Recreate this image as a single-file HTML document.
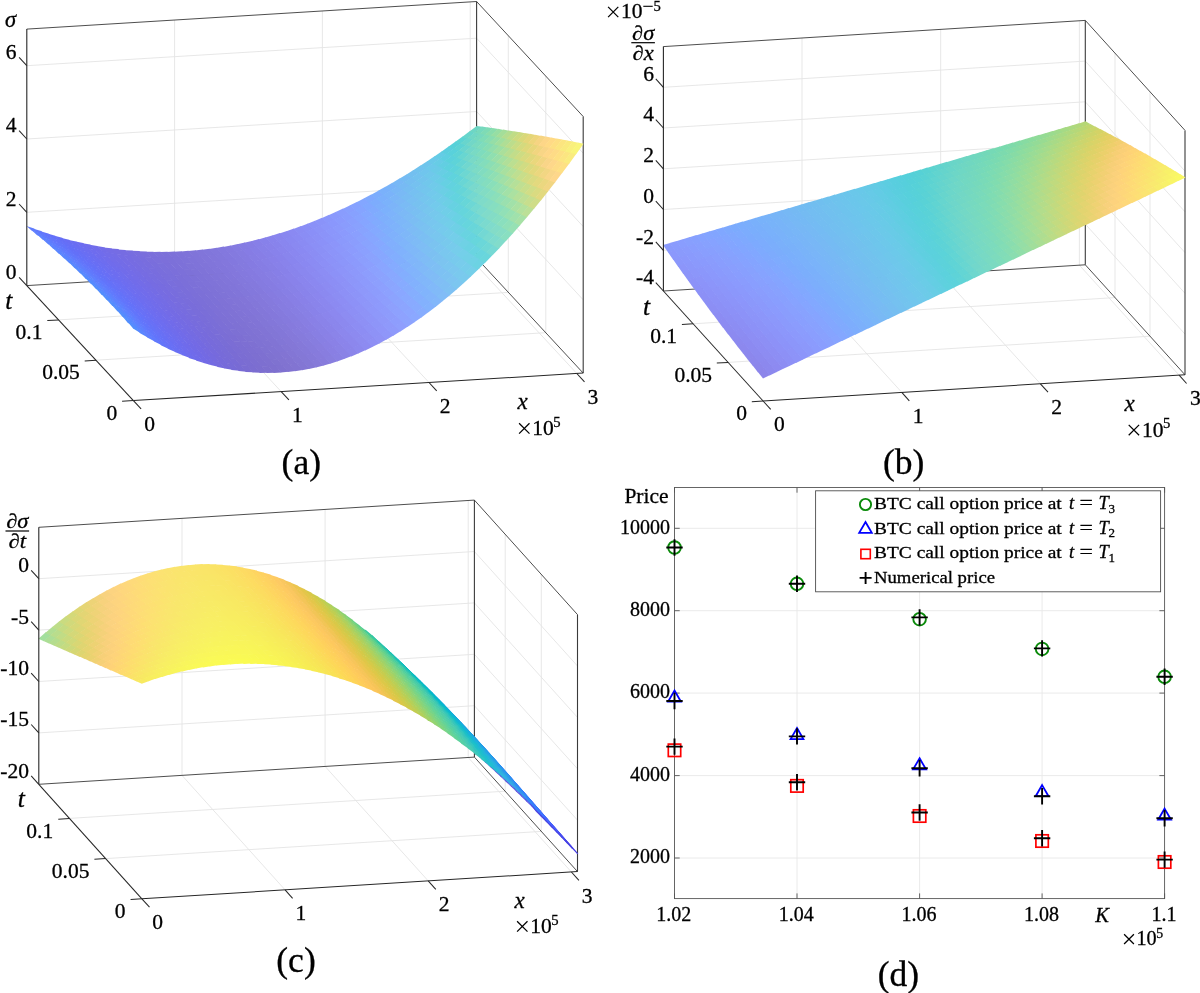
<!DOCTYPE html>
<html lang="en"><head><meta charset="utf-8"><title>Figure</title>
<style>html,body{margin:0;padding:0;background:#fff}svg{display:block;will-change:transform}text{font-family:"Liberation Serif",serif;fill:#000}</style></head><body>
<svg width="1200" height="993" viewBox="0 0 1200 993">
<rect width="1200" height="993" fill="#fff"/>
<g fill="none">
<path d="M281.2 391.6L174.6 276.6" stroke="#e4e4e4" stroke-width="0.9"/>
<path d="M174.6 276.6L174.6 20" stroke="#e4e4e4" stroke-width="0.9"/>
<path d="M429 382.5L322.4 267.5" stroke="#e4e4e4" stroke-width="0.9"/>
<path d="M322.4 267.5L322.4 11" stroke="#e4e4e4" stroke-width="0.9"/>
<path d="M576.8 373.5L470.2 258.5" stroke="#e4e4e4" stroke-width="0.9"/>
<path d="M470.2 258.5L470.2 1.9" stroke="#e4e4e4" stroke-width="0.9"/>
<path d="M96 360.2L545.8 332.7" stroke="#e4e4e4" stroke-width="0.9"/>
<path d="M545.8 332.7L545.8 76.2" stroke="#e4e4e4" stroke-width="0.9"/>
<path d="M58.6 319.9L508.3 292.4" stroke="#e4e4e4" stroke-width="0.9"/>
<path d="M508.3 292.4L508.3 35.8" stroke="#e4e4e4" stroke-width="0.9"/>
<path d="M26.8 212.3L476.6 184.8" stroke="#e4e4e4" stroke-width="0.9"/>
<path d="M476.6 184.8L583.2 299.8" stroke="#e4e4e4" stroke-width="0.9"/>
<path d="M26.8 139L476.6 111.5" stroke="#e4e4e4" stroke-width="0.9"/>
<path d="M476.6 111.5L583.2 226.5" stroke="#e4e4e4" stroke-width="0.9"/>
<path d="M26.8 65.7L476.6 38.2" stroke="#e4e4e4" stroke-width="0.9"/>
<path d="M476.6 38.2L583.2 153.2" stroke="#e4e4e4" stroke-width="0.9"/>
<path d="M26.8 285.6L476.6 258.1" stroke="#3a3a3a" stroke-width="0.9"/>
<path d="M476.6 258.1L583.2 373.1" stroke="#3a3a3a" stroke-width="0.9"/>
<path d="M26.8 29.1L476.6 1.5" stroke="#3a3a3a" stroke-width="0.9"/>
<path d="M476.6 1.5L583.2 116.5" stroke="#3a3a3a" stroke-width="0.9"/>
<path d="M476.6 258.1L476.6 1.5" stroke="#3a3a3a" stroke-width="1.1"/>
<path d="M583.2 373.1L583.2 116.5" stroke="#3a3a3a" stroke-width="1.1"/>
</g>
<g stroke="none">
<path d="M31.8 230.8L39.5 233.6L34.1 228.6L26.4 226z" fill="#607dfd"/>
<path d="M38.8 233.7L46.6 236.2L41.2 231.1L33.4 228.7z" fill="#6178fc"/>
<path d="M45.9 236.3L53.6 238.7L48.2 233.5L40.5 231.2z" fill="#6274fb"/>
<path d="M52.9 238.8L60.6 241L55.2 235.7L47.5 233.6z" fill="#6370f9"/>
<path d="M60 241.2L67.7 243.2L62.2 237.8L54.5 235.8z" fill="#646ef6"/>
<path d="M67 243.4L74.7 245.3L69.2 239.7L61.5 237.9z" fill="#676df4"/>
<path d="M74.1 245.4L81.7 247.2L76.2 241.5L68.6 239.9z" fill="#6a6df2"/>
<path d="M81.1 247.3L88.7 248.9L83.2 243.1L75.6 241.6z" fill="#6c6cf0"/>
<path d="M88.2 249.1L95.8 250.5L90.2 244.6L82.6 243.3z" fill="#6e6ced"/>
<path d="M95.2 250.7L102.8 251.9L97.3 245.9L89.7 244.8z" fill="#706ceb"/>
<path d="M102.2 252.1L109.8 253.2L104.3 247.2L96.7 246.1z" fill="#726ce9"/>
<path d="M109.3 253.4L116.9 254.3L111.3 248.2L103.7 247.4z" fill="#746ce6"/>
<path d="M116.3 254.5L123.9 255.3L118.3 249.1L110.7 248.4z" fill="#756ce4"/>
<path d="M123.3 255.5L130.9 256.2L125.3 249.9L117.8 249.4z" fill="#766ce2"/>
<path d="M130.4 256.4L137.9 256.9L132.4 250.6L124.8 250.2z" fill="#776de0"/>
<path d="M137.4 257.1L145 257.4L139.4 251.1L131.8 250.8z" fill="#796ede"/>
<path d="M144.4 257.6L152 257.8L146.4 251.5L138.8 251.3z" fill="#7a6edc"/>
<path d="M151.5 258.1L159 258.1L153.4 251.7L145.9 251.7z" fill="#7b6fdb"/>
<path d="M158.5 258.3L166.1 258.2L160.4 251.8L152.9 251.9z" fill="#7c70da"/>
<path d="M165.5 258.4L173.1 258.2L167.5 251.7L159.9 252z" fill="#7c70d9"/>
<path d="M172.6 258.4L180.1 258L174.5 251.6L166.9 252z" fill="#7d71d9"/>
<path d="M179.6 258.3L187.1 257.7L181.5 251.3L174 251.8z" fill="#7e72d9"/>
<path d="M186.6 258L194.2 257.3L188.5 250.8L181 251.5z" fill="#7f73d9"/>
<path d="M193.6 257.5L201.2 256.7L195.6 250.2L188 251.1z" fill="#8074d9"/>
<path d="M200.7 256.9L208.2 256L202.6 249.5L195 250.5z" fill="#8175da"/>
<path d="M207.7 256.2L215.3 255.1L209.6 248.7L202.1 249.8z" fill="#8176db"/>
<path d="M214.7 255.4L222.3 254.1L216.6 247.7L209.1 249z" fill="#8277dc"/>
<path d="M221.8 254.4L229.3 253L223.7 246.6L216.1 248z" fill="#8378de"/>
<path d="M228.8 253.2L236.3 251.7L230.7 245.4L223.1 246.9z" fill="#8479df"/>
<path d="M235.8 252L243.4 250.3L237.7 244L230.2 245.7z" fill="#857be1"/>
<path d="M242.8 250.6L250.4 248.7L244.8 242.5L237.2 244.3z" fill="#857ce3"/>
<path d="M249.9 249L257.4 247.1L251.8 240.9L244.2 242.8z" fill="#867de5"/>
<path d="M256.9 247.4L264.5 245.2L258.8 239.1L251.2 241.2z" fill="#877fe8"/>
<path d="M263.9 245.5L271.5 243.3L265.8 237.3L258.3 239.5z" fill="#8781ea"/>
<path d="M271 243.6L278.5 241.2L272.9 235.3L265.3 237.6z" fill="#8883ec"/>
<path d="M278 241.5L285.6 239L279.9 233.1L272.3 235.6z" fill="#8985ee"/>
<path d="M285 239.3L292.6 236.7L286.9 230.9L279.4 233.5z" fill="#8987f0"/>
<path d="M292 237L299.6 234.2L293.9 228.5L286.4 231.2z" fill="#8a89f2"/>
<path d="M299.1 234.5L306.6 231.6L301 226L293.4 228.9z" fill="#8a8cf4"/>
<path d="M306.1 232L313.7 228.9L308 223.4L300.4 226.4z" fill="#8a8ef6"/>
<path d="M313.1 229.2L320.7 226L315 220.7L307.5 223.8z" fill="#8a91f8"/>
<path d="M320.2 226.4L327.7 223.1L322 217.8L314.5 221z" fill="#8a93f9"/>
<path d="M327.2 223.4L334.8 219.9L329.1 214.8L321.5 218.2z" fill="#8a96fb"/>
<path d="M334.2 220.3L341.8 216.7L336.1 211.7L328.5 215.2z" fill="#8a99fc"/>
<path d="M341.2 217.1L348.8 213.4L343.1 208.5L335.6 212.1z" fill="#899cfd"/>
<path d="M348.3 213.8L355.8 209.9L350.2 205.2L342.6 208.9z" fill="#889ffe"/>
<path d="M355.3 210.3L362.9 206.3L357.2 201.7L349.6 205.6z" fill="#86a2ff"/>
<path d="M362.3 206.7L369.9 202.5L364.2 198.2L356.6 202.2z" fill="#83a6ff"/>
<path d="M369.3 203L376.9 198.7L371.2 194.5L363.7 198.6z" fill="#7fa9fe"/>
<path d="M376.4 199.1L384 194.7L378.3 190.7L370.7 194.9z" fill="#7cadfd"/>
<path d="M383.4 195.2L391 190.6L385.3 186.8L377.7 191.1z" fill="#7ab1fb"/>
<path d="M390.4 191.1L398 186.4L392.3 182.8L384.7 187.2z" fill="#79b4f9"/>
<path d="M397.5 186.9L405 182.1L399.4 178.6L391.8 183.2z" fill="#78b8f6"/>
<path d="M404.5 182.6L412.1 177.7L406.4 174.4L398.8 179.1z" fill="#75bbf3"/>
<path d="M411.5 178.1L419.1 173.1L413.4 170L405.8 174.9z" fill="#73bff0"/>
<path d="M418.5 173.6L426.1 168.4L420.4 165.5L412.9 170.5z" fill="#71c2ee"/>
<path d="M425.6 168.9L433.1 163.6L427.5 160.9L419.9 166z" fill="#6ec5ec"/>
<path d="M432.6 164.1L440.2 158.7L434.5 156.3L426.9 161.5z" fill="#6ac9e9"/>
<path d="M439.6 159.2L447.2 153.7L441.5 151.5L434 156.8z" fill="#64cce5"/>
<path d="M446.6 154.2L454.2 148.5L448.6 146.5L441 152z" fill="#5bcedf"/>
<path d="M453.7 149.1L461.2 143.3L455.6 141.5L448 147.1z" fill="#57d1d9"/>
<path d="M460.7 143.8L468.3 137.9L462.6 136.4L455 142.1z" fill="#5cd3d3"/>
<path d="M467.7 138.5L475.3 132.4L469.6 131.2L462.1 137z" fill="#67d5cb"/>
<path d="M474.7 133L482.3 126.8L476.7 125.9L469.1 131.8z" fill="#6ed6c4"/>
<path d="M37.1 235.2L44.9 238L39.5 233L31.7 230.3z" fill="#5f7ffe"/>
<path d="M44.2 238.1L51.9 240.8L46.5 235.6L38.8 233.1z" fill="#617afd"/>
<path d="M51.2 240.9L58.9 243.4L53.5 238.1L45.8 235.8z" fill="#6276fb"/>
<path d="M58.3 243.6L66 245.9L60.5 240.5L52.8 238.3z" fill="#6372f9"/>
<path d="M65.3 246L73 248.2L67.5 242.6L59.8 240.6z" fill="#646ff7"/>
<path d="M72.4 248.3L80 250.3L74.5 244.7L66.9 242.8z" fill="#676ef5"/>
<path d="M79.4 250.5L87 252.3L81.5 246.5L73.9 244.8z" fill="#696df3"/>
<path d="M86.4 252.5L94.1 254.1L88.5 248.3L80.9 246.7z" fill="#6c6df0"/>
<path d="M93.5 254.3L101.1 255.8L95.6 249.9L88 248.5z" fill="#6e6cee"/>
<path d="M100.5 256L108.1 257.3L102.6 251.3L95 250z" fill="#706cec"/>
<path d="M107.6 257.5L115.2 258.7L109.6 252.6L102 251.5z" fill="#726ce9"/>
<path d="M114.6 258.9L122.2 259.9L116.6 253.7L109 252.8z" fill="#736ce7"/>
<path d="M121.6 260.1L129.2 260.9L123.6 254.7L116.1 253.9z" fill="#756ce4"/>
<path d="M128.7 261.1L136.2 261.8L130.7 255.5L123.1 254.9z" fill="#766ce2"/>
<path d="M135.7 262L143.3 262.6L137.7 256.2L130.1 255.8z" fill="#776de0"/>
<path d="M142.7 262.8L150.3 263.2L144.7 256.8L137.1 256.5z" fill="#786dde"/>
<path d="M149.8 263.4L157.3 263.6L151.7 257.2L144.2 257z" fill="#7a6edc"/>
<path d="M156.8 263.8L164.4 263.9L158.8 257.5L151.2 257.4z" fill="#7b6fdb"/>
<path d="M163.8 264.1L171.4 264L165.8 257.6L158.2 257.7z" fill="#7c6fda"/>
<path d="M170.9 264.3L178.4 264L172.8 257.6L165.2 257.8z" fill="#7c70d9"/>
<path d="M177.9 264.3L185.4 263.9L179.8 257.4L172.3 257.8z" fill="#7d71d9"/>
<path d="M184.9 264.1L192.5 263.6L186.9 257.1L179.3 257.7z" fill="#7e72d9"/>
<path d="M191.9 263.8L199.5 263.1L193.9 256.7L186.3 257.4z" fill="#7f73d9"/>
<path d="M199 263.4L206.5 262.5L200.9 256.1L193.3 256.9z" fill="#8074d9"/>
<path d="M206 262.8L213.6 261.8L207.9 255.4L200.4 256.3z" fill="#8175da"/>
<path d="M213 262.1L220.6 260.9L215 254.5L207.4 255.6z" fill="#8276db"/>
<path d="M220.1 261.2L227.6 259.9L222 253.5L214.4 254.8z" fill="#8277dc"/>
<path d="M227.1 260.2L234.6 258.7L229 252.4L221.4 253.8z" fill="#8378de"/>
<path d="M234.1 259L241.7 257.4L236 251.1L228.5 252.6z" fill="#847adf"/>
<path d="M241.2 257.7L248.7 256L243.1 249.7L235.5 251.4z" fill="#857be1"/>
<path d="M248.2 256.3L255.7 254.4L250.1 248.1L242.5 250z" fill="#867ce4"/>
<path d="M255.2 254.7L262.8 252.6L257.1 246.5L249.6 248.5z" fill="#867ee6"/>
<path d="M262.2 252.9L269.8 250.8L264.1 244.7L256.6 246.8z" fill="#8780e8"/>
<path d="M269.3 251.1L276.8 248.8L271.2 242.7L263.6 245z" fill="#8881ea"/>
<path d="M276.3 249.1L283.9 246.6L278.2 240.7L270.6 243.1z" fill="#8883ec"/>
<path d="M283.3 246.9L290.9 244.3L285.2 238.5L277.7 241z" fill="#8986ef"/>
<path d="M290.4 244.7L297.9 241.9L292.2 236.1L284.7 238.8z" fill="#8988f1"/>
<path d="M297.4 242.2L304.9 239.3L299.3 233.7L291.7 236.5z" fill="#8a8af3"/>
<path d="M304.4 239.7L312 236.7L306.3 231.1L298.7 234z" fill="#8a8df5"/>
<path d="M311.4 237L319 233.8L313.3 228.4L305.8 231.4z" fill="#8a8ff7"/>
<path d="M318.5 234.2L326 230.9L320.4 225.5L312.8 228.7z" fill="#8b92f8"/>
<path d="M325.5 231.2L333.1 227.8L327.4 222.5L319.8 225.9z" fill="#8b95fa"/>
<path d="M332.5 228.2L340.1 224.5L334.4 219.4L326.8 222.9z" fill="#8a97fc"/>
<path d="M339.5 224.9L347.1 221.2L341.4 216.2L333.9 219.8z" fill="#8a9afd"/>
<path d="M346.6 221.6L354.1 217.7L348.5 212.9L340.9 216.6z" fill="#899dfe"/>
<path d="M353.6 218.1L361.2 214.1L355.5 209.4L347.9 213.3z" fill="#87a1fe"/>
<path d="M360.6 214.5L368.2 210.3L362.5 205.8L354.9 209.8z" fill="#85a4ff"/>
<path d="M367.7 210.8L375.2 206.5L369.5 202.1L362 206.2z" fill="#81a8ff"/>
<path d="M374.7 206.9L382.3 202.5L376.6 198.3L369 202.5z" fill="#7dacfd"/>
<path d="M381.7 202.9L389.3 198.3L383.6 194.3L376 198.7z" fill="#7bb0fc"/>
<path d="M388.7 198.8L396.3 194.1L390.6 190.2L383.1 194.8z" fill="#7ab3fa"/>
<path d="M395.8 194.5L403.3 189.7L397.7 186L390.1 190.7z" fill="#79b7f7"/>
<path d="M402.8 190.2L410.4 185.2L404.7 181.7L397.1 186.5z" fill="#77baf4"/>
<path d="M409.8 185.7L417.4 180.6L411.7 177.3L404.1 182.2z" fill="#75bef1"/>
<path d="M416.8 181.1L424.4 175.8L418.7 172.7L411.2 177.8z" fill="#73c2ef"/>
<path d="M423.9 176.3L431.4 170.9L425.8 168L418.2 173.2z" fill="#70c5ed"/>
<path d="M430.9 171.4L438.5 165.9L432.8 163.3L425.2 168.6z" fill="#6cc9ea"/>
<path d="M437.9 166.5L445.5 160.8L439.8 158.4L432.3 163.8z" fill="#67cce6"/>
<path d="M444.9 161.3L452.5 155.6L446.9 153.3L439.3 158.9z" fill="#5ecfe1"/>
<path d="M452 156.1L459.5 150.2L453.9 148.2L446.3 153.9z" fill="#59d1db"/>
<path d="M459 150.8L466.6 144.7L460.9 143L453.3 148.8z" fill="#5dd3d4"/>
<path d="M466 145.3L473.6 139.1L467.9 137.6L460.4 143.5z" fill="#68d5cd"/>
<path d="M473.1 139.7L480.6 133.4L475 132.2L467.4 138.2z" fill="#71d7c5"/>
<path d="M480.1 134L487.6 127.6L482 126.6L474.4 132.7z" fill="#76d9bd"/>
<path d="M42.4 239.6L50.2 242.6L44.8 237.5L37.1 234.6z" fill="#5e81fe"/>
<path d="M49.5 242.7L57.2 245.5L51.8 240.3L44.1 237.6z" fill="#607cfd"/>
<path d="M56.6 245.6L64.3 248.2L58.8 242.9L51.1 240.4z" fill="#6277fc"/>
<path d="M63.6 248.4L71.3 250.8L65.8 245.3L58.2 243z" fill="#6273fa"/>
<path d="M70.7 250.9L78.3 253.2L72.8 247.6L65.2 245.4z" fill="#636ff8"/>
<path d="M77.7 253.4L85.3 255.4L79.9 249.7L72.2 247.7z" fill="#666ef6"/>
<path d="M84.7 255.6L92.4 257.5L86.9 251.7L79.2 249.9z" fill="#696ef3"/>
<path d="M91.8 257.7L99.4 259.4L93.9 253.5L86.3 251.9z" fill="#6b6df1"/>
<path d="M98.8 259.6L106.4 261.2L100.9 255.2L93.3 253.7z" fill="#6e6cee"/>
<path d="M105.9 261.4L113.5 262.8L107.9 256.7L100.3 255.4z" fill="#706cec"/>
<path d="M112.9 262.9L120.5 264.2L114.9 258L107.3 256.9z" fill="#726ce9"/>
<path d="M119.9 264.4L127.5 265.4L122 259.2L114.4 258.2z" fill="#736ce7"/>
<path d="M127 265.6L134.5 266.5L129 260.3L121.4 259.4z" fill="#756ce5"/>
<path d="M134 266.8L141.6 267.5L136 261.2L128.4 260.5z" fill="#766ce2"/>
<path d="M141 267.7L148.6 268.3L143 261.9L135.4 261.4z" fill="#776de0"/>
<path d="M148.1 268.5L155.6 268.9L150 262.5L142.5 262.1z" fill="#786dde"/>
<path d="M155.1 269.1L162.7 269.4L157.1 263L149.5 262.7z" fill="#796edc"/>
<path d="M162.1 269.6L169.7 269.7L164.1 263.3L156.5 263.2z" fill="#7a6fdb"/>
<path d="M169.2 269.9L176.7 269.9L171.1 263.4L163.5 263.5z" fill="#7b6fda"/>
<path d="M176.2 270.1L183.7 269.9L178.1 263.4L170.6 263.6z" fill="#7c70d9"/>
<path d="M183.2 270.1L190.8 269.7L185.2 263.3L177.6 263.6z" fill="#7d71d9"/>
<path d="M190.2 270L197.8 269.4L192.2 263L184.6 263.5z" fill="#7e72d8"/>
<path d="M197.3 269.7L204.8 269L199.2 262.5L191.7 263.2z" fill="#7f73d9"/>
<path d="M204.3 269.2L211.9 268.4L206.2 261.9L198.7 262.8z" fill="#8074d9"/>
<path d="M211.3 268.7L218.9 267.6L213.3 261.2L205.7 262.2z" fill="#8175da"/>
<path d="M218.4 267.9L225.9 266.7L220.3 260.3L212.7 261.5z" fill="#8276db"/>
<path d="M225.4 267L233 265.7L227.3 259.3L219.8 260.6z" fill="#8377dc"/>
<path d="M232.4 266L240 264.5L234.3 258.1L226.8 259.6z" fill="#8378de"/>
<path d="M239.5 264.8L247 263.1L241.4 256.8L233.8 258.4z" fill="#847adf"/>
<path d="M246.5 263.4L254 261.7L248.4 255.4L240.8 257.1z" fill="#857be1"/>
<path d="M253.5 261.9L261.1 260L255.4 253.8L247.9 255.7z" fill="#867de4"/>
<path d="M260.5 260.3L268.1 258.2L262.4 252.1L254.9 254.1z" fill="#877ee6"/>
<path d="M267.6 258.5L275.1 256.3L269.5 250.2L261.9 252.4z" fill="#8780e8"/>
<path d="M274.6 256.6L282.2 254.2L276.5 248.2L268.9 250.5z" fill="#8882eb"/>
<path d="M281.6 254.5L289.2 252L283.5 246.1L276 248.5z" fill="#8984ed"/>
<path d="M288.7 252.3L296.2 249.6L290.5 243.8L283 246.4z" fill="#8986ef"/>
<path d="M295.7 250L303.2 247.1L297.6 241.4L290 244.1z" fill="#8a89f1"/>
<path d="M302.7 247.5L310.3 244.5L304.6 238.8L297 241.7z" fill="#8a8bf3"/>
<path d="M309.7 244.8L317.3 241.7L311.6 236.1L304.1 239.2z" fill="#8b8ef5"/>
<path d="M316.8 242L324.3 238.8L318.7 233.3L311.1 236.5z" fill="#8b90f7"/>
<path d="M323.8 239.1L331.4 235.7L325.7 230.4L318.1 233.7z" fill="#8b93f9"/>
<path d="M330.8 236.1L338.4 232.5L332.7 227.3L325.1 230.7z" fill="#8b96fb"/>
<path d="M337.8 232.9L345.4 229.1L339.7 224.1L332.2 227.7z" fill="#8b99fc"/>
<path d="M344.9 229.5L352.4 225.7L346.8 220.7L339.2 224.5z" fill="#8a9cfd"/>
<path d="M351.9 226.1L359.5 222L353.8 217.2L346.2 221.1z" fill="#899ffe"/>
<path d="M358.9 222.5L366.5 218.3L360.8 213.6L353.2 217.6z" fill="#87a3ff"/>
<path d="M366 218.7L373.5 214.4L367.8 209.9L360.3 214z" fill="#84a7ff"/>
<path d="M373 214.8L380.6 210.4L374.9 206L367.3 210.3z" fill="#80aafe"/>
<path d="M380 210.8L387.6 206.2L381.9 202L374.3 206.5z" fill="#7daefc"/>
<path d="M387 206.7L394.6 201.9L388.9 197.9L381.4 202.5z" fill="#7bb2fb"/>
<path d="M394.1 202.4L401.6 197.5L396 193.7L388.4 198.4z" fill="#7bb6f8"/>
<path d="M401.1 198L408.7 193L403 189.3L395.4 194.1z" fill="#79b9f5"/>
<path d="M408.1 193.4L415.7 188.3L410 184.8L402.4 189.8z" fill="#76bdf2"/>
<path d="M415.1 188.8L422.7 183.5L417 180.2L409.5 185.3z" fill="#75c1f0"/>
<path d="M422.2 184L429.7 178.5L424.1 175.4L416.5 180.7z" fill="#72c4ed"/>
<path d="M429.2 179L436.8 173.4L431.1 170.6L423.5 176z" fill="#6fc8eb"/>
<path d="M436.2 174L443.8 168.2L438.1 165.6L430.6 171.1z" fill="#6acbe7"/>
<path d="M443.3 168.8L450.8 162.9L445.2 160.5L437.6 166.1z" fill="#62cee2"/>
<path d="M450.3 163.5L457.8 157.5L452.2 155.2L444.6 161z" fill="#5bd1dc"/>
<path d="M457.3 158L464.9 151.9L459.2 149.9L451.6 155.8z" fill="#5ed3d6"/>
<path d="M464.3 152.5L471.9 146.2L466.2 144.4L458.7 150.5z" fill="#69d5cf"/>
<path d="M471.4 146.8L478.9 140.4L473.3 138.8L465.7 145z" fill="#72d7c7"/>
<path d="M478.4 140.9L485.9 134.4L480.3 133.1L472.7 139.4z" fill="#77d9bf"/>
<path d="M485.4 135L493 128.3L487.3 127.3L479.8 133.7z" fill="#7edbb5"/>
<path d="M47.8 244.1L55.5 247.3L50.2 242.1L42.4 239.1z" fill="#5c82fe"/>
<path d="M54.8 247.3L62.6 250.3L57.2 244.9L49.4 242.1z" fill="#607dfe"/>
<path d="M61.9 250.4L69.6 253.1L64.2 247.7L56.5 245z" fill="#6179fc"/>
<path d="M68.9 253.2L76.6 255.8L71.2 250.2L63.5 247.8z" fill="#6274fb"/>
<path d="M76 255.9L83.6 258.3L78.2 252.6L70.5 250.3z" fill="#6370f8"/>
<path d="M83 258.4L90.7 260.6L85.2 254.8L77.5 252.7z" fill="#666ff6"/>
<path d="M90.1 260.8L97.7 262.8L92.2 256.9L84.6 255z" fill="#696ef4"/>
<path d="M97.1 262.9L104.7 264.8L99.2 258.8L91.6 257.1z" fill="#6b6df1"/>
<path d="M104.1 264.9L111.8 266.6L106.2 260.5L98.6 259z" fill="#6d6def"/>
<path d="M111.2 266.8L118.8 268.2L113.2 262.1L105.6 260.7z" fill="#706cec"/>
<path d="M118.2 268.4L125.8 269.7L120.3 263.5L112.7 262.3z" fill="#716cea"/>
<path d="M125.3 269.9L132.8 271.1L127.3 264.8L119.7 263.7z" fill="#736ce7"/>
<path d="M132.3 271.3L139.9 272.2L134.3 265.9L126.7 265z" fill="#756ce5"/>
<path d="M139.3 272.4L146.9 273.2L141.3 266.9L133.8 266.1z" fill="#766ce2"/>
<path d="M146.4 273.4L153.9 274L148.3 267.6L140.8 267.1z" fill="#776de0"/>
<path d="M153.4 274.3L161 274.7L155.4 268.3L147.8 267.9z" fill="#786dde"/>
<path d="M160.4 274.9L168 275.2L162.4 268.8L154.8 268.5z" fill="#796edc"/>
<path d="M167.5 275.4L175 275.6L169.4 269.1L161.9 269z" fill="#7a6fdb"/>
<path d="M174.5 275.8L182 275.7L176.4 269.2L168.9 269.3z" fill="#7b6fda"/>
<path d="M181.5 276L189.1 275.8L183.5 269.3L175.9 269.5z" fill="#7c70d9"/>
<path d="M188.5 276L196.1 275.6L190.5 269.1L182.9 269.5z" fill="#7d71d8"/>
<path d="M195.6 275.9L203.1 275.3L197.5 268.8L190 269.4z" fill="#7e72d8"/>
<path d="M202.6 275.6L210.2 274.9L204.5 268.4L197 269.1z" fill="#7f73d8"/>
<path d="M209.6 275.1L217.2 274.3L211.6 267.8L204 268.6z" fill="#8074d9"/>
<path d="M216.7 274.5L224.2 273.5L218.6 267L211 268z" fill="#8175da"/>
<path d="M223.7 273.8L231.3 272.6L225.6 266.1L218.1 267.3z" fill="#8276db"/>
<path d="M230.7 272.8L238.3 271.5L232.6 265.1L225.1 266.4z" fill="#8377dc"/>
<path d="M237.8 271.8L245.3 270.3L239.7 263.9L232.1 265.4z" fill="#8479de"/>
<path d="M244.8 270.6L252.3 268.9L246.7 262.6L239.1 264.2z" fill="#847adf"/>
<path d="M251.8 269.2L259.4 267.3L253.7 261.1L246.2 262.8z" fill="#857be2"/>
<path d="M258.8 267.6L266.4 265.7L260.7 259.4L253.2 261.4z" fill="#867de4"/>
<path d="M265.9 266L273.4 263.8L267.8 257.7L260.2 259.7z" fill="#877fe6"/>
<path d="M272.9 264.1L280.5 261.8L274.8 255.7L267.2 258z" fill="#8880e9"/>
<path d="M279.9 262.1L287.5 259.7L281.8 253.7L274.3 256z" fill="#8882eb"/>
<path d="M287 260L294.5 257.4L288.8 251.4L281.3 254z" fill="#8985ed"/>
<path d="M294 257.7L301.5 254.9L295.9 249.1L288.3 251.8z" fill="#8a87f0"/>
<path d="M301 255.3L308.6 252.3L302.9 246.6L295.3 249.4z" fill="#8a89f2"/>
<path d="M308 252.7L315.6 249.6L309.9 243.9L302.4 246.9z" fill="#8b8cf4"/>
<path d="M315.1 250L322.6 246.7L317 241.2L309.4 244.3z" fill="#8b8ff6"/>
<path d="M322.1 247.1L329.7 243.7L324 238.2L316.4 241.5z" fill="#8b91f8"/>
<path d="M329.1 244.1L336.7 240.5L331 235.2L323.4 238.6z" fill="#8b94fa"/>
<path d="M336.2 240.9L343.7 237.2L338 232L330.5 235.6z" fill="#8b97fb"/>
<path d="M343.2 237.6L350.7 233.7L345.1 228.7L337.5 232.4z" fill="#8b9afd"/>
<path d="M350.2 234.1L357.8 230.1L352.1 225.2L344.5 229.1z" fill="#8a9efe"/>
<path d="M357.2 230.5L364.8 226.4L359.1 221.6L351.5 225.6z" fill="#89a1fe"/>
<path d="M364.3 226.8L371.8 222.5L366.1 217.8L358.6 222z" fill="#86a5ff"/>
<path d="M371.3 222.9L378.9 218.5L373.2 214L365.6 218.3z" fill="#83a9ff"/>
<path d="M378.3 218.9L385.9 214.3L380.2 209.9L372.6 214.4z" fill="#7fadfd"/>
<path d="M385.3 214.7L392.9 210L387.2 205.8L379.7 210.4z" fill="#7cb1fc"/>
<path d="M392.4 210.4L399.9 205.5L394.3 201.5L386.7 206.3z" fill="#7cb4f9"/>
<path d="M399.4 206L407 200.9L401.3 197.1L393.7 202z" fill="#7bb8f6"/>
<path d="M406.4 201.4L414 196.2L408.3 192.6L400.7 197.6z" fill="#78bcf3"/>
<path d="M413.5 196.7L421 191.4L415.3 187.9L407.8 193.1z" fill="#76c0f1"/>
<path d="M420.5 191.9L428 186.4L422.4 183.1L414.8 188.4z" fill="#74c4ee"/>
<path d="M427.5 186.9L435.1 181.2L429.4 178.2L421.8 183.6z" fill="#71c7ec"/>
<path d="M434.5 181.8L442.1 176L436.4 173.1L428.9 178.7z" fill="#6dcbe9"/>
<path d="M441.6 176.5L449.1 170.6L443.5 167.9L435.9 173.6z" fill="#67cee4"/>
<path d="M448.6 171.1L456.1 165L450.5 162.6L442.9 168.5z" fill="#5ed1de"/>
<path d="M455.6 165.6L463.2 159.4L457.5 157.1L449.9 163.1z" fill="#5ed3d8"/>
<path d="M462.6 159.9L470.2 153.6L464.5 151.6L457 157.7z" fill="#68d6d1"/>
<path d="M469.7 154.2L477.2 147.7L471.6 145.9L464 152.2z" fill="#73d7c9"/>
<path d="M476.7 148.2L484.2 141.6L478.6 140.1L471 146.5z" fill="#79dac1"/>
<path d="M483.7 142.2L491.3 135.4L485.6 134.1L478.1 140.7z" fill="#7fdcb7"/>
<path d="M490.7 136L498.3 129.1L492.7 128.1L485.1 134.7z" fill="#89ddac"/>
<path d="M53.1 248.7L60.9 252L55.5 246.7L47.7 243.6z" fill="#5b83ff"/>
<path d="M60.2 252.1L67.9 255.1L62.5 249.7L54.8 246.8z" fill="#5f7ffe"/>
<path d="M67.2 255.2L74.9 258.1L69.5 252.5L61.8 249.8z" fill="#617afd"/>
<path d="M74.3 258.2L81.9 260.8L76.5 255.2L68.8 252.6z" fill="#6275fb"/>
<path d="M81.3 261L89 263.4L83.5 257.7L75.8 255.3z" fill="#6371f9"/>
<path d="M88.4 263.6L96 265.9L90.5 260L82.9 257.8z" fill="#666ff7"/>
<path d="M95.4 266L103 268.1L97.5 262.2L89.9 260.2z" fill="#686ef4"/>
<path d="M102.4 268.3L110.1 270.2L104.5 264.1L96.9 262.3z" fill="#6b6ef2"/>
<path d="M109.5 270.3L117.1 272.1L111.6 266L104 264.3z" fill="#6d6def"/>
<path d="M116.5 272.2L124.1 273.8L118.6 267.6L111 266.1z" fill="#6f6ced"/>
<path d="M123.5 274L131.1 275.3L125.6 269.1L118 267.8z" fill="#716cea"/>
<path d="M130.6 275.5L138.2 276.7L132.6 270.4L125 269.3z" fill="#736ce8"/>
<path d="M137.6 276.9L145.2 277.9L139.6 271.6L132.1 270.6z" fill="#746ce5"/>
<path d="M144.7 278.1L152.2 279L146.7 272.6L139.1 271.8z" fill="#766ce2"/>
<path d="M151.7 279.2L159.3 279.8L153.7 273.4L146.1 272.8z" fill="#776de0"/>
<path d="M158.7 280L166.3 280.5L160.7 274.1L153.1 273.6z" fill="#786dde"/>
<path d="M165.8 280.8L173.3 281.1L167.7 274.6L160.2 274.3z" fill="#796edc"/>
<path d="M172.8 281.3L180.3 281.4L174.7 274.9L167.2 274.8z" fill="#7a6fdb"/>
<path d="M179.8 281.7L187.4 281.6L181.8 275.1L174.2 275.2z" fill="#7b6fd9"/>
<path d="M186.8 281.9L194.4 281.7L188.8 275.1L181.2 275.3z" fill="#7c70d9"/>
<path d="M193.9 281.9L201.4 281.5L195.8 275L188.3 275.4z" fill="#7d71d8"/>
<path d="M200.9 281.8L208.5 281.2L202.8 274.7L195.3 275.3z" fill="#7e72d8"/>
<path d="M207.9 281.5L215.5 280.8L209.9 274.3L202.3 275z" fill="#7f73d8"/>
<path d="M215 281L222.5 280.2L216.9 273.7L209.3 274.5z" fill="#8074d9"/>
<path d="M222 280.4L229.6 279.4L223.9 272.9L216.4 273.9z" fill="#8175d9"/>
<path d="M229 279.6L236.6 278.4L230.9 272L223.4 273.2z" fill="#8276db"/>
<path d="M236.1 278.7L243.6 277.3L238 270.9L230.4 272.3z" fill="#8377dc"/>
<path d="M243.1 277.6L250.6 276.1L245 269.7L237.4 271.2z" fill="#8479de"/>
<path d="M250.1 276.3L257.7 274.6L252 268.3L244.5 270z" fill="#857ae0"/>
<path d="M257.1 274.9L264.7 273L259 266.8L251.5 268.6z" fill="#867ce2"/>
<path d="M264.2 273.3L271.7 271.3L266.1 265.1L258.5 267.1z" fill="#867de4"/>
<path d="M271.2 271.6L278.8 269.4L273.1 263.2L265.5 265.4z" fill="#877fe6"/>
<path d="M278.2 269.7L285.8 267.3L280.1 261.3L272.6 263.6z" fill="#8881e9"/>
<path d="M285.3 267.7L292.8 265.1L287.2 259.1L279.6 261.6z" fill="#8983eb"/>
<path d="M292.3 265.4L299.8 262.8L294.2 256.8L286.6 259.4z" fill="#8985ee"/>
<path d="M299.3 263.1L306.9 260.2L301.2 254.4L293.6 257.2z" fill="#8a88f0"/>
<path d="M306.3 260.6L313.9 257.6L308.2 251.8L300.7 254.7z" fill="#8b8af2"/>
<path d="M313.4 257.9L320.9 254.7L315.3 249.1L307.7 252.2z" fill="#8b8df4"/>
<path d="M320.4 255.1L328 251.7L322.3 246.2L314.7 249.4z" fill="#8b90f6"/>
<path d="M327.4 252.1L335 248.6L329.3 243.2L321.7 246.6z" fill="#8c93f8"/>
<path d="M334.5 249L342 245.3L336.3 240L328.8 243.6z" fill="#8c95fa"/>
<path d="M341.5 245.7L349 241.9L343.4 236.7L335.8 240.4z" fill="#8b99fc"/>
<path d="M348.5 242.3L356.1 238.3L350.4 233.2L342.8 237.1z" fill="#8b9cfd"/>
<path d="M355.5 238.7L363.1 234.6L357.4 229.7L349.9 233.7z" fill="#8a9ffe"/>
<path d="M362.6 235L370.1 230.7L364.4 225.9L356.9 230.1z" fill="#88a3fe"/>
<path d="M369.6 231.1L377.2 226.7L371.5 222L363.9 226.3z" fill="#85a7ff"/>
<path d="M376.6 227.1L384.2 222.5L378.5 218L370.9 222.5z" fill="#81abfe"/>
<path d="M383.6 223L391.2 218.2L385.5 213.9L378 218.5z" fill="#7eaffc"/>
<path d="M390.7 218.6L398.2 213.7L392.6 209.6L385 214.3z" fill="#7db3fb"/>
<path d="M397.7 214.2L405.3 209.1L399.6 205.1L392 210z" fill="#7cb7f8"/>
<path d="M404.7 209.6L412.3 204.4L406.6 200.5L399 205.6z" fill="#7abbf5"/>
<path d="M411.8 204.9L419.3 199.5L413.6 195.8L406.1 201z" fill="#78bff2"/>
<path d="M418.8 200L426.3 194.4L420.7 191L413.1 196.3z" fill="#76c2ef"/>
<path d="M425.8 194.9L433.4 189.3L427.7 186L420.1 191.5z" fill="#73c6ed"/>
<path d="M432.8 189.8L440.4 183.9L434.7 180.9L427.2 186.5z" fill="#70caea"/>
<path d="M439.9 184.5L447.4 178.5L441.8 175.6L434.2 181.4z" fill="#6acde6"/>
<path d="M446.9 179L454.4 172.9L448.8 170.2L441.2 176.2z" fill="#62d0e1"/>
<path d="M453.9 173.4L461.5 167.2L455.8 164.7L448.2 170.8z" fill="#5ed3da"/>
<path d="M460.9 167.7L468.5 161.3L462.8 159.1L455.3 165.3z" fill="#66d5d3"/>
<path d="M468 161.9L475.5 155.3L469.9 153.3L462.3 159.6z" fill="#72d7cc"/>
<path d="M475 155.9L482.5 149.1L476.9 147.4L469.3 153.9z" fill="#79dac4"/>
<path d="M482 149.7L489.6 142.8L483.9 141.3L476.4 148z" fill="#7fdcbb"/>
<path d="M489.1 143.5L496.6 136.4L490.9 135.1L483.4 141.9z" fill="#89ddb0"/>
<path d="M496.1 137L503.6 129.9L498 128.8L490.4 135.8z" fill="#96dea3"/>
<path d="M58.4 253.4L66.2 256.8L60.8 251.5L53.1 248.2z" fill="#5985ff"/>
<path d="M65.5 256.9L73.2 260.1L67.8 254.6L60.1 251.5z" fill="#5e80fe"/>
<path d="M72.5 260.1L80.2 263.1L74.8 257.5L67.1 254.6z" fill="#617bfd"/>
<path d="M79.6 263.2L87.3 266L81.8 260.2L74.2 257.6z" fill="#6276fb"/>
<path d="M86.6 266.1L94.3 268.7L88.8 262.8L81.2 260.4z" fill="#6372f9"/>
<path d="M93.7 268.8L101.3 271.2L95.8 265.2L88.2 263z" fill="#6570f7"/>
<path d="M100.7 271.3L108.4 273.5L102.9 267.5L95.2 265.4z" fill="#686ff5"/>
<path d="M107.8 273.6L115.4 275.6L109.9 269.5L102.3 267.6z" fill="#6b6ef2"/>
<path d="M114.8 275.8L122.4 277.6L116.9 271.4L109.3 269.7z" fill="#6d6df0"/>
<path d="M121.8 277.8L129.4 279.4L123.9 273.2L116.3 271.6z" fill="#6f6ded"/>
<path d="M128.9 279.6L136.5 281L130.9 274.7L123.3 273.3z" fill="#716cea"/>
<path d="M135.9 281.2L143.5 282.4L137.9 276.1L130.4 274.9z" fill="#736ce8"/>
<path d="M142.9 282.6L150.5 283.7L145 277.3L137.4 276.3z" fill="#746ce5"/>
<path d="M150 283.9L157.6 284.8L152 278.3L144.4 277.5z" fill="#766ce2"/>
<path d="M157 285L164.6 285.7L159 279.2L151.4 278.5z" fill="#776de0"/>
<path d="M164 285.9L171.6 286.4L166 279.9L158.5 279.4z" fill="#786dde"/>
<path d="M171.1 286.6L178.6 286.9L173.1 280.4L165.5 280.1z" fill="#796edc"/>
<path d="M178.1 287.2L185.7 287.3L180.1 280.8L172.5 280.7z" fill="#7a6eda"/>
<path d="M185.1 287.6L192.7 287.5L187.1 281L179.5 281z" fill="#7b6fd9"/>
<path d="M192.2 287.8L199.7 287.6L194.1 281L186.6 281.2z" fill="#7c70d8"/>
<path d="M199.2 287.8L206.8 287.5L201.1 280.9L193.6 281.3z" fill="#7d71d8"/>
<path d="M206.2 287.7L213.8 287.2L208.2 280.6L200.6 281.2z" fill="#7e72d8"/>
<path d="M213.3 287.4L220.8 286.7L215.2 280.2L207.6 280.9z" fill="#7f73d8"/>
<path d="M220.3 286.9L227.9 286.1L222.2 279.5L214.7 280.4z" fill="#8074d8"/>
<path d="M227.3 286.3L234.9 285.3L229.2 278.8L221.7 279.8z" fill="#8175d9"/>
<path d="M234.4 285.5L241.9 284.3L236.3 277.8L228.7 279z" fill="#8276da"/>
<path d="M241.4 284.6L248.9 283.1L243.3 276.7L235.7 278.1z" fill="#8378dc"/>
<path d="M248.4 283.4L256 281.8L250.3 275.5L242.8 277z" fill="#8479de"/>
<path d="M255.4 282.1L263 280.4L257.3 274L249.8 275.7z" fill="#857ae0"/>
<path d="M262.5 280.7L270 278.7L264.4 272.5L256.8 274.3z" fill="#867ce2"/>
<path d="M269.5 279L277.1 276.9L271.4 270.7L263.8 272.8z" fill="#877ee4"/>
<path d="M276.5 277.2L284.1 275L278.4 268.8L270.9 271z" fill="#877fe7"/>
<path d="M283.6 275.3L291.1 272.9L285.5 266.8L277.9 269.1z" fill="#8881e9"/>
<path d="M290.6 273.2L298.1 270.6L292.5 264.6L284.9 267.1z" fill="#8984ec"/>
<path d="M297.6 270.9L305.2 268.1L299.5 262.2L291.9 264.9z" fill="#8a86ee"/>
<path d="M304.6 268.5L312.2 265.5L306.5 259.7L299 262.5z" fill="#8a88f1"/>
<path d="M311.7 265.9L319.2 262.8L313.6 257L306 260z" fill="#8b8bf3"/>
<path d="M318.7 263.1L326.3 259.9L320.6 254.2L313 257.4z" fill="#8b8ef5"/>
<path d="M325.7 260.2L333.3 256.8L327.6 251.2L320 254.6z" fill="#8c91f7"/>
<path d="M332.8 257.1L340.3 253.5L334.6 248.1L327.1 251.6z" fill="#8c94f9"/>
<path d="M339.8 253.9L347.4 250.1L341.7 244.8L334.1 248.5z" fill="#8c97fb"/>
<path d="M346.8 250.5L354.4 246.6L348.7 241.4L341.1 245.2z" fill="#8c9afc"/>
<path d="M353.8 247L361.4 242.9L355.7 237.8L348.2 241.8z" fill="#8b9dfd"/>
<path d="M360.9 243.3L368.4 239L362.7 234.1L355.2 238.3z" fill="#8aa1fe"/>
<path d="M367.9 239.5L375.5 235L369.8 230.2L362.2 234.5z" fill="#87a5ff"/>
<path d="M374.9 235.5L382.5 230.9L376.8 226.2L369.2 230.7z" fill="#84a9ff"/>
<path d="M382 231.3L389.5 226.6L383.8 222.1L376.3 226.7z" fill="#80adfd"/>
<path d="M389 227L396.5 222.1L390.9 217.8L383.3 222.5z" fill="#7eb1fc"/>
<path d="M396 222.5L403.6 217.5L397.9 213.3L390.3 218.2z" fill="#7db5f9"/>
<path d="M403 217.9L410.6 212.7L404.9 208.7L397.3 213.8z" fill="#7cb9f6"/>
<path d="M410.1 213.2L417.6 207.8L411.9 204L404.4 209.2z" fill="#7abdf3"/>
<path d="M417.1 208.3L424.7 202.7L419 199.1L411.4 204.5z" fill="#77c1f0"/>
<path d="M424.1 203.2L431.7 197.5L426 194.1L418.4 199.6z" fill="#75c5ee"/>
<path d="M431.1 198L438.7 192.2L433 188.9L425.5 194.6z" fill="#72c9ec"/>
<path d="M438.2 192.7L445.7 186.7L440.1 183.6L432.5 189.4z" fill="#6ecce8"/>
<path d="M445.2 187.2L452.8 181L447.1 178.1L439.5 184.1z" fill="#66d0e3"/>
<path d="M452.2 181.6L459.8 175.2L454.1 172.6L446.5 178.7z" fill="#5fd3dd"/>
<path d="M459.3 175.8L466.8 169.3L461.1 166.8L453.6 173.1z" fill="#64d5d6"/>
<path d="M466.3 169.9L473.8 163.2L468.2 161L460.6 167.4z" fill="#70d7cf"/>
<path d="M473.3 163.8L480.8 157L475.2 155L467.6 161.6z" fill="#79d9c7"/>
<path d="M480.3 157.6L487.9 150.6L482.2 148.8L474.7 155.6z" fill="#7edcbe"/>
<path d="M487.4 151.2L494.9 144.1L489.2 142.6L481.7 149.4z" fill="#87ddb3"/>
<path d="M494.4 144.7L501.9 137.5L496.3 136.2L488.7 143.2z" fill="#95dea7"/>
<path d="M501.4 138.1L508.9 130.7L503.3 129.6L495.8 136.8z" fill="#a4de99"/>
<path d="M63.8 258.2L71.5 261.7L66.2 256.3L58.4 252.9z" fill="#5886ff"/>
<path d="M70.8 261.8L78.5 265.1L73.2 259.5L65.4 256.3z" fill="#5d81fe"/>
<path d="M77.9 265.2L85.6 268.2L80.2 262.5L72.5 259.6z" fill="#607cfd"/>
<path d="M84.9 268.3L92.6 271.2L87.2 265.4L79.5 262.6z" fill="#6277fc"/>
<path d="M92 271.3L99.6 273.9L94.2 268L86.5 265.5z" fill="#6373fa"/>
<path d="M99 274.1L106.7 276.5L101.2 270.5L93.5 268.2z" fill="#6570f7"/>
<path d="M106.1 276.7L113.7 278.9L108.2 272.9L100.6 270.7z" fill="#686ff5"/>
<path d="M113.1 279.1L120.7 281.1L115.2 275L107.6 273z" fill="#6b6ef2"/>
<path d="M120.1 281.3L127.7 283.2L122.2 277L114.6 275.2z" fill="#6d6df0"/>
<path d="M127.2 283.4L134.8 285L129.2 278.7L121.6 277.1z" fill="#6f6ded"/>
<path d="M134.2 285.2L141.8 286.7L136.3 280.3L128.7 278.9z" fill="#716cea"/>
<path d="M141.2 286.9L148.8 288.2L143.3 281.8L135.7 280.5z" fill="#736ce8"/>
<path d="M148.3 288.4L155.9 289.5L150.3 283L142.7 282z" fill="#746ce5"/>
<path d="M155.3 289.7L162.9 290.6L157.3 284.1L149.7 283.2z" fill="#766ce2"/>
<path d="M162.3 290.8L169.9 291.5L164.3 285L156.8 284.3z" fill="#776ce0"/>
<path d="M169.4 291.7L176.9 292.3L171.4 285.8L163.8 285.2z" fill="#786dde"/>
<path d="M176.4 292.5L184 292.9L178.4 286.3L170.8 286z" fill="#796edc"/>
<path d="M183.4 293.1L191 293.3L185.4 286.7L177.8 286.5z" fill="#7a6eda"/>
<path d="M190.5 293.5L198 293.5L192.4 286.9L184.9 286.9z" fill="#7b6fd9"/>
<path d="M197.5 293.7L205.1 293.5L199.5 287L191.9 287.2z" fill="#7c70d8"/>
<path d="M204.5 293.8L212.1 293.4L206.5 286.8L198.9 287.2z" fill="#7d71d7"/>
<path d="M211.6 293.6L219.1 293.1L213.5 286.5L205.9 287.1z" fill="#7e72d7"/>
<path d="M218.6 293.3L226.2 292.6L220.5 286.1L213 286.8z" fill="#7f73d7"/>
<path d="M225.6 292.9L233.2 292L227.6 285.4L220 286.3z" fill="#8074d8"/>
<path d="M232.7 292.2L240.2 291.1L234.6 284.6L227 285.7z" fill="#8175d9"/>
<path d="M239.7 291.4L247.2 290.1L241.6 283.7L234 284.9z" fill="#8276da"/>
<path d="M246.7 290.4L254.3 289L248.6 282.5L241.1 284z" fill="#8378dc"/>
<path d="M253.7 289.2L261.3 287.6L255.7 281.2L248.1 282.8z" fill="#8479dd"/>
<path d="M260.8 287.9L268.3 286.1L262.7 279.8L255.1 281.5z" fill="#857be0"/>
<path d="M267.8 286.4L275.4 284.4L269.7 278.2L262.1 280.1z" fill="#867ce2"/>
<path d="M274.8 284.7L282.4 282.6L276.7 276.4L269.2 278.5z" fill="#877ee4"/>
<path d="M281.9 282.9L289.4 280.6L283.8 274.4L276.2 276.7z" fill="#8880e7"/>
<path d="M288.9 280.9L296.4 278.4L290.8 272.3L283.2 274.7z" fill="#8982ea"/>
<path d="M295.9 278.7L303.5 276L297.8 270L290.2 272.6z" fill="#8984ec"/>
<path d="M302.9 276.4L310.5 273.5L304.8 267.6L297.3 270.4z" fill="#8a87ef"/>
<path d="M310 273.8L317.5 270.8L311.9 265L304.3 267.9z" fill="#8b89f1"/>
<path d="M317 271.2L324.6 268L318.9 262.2L311.3 265.3z" fill="#8b8cf3"/>
<path d="M324 268.3L331.6 265L325.9 259.3L318.4 262.6z" fill="#8c8ff6"/>
<path d="M331.1 265.3L338.6 261.8L332.9 256.3L325.4 259.7z" fill="#8c92f8"/>
<path d="M338.1 262.2L345.7 258.5L340 253L332.4 256.6z" fill="#8c95f9"/>
<path d="M345.1 258.8L352.7 255L347 249.7L339.4 253.4z" fill="#8c98fb"/>
<path d="M352.1 255.3L359.7 251.3L354 246.1L346.5 250z" fill="#8c9bfd"/>
<path d="M359.2 251.7L366.7 247.5L361 242.4L353.5 246.5z" fill="#8b9ffe"/>
<path d="M366.2 247.9L373.8 243.5L368.1 238.6L360.5 242.8z" fill="#89a3fe"/>
<path d="M373.2 243.9L380.8 239.3L375.1 234.6L367.5 239z" fill="#87a6ff"/>
<path d="M380.3 239.8L387.8 235.1L382.1 230.4L374.6 235z" fill="#83abfe"/>
<path d="M387.3 235.5L394.8 230.6L389.2 226.1L381.6 230.9z" fill="#7faffd"/>
<path d="M394.3 231.1L401.9 226L396.2 221.7L388.6 226.6z" fill="#7eb3fb"/>
<path d="M401.3 226.4L408.9 221.2L403.2 217.1L395.6 222.1z" fill="#7db7f8"/>
<path d="M408.4 221.7L415.9 216.3L410.2 212.3L402.7 217.5z" fill="#7cbbf5"/>
<path d="M415.4 216.8L423 211.2L417.3 207.4L409.7 212.8z" fill="#79bff2"/>
<path d="M422.4 211.7L430 206L424.3 202.4L416.7 207.9z" fill="#77c3ef"/>
<path d="M429.4 206.5L437 200.6L431.3 197.2L423.8 202.9z" fill="#74c7ed"/>
<path d="M436.5 201.1L444 195.1L438.4 191.8L430.8 197.7z" fill="#71cbea"/>
<path d="M443.5 195.6L451.1 189.4L445.4 186.3L437.8 192.3z" fill="#6bcfe5"/>
<path d="M450.5 189.9L458.1 183.5L452.4 180.7L444.9 186.9z" fill="#62d2df"/>
<path d="M457.6 184.1L465.1 177.6L459.4 174.9L451.9 181.2z" fill="#62d4d9"/>
<path d="M464.6 178.1L472.1 171.4L466.5 169L458.9 175.5z" fill="#6dd7d2"/>
<path d="M471.6 172L479.2 165.1L473.5 162.9L465.9 169.6z" fill="#78d9ca"/>
<path d="M478.6 165.7L486.2 158.7L480.5 156.7L473 163.5z" fill="#7edbc1"/>
<path d="M485.7 159.3L493.2 152.1L487.5 150.3L480 157.3z" fill="#85ddb7"/>
<path d="M492.7 152.7L500.2 145.4L494.6 143.8L487 151z" fill="#92deac"/>
<path d="M499.7 146L507.2 138.5L501.6 137.2L494.1 144.5z" fill="#a1df9e"/>
<path d="M506.7 139.1L514.3 131.5L508.6 130.4L501.1 137.8z" fill="#b3dd90"/>
<path d="M69.1 263.1L76.8 266.7L71.5 261.2L63.7 257.7z" fill="#5687ff"/>
<path d="M76.1 266.8L83.9 270.2L78.5 264.5L70.8 261.2z" fill="#5d82fe"/>
<path d="M83.2 270.2L90.9 273.4L85.5 267.6L77.8 264.6z" fill="#607dfd"/>
<path d="M90.2 273.5L97.9 276.4L92.5 270.6L84.8 267.7z" fill="#6178fc"/>
<path d="M97.3 276.6L105 279.3L99.5 273.3L91.8 270.7z" fill="#6273fa"/>
<path d="M104.3 279.4L112 282L106.5 275.9L98.9 273.5z" fill="#6571f8"/>
<path d="M111.4 282.1L119 284.4L113.5 278.3L105.9 276z" fill="#686ff5"/>
<path d="M118.4 284.6L126 286.7L120.5 280.5L112.9 278.5z" fill="#6a6ef3"/>
<path d="M125.5 286.9L133.1 288.8L127.6 282.5L119.9 280.7z" fill="#6d6df0"/>
<path d="M132.5 289L140.1 290.7L134.6 284.4L127 282.7z" fill="#6f6ded"/>
<path d="M139.5 290.9L147.1 292.4L141.6 286L134 284.6z" fill="#716ceb"/>
<path d="M146.6 292.6L154.2 294L148.6 287.5L141 286.2z" fill="#736ce8"/>
<path d="M153.6 294.1L161.2 295.3L155.6 288.8L148 287.7z" fill="#746ce5"/>
<path d="M160.6 295.5L168.2 296.4L162.6 289.9L155.1 289z" fill="#766ce2"/>
<path d="M167.7 296.7L175.2 297.4L169.7 290.9L162.1 290.1z" fill="#776ce0"/>
<path d="M174.7 297.6L182.3 298.2L176.7 291.6L169.1 291.1z" fill="#786ddd"/>
<path d="M181.7 298.4L189.3 298.8L183.7 292.2L176.2 291.9z" fill="#796edb"/>
<path d="M188.8 299L196.3 299.2L190.7 292.6L183.2 292.4z" fill="#7a6eda"/>
<path d="M195.8 299.4L203.4 299.4L197.8 292.9L190.2 292.9z" fill="#7b6fd8"/>
<path d="M202.8 299.7L210.4 299.5L204.8 292.9L197.2 293.1z" fill="#7c70d7"/>
<path d="M209.9 299.7L217.4 299.4L211.8 292.8L204.3 293.1z" fill="#7d71d7"/>
<path d="M216.9 299.6L224.5 299.1L218.8 292.5L211.3 293z" fill="#7e72d7"/>
<path d="M223.9 299.3L231.5 298.6L225.9 292L218.3 292.7z" fill="#7f73d7"/>
<path d="M231 298.8L238.5 297.9L232.9 291.4L225.3 292.3z" fill="#8074d8"/>
<path d="M238 298.2L245.5 297L239.9 290.5L232.4 291.6z" fill="#8175d9"/>
<path d="M245 297.3L252.6 296L246.9 289.5L239.4 290.8z" fill="#8277da"/>
<path d="M252 296.3L259.6 294.8L254 288.4L246.4 289.8z" fill="#8378dc"/>
<path d="M259.1 295.1L266.6 293.4L261 287L253.4 288.7z" fill="#8479dd"/>
<path d="M266.1 293.7L273.7 291.9L268 285.5L260.5 287.3z" fill="#857be0"/>
<path d="M273.1 292.2L280.7 290.1L275 283.9L267.5 285.8z" fill="#867ce2"/>
<path d="M280.2 290.4L287.7 288.2L282.1 282L274.5 284.2z" fill="#877ee5"/>
<path d="M287.2 288.5L294.8 286.2L289.1 280L281.5 282.3z" fill="#8880e7"/>
<path d="M294.2 286.5L301.8 283.9L296.1 277.8L288.6 280.3z" fill="#8982ea"/>
<path d="M301.3 284.2L308.8 281.5L303.1 275.5L295.6 278.2z" fill="#8a85ed"/>
<path d="M308.3 281.8L315.8 278.9L310.2 273L302.6 275.8z" fill="#8a87ef"/>
<path d="M315.3 279.2L322.9 276.1L317.2 270.3L309.6 273.3z" fill="#8b8af2"/>
<path d="M322.3 276.5L329.9 273.2L324.2 267.5L316.7 270.6z" fill="#8c8df4"/>
<path d="M329.4 273.5L336.9 270.1L331.2 264.4L323.7 267.8z" fill="#8c90f6"/>
<path d="M336.4 270.4L344 266.8L338.3 261.3L330.7 264.8z" fill="#8c93f8"/>
<path d="M343.4 267.2L351 263.4L345.3 258L337.7 261.7z" fill="#8c96fa"/>
<path d="M350.4 263.7L358 259.8L352.3 254.5L344.8 258.3z" fill="#8c99fc"/>
<path d="M357.5 260.1L365 256L359.4 250.8L351.8 254.9z" fill="#8c9dfd"/>
<path d="M364.5 256.4L372.1 252L366.4 247L358.8 251.2z" fill="#8ba0fe"/>
<path d="M371.5 252.5L379.1 247.9L373.4 243L365.8 247.4z" fill="#89a4ff"/>
<path d="M378.6 248.4L386.1 243.7L380.4 238.9L372.9 243.5z" fill="#86a8ff"/>
<path d="M385.6 244.1L393.2 239.2L387.5 234.6L379.9 239.3z" fill="#81adfe"/>
<path d="M392.6 239.7L400.2 234.6L394.5 230.2L386.9 235.1z" fill="#7fb1fc"/>
<path d="M399.6 235.1L407.2 229.9L401.5 225.6L393.9 230.6z" fill="#7eb5fa"/>
<path d="M406.7 230.3L414.2 225L408.5 220.8L401 226z" fill="#7db9f7"/>
<path d="M413.7 225.4L421.3 219.9L415.6 215.9L408 221.3z" fill="#7bbdf3"/>
<path d="M420.7 220.4L428.3 214.6L422.6 210.8L415 216.4z" fill="#79c2f1"/>
<path d="M427.8 215.1L435.3 209.2L429.6 205.6L422.1 211.3z" fill="#77c6ee"/>
<path d="M434.8 209.8L442.3 203.7L436.7 200.2L429.1 206.1z" fill="#73caec"/>
<path d="M441.8 204.2L449.4 198L443.7 194.7L436.1 200.8z" fill="#6fcde8"/>
<path d="M448.8 198.5L456.4 192.1L450.7 189L443.2 195.3z" fill="#66d1e2"/>
<path d="M455.9 192.7L463.4 186.1L457.7 183.2L450.2 189.6z" fill="#62d4dc"/>
<path d="M462.9 186.6L470.4 179.9L464.8 177.2L457.2 183.8z" fill="#69d6d5"/>
<path d="M469.9 180.5L477.5 173.6L471.8 171.1L464.2 177.8z" fill="#75d8cd"/>
<path d="M476.9 174.1L484.5 167.1L478.8 164.8L471.3 171.7z" fill="#7ddbc5"/>
<path d="M484 167.7L491.5 160.4L485.8 158.4L478.3 165.4z" fill="#83ddbc"/>
<path d="M491 161L498.5 153.6L492.9 151.8L485.3 159z" fill="#8fdfb0"/>
<path d="M498 154.2L505.6 146.7L499.9 145.1L492.4 152.5z" fill="#9ddfa3"/>
<path d="M505.1 147.3L512.6 139.6L506.9 138.3L499.4 145.8z" fill="#afde95"/>
<path d="M512.1 140.2L519.6 132.3L514 131.3L506.4 138.9z" fill="#c0dc86"/>
<path d="M74.4 268.1L82.2 271.8L76.8 266.2L69.1 262.6z" fill="#5588fe"/>
<path d="M81.5 271.8L89.2 275.3L83.8 269.6L76.1 266.2z" fill="#5c83ff"/>
<path d="M88.5 275.4L96.2 278.7L90.8 272.8L83.1 269.6z" fill="#5f7efe"/>
<path d="M95.6 278.8L103.3 281.8L97.8 275.8L90.1 272.9z" fill="#6179fc"/>
<path d="M102.6 281.9L110.3 284.7L104.8 278.7L97.2 275.9z" fill="#6274fa"/>
<path d="M109.7 284.9L117.3 287.5L111.8 281.3L104.2 278.8z" fill="#6571f8"/>
<path d="M116.7 287.6L124.3 290L118.9 283.8L111.2 281.5z" fill="#6870f6"/>
<path d="M123.8 290.2L131.4 292.4L125.9 286.1L118.3 284z" fill="#6a6ef3"/>
<path d="M130.8 292.5L138.4 294.5L132.9 288.2L125.3 286.2z" fill="#6d6df0"/>
<path d="M137.8 294.7L145.4 296.5L139.9 290.1L132.3 288.3z" fill="#6f6ded"/>
<path d="M144.9 296.6L152.5 298.2L146.9 291.8L139.3 290.2z" fill="#716ceb"/>
<path d="M151.9 298.4L159.5 299.8L153.9 293.3L146.4 292z" fill="#736ce8"/>
<path d="M158.9 300L166.5 301.2L161 294.7L153.4 293.5z" fill="#746ce5"/>
<path d="M166 301.4L173.5 302.4L168 295.8L160.4 294.8z" fill="#766ce2"/>
<path d="M173 302.6L180.6 303.3L175 296.8L167.4 296z" fill="#776cdf"/>
<path d="M180 303.6L187.6 304.2L182 297.6L174.5 297z" fill="#786ddd"/>
<path d="M187.1 304.4L194.6 304.8L189 298.2L181.5 297.8z" fill="#796ddb"/>
<path d="M194.1 305L201.7 305.2L196.1 298.6L188.5 298.4z" fill="#7a6ed9"/>
<path d="M201.1 305.4L208.7 305.4L203.1 298.8L195.5 298.8z" fill="#7b6fd8"/>
<path d="M208.2 305.7L215.7 305.5L210.1 298.9L202.6 299z" fill="#7c70d7"/>
<path d="M215.2 305.7L222.8 305.3L217.1 298.7L209.6 299.1z" fill="#7d71d7"/>
<path d="M222.2 305.6L229.8 305L224.2 298.4L216.6 299z" fill="#7f72d6"/>
<path d="M229.3 305.3L236.8 304.5L231.2 297.9L223.6 298.7z" fill="#8073d7"/>
<path d="M236.3 304.8L243.8 303.8L238.2 297.3L230.7 298.2z" fill="#8174d7"/>
<path d="M243.3 304.1L250.9 303L245.2 296.4L237.7 297.5z" fill="#8275d8"/>
<path d="M250.3 303.2L257.9 301.9L252.3 295.4L244.7 296.7z" fill="#8377da"/>
<path d="M257.4 302.2L264.9 300.7L259.3 294.2L251.7 295.7z" fill="#8478db"/>
<path d="M264.4 300.9L272 299.2L266.3 292.8L258.8 294.5z" fill="#857add"/>
<path d="M271.4 299.5L279 297.6L273.3 291.3L265.8 293.1z" fill="#867be0"/>
<path d="M278.5 297.9L286 295.8L280.4 289.6L272.8 291.6z" fill="#867de2"/>
<path d="M285.5 296.1L293.1 293.9L287.4 287.7L279.8 289.9z" fill="#877fe5"/>
<path d="M292.5 294.2L300.1 291.7L294.4 285.6L286.9 288z" fill="#8881e7"/>
<path d="M299.6 292.1L307.1 289.4L301.4 283.3L293.9 285.9z" fill="#8983ea"/>
<path d="M306.6 289.7L314.1 286.9L308.5 280.9L300.9 283.7z" fill="#8a85ed"/>
<path d="M313.6 287.3L321.2 284.3L315.5 278.3L307.9 281.3z" fill="#8b88f0"/>
<path d="M320.6 284.6L328.2 281.4L322.5 275.6L315 278.7z" fill="#8b8bf2"/>
<path d="M327.7 281.8L335.2 278.4L329.5 272.7L322 275.9z" fill="#8c8df4"/>
<path d="M334.7 278.7L342.3 275.2L336.6 269.6L329 273z" fill="#8c91f7"/>
<path d="M341.7 275.6L349.3 271.8L343.6 266.3L336 269.9z" fill="#8d94f9"/>
<path d="M348.8 272.2L356.3 268.3L350.6 262.9L343.1 266.7z" fill="#8d97fa"/>
<path d="M355.8 268.7L363.3 264.5L357.7 259.3L350.1 263.3z" fill="#8c9afc"/>
<path d="M362.8 264.9L370.4 260.7L364.7 255.5L357.1 259.7z" fill="#8c9efd"/>
<path d="M369.8 261.1L377.4 256.6L371.7 251.6L364.1 255.9z" fill="#8ba2fe"/>
<path d="M376.9 257L384.4 252.4L378.7 247.5L371.2 252z" fill="#88a6ff"/>
<path d="M383.9 252.8L391.5 248L385.8 243.2L378.2 247.9z" fill="#84aaff"/>
<path d="M390.9 248.4L398.5 243.4L392.8 238.8L385.2 243.7z" fill="#81affd"/>
<path d="M397.9 243.9L405.5 238.7L399.8 234.2L392.3 239.3z" fill="#7fb3fb"/>
<path d="M405 239.1L412.5 233.8L406.8 229.5L399.3 234.7z" fill="#7eb7f8"/>
<path d="M412 234.2L419.6 228.7L413.9 224.6L406.3 229.9z" fill="#7dbbf5"/>
<path d="M419 229.2L426.6 223.5L420.9 219.5L413.3 225z" fill="#7ac0f2"/>
<path d="M426.1 224L433.6 218.1L427.9 214.3L420.4 220z" fill="#78c4ef"/>
<path d="M433.1 218.6L440.6 212.5L435 208.9L427.4 214.8z" fill="#76c8ed"/>
<path d="M440.1 213L447.7 206.8L442 203.3L434.4 209.4z" fill="#72ccea"/>
<path d="M447.1 207.3L454.7 200.9L449 197.6L441.5 203.9z" fill="#6ccfe5"/>
<path d="M454.2 201.4L461.7 194.8L456 191.8L448.5 198.2z" fill="#63d3df"/>
<path d="M461.2 195.4L468.7 188.6L463.1 185.8L455.5 192.3z" fill="#65d5d8"/>
<path d="M468.2 189.2L475.8 182.2L470.1 179.6L462.5 186.3z" fill="#71d8d1"/>
<path d="M475.2 182.8L482.8 175.7L477.1 173.3L469.6 180.2z" fill="#7bdac9"/>
<path d="M482.3 176.3L489.8 169L484.1 166.8L476.6 173.9z" fill="#81dcc0"/>
<path d="M489.3 169.6L496.8 162.2L491.2 160.1L483.6 167.4z" fill="#8bdeb5"/>
<path d="M496.3 162.8L503.9 155.2L498.2 153.4L490.7 160.8z" fill="#99dfa9"/>
<path d="M503.4 155.8L510.9 148L505.2 146.4L497.7 154z" fill="#aadf9b"/>
<path d="M510.4 148.6L517.9 140.7L512.3 139.3L504.7 147.1z" fill="#bcdd8c"/>
<path d="M517.4 141.3L524.9 133.2L519.3 132.1L511.8 140z" fill="#cdda7f"/>
<path d="M79.7 273.1L87.5 277L82.1 271.2L74.4 267.5z" fill="#5489fe"/>
<path d="M86.8 277L94.5 280.6L89.1 274.8L81.4 271.3z" fill="#5b84ff"/>
<path d="M93.9 280.6L101.6 284L96.1 278.1L88.5 274.8z" fill="#5f7ffe"/>
<path d="M100.9 284.1L108.6 287.2L103.2 281.2L95.5 278.1z" fill="#6179fd"/>
<path d="M108 287.3L115.6 290.2L110.2 284.1L102.5 281.3z" fill="#6274fb"/>
<path d="M115 290.3L122.6 293L117.2 286.8L109.5 284.2z" fill="#6571f8"/>
<path d="M122 293.2L129.7 295.6L124.2 289.4L116.6 287z" fill="#6870f6"/>
<path d="M129.1 295.8L136.7 298L131.2 291.7L123.6 289.5z" fill="#6a6ff3"/>
<path d="M136.1 298.2L143.7 300.2L138.2 293.9L130.6 291.9z" fill="#6d6df0"/>
<path d="M143.2 300.4L150.8 302.2L145.2 295.8L137.6 294z" fill="#6f6ded"/>
<path d="M150.2 302.4L157.8 304.1L152.2 297.6L144.7 296z" fill="#716ceb"/>
<path d="M157.2 304.2L164.8 305.7L159.3 299.1L151.7 297.8z" fill="#736ce8"/>
<path d="M164.3 305.9L171.8 307.1L166.3 300.5L158.7 299.3z" fill="#746ce5"/>
<path d="M171.3 307.3L178.9 308.3L173.3 301.7L165.7 300.7z" fill="#766ce2"/>
<path d="M178.3 308.5L185.9 309.3L180.3 302.7L172.8 301.9z" fill="#776cdf"/>
<path d="M185.4 309.5L192.9 310.1L187.3 303.5L179.8 302.9z" fill="#786ddd"/>
<path d="M192.4 310.3L200 310.8L194.4 304.1L186.8 303.7z" fill="#796dda"/>
<path d="M199.4 311L207 311.2L201.4 304.6L193.8 304.3z" fill="#7a6ed9"/>
<path d="M206.5 311.4L214 311.4L208.4 304.8L200.9 304.8z" fill="#7b6fd7"/>
<path d="M213.5 311.7L221.1 311.5L215.4 304.9L207.9 305z" fill="#7d70d7"/>
<path d="M220.5 311.7L228.1 311.3L222.5 304.7L214.9 305.1z" fill="#7e71d6"/>
<path d="M227.6 311.6L235.1 311L229.5 304.4L221.9 305z" fill="#7f72d6"/>
<path d="M234.6 311.3L242.1 310.5L236.5 303.9L229 304.7z" fill="#8073d6"/>
<path d="M241.6 310.7L249.2 309.8L243.5 303.2L236 304.2z" fill="#8174d7"/>
<path d="M248.6 310L256.2 308.9L250.6 302.3L243 303.5z" fill="#8275d8"/>
<path d="M255.7 309.1L263.2 307.8L257.6 301.3L250 302.6z" fill="#8377d9"/>
<path d="M262.7 308.1L270.3 306.5L264.6 300.1L257.1 301.6z" fill="#8478db"/>
<path d="M269.7 306.8L277.3 305L271.6 298.6L264.1 300.3z" fill="#857add"/>
<path d="M276.8 305.3L284.3 303.4L278.7 297L271.1 298.9z" fill="#867be0"/>
<path d="M283.8 303.7L291.4 301.6L285.7 295.3L278.1 297.3z" fill="#877de2"/>
<path d="M290.8 301.9L298.4 299.5L292.7 293.3L285.2 295.6z" fill="#887fe5"/>
<path d="M297.9 299.8L305.4 297.3L299.7 291.2L292.2 293.6z" fill="#8981e8"/>
<path d="M304.9 297.7L312.4 294.9L306.8 288.9L299.2 291.5z" fill="#8983eb"/>
<path d="M311.9 295.3L319.5 292.4L313.8 286.4L306.2 289.2z" fill="#8a86ed"/>
<path d="M318.9 292.7L326.5 289.6L320.8 283.7L313.3 286.7z" fill="#8b88f0"/>
<path d="M326 290L333.5 286.7L327.8 280.9L320.3 284.1z" fill="#8c8bf2"/>
<path d="M333 287L340.6 283.6L334.9 277.9L327.3 281.2z" fill="#8c8ef5"/>
<path d="M340 283.9L347.6 280.3L341.9 274.7L334.3 278.2z" fill="#8d91f7"/>
<path d="M347.1 280.7L354.6 276.8L348.9 271.3L341.4 275.1z" fill="#8d95f9"/>
<path d="M354.1 277.2L361.6 273.2L356 267.8L348.4 271.7z" fill="#8d98fb"/>
<path d="M361.1 273.6L368.7 269.3L363 264.1L355.4 268.2z" fill="#8d9bfc"/>
<path d="M368.1 269.7L375.7 265.3L370 260.2L362.4 264.5z" fill="#8c9ffe"/>
<path d="M375.2 265.7L382.7 261.2L377 256.1L369.5 260.6z" fill="#8aa3fe"/>
<path d="M382.2 261.6L389.8 256.8L384.1 251.9L376.5 256.6z" fill="#87a7ff"/>
<path d="M389.2 257.2L396.8 252.3L391.1 247.5L383.5 252.4z" fill="#83acfe"/>
<path d="M396.3 252.7L403.8 247.6L398.1 243L390.6 248z" fill="#80b0fc"/>
<path d="M403.3 248L410.8 242.7L405.1 238.2L397.6 243.4z" fill="#7fb5fa"/>
<path d="M410.3 243.2L417.9 237.6L412.2 233.4L404.6 238.7z" fill="#7eb9f7"/>
<path d="M417.3 238.1L424.9 232.4L419.2 228.3L411.6 233.8z" fill="#7cbdf4"/>
<path d="M424.4 232.9L431.9 227L426.2 223.1L418.7 228.8z" fill="#7ac2f1"/>
<path d="M431.4 227.5L438.9 221.5L433.3 217.7L425.7 223.6z" fill="#78c6ef"/>
<path d="M438.4 222L446 215.7L440.3 212.1L432.7 218.2z" fill="#75caec"/>
<path d="M445.4 216.3L453 209.8L447.3 206.4L439.8 212.7z" fill="#70cee8"/>
<path d="M452.5 210.4L460 203.8L454.3 200.5L446.8 207z" fill="#67d1e2"/>
<path d="M459.5 204.3L467 197.5L461.4 194.5L453.8 201.1z" fill="#63d4dc"/>
<path d="M466.5 198.1L474.1 191.2L468.4 188.3L460.8 195.1z" fill="#6cd7d5"/>
<path d="M473.6 191.7L481.1 184.6L475.4 181.9L467.9 188.9z" fill="#79d9cd"/>
<path d="M480.6 185.2L488.1 177.9L482.4 175.4L474.9 182.5z" fill="#80dcc4"/>
<path d="M487.6 178.5L495.1 171L489.5 168.7L481.9 176z" fill="#87deba"/>
<path d="M494.6 171.6L502.2 163.9L496.5 161.9L489 169.3z" fill="#94dfae"/>
<path d="M501.7 164.5L509.2 156.7L503.5 154.9L496 162.5z" fill="#a4e0a1"/>
<path d="M508.7 157.3L516.2 149.3L510.6 147.7L503 155.5z" fill="#b6de92"/>
<path d="M515.7 149.9L523.2 141.8L517.6 140.4L510.1 148.4z" fill="#c8dc84"/>
<path d="M522.7 142.4L530.3 134.1L524.6 133L517.1 141.1z" fill="#d9d879"/>
<path d="M85.1 278.3L92.8 282.2L87.5 276.4L79.7 272.6z" fill="#538afe"/>
<path d="M92.1 282.2L99.8 285.9L94.5 280L86.8 276.4z" fill="#5b85ff"/>
<path d="M99.2 286L106.9 289.4L101.5 283.4L93.8 280.1z" fill="#5f7ffe"/>
<path d="M106.2 289.5L113.9 292.7L108.5 286.6L100.8 283.5z" fill="#617afd"/>
<path d="M113.3 292.8L120.9 295.8L115.5 289.6L107.8 286.7z" fill="#6275fb"/>
<path d="M120.3 295.9L128 298.6L122.5 292.4L114.9 289.7z" fill="#6472f8"/>
<path d="M127.4 298.8L135 301.3L129.5 295L121.9 292.5z" fill="#6870f6"/>
<path d="M134.4 301.5L142 303.8L136.5 297.4L128.9 295.1z" fill="#6a6ff3"/>
<path d="M141.5 303.9L149.1 306L143.5 299.6L135.9 297.5z" fill="#6d6df0"/>
<path d="M148.5 306.2L156.1 308.1L150.6 301.6L143 299.8z" fill="#6f6ded"/>
<path d="M155.5 308.3L163.1 309.9L157.6 303.4L150 301.8z" fill="#716cea"/>
<path d="M162.6 310.1L170.1 311.6L164.6 305L157 303.6z" fill="#736ce7"/>
<path d="M169.6 311.8L177.2 313L171.6 306.4L164 305.2z" fill="#746be4"/>
<path d="M176.6 313.2L184.2 314.3L178.6 307.6L171.1 306.6z" fill="#766ce1"/>
<path d="M183.7 314.5L191.2 315.3L185.7 308.7L178.1 307.8z" fill="#776cdf"/>
<path d="M190.7 315.5L198.3 316.1L192.7 309.5L185.1 308.9z" fill="#786ddc"/>
<path d="M197.7 316.4L205.3 316.8L199.7 310.1L192.1 309.7z" fill="#796dda"/>
<path d="M204.8 317L212.3 317.2L206.7 310.6L199.2 310.3z" fill="#7a6ed8"/>
<path d="M211.8 317.5L219.4 317.5L213.7 310.8L206.2 310.8z" fill="#7b6fd7"/>
<path d="M218.8 317.7L226.4 317.5L220.8 310.9L213.2 311z" fill="#7d70d6"/>
<path d="M225.9 317.8L233.4 317.4L227.8 310.7L220.2 311.1z" fill="#7e71d6"/>
<path d="M232.9 317.6L240.4 317L234.8 310.4L227.3 311z" fill="#7f72d5"/>
<path d="M239.9 317.3L247.5 316.5L241.8 309.9L234.3 310.6z" fill="#8073d6"/>
<path d="M247 316.7L254.5 315.7L248.9 309.2L241.3 310.1z" fill="#8174d7"/>
<path d="M254 316L261.5 314.8L255.9 308.3L248.3 309.4z" fill="#8275d8"/>
<path d="M261 315.1L268.6 313.7L262.9 307.2L255.4 308.5z" fill="#8377d9"/>
<path d="M268 314L275.6 312.4L269.9 305.9L262.4 307.5z" fill="#8478db"/>
<path d="M275.1 312.6L282.6 310.9L277 304.5L269.4 306.2z" fill="#857add"/>
<path d="M282.1 311.1L289.7 309.2L284 302.8L276.4 304.7z" fill="#867ce0"/>
<path d="M289.1 309.5L296.7 307.3L291 301L283.5 303.1z" fill="#877de2"/>
<path d="M296.2 307.6L303.7 305.2L298 299L290.5 301.3z" fill="#887fe5"/>
<path d="M303.2 305.5L310.7 302.9L305.1 296.8L297.5 299.3z" fill="#8981e8"/>
<path d="M310.2 303.2L317.8 300.5L312.1 294.4L304.5 297.1z" fill="#8a84eb"/>
<path d="M317.2 300.8L324.8 297.8L319.1 291.8L311.6 294.7z" fill="#8b86ee"/>
<path d="M324.3 298.2L331.8 295L326.2 289.1L318.6 292.2z" fill="#8b89f0"/>
<path d="M331.3 295.3L338.9 292L333.2 286.2L325.6 289.4z" fill="#8c8cf3"/>
<path d="M338.3 292.3L345.9 288.8L340.2 283.1L332.6 286.5z" fill="#8c8ff5"/>
<path d="M345.4 289.1L352.9 285.4L347.2 279.8L339.7 283.4z" fill="#8d92f7"/>
<path d="M352.4 285.8L359.9 281.8L354.3 276.3L346.7 280.2z" fill="#8d96f9"/>
<path d="M359.4 282.2L367 278.1L361.3 272.7L353.7 276.7z" fill="#8d99fb"/>
<path d="M366.4 278.5L374 274.1L368.3 268.9L360.7 273.1z" fill="#8d9dfd"/>
<path d="M373.5 274.5L381 270L375.3 264.9L367.8 269.3z" fill="#8ca1fe"/>
<path d="M380.5 270.4L388.1 265.7L382.4 260.7L374.8 265.3z" fill="#8aa5ff"/>
<path d="M387.5 266.1L395.1 261.2L389.4 256.4L381.8 261.1z" fill="#86a9ff"/>
<path d="M394.6 261.7L402.1 256.6L396.4 251.8L388.9 256.8z" fill="#82aefe"/>
<path d="M401.6 257L409.1 251.7L403.4 247.1L395.9 252.3z" fill="#80b2fc"/>
<path d="M408.6 252.2L416.2 246.7L410.5 242.3L402.9 247.6z" fill="#7fb7f9"/>
<path d="M415.6 247.2L423.2 241.5L417.5 237.2L409.9 242.8z" fill="#7ebbf6"/>
<path d="M422.7 242L430.2 236.2L424.5 232L417 237.7z" fill="#7bbff3"/>
<path d="M429.7 236.7L437.2 230.6L431.6 226.7L424 232.5z" fill="#7ac4f0"/>
<path d="M436.7 231.1L444.3 224.9L438.6 221.1L431 227.2z" fill="#77c8ee"/>
<path d="M443.7 225.4L451.3 219L445.6 215.4L438.1 221.6z" fill="#73ccea"/>
<path d="M450.8 219.5L458.3 212.9L452.6 209.5L445.1 215.9z" fill="#6dd0e6"/>
<path d="M457.8 213.5L465.3 206.7L459.7 203.4L452.1 210.1z" fill="#65d3df"/>
<path d="M464.8 207.2L472.4 200.3L466.7 197.2L459.1 204z" fill="#67d6d8"/>
<path d="M471.9 200.8L479.4 193.7L473.7 190.8L466.2 197.8z" fill="#74d8d1"/>
<path d="M478.9 194.3L486.4 186.9L480.7 184.3L473.2 191.4z" fill="#7edbc9"/>
<path d="M485.9 187.5L493.4 180L487.8 177.6L480.2 184.9z" fill="#84ddbf"/>
<path d="M492.9 180.6L500.5 172.9L494.8 170.7L487.3 178.2z" fill="#8fdfb4"/>
<path d="M500 173.5L507.5 165.7L501.8 163.6L494.3 171.3z" fill="#9ee0a7"/>
<path d="M507 166.3L514.5 158.2L508.9 156.4L501.3 164.3z" fill="#b0df99"/>
<path d="M514 158.9L521.5 150.6L515.9 149.1L508.4 157.1z" fill="#c2dd8a"/>
<path d="M521 151.3L528.6 142.9L522.9 141.5L515.4 149.7z" fill="#d4da7e"/>
<path d="M528.1 143.5L535.6 134.9L529.9 133.8L522.4 142.2z" fill="#e4d678"/>
<path d="M90.4 283.5L98.1 287.5L92.8 281.6L85.1 277.7z" fill="#528bfe"/>
<path d="M97.5 287.6L105.2 291.3L99.8 285.3L92.1 281.7z" fill="#5a86ff"/>
<path d="M104.5 291.4L112.2 294.9L106.8 288.8L99.1 285.4z" fill="#5f80fe"/>
<path d="M111.6 295L119.2 298.3L113.8 292.1L106.1 288.9z" fill="#617afd"/>
<path d="M118.6 298.4L126.3 301.4L120.8 295.1L113.2 292.2z" fill="#6275fb"/>
<path d="M125.7 301.5L133.3 304.3L127.8 298L120.2 295.3z" fill="#6472f9"/>
<path d="M132.7 304.5L140.3 307.1L134.8 300.7L127.2 298.1z" fill="#6870f6"/>
<path d="M139.7 307.2L147.4 309.6L141.9 303.1L134.2 300.8z" fill="#6a6ff3"/>
<path d="M146.8 309.7L154.4 311.9L148.9 305.4L141.3 303.3z" fill="#6d6df0"/>
<path d="M153.8 312L161.4 314L155.9 307.4L148.3 305.5z" fill="#6f6ced"/>
<path d="M160.9 314.2L168.4 315.9L162.9 309.3L155.3 307.6z" fill="#716cea"/>
<path d="M167.9 316L175.5 317.5L169.9 310.9L162.3 309.5z" fill="#736be7"/>
<path d="M174.9 317.7L182.5 319L176.9 312.4L169.4 311.1z" fill="#746be4"/>
<path d="M182 319.2L189.5 320.3L184 313.6L176.4 312.6z" fill="#766be1"/>
<path d="M189 320.5L196.6 321.3L191 314.7L183.4 313.8z" fill="#776cde"/>
<path d="M196 321.5L203.6 322.2L198 315.5L190.4 314.9z" fill="#786cdc"/>
<path d="M203.1 322.4L210.6 322.8L205 316.1L197.5 315.7z" fill="#796dd9"/>
<path d="M210.1 323.1L217.7 323.3L212.1 316.6L204.5 316.4z" fill="#7a6ed8"/>
<path d="M217.1 323.5L224.7 323.5L219.1 316.8L211.5 316.8z" fill="#7c6fd6"/>
<path d="M224.2 323.8L231.7 323.6L226.1 316.9L218.5 317.1z" fill="#7d70d5"/>
<path d="M231.2 323.8L238.7 323.4L233.1 316.7L225.6 317.1z" fill="#7e71d5"/>
<path d="M238.2 323.6L245.8 323L240.1 316.4L232.6 317z" fill="#7f72d5"/>
<path d="M245.3 323.3L252.8 322.5L247.2 315.9L239.6 316.6z" fill="#8073d5"/>
<path d="M252.3 322.7L259.8 321.7L254.2 315.1L246.6 316.1z" fill="#8174d6"/>
<path d="M259.3 322L266.9 320.8L261.2 314.2L253.7 315.4z" fill="#8276d7"/>
<path d="M266.3 321L273.9 319.6L268.2 313.1L260.7 314.5z" fill="#8377d9"/>
<path d="M273.4 319.9L280.9 318.2L275.3 311.8L267.7 313.4z" fill="#8478db"/>
<path d="M280.4 318.5L288 316.7L282.3 310.3L274.7 312.1z" fill="#857add"/>
<path d="M287.4 317L295 314.9L289.3 308.6L281.8 310.6z" fill="#867ce0"/>
<path d="M294.5 315.2L302 313L296.4 306.7L288.8 308.9z" fill="#877ee2"/>
<path d="M301.5 313.3L309 310.8L303.4 304.6L295.8 307z" fill="#8880e5"/>
<path d="M308.5 311.2L316.1 308.5L310.4 302.4L302.8 304.9z" fill="#8982e8"/>
<path d="M315.5 308.8L323.1 306L317.4 299.9L309.9 302.7z" fill="#8a84eb"/>
<path d="M322.6 306.3L330.1 303.3L324.5 297.3L316.9 300.3z" fill="#8b87ee"/>
<path d="M329.6 303.6L337.2 300.3L331.5 294.5L323.9 297.6z" fill="#8c8af1"/>
<path d="M336.6 300.7L344.2 297.2L338.5 291.4L330.9 294.8z" fill="#8c8df3"/>
<path d="M343.7 297.6L351.2 294L345.5 288.3L338 291.8z" fill="#8d90f6"/>
<path d="M350.7 294.3L358.2 290.5L352.6 284.9L345 288.6z" fill="#8d93f8"/>
<path d="M357.7 290.9L365.3 286.8L359.6 281.3L352 285.3z" fill="#8d97fa"/>
<path d="M364.7 287.2L372.3 282.9L366.6 277.6L359.1 281.7z" fill="#8d9afc"/>
<path d="M371.8 283.3L379.3 278.9L373.6 273.6L366.1 278z" fill="#8d9efd"/>
<path d="M378.8 279.3L386.4 274.7L380.7 269.5L373.1 274.1z" fill="#8ca2fe"/>
<path d="M385.8 275.1L393.4 270.2L387.7 265.3L380.1 270z" fill="#89a6ff"/>
<path d="M392.9 270.7L400.4 265.6L394.7 260.8L387.2 265.7z" fill="#85abff"/>
<path d="M399.9 266.1L407.4 260.9L401.7 256.1L394.2 261.2z" fill="#81affd"/>
<path d="M406.9 261.3L414.5 255.9L408.8 251.3L401.2 256.6z" fill="#80b4fb"/>
<path d="M413.9 256.4L421.5 250.7L415.8 246.3L408.2 251.8z" fill="#7fb8f8"/>
<path d="M421 251.2L428.5 245.4L422.8 241.1L415.3 246.8z" fill="#7ebdf5"/>
<path d="M428 245.9L435.5 239.9L429.9 235.8L422.3 241.6z" fill="#7bc1f2"/>
<path d="M435 240.4L442.6 234.2L436.9 230.2L429.3 236.3z" fill="#79c6ef"/>
<path d="M442.1 234.7L449.6 228.3L443.9 224.5L436.4 230.8z" fill="#76caed"/>
<path d="M449.1 228.8L456.6 222.2L450.9 218.6L443.4 225.1z" fill="#72cee9"/>
<path d="M456.1 222.8L463.7 216L458 212.6L450.4 219.2z" fill="#69d2e3"/>
<path d="M463.1 216.6L470.7 209.6L465 206.4L457.4 213.1z" fill="#65d5dc"/>
<path d="M470.2 210.2L477.7 203L472 200L464.5 206.9z" fill="#6dd7d5"/>
<path d="M477.2 203.6L484.7 196.2L479 193.4L471.5 200.5z" fill="#7adacd"/>
<path d="M484.2 196.8L491.7 189.3L486.1 186.6L478.5 194z" fill="#82dcc4"/>
<path d="M491.2 189.9L498.8 182.2L493.1 179.7L485.6 187.2z" fill="#89dfba"/>
<path d="M498.3 182.8L505.8 174.9L500.1 172.6L492.6 180.3z" fill="#98e0ae"/>
<path d="M505.3 175.5L512.8 167.4L507.2 165.4L499.6 173.3z" fill="#a8e09f"/>
<path d="M512.3 168.1L519.8 159.8L514.2 158L506.7 166z" fill="#bbdf91"/>
<path d="M519.4 160.4L526.9 152L521.2 150.4L513.7 158.6z" fill="#cddc83"/>
<path d="M526.4 152.6L533.9 144L528.2 142.6L520.7 151z" fill="#ded87a"/>
<path d="M533.4 144.7L540.9 135.9L535.3 134.7L527.8 143.3z" fill="#eed57b"/>
<path d="M95.7 288.8L103.5 292.9L98.1 287L90.4 283z" fill="#528cfd"/>
<path d="M102.8 293L110.5 296.8L105.1 290.7L97.4 287z" fill="#5a86ff"/>
<path d="M109.8 296.9L117.5 300.4L112.1 294.3L104.5 290.8z" fill="#5e80fe"/>
<path d="M116.9 300.5L124.6 303.9L119.1 297.6L111.5 294.4z" fill="#617afd"/>
<path d="M123.9 304L131.6 307.1L126.1 300.8L118.5 297.7z" fill="#6275fb"/>
<path d="M131 307.2L138.6 310.1L133.2 303.7L125.5 300.9z" fill="#6472f9"/>
<path d="M138 310.2L145.7 312.9L140.2 306.4L132.6 303.8z" fill="#6870f6"/>
<path d="M145.1 313L152.7 315.4L147.2 308.9L139.6 306.6z" fill="#6a6ff3"/>
<path d="M152.1 315.6L159.7 317.8L154.2 311.2L146.6 309.1z" fill="#6d6df0"/>
<path d="M159.2 317.9L166.7 319.9L161.2 313.3L153.6 311.4z" fill="#6f6ced"/>
<path d="M166.2 320.1L173.8 321.8L168.2 315.2L160.7 313.5z" fill="#716cea"/>
<path d="M173.2 322L180.8 323.5L175.3 316.9L167.7 315.4z" fill="#736be7"/>
<path d="M180.3 323.7L187.8 325L182.3 318.4L174.7 317.1z" fill="#746be3"/>
<path d="M187.3 325.2L194.9 326.3L189.3 319.6L181.7 318.6z" fill="#766be1"/>
<path d="M194.3 326.5L201.9 327.4L196.3 320.7L188.8 319.8z" fill="#776cdd"/>
<path d="M201.4 327.6L208.9 328.3L203.3 321.5L195.8 320.9z" fill="#786cdb"/>
<path d="M208.4 328.5L216 328.9L210.4 322.2L202.8 321.8z" fill="#796dd9"/>
<path d="M215.4 329.1L223 329.4L217.4 322.6L209.8 322.4z" fill="#7a6ed7"/>
<path d="M222.5 329.6L230 329.6L224.4 322.9L216.9 322.9z" fill="#7c6fd6"/>
<path d="M229.5 329.8L237 329.6L231.4 322.9L223.9 323.1z" fill="#7d70d5"/>
<path d="M236.5 329.9L244.1 329.5L238.5 322.8L230.9 323.2z" fill="#7e71d4"/>
<path d="M243.6 329.7L251.1 329.1L245.5 322.4L237.9 323z" fill="#7f72d4"/>
<path d="M250.6 329.3L258.1 328.5L252.5 321.9L245 322.7z" fill="#8073d5"/>
<path d="M257.6 328.7L265.2 327.7L259.5 321.1L252 322.1z" fill="#8174d6"/>
<path d="M264.6 328L272.2 326.7L266.6 320.1L259 321.4z" fill="#8276d7"/>
<path d="M271.7 327L279.2 325.5L273.6 319L266 320.4z" fill="#8377d9"/>
<path d="M278.7 325.8L286.3 324.1L280.6 317.6L273.1 319.3z" fill="#8479db"/>
<path d="M285.7 324.4L293.3 322.5L287.6 316.1L280.1 317.9z" fill="#857add"/>
<path d="M292.8 322.8L300.3 320.7L294.7 314.3L287.1 316.4z" fill="#867cdf"/>
<path d="M299.8 321L307.3 318.7L301.7 312.4L294.1 314.7z" fill="#877ee2"/>
<path d="M306.8 319L314.4 316.5L308.7 310.3L301.2 312.7z" fill="#8880e5"/>
<path d="M313.8 316.8L321.4 314.1L315.7 308L308.2 310.6z" fill="#8982e9"/>
<path d="M320.9 314.4L328.4 311.5L322.8 305.4L315.2 308.3z" fill="#8a85ec"/>
<path d="M327.9 311.8L335.5 308.7L329.8 302.7L322.2 305.8z" fill="#8b87ee"/>
<path d="M334.9 309L342.5 305.7L336.8 299.8L329.3 303.1z" fill="#8c8af1"/>
<path d="M342 306.1L349.5 302.5L343.8 296.7L336.3 300.2z" fill="#8d8df4"/>
<path d="M349 302.9L356.5 299.1L350.9 293.4L343.3 297.1z" fill="#8d91f6"/>
<path d="M356 299.5L363.6 295.6L357.9 290L350.3 293.8z" fill="#8d94f8"/>
<path d="M363 295.9L370.6 291.8L364.9 286.3L357.4 290.4z" fill="#8e98fa"/>
<path d="M370.1 292.2L377.6 287.8L371.9 282.5L364.4 286.7z" fill="#8d9bfc"/>
<path d="M377.1 288.2L384.7 283.7L379 278.4L371.4 282.9z" fill="#8d9ffd"/>
<path d="M384.1 284.1L391.7 279.3L386 274.2L378.4 278.9z" fill="#8ba3fe"/>
<path d="M391.2 279.8L398.7 274.8L393 269.8L385.5 274.6z" fill="#89a8ff"/>
<path d="M398.2 275.2L405.7 270.1L400 265.2L392.5 270.2z" fill="#84acfe"/>
<path d="M405.2 270.5L412.8 265.1L407.1 260.4L399.5 265.7z" fill="#81b1fc"/>
<path d="M412.2 265.6L419.8 260L414.1 255.5L406.5 260.9z" fill="#80b6fa"/>
<path d="M419.3 260.5L426.8 254.7L421.1 250.3L413.6 256z" fill="#7fbaf7"/>
<path d="M426.3 255.2L433.9 249.3L428.2 245L420.6 250.8z" fill="#7dbff4"/>
<path d="M433.3 249.8L440.9 243.6L435.2 239.5L427.6 245.5z" fill="#7bc3f0"/>
<path d="M440.4 244.1L447.9 237.7L442.2 233.8L434.7 240z" fill="#78c7ee"/>
<path d="M447.4 238.3L454.9 231.7L449.2 227.9L441.7 234.3z" fill="#75cceb"/>
<path d="M454.4 232.2L462 225.5L456.3 221.9L448.7 228.5z" fill="#6fd0e6"/>
<path d="M461.4 226L469 219.1L463.3 215.7L455.7 222.4z" fill="#66d3e0"/>
<path d="M468.5 219.6L476 212.5L470.3 209.3L462.8 216.2z" fill="#68d6d9"/>
<path d="M475.5 213.1L483 205.7L477.3 202.7L469.8 209.8z" fill="#75d9d1"/>
<path d="M482.5 206.3L490.1 198.8L484.4 195.9L476.8 203.3z" fill="#7fdbc9"/>
<path d="M489.5 199.4L497.1 191.7L491.4 189L483.9 196.5z" fill="#86dec0"/>
<path d="M496.6 192.3L504.1 184.3L498.4 181.9L490.9 189.6z" fill="#91e0b4"/>
<path d="M503.6 185L511.1 176.9L505.5 174.6L497.9 182.5z" fill="#a1e0a7"/>
<path d="M510.6 177.5L518.1 169.2L512.5 167.2L505 175.2z" fill="#b3e098"/>
<path d="M517.7 169.8L525.2 161.4L519.5 159.5L512 167.8z" fill="#c6dd89"/>
<path d="M524.7 162L532.2 153.3L526.5 151.7L519 160.2z" fill="#d8da7e"/>
<path d="M531.7 154L539.2 145.1L533.6 143.8L526.1 152.4z" fill="#e8d67a"/>
<path d="M538.7 145.8L546.2 136.8L540.6 135.6L533.1 144.4z" fill="#f6d482"/>
<path d="M101.1 294.2L108.8 298.4L103.5 292.4L95.7 288.3z" fill="#518dfd"/>
<path d="M108.1 298.5L115.8 302.4L110.5 296.2L102.8 292.4z" fill="#5987ff"/>
<path d="M115.2 302.4L122.9 306.1L117.5 299.8L109.8 296.3z" fill="#5e80fe"/>
<path d="M122.2 306.2L129.9 309.6L124.5 303.3L116.8 299.9z" fill="#617bfd"/>
<path d="M129.3 309.7L136.9 312.9L131.5 306.5L123.8 303.4z" fill="#6275fb"/>
<path d="M136.3 313L144 315.9L138.5 309.4L130.9 306.6z" fill="#6572f9"/>
<path d="M143.4 316L151 318.7L145.5 312.2L137.9 309.6z" fill="#6870f6"/>
<path d="M150.4 318.9L158 321.3L152.5 314.8L144.9 312.4z" fill="#6a6ef3"/>
<path d="M157.4 321.5L165 323.7L159.5 317.1L151.9 314.9z" fill="#6d6df0"/>
<path d="M164.5 323.9L172.1 325.9L166.5 319.3L159 317.3z" fill="#6f6ced"/>
<path d="M171.5 326.1L179.1 327.9L173.6 321.2L166 319.4z" fill="#716bea"/>
<path d="M178.6 328L186.1 329.6L180.6 322.9L173 321.4z" fill="#736be6"/>
<path d="M185.6 329.8L193.2 331.1L187.6 324.4L180 323.1z" fill="#746be3"/>
<path d="M192.6 331.3L200.2 332.4L194.6 325.7L187.1 324.6z" fill="#766be0"/>
<path d="M199.7 332.6L207.2 333.5L201.6 326.8L194.1 325.9z" fill="#776cdd"/>
<path d="M206.7 333.7L214.3 334.4L208.7 327.6L201.1 327z" fill="#786cda"/>
<path d="M213.7 334.6L221.3 335L215.7 328.3L208.1 327.8z" fill="#796dd8"/>
<path d="M220.8 335.2L228.3 335.5L222.7 328.7L215.2 328.5z" fill="#7b6ed6"/>
<path d="M227.8 335.7L235.3 335.7L229.7 329L222.2 329z" fill="#7c6fd5"/>
<path d="M234.8 335.9L242.4 335.7L236.8 329L229.2 329.2z" fill="#7d70d4"/>
<path d="M241.9 336L249.4 335.5L243.8 328.8L236.2 329.2z" fill="#7e71d4"/>
<path d="M248.9 335.8L256.4 335.1L250.8 328.5L243.3 329.1z" fill="#7f72d4"/>
<path d="M255.9 335.4L263.5 334.5L257.8 327.9L250.3 328.7z" fill="#8073d4"/>
<path d="M262.9 334.8L270.5 333.7L264.9 327.1L257.3 328.1z" fill="#8174d5"/>
<path d="M270 334L277.5 332.7L271.9 326.1L264.3 327.4z" fill="#8276d6"/>
<path d="M277 332.9L284.6 331.4L278.9 324.9L271.4 326.4z" fill="#8377d8"/>
<path d="M284 331.7L291.6 330L285.9 323.5L278.4 325.2z" fill="#8479da"/>
<path d="M291.1 330.3L298.6 328.3L293 321.9L285.4 323.8z" fill="#867add"/>
<path d="M298.1 328.6L305.6 326.5L300 320.1L292.4 322.2z" fill="#877cdf"/>
<path d="M305.1 326.8L312.7 324.4L307 318.1L299.5 320.4z" fill="#887ee2"/>
<path d="M312.1 324.7L319.7 322.2L314 315.9L306.5 318.4z" fill="#8980e6"/>
<path d="M319.2 322.5L326.7 319.7L321.1 313.5L313.5 316.3z" fill="#8a83e9"/>
<path d="M326.2 320L333.8 317L328.1 311L320.5 313.9z" fill="#8b85ec"/>
<path d="M333.2 317.4L340.8 314.1L335.1 308.2L327.6 311.3z" fill="#8c88ef"/>
<path d="M340.3 314.5L347.8 311.1L342.1 305.2L334.6 308.5z" fill="#8c8bf2"/>
<path d="M347.3 311.4L354.9 307.8L349.2 302L341.6 305.5z" fill="#8d8ef4"/>
<path d="M354.3 308.2L361.9 304.3L356.2 298.6L348.6 302.4z" fill="#8d91f7"/>
<path d="M361.3 304.7L368.9 300.6L363.2 295.1L355.7 299z" fill="#8e95f9"/>
<path d="M368.4 301L375.9 296.8L370.2 291.3L362.7 295.5z" fill="#8e99fb"/>
<path d="M375.4 297.2L383 292.7L377.3 287.3L369.7 291.7z" fill="#8d9cfc"/>
<path d="M382.4 293.1L390 288.4L384.3 283.2L376.7 287.8z" fill="#8da0fe"/>
<path d="M389.5 288.9L397 284L391.3 278.9L383.8 283.6z" fill="#8ba5fe"/>
<path d="M396.5 284.4L404 279.3L398.4 274.3L390.8 279.3z" fill="#88a9ff"/>
<path d="M403.5 279.8L411.1 274.5L405.4 269.6L397.8 274.8z" fill="#83aefe"/>
<path d="M410.5 274.9L418.1 269.4L412.4 264.7L404.8 270.1z" fill="#81b3fc"/>
<path d="M417.6 269.9L425.1 264.2L419.4 259.6L411.9 265.2z" fill="#80b7f9"/>
<path d="M424.6 264.7L432.2 258.8L426.5 254.3L418.9 260.1z" fill="#7fbcf6"/>
<path d="M431.6 259.2L439.2 253.1L433.5 248.9L425.9 254.8z" fill="#7cc0f2"/>
<path d="M438.7 253.6L446.2 247.3L440.5 243.2L433 249.4z" fill="#7ac5f0"/>
<path d="M445.7 247.8L453.2 241.3L447.5 237.4L440 243.7z" fill="#78c9ed"/>
<path d="M452.7 241.8L460.3 235.1L454.6 231.4L447 237.9z" fill="#74ceea"/>
<path d="M459.7 235.7L467.3 228.7L461.6 225.1L454.1 231.9z" fill="#6cd1e4"/>
<path d="M466.8 229.3L474.3 222.2L468.6 218.8L461.1 225.7z" fill="#66d5dd"/>
<path d="M473.8 222.7L481.3 215.4L475.6 212.2L468.1 219.3z" fill="#6ed7d6"/>
<path d="M480.8 216L488.4 208.5L482.7 205.4L475.1 212.8z" fill="#7bdace"/>
<path d="M487.9 209.1L495.4 201.3L489.7 198.5L482.2 206z" fill="#83dcc5"/>
<path d="M494.9 201.9L502.4 194L496.7 191.4L489.2 199.1z" fill="#8bdfba"/>
<path d="M501.9 194.6L509.4 186.5L503.8 184.1L496.2 192z" fill="#99e0ae"/>
<path d="M508.9 187.1L516.4 178.8L510.8 176.6L503.3 184.7z" fill="#abe09f"/>
<path d="M516 179.5L523.5 171L517.8 168.9L510.3 177.2z" fill="#bedf91"/>
<path d="M523 171.6L530.5 162.9L524.8 161.1L517.3 169.6z" fill="#d0dc83"/>
<path d="M530 163.6L537.5 154.7L531.9 153.1L524.4 161.8z" fill="#e1d87b"/>
<path d="M537 155.4L544.5 146.3L538.9 144.9L531.4 153.8z" fill="#f1d57f"/>
<path d="M544.1 147L551.6 137.7L545.9 136.6L538.4 145.6z" fill="#fdd687"/>
<path d="M106.4 299.7L114.1 304L108.8 297.9L101.1 293.7z" fill="#518dfd"/>
<path d="M113.4 304L121.2 308L115.8 301.8L108.1 297.9z" fill="#5987ff"/>
<path d="M120.5 308.1L128.2 311.8L122.8 305.5L115.1 301.8z" fill="#5e81fe"/>
<path d="M127.6 311.9L135.2 315.4L129.8 309L122.1 305.5z" fill="#617bfd"/>
<path d="M134.6 315.5L142.2 318.7L136.8 312.2L129.2 309z" fill="#6275fb"/>
<path d="M141.7 318.8L149.3 321.8L143.8 315.3L136.2 312.3z" fill="#6572f9"/>
<path d="M148.7 321.9L156.3 324.7L150.8 318.1L143.2 315.4z" fill="#6870f6"/>
<path d="M155.7 324.8L163.3 327.3L157.8 320.7L150.2 318.2z" fill="#6b6ef3"/>
<path d="M162.8 327.5L170.4 329.7L164.9 323.1L157.3 320.8z" fill="#6d6df0"/>
<path d="M169.8 329.9L177.4 331.9L171.9 325.3L164.3 323.2z" fill="#6f6cec"/>
<path d="M176.9 332.1L184.4 333.9L178.9 327.2L171.3 325.4z" fill="#716be9"/>
<path d="M183.9 334.1L191.5 335.7L185.9 328.9L178.3 327.4z" fill="#736be6"/>
<path d="M190.9 335.9L198.5 337.2L192.9 330.5L185.4 329.1z" fill="#746be2"/>
<path d="M198 337.4L205.5 338.5L200 331.8L192.4 330.6z" fill="#766bdf"/>
<path d="M205 338.7L212.5 339.6L207 332.9L199.4 332z" fill="#776bdc"/>
<path d="M212 339.8L219.6 340.5L214 333.7L206.4 333.1z" fill="#786cd9"/>
<path d="M219.1 340.7L226.6 341.2L221 334.4L213.5 333.9z" fill="#796dd7"/>
<path d="M226.1 341.4L233.6 341.6L228 334.8L220.5 334.6z" fill="#7b6ed5"/>
<path d="M233.1 341.8L240.7 341.8L235.1 335.1L227.5 335.1z" fill="#7c6ed4"/>
<path d="M240.2 342.1L247.7 341.8L242.1 335.1L234.5 335.3z" fill="#7d6fd3"/>
<path d="M247.2 342.1L254.7 341.6L249.1 334.9L241.6 335.3z" fill="#7e71d3"/>
<path d="M254.2 341.9L261.8 341.2L256.1 334.5L248.6 335.2z" fill="#7f72d3"/>
<path d="M261.2 341.5L268.8 340.6L263.2 333.9L255.6 334.8z" fill="#8073d4"/>
<path d="M268.3 340.8L275.8 339.7L270.2 333.1L262.6 334.2z" fill="#8174d5"/>
<path d="M275.3 340L282.9 338.6L277.2 332.1L269.7 333.4z" fill="#8276d6"/>
<path d="M282.3 338.9L289.9 337.4L284.2 330.8L276.7 332.3z" fill="#8377d8"/>
<path d="M289.4 337.6L296.9 335.9L291.3 329.4L283.7 331.1z" fill="#8579da"/>
<path d="M296.4 336.2L303.9 334.2L298.3 327.8L290.7 329.7z" fill="#867bdd"/>
<path d="M303.4 334.5L311 332.3L305.3 325.9L297.8 328.1z" fill="#877cdf"/>
<path d="M310.5 332.6L318 330.1L312.3 323.9L304.8 326.2z" fill="#887ee3"/>
<path d="M317.5 330.5L325 327.8L319.4 321.6L311.8 324.2z" fill="#8981e6"/>
<path d="M324.5 328.1L332.1 325.3L326.4 319.1L318.8 321.9z" fill="#8a83e9"/>
<path d="M331.5 325.6L339.1 322.5L333.4 316.5L325.9 319.5z" fill="#8b86ec"/>
<path d="M338.6 322.9L346.1 319.6L340.4 313.6L332.9 316.8z" fill="#8c88ef"/>
<path d="M345.6 319.9L353.2 316.4L347.5 310.5L339.9 314z" fill="#8d8cf2"/>
<path d="M352.6 316.8L360.2 313.1L354.5 307.3L346.9 310.9z" fill="#8d8ff5"/>
<path d="M359.7 313.4L367.2 309.5L361.5 303.8L354 307.7z" fill="#8e92f7"/>
<path d="M366.7 309.9L374.2 305.7L368.5 300.1L361 304.2z" fill="#8e96f9"/>
<path d="M373.7 306.1L381.3 301.8L375.6 296.3L368 300.5z" fill="#8e99fb"/>
<path d="M380.7 302.2L388.3 297.6L382.6 292.2L375 296.7z" fill="#8e9dfd"/>
<path d="M387.8 298L395.3 293.2L389.6 288L382.1 292.7z" fill="#8da1fe"/>
<path d="M394.8 293.6L402.4 288.6L396.7 283.5L389.1 288.4z" fill="#8ba6ff"/>
<path d="M401.8 289.1L409.4 283.8L403.7 278.9L396.1 284z" fill="#87abff"/>
<path d="M408.8 284.3L416.4 278.9L410.7 274L403.1 279.3z" fill="#82b0fd"/>
<path d="M415.9 279.3L423.4 273.7L417.7 269L410.2 274.5z" fill="#81b4fb"/>
<path d="M422.9 274.2L430.5 268.3L424.8 263.8L417.2 269.5z" fill="#80b9f8"/>
<path d="M429.9 268.8L437.5 262.8L431.8 258.4L424.2 264.3z" fill="#7ebef5"/>
<path d="M437 263.2L444.5 257L438.8 252.7L431.3 258.9z" fill="#7cc2f1"/>
<path d="M444 257.5L451.5 251L445.8 246.9L438.3 253.3z" fill="#7ac7ef"/>
<path d="M451 251.5L458.6 244.9L452.9 241L445.3 247.5z" fill="#77cbec"/>
<path d="M458 245.4L465.6 238.5L459.9 234.8L452.4 241.5z" fill="#72cfe8"/>
<path d="M465.1 239.1L472.6 232L466.9 228.4L459.4 235.3z" fill="#69d3e1"/>
<path d="M472.1 232.5L479.6 225.2L474 221.8L466.4 229z" fill="#68d6da"/>
<path d="M479.1 225.8L486.7 218.3L481 215.1L473.4 222.4z" fill="#75d9d3"/>
<path d="M486.2 218.9L493.7 211.2L488 208.2L480.5 215.7z" fill="#80dbca"/>
<path d="M493.2 211.8L500.7 203.9L495 201L487.5 208.8z" fill="#86dec1"/>
<path d="M500.2 204.5L507.7 196.4L502.1 193.7L494.5 201.7z" fill="#92e0b5"/>
<path d="M507.2 197L514.8 188.7L509.1 186.3L501.6 194.4z" fill="#a2e1a7"/>
<path d="M514.3 189.3L521.8 180.8L516.1 178.6L508.6 186.9z" fill="#b5e099"/>
<path d="M521.3 181.5L528.8 172.8L523.1 170.7L515.6 179.2z" fill="#c8de8a"/>
<path d="M528.3 173.4L535.8 164.5L530.2 162.7L522.7 171.4z" fill="#dada7e"/>
<path d="M535.3 165.2L542.8 156.1L537.2 154.5L529.7 163.4z" fill="#ead77c"/>
<path d="M542.4 156.8L549.9 147.5L544.2 146.1L536.7 155.1z" fill="#f8d586"/>
<path d="M549.4 148.1L556.9 138.7L551.3 137.5L543.8 146.8z" fill="#ffda85"/>
<path d="M111.7 305.3L119.5 309.7L114.1 303.4L106.4 299.2z" fill="#518efd"/>
<path d="M118.8 309.7L126.5 313.7L121.1 307.4L113.4 303.4z" fill="#5987ff"/>
<path d="M125.8 313.8L133.5 317.6L128.1 311.2L120.4 307.5z" fill="#5e81fe"/>
<path d="M132.9 317.7L140.5 321.2L135.1 314.7L127.5 311.3z" fill="#617bfd"/>
<path d="M139.9 321.3L147.6 324.6L142.1 318L134.5 314.8z" fill="#6275fb"/>
<path d="M147 324.7L154.6 327.7L149.1 321.1L141.5 318.2z" fill="#6572f8"/>
<path d="M154 327.9L161.6 330.7L156.2 324L148.5 321.3z" fill="#6870f6"/>
<path d="M161.1 330.8L168.7 333.3L163.2 326.7L155.6 324.1z" fill="#6b6ef3"/>
<path d="M168.1 333.5L175.7 335.8L170.2 329.1L162.6 326.8z" fill="#6d6def"/>
<path d="M175.1 336L182.7 338L177.2 331.3L169.6 329.2z" fill="#6f6cec"/>
<path d="M182.2 338.2L189.8 340L184.2 333.3L176.6 331.5z" fill="#716be9"/>
<path d="M189.2 340.2L196.8 341.8L191.2 335L183.7 333.4z" fill="#736be5"/>
<path d="M196.3 342L203.8 343.4L198.3 336.6L190.7 335.2z" fill="#746be2"/>
<path d="M203.3 343.6L210.8 344.7L205.3 337.9L197.7 336.8z" fill="#766bde"/>
<path d="M210.3 344.9L217.9 345.8L212.3 339L204.7 338.1z" fill="#776bdb"/>
<path d="M217.4 346L224.9 346.7L219.3 339.9L211.8 339.2z" fill="#786cd9"/>
<path d="M224.4 346.9L231.9 347.3L226.3 340.5L218.8 340.1z" fill="#796dd6"/>
<path d="M231.4 347.6L239 347.8L233.4 341L225.8 340.7z" fill="#7b6dd5"/>
<path d="M238.5 348L246 348L240.4 341.2L232.8 341.2z" fill="#7c6ed3"/>
<path d="M245.5 348.2L253 348L247.4 341.2L239.9 341.4z" fill="#7d6fd3"/>
<path d="M252.5 348.2L260.1 347.7L254.4 341L246.9 341.4z" fill="#7e70d2"/>
<path d="M259.5 348L267.1 347.3L261.5 340.6L253.9 341.2z" fill="#7f72d3"/>
<path d="M266.6 347.5L274.1 346.6L268.5 339.9L260.9 340.8z" fill="#8073d3"/>
<path d="M273.6 346.9L281.2 345.7L275.5 339.1L268 340.2z" fill="#8174d4"/>
<path d="M280.6 346L288.2 344.6L282.5 338L275 339.4z" fill="#8276d6"/>
<path d="M287.7 344.9L295.2 343.3L289.6 336.8L282 338.3z" fill="#8477d7"/>
<path d="M294.7 343.6L302.2 341.8L296.6 335.3L289 337.1z" fill="#8579da"/>
<path d="M301.7 342.1L309.3 340L303.6 333.6L296.1 335.6z" fill="#867bdc"/>
<path d="M308.8 340.3L316.3 338L310.6 331.7L303.1 333.9z" fill="#877ddf"/>
<path d="M315.8 338.4L323.3 335.9L317.7 329.6L310.1 332z" fill="#887fe3"/>
<path d="M322.8 336.2L330.4 333.5L324.7 327.3L317.1 329.9z" fill="#8981e6"/>
<path d="M329.8 333.8L337.4 330.9L331.7 324.7L324.2 327.6z" fill="#8a83e9"/>
<path d="M336.9 331.2L344.4 328L338.7 322L331.2 325.1z" fill="#8b86ec"/>
<path d="M343.9 328.4L351.5 325L345.8 319L338.2 322.3z" fill="#8c89ef"/>
<path d="M350.9 325.4L358.5 321.8L352.8 315.9L345.2 319.4z" fill="#8d8cf2"/>
<path d="M358 322.1L365.5 318.3L359.8 312.5L352.3 316.3z" fill="#8d90f5"/>
<path d="M365 318.7L372.5 314.7L366.9 309L359.3 312.9z" fill="#8e93f7"/>
<path d="M372 315.1L379.6 310.8L373.9 305.2L366.3 309.4z" fill="#8e97fa"/>
<path d="M379 311.2L386.6 306.7L380.9 301.3L373.3 305.6z" fill="#8e9afc"/>
<path d="M386.1 307.1L393.6 302.4L387.9 297.1L380.4 301.7z" fill="#8e9efd"/>
<path d="M393.1 302.9L400.7 298L395 292.7L387.4 297.5z" fill="#8ca3fe"/>
<path d="M400.1 298.4L407.7 293.3L402 288.2L394.4 293.2z" fill="#8aa7ff"/>
<path d="M407.2 293.7L414.7 288.4L409 283.4L401.5 288.6z" fill="#86acfe"/>
<path d="M414.2 288.8L421.7 283.3L416 278.4L408.5 283.9z" fill="#82b1fd"/>
<path d="M421.2 283.7L428.8 278L423.1 273.3L415.5 278.9z" fill="#81b6fa"/>
<path d="M428.2 278.4L435.8 272.5L430.1 267.9L422.5 273.8z" fill="#80bbf7"/>
<path d="M435.3 272.9L442.8 266.8L437.1 262.4L429.6 268.4z" fill="#7ebff4"/>
<path d="M442.3 267.3L449.8 260.8L444.1 256.6L436.6 262.9z" fill="#7cc4f0"/>
<path d="M449.3 261.4L456.9 254.7L451.2 250.7L443.6 257.1z" fill="#79c8ee"/>
<path d="M456.3 255.3L463.9 248.4L458.2 244.5L450.7 251.2z" fill="#76cdeb"/>
<path d="M463.4 249L470.9 241.9L465.2 238.2L457.7 245.1z" fill="#6fd1e5"/>
<path d="M470.4 242.5L477.9 235.2L472.3 231.6L464.7 238.7z" fill="#67d4df"/>
<path d="M477.4 235.8L485 228.3L479.3 224.9L471.7 232.2z" fill="#6cd7d7"/>
<path d="M484.5 228.9L492 221.2L486.3 218L478.8 225.5z" fill="#7bdacf"/>
<path d="M491.5 221.8L499 213.9L493.3 210.9L485.8 218.6z" fill="#83dcc6"/>
<path d="M498.5 214.5L506 206.4L500.4 203.6L492.8 211.5z" fill="#8bdfbc"/>
<path d="M505.5 207.1L513.1 198.8L507.4 196.1L499.9 204.2z" fill="#9ae0af"/>
<path d="M512.6 199.4L520.1 190.9L514.4 188.4L506.9 196.7z" fill="#abe1a1"/>
<path d="M519.6 191.5L527.1 182.8L521.4 180.6L513.9 189.1z" fill="#bfdf92"/>
<path d="M526.6 183.5L534.1 174.6L528.5 172.5L521 181.2z" fill="#d1dc84"/>
<path d="M533.7 175.2L541.1 166.1L535.5 164.3L528 173.2z" fill="#e3d87c"/>
<path d="M540.7 166.8L548.2 157.5L542.5 155.9L535 165z" fill="#f2d581"/>
<path d="M547.7 158.2L555.2 148.7L549.6 147.3L542.1 156.5z" fill="#fed788"/>
<path d="M554.7 149.3L562.2 139.6L556.6 138.5L549.1 147.9z" fill="#fedf82"/>
<path d="M117.1 311L124.8 315.4L119.5 309.1L111.7 304.8z" fill="#528efd"/>
<path d="M124.1 315.4L131.8 319.6L126.5 313.1L118.8 309.1z" fill="#5987ff"/>
<path d="M131.2 319.6L138.8 323.5L133.5 317L125.8 313.2z" fill="#5e81fe"/>
<path d="M138.2 323.5L145.9 327.1L140.5 320.6L132.8 317z" fill="#617afd"/>
<path d="M145.3 327.2L152.9 330.5L147.5 323.9L139.8 320.7z" fill="#6275fb"/>
<path d="M152.3 330.7L159.9 333.7L154.5 327.1L146.9 324z" fill="#6572f8"/>
<path d="M159.4 333.9L167 336.7L161.5 330L153.9 327.2z" fill="#6870f5"/>
<path d="M166.4 336.8L174 339.4L168.5 332.7L160.9 330.1z" fill="#6b6ef2"/>
<path d="M173.4 339.6L181 341.9L175.5 335.1L167.9 332.8z" fill="#6d6def"/>
<path d="M180.5 342.1L188.1 344.2L182.5 337.4L175 335.3z" fill="#6f6cec"/>
<path d="M187.5 344.3L195.1 346.2L189.6 339.4L182 337.5z" fill="#716be8"/>
<path d="M194.5 346.4L202.1 348L196.6 341.2L189 339.6z" fill="#736ae5"/>
<path d="M201.6 348.2L209.1 349.6L203.6 342.7L196 341.3z" fill="#746ae1"/>
<path d="M208.6 349.8L216.2 350.9L210.6 344L203.1 342.9z" fill="#766bdd"/>
<path d="M215.7 351.1L223.2 352L217.6 345.1L210.1 344.2z" fill="#776bda"/>
<path d="M222.7 352.2L230.2 352.9L224.7 346L217.1 345.4z" fill="#786cd8"/>
<path d="M229.7 353.1L237.3 353.5L231.7 346.7L224.1 346.2z" fill="#796cd5"/>
<path d="M236.7 353.7L244.3 354L238.7 347.1L231.1 346.9z" fill="#7b6dd4"/>
<path d="M243.8 354.2L251.3 354.2L245.7 347.3L238.2 347.4z" fill="#7c6ed3"/>
<path d="M250.8 354.4L258.4 354.1L252.7 347.3L245.2 347.6z" fill="#7d6fd2"/>
<path d="M257.8 354.4L265.4 353.9L259.8 347.1L252.2 347.6z" fill="#7e70d2"/>
<path d="M264.9 354.1L272.4 353.4L266.8 346.7L259.2 347.4z" fill="#7f72d2"/>
<path d="M271.9 353.6L279.5 352.7L273.8 346L266.3 346.9z" fill="#8073d3"/>
<path d="M278.9 353L286.5 351.8L280.8 345.1L273.3 346.3z" fill="#8174d4"/>
<path d="M286 352L293.5 350.6L287.9 344L280.3 345.4z" fill="#8376d5"/>
<path d="M293 350.9L300.5 349.3L294.9 342.7L287.3 344.3z" fill="#8477d7"/>
<path d="M300 349.5L307.6 347.7L301.9 341.2L294.4 343z" fill="#8579d9"/>
<path d="M307.1 348L314.6 345.9L308.9 339.4L301.4 341.5z" fill="#867bdc"/>
<path d="M314.1 346.2L321.6 343.8L316 337.5L308.4 339.7z" fill="#877ddf"/>
<path d="M321.1 344.1L328.7 341.6L323 335.3L315.4 337.8z" fill="#887fe3"/>
<path d="M328.1 341.9L335.7 339.1L330 332.9L322.5 335.6z" fill="#8a81e6"/>
<path d="M335.2 339.5L342.7 336.5L337 330.3L329.5 333.2z" fill="#8b84e9"/>
<path d="M342.2 336.8L349.8 333.6L344.1 327.5L336.5 330.7z" fill="#8c87ed"/>
<path d="M349.2 333.9L356.8 330.4L351.1 324.5L343.5 327.9z" fill="#8c8af0"/>
<path d="M356.3 330.8L363.8 327.1L358.1 321.3L350.6 324.8z" fill="#8d8df3"/>
<path d="M363.3 327.5L370.8 323.6L365.2 317.8L357.6 321.6z" fill="#8e90f5"/>
<path d="M370.3 324L377.9 319.8L372.2 314.2L364.6 318.2z" fill="#8e94f8"/>
<path d="M377.3 320.2L384.9 315.9L379.2 310.3L371.6 314.6z" fill="#8e98fa"/>
<path d="M384.4 316.3L391.9 311.7L386.2 306.2L378.7 310.7z" fill="#8e9bfc"/>
<path d="M391.4 312.1L399 307.3L393.3 302L385.7 306.7z" fill="#8ea0fd"/>
<path d="M398.4 307.7L406 302.7L400.3 297.5L392.7 302.4z" fill="#8ca4fe"/>
<path d="M405.5 303.1L413 297.9L407.3 292.8L399.8 297.9z" fill="#89a9ff"/>
<path d="M412.5 298.3L420 292.9L414.3 287.9L406.8 293.3z" fill="#85aefe"/>
<path d="M419.5 293.3L427.1 287.7L421.4 282.8L413.8 288.4z" fill="#82b3fc"/>
<path d="M426.5 288.1L434.1 282.2L428.4 277.6L420.8 283.3z" fill="#81b7fa"/>
<path d="M433.6 282.7L441.1 276.6L435.4 272.1L427.9 278z" fill="#80bcf6"/>
<path d="M440.6 277.1L448.1 270.7L442.4 266.4L434.9 272.6z" fill="#7dc1f3"/>
<path d="M447.6 271.2L455.2 264.7L449.5 260.5L441.9 266.9z" fill="#7bc6f0"/>
<path d="M454.7 265.2L462.2 258.4L456.5 254.4L449 261z" fill="#78caed"/>
<path d="M461.7 259L469.2 252L463.5 248.1L456 254.9z" fill="#74cfe9"/>
<path d="M468.7 252.5L476.2 245.3L470.6 241.6L463 248.6z" fill="#6bd2e3"/>
<path d="M475.7 245.9L483.3 238.5L477.6 234.9L470 242.1z" fill="#67d6dc"/>
<path d="M482.8 239L490.3 231.4L484.6 228L477.1 235.5z" fill="#73d8d4"/>
<path d="M489.8 232L497.3 224.1L491.6 220.9L484.1 228.6z" fill="#7fdbcc"/>
<path d="M496.8 224.7L504.3 216.7L498.7 213.6L491.1 221.5z" fill="#86dec2"/>
<path d="M503.8 217.3L511.4 209L505.7 206.2L498.2 214.3z" fill="#91e0b7"/>
<path d="M510.9 209.6L518.4 201.1L512.7 198.5L505.2 206.8z" fill="#a1e1a9"/>
<path d="M517.9 201.8L525.4 193.1L519.7 190.6L512.2 199.1z" fill="#b5e09a"/>
<path d="M524.9 193.7L532.4 184.8L526.8 182.6L519.3 191.3z" fill="#c8de8b"/>
<path d="M532 185.5L539.5 176.4L533.8 174.3L526.3 183.2z" fill="#dbda80"/>
<path d="M539 177L546.5 167.7L540.8 165.9L533.3 175z" fill="#ebd77e"/>
<path d="M546 168.4L553.5 158.9L547.9 157.3L540.4 166.6z" fill="#f9d588"/>
<path d="M553 159.6L560.5 149.9L554.9 148.4L547.4 157.9z" fill="#fedb86"/>
<path d="M560.1 150.5L567.5 140.6L561.9 139.4L554.4 149.1z" fill="#fce57f"/>
<path d="M122.4 316.8L130.1 321.2L124.8 314.8L117.1 310.5z" fill="#528efd"/>
<path d="M129.4 321.3L137.1 325.4L131.8 318.9L124.1 314.8z" fill="#5987ff"/>
<path d="M136.5 325.5L144.2 329.4L138.8 322.8L131.1 319z" fill="#5e80fe"/>
<path d="M143.6 329.5L151.2 333.1L145.8 326.5L138.1 322.9z" fill="#617afd"/>
<path d="M150.6 333.2L158.2 336.6L152.8 329.9L145.2 326.6z" fill="#6275fb"/>
<path d="M157.6 336.7L165.3 339.8L159.8 333.1L152.2 330z" fill="#6572f8"/>
<path d="M164.7 339.9L172.3 342.8L166.8 336L159.2 333.2z" fill="#686ff5"/>
<path d="M171.7 342.9L179.3 345.6L173.8 338.8L166.2 336.2z" fill="#6b6ef2"/>
<path d="M178.8 345.7L186.4 348.1L180.8 341.3L173.3 338.9z" fill="#6d6cef"/>
<path d="M185.8 348.2L193.4 350.4L187.9 343.5L180.3 341.4z" fill="#6f6beb"/>
<path d="M192.8 350.5L200.4 352.4L194.9 345.5L187.3 343.7z" fill="#716ae7"/>
<path d="M199.9 352.6L207.4 354.2L201.9 347.3L194.3 345.7z" fill="#736ae4"/>
<path d="M206.9 354.4L214.5 355.8L208.9 348.9L201.4 347.5z" fill="#756ae0"/>
<path d="M213.9 356L221.5 357.1L215.9 350.2L208.4 349.1z" fill="#766add"/>
<path d="M221 357.3L228.5 358.2L223 351.3L215.4 350.4z" fill="#776bd9"/>
<path d="M228 358.4L235.6 359.1L230 352.2L222.4 351.6z" fill="#786cd7"/>
<path d="M235 359.3L242.6 359.8L237 352.9L229.5 352.4z" fill="#7a6cd4"/>
<path d="M242.1 360L249.6 360.2L244 353.3L236.5 353.1z" fill="#7b6dd3"/>
<path d="M249.1 360.4L256.7 360.4L251.1 353.5L243.5 353.5z" fill="#7c6ed2"/>
<path d="M256.1 360.6L263.7 360.3L258.1 353.5L250.5 353.7z" fill="#7d6fd1"/>
<path d="M263.2 360.5L270.7 360L265.1 353.2L257.6 353.7z" fill="#7e70d1"/>
<path d="M270.2 360.3L277.8 359.5L272.1 352.8L264.6 353.5z" fill="#7f72d1"/>
<path d="M277.2 359.8L284.8 358.8L279.1 352.1L271.6 353z" fill="#8073d2"/>
<path d="M284.3 359L291.8 357.8L286.2 351.2L278.6 352.3z" fill="#8274d3"/>
<path d="M291.3 358.1L298.8 356.6L293.2 350L285.6 351.4z" fill="#8376d5"/>
<path d="M298.3 356.9L305.9 355.2L300.2 348.7L292.7 350.3z" fill="#8478d7"/>
<path d="M305.4 355.5L312.9 353.6L307.2 347.1L299.7 349z" fill="#8579d9"/>
<path d="M312.4 353.9L319.9 351.7L314.3 345.3L306.7 347.4z" fill="#867bdc"/>
<path d="M319.4 352L327 349.6L321.3 343.3L313.7 345.6z" fill="#887ddf"/>
<path d="M326.4 349.9L334 347.3L328.3 341L320.8 343.6z" fill="#897fe3"/>
<path d="M333.5 347.6L341 344.8L335.4 338.6L327.8 341.4z" fill="#8a81e6"/>
<path d="M340.5 345.1L348.1 342L342.4 335.9L334.8 338.9z" fill="#8b84ea"/>
<path d="M347.5 342.4L355.1 339.1L349.4 333L341.8 336.3z" fill="#8c87ed"/>
<path d="M354.6 339.4L362.1 335.9L356.4 329.9L348.9 333.4z" fill="#8d8af0"/>
<path d="M361.6 336.2L369.1 332.5L363.5 326.6L355.9 330.3z" fill="#8d8df3"/>
<path d="M368.6 332.8L376.2 328.8L370.5 323.1L362.9 327z" fill="#8e91f6"/>
<path d="M375.6 329.2L383.2 325L377.5 319.3L370 323.5z" fill="#8e95f8"/>
<path d="M382.7 325.4L390.2 320.9L384.5 315.4L377 319.7z" fill="#8f98fa"/>
<path d="M389.7 321.3L397.3 316.7L391.6 311.2L384 315.8z" fill="#8e9cfc"/>
<path d="M396.7 317.1L404.3 312.2L398.6 306.8L391 311.6z" fill="#8ea1fe"/>
<path d="M403.8 312.6L411.3 307.4L405.6 302.3L398.1 307.3z" fill="#8ca5fe"/>
<path d="M410.8 307.9L418.3 302.5L412.6 297.5L405.1 302.7z" fill="#89aaff"/>
<path d="M417.8 303L425.4 297.4L419.7 292.5L412.1 297.9z" fill="#84affe"/>
<path d="M424.8 297.9L432.4 292L426.7 287.2L419.1 292.9z" fill="#81b4fc"/>
<path d="M431.9 292.5L439.4 286.5L433.7 281.8L426.2 287.7z" fill="#81b9f9"/>
<path d="M438.9 287L446.4 280.7L440.7 276.2L433.2 282.3z" fill="#80bef5"/>
<path d="M445.9 281.2L453.5 274.7L447.8 270.4L440.2 276.7z" fill="#7dc2f2"/>
<path d="M453 275.2L460.5 268.5L454.8 264.3L447.3 270.9z" fill="#7bc7ef"/>
<path d="M460 269.1L467.5 262.1L461.8 258.1L454.3 264.9z" fill="#78ccec"/>
<path d="M467 262.7L474.5 255.5L468.9 251.6L461.3 258.6z" fill="#72d0e7"/>
<path d="M474 256.1L481.6 248.7L475.9 245L468.3 252.2z" fill="#69d4e1"/>
<path d="M481.1 249.3L488.6 241.7L482.9 238.1L475.4 245.6z" fill="#6bd7d9"/>
<path d="M488.1 242.3L495.6 234.5L489.9 231.1L482.4 238.7z" fill="#79dad1"/>
<path d="M495.1 235.1L502.6 227L497 223.8L489.4 231.7z" fill="#83dcc8"/>
<path d="M502.1 227.6L509.7 219.4L504 216.4L496.5 224.4z" fill="#8adfbe"/>
<path d="M509.2 220L516.7 211.6L511 208.7L503.5 217z" fill="#98e1b1"/>
<path d="M516.2 212.2L523.7 203.5L518 200.9L510.5 209.4z" fill="#aae1a3"/>
<path d="M523.2 204.2L530.7 195.3L525.1 192.8L517.6 201.5z" fill="#bedf94"/>
<path d="M530.3 195.9L537.8 186.8L532.1 184.6L524.6 193.5z" fill="#d1dd86"/>
<path d="M537.3 187.5L544.8 178.2L539.1 176.1L531.6 185.2z" fill="#e3d97e"/>
<path d="M544.3 178.9L551.8 169.4L546.2 167.5L538.7 176.8z" fill="#f2d683"/>
<path d="M551.3 170L558.8 160.3L553.2 158.7L545.7 168.2z" fill="#fed78a"/>
<path d="M558.4 161L565.8 151.1L560.2 149.7L552.7 159.4z" fill="#fee083"/>
<path d="M565.4 151.8L572.9 141.6L567.2 140.4L559.8 150.3z" fill="#faea7d"/>
<path d="M127.7 322.7L135.4 327.2L130.1 320.7L122.4 316.2z" fill="#528efd"/>
<path d="M134.8 327.2L142.5 331.4L137.1 324.8L129.4 320.7z" fill="#5987ff"/>
<path d="M141.8 331.5L149.5 335.4L144.1 328.8L136.4 324.9z" fill="#5e80fe"/>
<path d="M148.9 335.5L156.5 339.2L151.1 332.5L143.5 328.8z" fill="#617afd"/>
<path d="M155.9 339.3L163.6 342.7L158.1 335.9L150.5 332.6z" fill="#6274fb"/>
<path d="M163 342.8L170.6 346L165.1 339.2L157.5 336z" fill="#6671f8"/>
<path d="M170 346.1L177.6 349L172.1 342.1L164.5 339.3z" fill="#696ff5"/>
<path d="M177.1 349.1L184.7 351.8L179.2 344.9L171.6 342.3z" fill="#6b6df1"/>
<path d="M184.1 351.9L191.7 354.3L186.2 347.4L178.6 345z" fill="#6e6cee"/>
<path d="M191.1 354.5L198.7 356.6L193.2 349.7L185.6 347.6z" fill="#706beb"/>
<path d="M198.2 356.8L205.7 358.7L200.2 351.7L192.6 349.9z" fill="#716ae7"/>
<path d="M205.2 358.8L212.8 360.5L207.2 353.6L199.7 351.9z" fill="#736ae3"/>
<path d="M212.2 360.7L219.8 362.1L214.2 355.1L206.7 353.7z" fill="#756adf"/>
<path d="M219.3 362.2L226.8 363.4L221.3 356.5L213.7 355.3z" fill="#766adb"/>
<path d="M226.3 363.6L233.9 364.5L228.3 357.6L220.7 356.7z" fill="#776bd8"/>
<path d="M233.3 364.7L240.9 365.4L235.3 358.5L227.8 357.8z" fill="#786bd6"/>
<path d="M240.4 365.6L247.9 366L242.3 359.1L234.8 358.7z" fill="#7a6cd3"/>
<path d="M247.4 366.2L255 366.4L249.4 359.5L241.8 359.3z" fill="#7b6dd2"/>
<path d="M254.4 366.6L262 366.6L256.4 359.7L248.8 359.7z" fill="#7c6ed1"/>
<path d="M261.5 366.8L269 366.5L263.4 359.7L255.9 359.9z" fill="#7d6fd0"/>
<path d="M268.5 366.7L276.1 366.2L270.4 359.4L262.9 359.9z" fill="#7e70d0"/>
<path d="M275.5 366.4L283.1 365.7L277.5 358.9L269.9 359.6z" fill="#7f72d0"/>
<path d="M282.6 365.9L290.1 364.9L284.5 358.2L276.9 359.1z" fill="#8173d1"/>
<path d="M289.6 365.1L297.1 363.9L291.5 357.2L284 358.4z" fill="#8274d2"/>
<path d="M296.6 364.1L304.2 362.7L298.5 356L291 357.5z" fill="#8376d4"/>
<path d="M303.7 362.9L311.2 361.2L305.6 354.6L298 356.3z" fill="#8478d6"/>
<path d="M310.7 361.5L318.2 359.5L312.6 353L305 354.9z" fill="#8579d9"/>
<path d="M317.7 359.8L325.3 357.6L319.6 351.1L312.1 353.3z" fill="#877bdc"/>
<path d="M324.7 357.9L332.3 355.4L326.6 349.1L319.1 351.4z" fill="#887ddf"/>
<path d="M331.8 355.7L339.3 353.1L333.7 346.8L326.1 349.4z" fill="#897fe3"/>
<path d="M338.8 353.4L346.4 350.5L340.7 344.2L333.1 347.1z" fill="#8a82e6"/>
<path d="M345.8 350.8L353.4 347.6L347.7 341.5L340.2 344.6z" fill="#8b84ea"/>
<path d="M352.9 348L360.4 344.6L354.7 338.5L347.2 341.8z" fill="#8c87ed"/>
<path d="M359.9 344.9L367.4 341.3L361.8 335.4L354.2 338.9z" fill="#8d8bf0"/>
<path d="M366.9 341.7L374.5 337.8L368.8 332L361.2 335.7z" fill="#8e8ef3"/>
<path d="M373.9 338.2L381.5 334.1L375.8 328.3L368.3 332.3z" fill="#8e92f6"/>
<path d="M381 334.5L388.5 330.2L382.8 324.5L375.3 328.7z" fill="#8f95f9"/>
<path d="M388 330.6L395.6 326L389.9 320.5L382.3 324.9z" fill="#8f99fb"/>
<path d="M395 326.4L402.6 321.6L396.9 316.2L389.3 320.9z" fill="#8e9dfd"/>
<path d="M402.1 322L409.6 317L403.9 311.7L396.4 316.6z" fill="#8ea2fe"/>
<path d="M409.1 317.4L416.6 312.2L410.9 307L403.4 312.1z" fill="#8ca6ff"/>
<path d="M416.1 312.6L423.7 307.1L418 302.1L410.4 307.5z" fill="#88abff"/>
<path d="M423.1 307.6L430.7 301.9L425 297L417.4 302.6z" fill="#83b1fd"/>
<path d="M430.2 302.4L437.7 296.4L432 291.6L424.5 297.4z" fill="#82b5fb"/>
<path d="M437.2 296.9L444.8 290.7L439.1 286.1L431.5 292.1z" fill="#81baf8"/>
<path d="M444.2 291.2L451.8 284.8L446.1 280.3L438.5 286.6z" fill="#7fbff4"/>
<path d="M451.3 285.3L458.8 278.7L453.1 274.4L445.6 280.8z" fill="#7dc4f1"/>
<path d="M458.3 279.2L465.8 272.4L460.1 268.2L452.6 274.9z" fill="#7ac9ee"/>
<path d="M465.3 272.9L472.9 265.8L467.2 261.8L459.6 268.7z" fill="#76cdeb"/>
<path d="M472.3 266.4L479.9 259.1L474.2 255.2L466.6 262.3z" fill="#6fd2e5"/>
<path d="M479.4 259.6L486.9 252.1L481.2 248.4L473.7 255.8z" fill="#68d5de"/>
<path d="M486.4 252.7L493.9 244.9L488.2 241.4L480.7 249z" fill="#70d8d6"/>
<path d="M493.4 245.5L500.9 237.6L495.3 234.2L487.7 242z" fill="#7edbce"/>
<path d="M500.5 238.1L508 230L502.3 226.8L494.8 234.8z" fill="#86ddc5"/>
<path d="M507.5 230.6L515 222.2L509.3 219.1L501.8 227.4z" fill="#90e0b9"/>
<path d="M514.5 222.8L522 214.1L516.3 211.3L508.8 219.7z" fill="#a0e1ac"/>
<path d="M521.5 214.8L529 205.9L523.4 203.3L515.9 211.9z" fill="#b3e19d"/>
<path d="M528.6 206.6L536.1 197.5L530.4 195L522.9 203.9z" fill="#c7de8d"/>
<path d="M535.6 198.1L543.1 188.9L537.4 186.6L529.9 195.7z" fill="#dadb81"/>
<path d="M542.6 189.5L550.1 180L544.5 178L537 187.3z" fill="#ebd77f"/>
<path d="M549.6 180.7L557.1 171L551.5 169.1L544 178.6z" fill="#f9d689"/>
<path d="M556.7 171.7L564.2 161.7L558.5 160.1L551 169.8z" fill="#fedc87"/>
<path d="M563.7 162.4L571.2 152.3L565.5 150.9L558.1 160.8z" fill="#fce581"/>
<path d="M570.7 153L578.2 142.7L572.6 141.4L565.1 151.6z" fill="#f9f07c"/>
<path d="M133.1 328.6L140.8 333.2L135.4 326.6L127.7 322.1z" fill="#528efd"/>
<path d="M140.1 333.2L147.8 337.5L142.4 330.8L134.8 326.6z" fill="#5986ff"/>
<path d="M147.2 337.5L154.8 341.5L149.4 334.8L141.8 330.8z" fill="#5f80fe"/>
<path d="M154.2 341.6L161.9 345.3L156.4 338.5L148.8 334.8z" fill="#6179fd"/>
<path d="M161.3 345.4L168.9 348.9L163.5 342L155.8 338.6z" fill="#6274fa"/>
<path d="M168.3 349L175.9 352.2L170.5 345.3L162.8 342.1z" fill="#6671f7"/>
<path d="M175.4 352.3L183 355.2L177.5 348.3L169.9 345.4z" fill="#696ff4"/>
<path d="M182.4 355.3L190 358L184.5 351.1L176.9 348.4z" fill="#6b6df1"/>
<path d="M189.4 358.2L197 360.6L191.5 353.6L183.9 351.2z" fill="#6e6ced"/>
<path d="M196.5 360.7L204 362.9L198.5 355.9L190.9 353.8z" fill="#706bea"/>
<path d="M203.5 363.1L211.1 365L205.5 358L198 356.1z" fill="#726ae6"/>
<path d="M210.5 365.1L218.1 366.8L212.6 359.8L205 358.2z" fill="#736ae2"/>
<path d="M217.6 367L225.1 368.4L219.6 361.4L212 360z" fill="#756ade"/>
<path d="M224.6 368.6L232.2 369.7L226.6 362.7L219 361.6z" fill="#766ada"/>
<path d="M231.6 369.9L239.2 370.8L233.6 363.9L226.1 362.9z" fill="#776bd7"/>
<path d="M238.7 371L246.2 371.7L240.6 364.7L233.1 364.1z" fill="#786bd4"/>
<path d="M245.7 371.9L253.3 372.3L247.7 365.4L240.1 364.9z" fill="#7a6cd2"/>
<path d="M252.7 372.5L260.3 372.7L254.7 365.8L247.1 365.6z" fill="#7b6dd1"/>
<path d="M259.8 372.9L267.3 372.8L261.7 365.9L254.2 366z" fill="#7c6ed0"/>
<path d="M266.8 373L274.4 372.7L268.7 365.9L261.2 366.2z" fill="#7d6fcf"/>
<path d="M273.8 373L281.4 372.4L275.8 365.6L268.2 366.1z" fill="#7e70cf"/>
<path d="M280.9 372.6L288.4 371.8L282.8 365L275.2 365.8z" fill="#7f71d0"/>
<path d="M287.9 372.1L295.4 371L289.8 364.3L282.3 365.3z" fill="#8173d1"/>
<path d="M294.9 371.3L302.5 370L296.8 363.3L289.3 364.5z" fill="#8274d2"/>
<path d="M302 370.2L309.5 368.7L303.9 362L296.3 363.5z" fill="#8376d4"/>
<path d="M309 369L316.5 367.2L310.9 360.6L303.3 362.3z" fill="#8478d6"/>
<path d="M316 367.5L323.6 365.4L317.9 358.9L310.4 360.9z" fill="#867ad9"/>
<path d="M323 365.7L330.6 363.4L324.9 357L317.4 359.2z" fill="#877bdc"/>
<path d="M330.1 363.7L337.6 361.2L332 354.9L324.4 357.3z" fill="#887edf"/>
<path d="M337.1 361.5L344.7 358.8L339 352.5L331.4 355.2z" fill="#8980e3"/>
<path d="M344.1 359.1L351.7 356.1L346 349.9L338.5 352.8z" fill="#8a82e6"/>
<path d="M351.2 356.5L358.7 353.2L353 347.1L345.5 350.2z" fill="#8b85ea"/>
<path d="M358.2 353.6L365.7 350.1L360.1 344.1L352.5 347.4z" fill="#8c88ee"/>
<path d="M365.2 350.5L372.8 346.7L367.1 340.8L359.5 344.4z" fill="#8d8bf1"/>
<path d="M372.2 347.1L379.8 343.2L374.1 337.3L366.6 341.2z" fill="#8e8ff4"/>
<path d="M379.3 343.5L386.8 339.3L381.1 333.6L373.6 337.7z" fill="#8f92f6"/>
<path d="M386.3 339.7L393.9 335.3L388.2 329.7L380.6 334z" fill="#8f96f9"/>
<path d="M393.3 335.7L400.9 331L395.2 325.5L387.6 330.1z" fill="#8f9afb"/>
<path d="M400.4 331.5L407.9 326.6L402.2 321.1L394.7 325.9z" fill="#8f9efd"/>
<path d="M407.4 327L414.9 321.9L409.2 316.6L401.7 321.6z" fill="#8da3fe"/>
<path d="M414.4 322.3L422 316.9L416.3 311.7L408.7 317z" fill="#8ba8ff"/>
<path d="M421.4 317.4L429 311.8L423.3 306.7L415.7 312.2z" fill="#87adfe"/>
<path d="M428.5 312.2L436 306.4L430.3 301.5L422.8 307.2z" fill="#83b2fd"/>
<path d="M435.5 306.9L443.1 300.8L437.4 296L429.8 302z" fill="#82b7fa"/>
<path d="M442.5 301.3L450.1 295L444.4 290.3L436.8 296.5z" fill="#81bcf7"/>
<path d="M449.6 295.5L457.1 288.9L451.4 284.4L443.9 290.8z" fill="#7ec1f3"/>
<path d="M456.6 289.5L464.1 282.7L458.4 278.3L450.9 285z" fill="#7cc6f0"/>
<path d="M463.6 283.2L471.2 276.2L465.5 272L457.9 278.9z" fill="#79caed"/>
<path d="M470.6 276.8L478.2 269.5L472.5 265.5L464.9 272.6z" fill="#75cfe9"/>
<path d="M477.7 270.1L485.2 262.6L479.5 258.7L472 266z" fill="#6cd3e3"/>
<path d="M484.7 263.2L492.2 255.5L486.5 251.8L479 259.3z" fill="#69d6dc"/>
<path d="M491.7 256.1L499.3 248.2L493.6 244.6L486 252.4z" fill="#76d9d4"/>
<path d="M498.8 248.8L506.3 240.6L500.6 237.3L493.1 245.2z" fill="#82dccb"/>
<path d="M505.8 241.2L513.3 232.9L507.6 229.7L500.1 237.9z" fill="#89dfc1"/>
<path d="M512.8 233.5L520.3 224.9L514.6 221.9L507.1 230.3z" fill="#96e1b4"/>
<path d="M519.8 225.5L527.3 216.7L521.7 213.9L514.2 222.5z" fill="#a7e1a6"/>
<path d="M526.9 217.3L534.4 208.3L528.7 205.7L521.2 214.5z" fill="#bce097"/>
<path d="M533.9 209L541.4 199.7L535.7 197.2L528.2 206.3z" fill="#cfdd88"/>
<path d="M540.9 200.4L548.4 190.9L542.8 188.6L535.3 197.9z" fill="#e2d97f"/>
<path d="M547.9 191.5L555.4 181.9L549.8 179.8L542.3 189.3z" fill="#f1d683"/>
<path d="M555 182.5L562.5 172.6L556.8 170.8L549.3 180.5z" fill="#fed78b"/>
<path d="M562 173.3L569.5 163.2L563.8 161.5L556.4 171.5z" fill="#fee084"/>
<path d="M569 163.9L576.5 153.6L570.9 152.1L563.4 162.2z" fill="#faeb7f"/>
<path d="M576.1 154.2L583.5 143.7L577.9 142.5L570.4 152.8z" fill="#f9f579"/>
</g>
<g fill="none">
<path d="M133.4 400.6L583.2 373.1" stroke="#262626" stroke-width="1.05"/>
<path d="M133.4 400.6L26.8 285.6" stroke="#262626" stroke-width="1.05"/>
<path d="M26.8 285.6L26.8 29.1" stroke="#262626" stroke-width="1.1"/>
<path d="M133.4 400.6L141.1 408.9" stroke="#262626" stroke-width="1.05"/>
<path d="M281.2 391.6L288.9 399.8" stroke="#262626" stroke-width="1.05"/>
<path d="M429 382.5L436.7 390.8" stroke="#262626" stroke-width="1.05"/>
<path d="M576.8 373.5L584.5 381.8" stroke="#262626" stroke-width="1.05"/>
<path d="M133.4 400.6L122.1 401.3" stroke="#262626" stroke-width="1.05"/>
<path d="M96 360.2L84.7 360.9" stroke="#262626" stroke-width="1.05"/>
<path d="M58.6 319.9L47.3 320.6" stroke="#262626" stroke-width="1.05"/>
<path d="M26.8 285.6L19.1 277.3" stroke="#262626" stroke-width="1.05"/>
<path d="M26.8 212.3L19.1 204" stroke="#262626" stroke-width="1.05"/>
<path d="M26.8 139L19.1 130.7" stroke="#262626" stroke-width="1.05"/>
<path d="M26.8 65.7L19.1 57.4" stroke="#262626" stroke-width="1.05"/>
</g>
<g fill="none">
<path d="M901.8 392.4L802 282.4" stroke="#e4e4e4" stroke-width="0.9"/>
<path d="M802 282.4L802 37.9" stroke="#e4e4e4" stroke-width="0.9"/>
<path d="M1040.4 383.8L940.7 273.8" stroke="#e4e4e4" stroke-width="0.9"/>
<path d="M940.7 273.8L940.7 29.3" stroke="#e4e4e4" stroke-width="0.9"/>
<path d="M1179.1 375.2L1079.4 265.2" stroke="#e4e4e4" stroke-width="0.9"/>
<path d="M1079.4 265.2L1079.4 20.7" stroke="#e4e4e4" stroke-width="0.9"/>
<path d="M728.1 362.4L1150 336.2" stroke="#e4e4e4" stroke-width="0.9"/>
<path d="M1150 336.2L1150 91.8" stroke="#e4e4e4" stroke-width="0.9"/>
<path d="M693.1 323.8L1115 297.6" stroke="#e4e4e4" stroke-width="0.9"/>
<path d="M1115 297.6L1115 53.2" stroke="#e4e4e4" stroke-width="0.9"/>
<path d="M663.4 250.3L1085.3 224.1" stroke="#e4e4e4" stroke-width="0.9"/>
<path d="M1085.3 224.1L1185 334.1" stroke="#e4e4e4" stroke-width="0.9"/>
<path d="M663.4 209.5L1085.3 183.3" stroke="#e4e4e4" stroke-width="0.9"/>
<path d="M1085.3 183.3L1185 293.3" stroke="#e4e4e4" stroke-width="0.9"/>
<path d="M663.4 168.8L1085.3 142.6" stroke="#e4e4e4" stroke-width="0.9"/>
<path d="M1085.3 142.6L1185 252.6" stroke="#e4e4e4" stroke-width="0.9"/>
<path d="M663.4 128L1085.3 101.8" stroke="#e4e4e4" stroke-width="0.9"/>
<path d="M1085.3 101.8L1185 211.8" stroke="#e4e4e4" stroke-width="0.9"/>
<path d="M663.4 87.3L1085.3 61.1" stroke="#e4e4e4" stroke-width="0.9"/>
<path d="M1085.3 61.1L1185 171.1" stroke="#e4e4e4" stroke-width="0.9"/>
<path d="M663.4 291L1085.3 264.8" stroke="#3a3a3a" stroke-width="0.9"/>
<path d="M1085.3 264.8L1185 374.8" stroke="#3a3a3a" stroke-width="0.9"/>
<path d="M663.4 46.6L1085.3 20.4" stroke="#3a3a3a" stroke-width="0.9"/>
<path d="M1085.3 20.4L1185 130.4" stroke="#3a3a3a" stroke-width="0.9"/>
<path d="M1085.3 264.8L1085.3 20.4" stroke="#3a3a3a" stroke-width="1.1"/>
<path d="M1185 374.8L1185 130.4" stroke="#3a3a3a" stroke-width="1.1"/>
</g>
<g stroke="none">
<path d="M668.3 252.8L675.4 250.5L670.1 242.9L663 245z" fill="#8a9afc"/>
<path d="M674.9 250.8L682 248.5L676.7 240.9L669.6 243.1z" fill="#8a9bfd"/>
<path d="M681.5 248.8L688.6 246.5L683.3 239L676.2 241.2z" fill="#899dfe"/>
<path d="M688.1 246.8L695.2 244.5L689.9 237.1L682.8 239.3z" fill="#889ffe"/>
<path d="M694.7 244.8L701.8 242.5L696.4 235.1L689.4 237.3z" fill="#87a0fe"/>
<path d="M701.3 242.8L708.4 240.5L703 233.2L695.9 235.4z" fill="#86a2ff"/>
<path d="M707.9 240.8L714.9 238.5L709.6 231.3L702.5 233.5z" fill="#84a4ff"/>
<path d="M714.4 238.8L721.5 236.5L716.2 229.4L709.1 231.6z" fill="#82a5ff"/>
<path d="M721 236.8L728.1 234.5L722.8 227.4L715.7 229.6z" fill="#80a7ff"/>
<path d="M727.6 234.8L734.7 232.5L729.4 225.5L722.3 227.7z" fill="#7ea9fe"/>
<path d="M734.2 232.8L741.3 230.5L736 223.6L728.9 225.8z" fill="#7cabfd"/>
<path d="M740.8 230.8L747.9 228.5L742.6 221.6L735.5 223.8z" fill="#7badfd"/>
<path d="M747.4 228.8L754.5 226.5L749.2 219.7L742.1 221.9z" fill="#7aaefc"/>
<path d="M754 226.8L761.1 224.5L755.8 217.8L748.7 220z" fill="#79b0fb"/>
<path d="M760.6 224.8L767.7 222.5L762.4 215.8L755.3 218.1z" fill="#78b2fa"/>
<path d="M767.2 222.8L774.3 220.5L769 213.9L761.9 216.1z" fill="#78b3f9"/>
<path d="M773.8 220.8L780.9 218.5L775.6 212L768.5 214.2z" fill="#78b5f7"/>
<path d="M780.4 218.8L787.5 216.5L782.2 210.1L775 212.3z" fill="#77b6f6"/>
<path d="M787 216.8L794.1 214.5L788.7 208.1L781.6 210.4z" fill="#76b8f5"/>
<path d="M793.5 214.8L800.7 212.5L795.3 206.2L788.2 208.4z" fill="#75b9f3"/>
<path d="M800.1 212.8L807.3 210.5L801.9 204.3L794.8 206.5z" fill="#73bbf2"/>
<path d="M806.7 210.8L813.8 208.5L808.5 202.3L801.4 204.6z" fill="#72bcf1"/>
<path d="M813.3 208.8L820.4 206.5L815.1 200.4L808 202.6z" fill="#71bef0"/>
<path d="M819.9 206.8L827 204.5L821.7 198.5L814.6 200.7z" fill="#70bfef"/>
<path d="M826.5 204.8L833.6 202.5L828.3 196.6L821.2 198.8z" fill="#6fc1ee"/>
<path d="M833.1 202.8L840.2 200.5L834.9 194.6L827.8 196.9z" fill="#6ec2ed"/>
<path d="M839.7 200.8L846.8 198.5L841.5 192.7L834.4 194.9z" fill="#6dc4ec"/>
<path d="M846.3 198.8L853.4 196.4L848.1 190.8L841 193z" fill="#6bc5eb"/>
<path d="M852.9 196.8L860 194.4L854.7 188.8L847.6 191.1z" fill="#6ac7ea"/>
<path d="M859.5 194.8L866.6 192.4L861.3 186.9L854.1 189.2z" fill="#68c8e9"/>
<path d="M866.1 192.8L873.2 190.4L867.9 185L860.7 187.2z" fill="#66c9e7"/>
<path d="M872.6 190.8L879.8 188.4L874.5 183L867.3 185.3z" fill="#64cae5"/>
<path d="M879.2 188.8L886.4 186.4L881.1 181.1L873.9 183.4z" fill="#61cce3"/>
<path d="M885.8 186.8L893 184.4L887.6 179.2L880.5 181.5z" fill="#5dcde1"/>
<path d="M892.4 184.8L899.6 182.4L894.2 177.3L887.1 179.5z" fill="#59cedf"/>
<path d="M899 182.8L906.1 180.4L900.8 175.3L893.7 177.6z" fill="#57cfdd"/>
<path d="M905.6 180.8L912.7 178.4L907.4 173.4L900.3 175.7z" fill="#55d0db"/>
<path d="M912.2 178.8L919.3 176.4L914 171.5L906.9 173.7z" fill="#55d0d8"/>
<path d="M918.8 176.8L925.9 174.4L920.6 169.5L913.5 171.8z" fill="#56d1d6"/>
<path d="M925.4 174.8L932.5 172.4L927.2 167.6L920.1 169.9z" fill="#59d2d3"/>
<path d="M932 172.8L939.1 170.4L933.8 165.7L926.7 168z" fill="#5dd3d0"/>
<path d="M938.6 170.8L945.7 168.4L940.4 163.8L933.2 166z" fill="#61d3ce"/>
<path d="M945.1 168.8L952.3 166.4L947 161.8L939.8 164.1z" fill="#65d4cb"/>
<path d="M951.7 166.8L958.9 164.4L953.6 159.9L946.4 162.2z" fill="#69d5c8"/>
<path d="M958.3 164.7L965.5 162.4L960.2 158L953 160.3z" fill="#6bd5c6"/>
<path d="M964.9 162.7L972.1 160.4L966.8 156L959.6 158.3z" fill="#6ed6c3"/>
<path d="M971.5 160.7L978.7 158.4L973.4 154.1L966.2 156.4z" fill="#6fd7c0"/>
<path d="M978.1 158.7L985.3 156.4L980 152.2L972.8 154.5z" fill="#71d8bd"/>
<path d="M984.7 156.7L991.9 154.4L986.6 150.3L979.4 152.6z" fill="#73d8b9"/>
<path d="M991.3 154.7L998.4 152.4L993.1 148.3L986 150.6z" fill="#75d9b6"/>
<path d="M997.9 152.7L1005 150.4L999.7 146.4L992.6 148.7z" fill="#77dab2"/>
<path d="M1004.5 150.7L1011.6 148.4L1006.3 144.5L999.2 146.8z" fill="#7adaae"/>
<path d="M1011.1 148.7L1018.2 146.4L1012.9 142.5L1005.8 144.8z" fill="#7edaaa"/>
<path d="M1017.7 146.7L1024.8 144.4L1019.5 140.6L1012.3 142.9z" fill="#82dba6"/>
<path d="M1024.2 144.7L1031.4 142.4L1026.1 138.7L1018.9 141z" fill="#87dba2"/>
<path d="M1030.8 142.7L1038 140.3L1032.7 136.8L1025.5 139.1z" fill="#8bdb9d"/>
<path d="M1037.4 140.7L1044.6 138.3L1039.3 134.8L1032.1 137.1z" fill="#90db99"/>
<path d="M1044 138.7L1051.2 136.3L1045.9 132.9L1038.7 135.2z" fill="#95db94"/>
<path d="M1050.6 136.7L1057.8 134.3L1052.5 131L1045.3 133.3z" fill="#9adb8f"/>
<path d="M1057.2 134.7L1064.4 132.3L1059.1 129L1051.9 131.4z" fill="#9fda8a"/>
<path d="M1063.8 132.7L1071 130.3L1065.7 127.1L1058.5 129.4z" fill="#a5da85"/>
<path d="M1070.4 130.7L1077.6 128.3L1072.3 125.2L1065.1 127.5z" fill="#aad980"/>
<path d="M1077 128.7L1084.2 126.3L1078.9 123.3L1071.7 125.6z" fill="#b0d87b"/>
<path d="M1083.6 126.7L1090.7 124.3L1085.5 121.3L1078.3 123.7z" fill="#b5d776"/>
<path d="M673.3 259.9L680.4 257.5L675.1 249.9L668 252.2z" fill="#8b98fc"/>
<path d="M679.9 257.8L687 255.5L681.6 247.9L674.6 250.2z" fill="#8a9afc"/>
<path d="M686.5 255.7L693.6 253.4L688.2 245.9L681.2 248.2z" fill="#8a9bfd"/>
<path d="M693.1 253.7L700.2 251.3L694.8 243.9L687.7 246.2z" fill="#899dfe"/>
<path d="M699.7 251.6L706.7 249.3L701.4 241.9L694.3 244.2z" fill="#889ffe"/>
<path d="M706.3 249.5L713.3 247.2L708 239.9L700.9 242.2z" fill="#87a1fe"/>
<path d="M712.8 247.5L719.9 245.1L714.6 237.9L707.5 240.2z" fill="#86a2ff"/>
<path d="M719.4 245.4L726.5 243L721.2 235.9L714.1 238.2z" fill="#84a4ff"/>
<path d="M726 243.3L733.1 241L727.8 233.9L720.7 236.2z" fill="#82a6ff"/>
<path d="M732.6 241.2L739.7 238.9L734.4 231.9L727.3 234.2z" fill="#80a8fe"/>
<path d="M739.2 239.2L746.3 236.8L741 229.9L733.9 232.2z" fill="#7eaafe"/>
<path d="M745.8 237.1L752.9 234.7L747.6 227.9L740.5 230.2z" fill="#7cacfd"/>
<path d="M752.4 235L759.5 232.7L754.2 225.9L747.1 228.2z" fill="#7aaefc"/>
<path d="M759 233L766.1 230.6L760.8 223.9L753.7 226.2z" fill="#79affb"/>
<path d="M765.6 230.9L772.7 228.5L767.4 221.9L760.3 224.2z" fill="#79b1fa"/>
<path d="M772.2 228.8L779.3 226.4L774 219.9L766.8 222.2z" fill="#78b3f9"/>
<path d="M778.8 226.7L785.9 224.4L780.5 217.9L773.4 220.2z" fill="#78b4f8"/>
<path d="M785.4 224.7L792.5 222.3L787.1 215.9L780 218.2z" fill="#77b6f6"/>
<path d="M791.9 222.6L799.1 220.2L793.7 213.9L786.6 216.2z" fill="#76b8f5"/>
<path d="M798.5 220.5L805.6 218.1L800.3 211.9L793.2 214.2z" fill="#75b9f4"/>
<path d="M805.1 218.5L812.2 216.1L806.9 209.9L799.8 212.2z" fill="#74bbf2"/>
<path d="M811.7 216.4L818.8 214L813.5 207.9L806.4 210.2z" fill="#73bdf1"/>
<path d="M818.3 214.3L825.4 211.9L820.1 205.9L813 208.2z" fill="#72bef0"/>
<path d="M824.9 212.2L832 209.9L826.7 203.9L819.6 206.2z" fill="#71c0ef"/>
<path d="M831.5 210.2L838.6 207.8L833.3 201.9L826.2 204.2z" fill="#70c1ee"/>
<path d="M838.1 208.1L845.2 205.7L839.9 199.9L832.8 202.2z" fill="#6ec3ed"/>
<path d="M844.7 206L851.8 203.6L846.5 197.9L839.4 200.2z" fill="#6dc4ec"/>
<path d="M851.3 203.9L858.4 201.6L853.1 195.9L845.9 198.2z" fill="#6bc6eb"/>
<path d="M857.9 201.9L865 199.5L859.7 193.9L852.5 196.2z" fill="#6ac7ea"/>
<path d="M864.4 199.8L871.6 197.4L866.3 191.9L859.1 194.2z" fill="#68c8e8"/>
<path d="M871 197.7L878.2 195.3L872.9 189.9L865.7 192.2z" fill="#66cae7"/>
<path d="M877.6 195.7L884.8 193.3L879.4 187.9L872.3 190.2z" fill="#63cbe5"/>
<path d="M884.2 193.6L891.4 191.2L886 185.9L878.9 188.2z" fill="#5fcce3"/>
<path d="M890.8 191.5L897.9 189.1L892.6 183.9L885.5 186.2z" fill="#5bcde0"/>
<path d="M897.4 189.4L904.5 187L899.2 181.9L892.1 184.2z" fill="#58cede"/>
<path d="M904 187.4L911.1 185L905.8 179.9L898.7 182.2z" fill="#56cfdc"/>
<path d="M910.6 185.3L917.7 182.9L912.4 177.9L905.3 180.2z" fill="#55d0d9"/>
<path d="M917.2 183.2L924.3 180.8L919 175.9L911.9 178.2z" fill="#56d1d7"/>
<path d="M923.8 181.2L930.9 178.7L925.6 173.9L918.5 176.2z" fill="#59d2d4"/>
<path d="M930.4 179.1L937.5 176.7L932.2 171.9L925 174.2z" fill="#5cd3d1"/>
<path d="M937 177L944.1 174.6L938.8 169.9L931.6 172.2z" fill="#61d4cf"/>
<path d="M943.5 174.9L950.7 172.5L945.4 167.9L938.2 170.2z" fill="#65d4cc"/>
<path d="M950.1 172.9L957.3 170.4L952 165.9L944.8 168.2z" fill="#69d5c9"/>
<path d="M956.7 170.8L963.9 168.4L958.6 163.9L951.4 166.2z" fill="#6cd6c6"/>
<path d="M963.3 168.7L970.5 166.3L965.2 161.9L958 164.2z" fill="#6fd6c3"/>
<path d="M969.9 166.7L977.1 164.2L971.8 159.9L964.6 162.2z" fill="#70d7c0"/>
<path d="M976.5 164.6L983.7 162.1L978.3 157.9L971.2 160.2z" fill="#72d8bd"/>
<path d="M983.1 162.5L990.2 160.1L984.9 155.9L977.8 158.2z" fill="#74d9b9"/>
<path d="M989.7 160.4L996.8 158L991.5 153.9L984.4 156.2z" fill="#76d9b6"/>
<path d="M996.3 158.4L1003.4 155.9L998.1 151.9L991 154.2z" fill="#79dab2"/>
<path d="M1002.9 156.3L1010 153.9L1004.7 149.9L997.6 152.2z" fill="#7cdaae"/>
<path d="M1009.5 154.2L1016.6 151.8L1011.3 147.9L1004.1 150.3z" fill="#80dbaa"/>
<path d="M1016 152.2L1023.2 149.7L1017.9 145.9L1010.7 148.3z" fill="#85dba5"/>
<path d="M1022.6 150.1L1029.8 147.6L1024.5 143.9L1017.3 146.3z" fill="#8adba1"/>
<path d="M1029.2 148L1036.4 145.6L1031.1 141.9L1023.9 144.3z" fill="#8edb9c"/>
<path d="M1035.8 145.9L1043 143.5L1037.7 139.9L1030.5 142.3z" fill="#93db97"/>
<path d="M1042.4 143.9L1049.6 141.4L1044.3 137.9L1037.1 140.3z" fill="#98db92"/>
<path d="M1049 141.8L1056.2 139.3L1050.9 135.9L1043.7 138.3z" fill="#9edb8d"/>
<path d="M1055.6 139.7L1062.8 137.3L1057.5 133.9L1050.3 136.3z" fill="#a4da88"/>
<path d="M1062.2 137.7L1069.4 135.2L1064.1 131.9L1056.9 134.3z" fill="#a9da83"/>
<path d="M1068.8 135.6L1076 133.1L1070.7 129.9L1063.5 132.3z" fill="#afd97e"/>
<path d="M1075.4 133.5L1082.5 131L1077.3 127.9L1070.1 130.3z" fill="#b5d879"/>
<path d="M1082 131.4L1089.1 129L1083.9 125.9L1076.7 128.3z" fill="#bad774"/>
<path d="M1088.5 129.4L1095.7 126.9L1090.4 123.9L1083.3 126.3z" fill="#c0d66f"/>
<path d="M678.3 266.9L685.4 264.5L680 256.9L673 259.3z" fill="#8b97fb"/>
<path d="M684.9 264.8L692 262.4L686.6 254.9L679.5 257.2z" fill="#8b98fc"/>
<path d="M691.5 262.6L698.5 260.2L693.2 252.8L686.1 255.1z" fill="#8a9afd"/>
<path d="M698.1 260.5L705.1 258.1L699.8 250.7L692.7 253.1z" fill="#8a9cfd"/>
<path d="M704.6 258.3L711.7 255.9L706.4 248.6L699.3 251z" fill="#899efe"/>
<path d="M711.2 256.2L718.3 253.8L713 246.6L705.9 248.9z" fill="#889ffe"/>
<path d="M717.8 254.1L724.9 251.6L719.6 244.5L712.5 246.8z" fill="#87a1fe"/>
<path d="M724.4 251.9L731.5 249.5L726.2 242.4L719.1 244.8z" fill="#85a3ff"/>
<path d="M731 249.8L738.1 247.4L732.8 240.4L725.7 242.7z" fill="#83a5ff"/>
<path d="M737.6 247.6L744.7 245.2L739.4 238.3L732.3 240.6z" fill="#81a7ff"/>
<path d="M744.2 245.5L751.3 243.1L746 236.2L738.9 238.6z" fill="#7fa9fe"/>
<path d="M750.8 243.4L757.9 240.9L752.6 234.1L745.5 236.5z" fill="#7cabfd"/>
<path d="M757.4 241.2L764.5 238.8L759.2 232.1L752.1 234.4z" fill="#7badfc"/>
<path d="M764 239.1L771.1 236.6L765.8 230L758.6 232.4z" fill="#7aaffc"/>
<path d="M770.6 236.9L777.7 234.5L772.3 227.9L765.2 230.3z" fill="#79b1fb"/>
<path d="M777.2 234.8L784.3 232.4L778.9 225.9L771.8 228.2z" fill="#79b2f9"/>
<path d="M783.7 232.7L790.9 230.2L785.5 223.8L778.4 226.2z" fill="#78b4f8"/>
<path d="M790.3 230.5L797.4 228.1L792.1 221.7L785 224.1z" fill="#78b6f7"/>
<path d="M796.9 228.4L804 225.9L798.7 219.6L791.6 222z" fill="#77b8f5"/>
<path d="M803.5 226.2L810.6 223.8L805.3 217.6L798.2 219.9z" fill="#75b9f4"/>
<path d="M810.1 224.1L817.2 221.6L811.9 215.5L804.8 217.9z" fill="#74bbf2"/>
<path d="M816.7 222L823.8 219.5L818.5 213.4L811.4 215.8z" fill="#73bdf1"/>
<path d="M823.3 219.8L830.4 217.4L825.1 211.4L818 213.7z" fill="#72bef0"/>
<path d="M829.9 217.7L837 215.2L831.7 209.3L824.6 211.7z" fill="#71c0ef"/>
<path d="M836.5 215.5L843.6 213.1L838.3 207.2L831.2 209.6z" fill="#70c1ee"/>
<path d="M843.1 213.4L850.2 210.9L844.9 205.1L837.7 207.5z" fill="#6ec3ed"/>
<path d="M849.7 211.3L856.8 208.8L851.5 203.1L844.3 205.5z" fill="#6dc5ec"/>
<path d="M856.3 209.1L863.4 206.6L858.1 201L850.9 203.4z" fill="#6bc6eb"/>
<path d="M862.8 207L870 204.5L864.6 198.9L857.5 201.3z" fill="#6ac8e9"/>
<path d="M869.4 204.8L876.6 202.4L871.2 196.9L864.1 199.3z" fill="#68c9e8"/>
<path d="M876 202.7L883.2 200.2L877.8 194.8L870.7 197.2z" fill="#65cae6"/>
<path d="M882.6 200.5L889.7 198.1L884.4 192.7L877.3 195.1z" fill="#62cce4"/>
<path d="M889.2 198.4L896.3 195.9L891 190.6L883.9 193.1z" fill="#5ecde2"/>
<path d="M895.8 196.3L902.9 193.8L897.6 188.6L890.5 191z" fill="#5acedf"/>
<path d="M902.4 194.1L909.5 191.6L904.2 186.5L897.1 188.9z" fill="#58cfdd"/>
<path d="M909 192L916.1 189.5L910.8 184.4L903.7 186.8z" fill="#56d0da"/>
<path d="M915.6 189.8L922.7 187.4L917.4 182.4L910.3 184.8z" fill="#56d1d8"/>
<path d="M922.2 187.7L929.3 185.2L924 180.3L916.8 182.7z" fill="#59d2d5"/>
<path d="M928.8 185.6L935.9 183.1L930.6 178.2L923.4 180.6z" fill="#5cd3d2"/>
<path d="M935.3 183.4L942.5 180.9L937.2 176.1L930 178.6z" fill="#61d4d0"/>
<path d="M941.9 181.3L949.1 178.8L943.8 174.1L936.6 176.5z" fill="#65d4cd"/>
<path d="M948.5 179.1L955.7 176.6L950.4 172L943.2 174.4z" fill="#69d5ca"/>
<path d="M955.1 177L962.3 174.5L957 169.9L949.8 172.4z" fill="#6dd6c7"/>
<path d="M961.7 174.9L968.9 172.3L963.5 167.9L956.4 170.3z" fill="#6fd7c4"/>
<path d="M968.3 172.7L975.5 170.2L970.1 165.8L963 168.2z" fill="#71d7c0"/>
<path d="M974.9 170.6L982 168.1L976.7 163.7L969.6 166.2z" fill="#73d8bd"/>
<path d="M981.5 168.4L988.6 165.9L983.3 161.6L976.2 164.1z" fill="#75d9ba"/>
<path d="M988.1 166.3L995.2 163.8L989.9 159.6L982.8 162z" fill="#77dab6"/>
<path d="M994.7 164.1L1001.8 161.6L996.5 157.5L989.4 159.9z" fill="#7adab2"/>
<path d="M1001.3 162L1008.4 159.5L1003.1 155.4L996 157.9z" fill="#7edbae"/>
<path d="M1007.9 159.9L1015 157.3L1009.7 153.4L1002.5 155.8z" fill="#82dbaa"/>
<path d="M1014.4 157.7L1021.6 155.2L1016.3 151.3L1009.1 153.7z" fill="#87dba5"/>
<path d="M1021 155.6L1028.2 153.1L1022.9 149.2L1015.7 151.7z" fill="#8cdca0"/>
<path d="M1027.6 153.4L1034.8 150.9L1029.5 147.1L1022.3 149.6z" fill="#91dc9c"/>
<path d="M1034.2 151.3L1041.4 148.8L1036.1 145.1L1028.9 147.5z" fill="#96dc96"/>
<path d="M1040.8 149.2L1048 146.6L1042.7 143L1035.5 145.5z" fill="#9cdb91"/>
<path d="M1047.4 147L1054.6 144.5L1049.3 140.9L1042.1 143.4z" fill="#a2db8c"/>
<path d="M1054 144.9L1061.2 142.3L1055.9 138.9L1048.7 141.3z" fill="#a8da87"/>
<path d="M1060.6 142.7L1067.8 140.2L1062.5 136.8L1055.3 139.3z" fill="#adda82"/>
<path d="M1067.2 140.6L1074.3 138.1L1069.1 134.7L1061.9 137.2z" fill="#b3d97d"/>
<path d="M1073.8 138.5L1080.9 135.9L1075.6 132.7L1068.5 135.1z" fill="#b9d878"/>
<path d="M1080.3 136.3L1087.5 133.8L1082.2 130.6L1075.1 133.1z" fill="#bfd773"/>
<path d="M1086.9 134.2L1094.1 131.6L1088.8 128.5L1081.6 131z" fill="#c5d66e"/>
<path d="M1093.5 132L1100.7 129.5L1095.4 126.4L1088.2 128.9z" fill="#cad56a"/>
<path d="M683.3 273.9L690.3 271.4L685 263.9L677.9 266.3z" fill="#8c95fa"/>
<path d="M689.9 271.7L696.9 269.2L691.6 261.7L684.5 264.2z" fill="#8b97fb"/>
<path d="M696.4 269.5L703.5 267L698.2 259.6L691.1 262z" fill="#8b99fc"/>
<path d="M703 267.3L710.1 264.8L704.8 257.5L697.7 259.9z" fill="#8a9afd"/>
<path d="M709.6 265.1L716.7 262.6L711.4 255.3L704.3 257.7z" fill="#8a9cfd"/>
<path d="M716.2 262.8L723.3 260.4L718 253.2L710.9 255.6z" fill="#899efe"/>
<path d="M722.8 260.6L729.9 258.1L724.6 251L717.5 253.5z" fill="#88a0fe"/>
<path d="M729.4 258.4L736.5 255.9L731.2 248.9L724.1 251.3z" fill="#86a2ff"/>
<path d="M736 256.2L743.1 253.7L737.8 246.8L730.7 249.2z" fill="#84a4ff"/>
<path d="M742.6 254L749.7 251.5L744.4 244.6L737.3 247z" fill="#82a6ff"/>
<path d="M749.2 251.8L756.3 249.3L751 242.5L743.9 244.9z" fill="#80a8fe"/>
<path d="M755.8 249.6L762.9 247.1L757.5 240.3L750.4 242.8z" fill="#7daafe"/>
<path d="M762.4 247.4L769.5 244.9L764.1 238.2L757 240.6z" fill="#7cacfd"/>
<path d="M769 245.2L776.1 242.7L770.7 236.1L763.6 238.5z" fill="#7aaefc"/>
<path d="M775.5 243L782.7 240.5L777.3 233.9L770.2 236.4z" fill="#79b0fb"/>
<path d="M782.1 240.8L789.2 238.2L783.9 231.8L776.8 234.2z" fill="#79b2fa"/>
<path d="M788.7 238.5L795.8 236L790.5 229.6L783.4 232.1z" fill="#78b4f8"/>
<path d="M795.3 236.3L802.4 233.8L797.1 227.5L790 229.9z" fill="#78b6f7"/>
<path d="M801.9 234.1L809 231.6L803.7 225.4L796.6 227.8z" fill="#77b7f5"/>
<path d="M808.5 231.9L815.6 229.4L810.3 223.2L803.2 225.7z" fill="#76b9f4"/>
<path d="M815.1 229.7L822.2 227.2L816.9 221.1L809.8 223.5z" fill="#74bbf3"/>
<path d="M821.7 227.5L828.8 225L823.5 218.9L816.4 221.4z" fill="#73bdf1"/>
<path d="M828.3 225.3L835.4 222.8L830.1 216.8L823 219.2z" fill="#72bef0"/>
<path d="M834.9 223.1L842 220.6L836.7 214.7L829.5 217.1z" fill="#71c0ef"/>
<path d="M841.5 220.9L848.6 218.3L843.3 212.5L836.1 215z" fill="#70c2ee"/>
<path d="M848.1 218.7L855.2 216.1L849.9 210.4L842.7 212.8z" fill="#6ec3ed"/>
<path d="M854.6 216.5L861.8 213.9L856.4 208.2L849.3 210.7z" fill="#6dc5ec"/>
<path d="M861.2 214.2L868.4 211.7L863 206.1L855.9 208.6z" fill="#6bc7eb"/>
<path d="M867.8 212L875 209.5L869.6 203.9L862.5 206.4z" fill="#69c8e9"/>
<path d="M874.4 209.8L881.5 207.3L876.2 201.8L869.1 204.3z" fill="#68cae7"/>
<path d="M881 207.6L888.1 205.1L882.8 199.7L875.7 202.1z" fill="#65cbe5"/>
<path d="M887.6 205.4L894.7 202.9L889.4 197.5L882.3 200z" fill="#61cce3"/>
<path d="M894.2 203.2L901.3 200.7L896 195.4L888.9 197.9z" fill="#5dcee1"/>
<path d="M900.8 201L907.9 198.4L902.6 193.2L895.5 195.7z" fill="#5acfde"/>
<path d="M907.4 198.8L914.5 196.2L909.2 191.1L902.1 193.6z" fill="#57d0dc"/>
<path d="M914 196.6L921.1 194L915.8 189L908.6 191.5z" fill="#57d1d9"/>
<path d="M920.6 194.4L927.7 191.8L922.4 186.8L915.2 189.3z" fill="#58d2d6"/>
<path d="M927.2 192.2L934.3 189.6L929 184.7L921.8 187.2z" fill="#5bd3d4"/>
<path d="M933.7 190L940.9 187.4L935.6 182.5L928.4 185z" fill="#60d4d1"/>
<path d="M940.3 187.7L947.5 185.2L942.2 180.4L935 182.9z" fill="#65d4ce"/>
<path d="M946.9 185.5L954.1 183L948.8 178.3L941.6 180.8z" fill="#69d5cb"/>
<path d="M953.5 183.3L960.7 180.8L955.3 176.1L948.2 178.6z" fill="#6dd6c8"/>
<path d="M960.1 181.1L967.3 178.5L961.9 174L954.8 176.5z" fill="#70d7c4"/>
<path d="M966.7 178.9L973.8 176.3L968.5 171.8L961.4 174.3z" fill="#72d7c1"/>
<path d="M973.3 176.7L980.4 174.1L975.1 169.7L968 172.2z" fill="#74d8be"/>
<path d="M979.9 174.5L987 171.9L981.7 167.6L974.6 170.1z" fill="#76d9ba"/>
<path d="M986.5 172.3L993.6 169.7L988.3 165.4L981.2 167.9z" fill="#78dab6"/>
<path d="M993.1 170.1L1000.2 167.5L994.9 163.3L987.8 165.8z" fill="#7bdbb2"/>
<path d="M999.7 167.9L1006.8 165.3L1001.5 161.1L994.3 163.7z" fill="#7fdbae"/>
<path d="M1006.2 165.7L1013.4 163.1L1008.1 159L1000.9 161.5z" fill="#84dcaa"/>
<path d="M1012.8 163.4L1020 160.9L1014.7 156.9L1007.5 159.4z" fill="#89dca5"/>
<path d="M1019.4 161.2L1026.6 158.6L1021.3 154.7L1014.1 157.2z" fill="#8edca0"/>
<path d="M1026 159L1033.2 156.4L1027.9 152.6L1020.7 155.1z" fill="#93dc9b"/>
<path d="M1032.6 156.8L1039.8 154.2L1034.5 150.4L1027.3 153z" fill="#99dc96"/>
<path d="M1039.2 154.6L1046.4 152L1041.1 148.3L1033.9 150.8z" fill="#9edc91"/>
<path d="M1045.8 152.4L1053 149.8L1047.7 146.2L1040.5 148.7z" fill="#a5db8c"/>
<path d="M1052.4 150.2L1059.6 147.6L1054.3 144L1047.1 146.6z" fill="#abdb86"/>
<path d="M1059 148L1066.1 145.4L1060.8 141.9L1053.7 144.4z" fill="#b1da81"/>
<path d="M1065.6 145.8L1072.7 143.2L1067.4 139.7L1060.3 142.3z" fill="#b7d97c"/>
<path d="M1072.2 143.6L1079.3 140.9L1074 137.6L1066.9 140.1z" fill="#bdd876"/>
<path d="M1078.7 141.3L1085.9 138.7L1080.6 135.5L1073.4 138z" fill="#c3d772"/>
<path d="M1085.3 139.1L1092.5 136.5L1087.2 133.3L1080 135.9z" fill="#c9d66d"/>
<path d="M1091.9 136.9L1099.1 134.3L1093.8 131.2L1086.6 133.7z" fill="#ced469"/>
<path d="M1098.5 134.7L1105.7 132.1L1100.4 129L1093.2 131.6z" fill="#d4d366"/>
<path d="M688.2 280.8L695.3 278.3L690 270.8L682.9 273.3z" fill="#8c94f9"/>
<path d="M694.8 278.5L701.9 276L696.6 268.6L689.5 271.1z" fill="#8c96fa"/>
<path d="M701.4 276.3L708.5 273.7L703.2 266.4L696.1 268.9z" fill="#8b97fb"/>
<path d="M708 274L715.1 271.4L709.8 264.2L702.7 266.7z" fill="#8b99fc"/>
<path d="M714.6 271.7L721.7 269.2L716.4 262L709.3 264.5z" fill="#8a9bfd"/>
<path d="M721.2 269.4L728.3 266.9L723 259.8L715.9 262.2z" fill="#899dfe"/>
<path d="M727.8 267.2L734.9 264.6L729.6 257.5L722.5 260z" fill="#889ffe"/>
<path d="M734.4 264.9L741.5 262.3L736.2 255.3L729.1 257.8z" fill="#87a1fe"/>
<path d="M741 262.6L748.1 260L742.8 253.1L735.7 255.6z" fill="#85a3ff"/>
<path d="M747.6 260.3L754.7 257.8L749.3 250.9L742.2 253.4z" fill="#83a5ff"/>
<path d="M754.2 258.1L761.3 255.5L755.9 248.7L748.8 251.2z" fill="#81a7ff"/>
<path d="M760.8 255.8L767.9 253.2L762.5 246.5L755.4 249z" fill="#7eaafe"/>
<path d="M767.3 253.5L774.5 250.9L769.1 244.3L762 246.8z" fill="#7cacfd"/>
<path d="M773.9 251.2L781 248.7L775.7 242.1L768.6 244.6z" fill="#7baefc"/>
<path d="M780.5 249L787.6 246.4L782.3 239.9L775.2 242.4z" fill="#7ab0fb"/>
<path d="M787.1 246.7L794.2 244.1L788.9 237.7L781.8 240.2z" fill="#79b2fa"/>
<path d="M793.7 244.4L800.8 241.8L795.5 235.5L788.4 238z" fill="#79b4f9"/>
<path d="M800.3 242.1L807.4 239.5L802.1 233.2L795 235.8z" fill="#78b5f7"/>
<path d="M806.9 239.9L814 237.3L808.7 231L801.6 233.6z" fill="#77b7f6"/>
<path d="M813.5 237.6L820.6 235L815.3 228.8L808.2 231.4z" fill="#76b9f4"/>
<path d="M820.1 235.3L827.2 232.7L821.9 226.6L814.8 229.1z" fill="#74bbf3"/>
<path d="M826.7 233L833.8 230.4L828.5 224.4L821.3 226.9z" fill="#73bdf1"/>
<path d="M833.3 230.8L840.4 228.2L835.1 222.2L827.9 224.7z" fill="#72bff0"/>
<path d="M839.9 228.5L847 225.9L841.7 220L834.5 222.5z" fill="#71c0ef"/>
<path d="M846.4 226.2L853.6 223.6L848.2 217.8L841.1 220.3z" fill="#70c2ee"/>
<path d="M853 223.9L860.2 221.3L854.8 215.6L847.7 218.1z" fill="#6ec4ed"/>
<path d="M859.6 221.6L866.8 219L861.4 213.4L854.3 215.9z" fill="#6dc5ec"/>
<path d="M866.2 219.4L873.3 216.8L868 211.2L860.9 213.7z" fill="#6bc7ea"/>
<path d="M872.8 217.1L879.9 214.5L874.6 209L867.5 211.5z" fill="#69c9e9"/>
<path d="M879.4 214.8L886.5 212.2L881.2 206.7L874.1 209.3z" fill="#67cae7"/>
<path d="M886 212.5L893.1 209.9L887.8 204.5L880.7 207.1z" fill="#64cce5"/>
<path d="M892.6 210.3L899.7 207.7L894.4 202.3L887.3 204.9z" fill="#60cde2"/>
<path d="M899.2 208L906.3 205.4L901 200.1L893.9 202.7z" fill="#5ccee0"/>
<path d="M905.8 205.7L912.9 203.1L907.6 197.9L900.4 200.5z" fill="#59cfdd"/>
<path d="M912.4 203.4L919.5 200.8L914.2 195.7L907 198.3z" fill="#57d0db"/>
<path d="M919 201.2L926.1 198.5L920.8 193.5L913.6 196.1z" fill="#57d1d8"/>
<path d="M925.5 198.9L932.7 196.3L927.4 191.3L920.2 193.8z" fill="#5ad2d5"/>
<path d="M932.1 196.6L939.3 194L934 189.1L926.8 191.6z" fill="#5ed3d2"/>
<path d="M938.7 194.3L945.9 191.7L940.5 186.9L933.4 189.4z" fill="#64d4cf"/>
<path d="M945.3 192.1L952.5 189.4L947.1 184.7L940 187.2z" fill="#68d5cc"/>
<path d="M951.9 189.8L959.1 187.1L953.7 182.5L946.6 185z" fill="#6dd6c9"/>
<path d="M958.5 187.5L965.6 184.9L960.3 180.2L953.2 182.8z" fill="#70d7c6"/>
<path d="M965.1 185.2L972.2 182.6L966.9 178L959.8 180.6z" fill="#72d8c2"/>
<path d="M971.7 183L978.8 180.3L973.5 175.8L966.4 178.4z" fill="#74d8bf"/>
<path d="M978.3 180.7L985.4 178L980.1 173.6L973 176.2z" fill="#76d9bb"/>
<path d="M984.9 178.4L992 175.8L986.7 171.4L979.6 174z" fill="#79dab7"/>
<path d="M991.5 176.1L998.6 173.5L993.3 169.2L986.1 171.8z" fill="#7cdbb3"/>
<path d="M998.1 173.9L1005.2 171.2L999.9 167L992.7 169.6z" fill="#80dbaf"/>
<path d="M1004.6 171.6L1011.8 168.9L1006.5 164.8L999.3 167.4z" fill="#85dcaa"/>
<path d="M1011.2 169.3L1018.4 166.6L1013.1 162.6L1005.9 165.2z" fill="#8adca5"/>
<path d="M1017.8 167L1025 164.4L1019.7 160.4L1012.5 163z" fill="#8fdca0"/>
<path d="M1024.4 164.7L1031.6 162.1L1026.3 158.2L1019.1 160.8z" fill="#94dc9b"/>
<path d="M1031 162.5L1038.2 159.8L1032.9 155.9L1025.7 158.5z" fill="#9adc96"/>
<path d="M1037.6 160.2L1044.8 157.5L1039.5 153.7L1032.3 156.3z" fill="#a1dc90"/>
<path d="M1044.2 157.9L1051.4 155.3L1046 151.5L1038.9 154.1z" fill="#a7db8b"/>
<path d="M1050.8 155.6L1057.9 153L1052.6 149.3L1045.5 151.9z" fill="#addb86"/>
<path d="M1057.4 153.4L1064.5 150.7L1059.2 147.1L1052.1 149.7z" fill="#b4da80"/>
<path d="M1064 151.1L1071.1 148.4L1065.8 144.9L1058.7 147.5z" fill="#bad97b"/>
<path d="M1070.6 148.8L1077.7 146.1L1072.4 142.7L1065.2 145.3z" fill="#c0d876"/>
<path d="M1077.1 146.5L1084.3 143.9L1079 140.5L1071.8 143.1z" fill="#c6d771"/>
<path d="M1083.7 144.3L1090.9 141.6L1085.6 138.3L1078.4 140.9z" fill="#ccd56d"/>
<path d="M1090.3 142L1097.5 139.3L1092.2 136.1L1085 138.7z" fill="#d2d469"/>
<path d="M1096.9 139.7L1104.1 137L1098.8 133.9L1091.6 136.5z" fill="#d7d366"/>
<path d="M1103.5 137.4L1110.7 134.7L1105.4 131.7L1098.2 134.3z" fill="#ddd164"/>
<path d="M693.2 287.7L700.3 285.1L695 277.7L687.9 280.2z" fill="#8c92f8"/>
<path d="M699.8 285.4L706.9 282.7L701.6 275.4L694.5 277.9z" fill="#8c94f9"/>
<path d="M706.4 283L713.5 280.4L708.2 273.1L701.1 275.7z" fill="#8b96fb"/>
<path d="M713 280.7L720.1 278L714.8 270.8L707.7 273.4z" fill="#8b98fc"/>
<path d="M719.6 278.3L726.7 275.7L721.4 268.6L714.3 271.1z" fill="#8a9afd"/>
<path d="M726.2 276L733.3 273.4L728 266.3L720.9 268.8z" fill="#8a9cfd"/>
<path d="M732.8 273.6L739.9 271L734.6 264L727.5 266.6z" fill="#899efe"/>
<path d="M739.4 271.3L746.5 268.7L741.1 261.7L734 264.3z" fill="#88a0fe"/>
<path d="M746 269L753.1 266.3L747.7 259.5L740.6 262z" fill="#86a2ff"/>
<path d="M752.6 266.6L759.7 264L754.3 257.2L747.2 259.7z" fill="#84a4ff"/>
<path d="M759.2 264.3L766.3 261.6L760.9 254.9L753.8 257.5z" fill="#82a7ff"/>
<path d="M765.7 261.9L772.8 259.3L767.5 252.6L760.4 255.2z" fill="#7fa9fe"/>
<path d="M772.3 259.6L779.4 256.9L774.1 250.3L767 252.9z" fill="#7dabfd"/>
<path d="M778.9 257.3L786 254.6L780.7 248.1L773.6 250.7z" fill="#7badfc"/>
<path d="M785.5 254.9L792.6 252.3L787.3 245.8L780.2 248.4z" fill="#7aaffb"/>
<path d="M792.1 252.6L799.2 249.9L793.9 243.5L786.8 246.1z" fill="#79b1fa"/>
<path d="M798.7 250.2L805.8 247.6L800.5 241.2L793.4 243.8z" fill="#79b3f9"/>
<path d="M805.3 247.9L812.4 245.2L807.1 239L800 241.6z" fill="#78b5f7"/>
<path d="M811.9 245.5L819 242.9L813.7 236.7L806.6 239.3z" fill="#78b7f6"/>
<path d="M818.5 243.2L825.6 240.5L820.3 234.4L813.1 237z" fill="#76b9f4"/>
<path d="M825.1 240.9L832.2 238.2L826.9 232.1L819.7 234.7z" fill="#75bbf3"/>
<path d="M831.7 238.5L838.8 235.9L833.4 229.9L826.3 232.5z" fill="#73bdf1"/>
<path d="M838.3 236.2L845.4 233.5L840 227.6L832.9 230.2z" fill="#72bff0"/>
<path d="M844.8 233.8L852 231.2L846.6 225.3L839.5 227.9z" fill="#71c1ef"/>
<path d="M851.4 231.5L858.6 228.8L853.2 223L846.1 225.6z" fill="#70c2ee"/>
<path d="M858 229.2L865.1 226.5L859.8 220.8L852.7 223.4z" fill="#6ec4ed"/>
<path d="M864.6 226.8L871.7 224.1L866.4 218.5L859.3 221.1z" fill="#6dc6eb"/>
<path d="M871.2 224.5L878.3 221.8L873 216.2L865.9 218.8z" fill="#6bc8ea"/>
<path d="M877.8 222.1L884.9 219.5L879.6 213.9L872.5 216.6z" fill="#69c9e8"/>
<path d="M884.4 219.8L891.5 217.1L886.2 211.7L879.1 214.3z" fill="#66cbe6"/>
<path d="M891 217.4L898.1 214.8L892.8 209.4L885.7 212z" fill="#63cce4"/>
<path d="M897.6 215.1L904.7 212.4L899.4 207.1L892.2 209.7z" fill="#5fcee1"/>
<path d="M904.2 212.8L911.3 210.1L906 204.8L898.8 207.5z" fill="#5bcfdf"/>
<path d="M910.8 210.4L917.9 207.7L912.6 202.6L905.4 205.2z" fill="#58d0dc"/>
<path d="M917.3 208.1L924.5 205.4L919.2 200.3L912 202.9z" fill="#58d1d9"/>
<path d="M923.9 205.7L931.1 203L925.8 198L918.6 200.6z" fill="#59d2d6"/>
<path d="M930.5 203.4L937.7 200.7L932.3 195.7L925.2 198.4z" fill="#5dd3d3"/>
<path d="M937.1 201.1L944.3 198.4L938.9 193.5L931.8 196.1z" fill="#62d4d0"/>
<path d="M943.7 198.7L950.9 196L945.5 191.2L938.4 193.8z" fill="#67d5cd"/>
<path d="M950.3 196.4L957.4 193.7L952.1 188.9L945 191.5z" fill="#6cd6ca"/>
<path d="M956.9 194L964 191.3L958.7 186.6L951.6 189.3z" fill="#6fd7c7"/>
<path d="M963.5 191.7L970.6 189L965.3 184.4L958.2 187z" fill="#72d7c3"/>
<path d="M970.1 189.4L977.2 186.6L971.9 182.1L964.8 184.7z" fill="#74d8c0"/>
<path d="M976.7 187L983.8 184.3L978.5 179.8L971.4 182.5z" fill="#76d9bc"/>
<path d="M983.3 184.7L990.4 182L985.1 177.5L977.9 180.2z" fill="#79dab8"/>
<path d="M989.9 182.3L997 179.6L991.7 175.3L984.5 177.9z" fill="#7cdbb4"/>
<path d="M996.4 180L1003.6 177.3L998.3 173L991.1 175.6z" fill="#80dbaf"/>
<path d="M1003 177.6L1010.2 174.9L1004.9 170.7L997.7 173.4z" fill="#85dcab"/>
<path d="M1009.6 175.3L1016.8 172.6L1011.5 168.4L1004.3 171.1z" fill="#8adca6"/>
<path d="M1016.2 173L1023.4 170.2L1018.1 166.2L1010.9 168.8z" fill="#90dca1"/>
<path d="M1022.8 170.6L1030 167.9L1024.7 163.9L1017.5 166.5z" fill="#96dd9b"/>
<path d="M1029.4 168.3L1036.6 165.5L1031.2 161.6L1024.1 164.3z" fill="#9cdc96"/>
<path d="M1036 165.9L1043.2 163.2L1037.8 159.3L1030.7 162z" fill="#a2dc91"/>
<path d="M1042.6 163.6L1049.7 160.9L1044.4 157.1L1037.3 159.7z" fill="#a9db8b"/>
<path d="M1049.2 161.3L1056.3 158.5L1051 154.8L1043.9 157.5z" fill="#afdb86"/>
<path d="M1055.8 158.9L1062.9 156.2L1057.6 152.5L1050.5 155.2z" fill="#b6da80"/>
<path d="M1062.4 156.6L1069.5 153.8L1064.2 150.2L1057 152.9z" fill="#bcd97b"/>
<path d="M1068.9 154.2L1076.1 151.5L1070.8 148L1063.6 150.6z" fill="#c2d875"/>
<path d="M1075.5 151.9L1082.7 149.1L1077.4 145.7L1070.2 148.4z" fill="#c9d771"/>
<path d="M1082.1 149.5L1089.3 146.8L1084 143.4L1076.8 146.1z" fill="#cfd56d"/>
<path d="M1088.7 147.2L1095.9 144.5L1090.6 141.1L1083.4 143.8z" fill="#d5d469"/>
<path d="M1095.3 144.9L1102.5 142.1L1097.2 138.9L1090 141.5z" fill="#dad367"/>
<path d="M1101.9 142.5L1109.1 139.8L1103.8 136.6L1096.6 139.3z" fill="#e0d165"/>
<path d="M1108.5 140.2L1115.7 137.4L1110.4 134.3L1103.2 137z" fill="#e5d065"/>
<path d="M698.2 294.5L705.3 291.8L700 284.5L692.9 287.1z" fill="#8c91f7"/>
<path d="M704.8 292.1L711.9 289.4L706.6 282.1L699.5 284.7z" fill="#8c93f9"/>
<path d="M711.4 289.7L718.5 287L713.2 279.8L706.1 282.4z" fill="#8c95fa"/>
<path d="M718 287.3L725.1 284.6L719.8 277.4L712.7 280.1z" fill="#8b97fb"/>
<path d="M724.6 284.9L731.7 282.2L726.4 275.1L719.3 277.7z" fill="#8b99fc"/>
<path d="M731.2 282.5L738.3 279.8L732.9 272.8L725.8 275.4z" fill="#8a9bfd"/>
<path d="M737.8 280.1L744.9 277.4L739.5 270.4L732.4 273.1z" fill="#899dfe"/>
<path d="M744.4 277.7L751.5 275L746.1 268.1L739 270.7z" fill="#889ffe"/>
<path d="M751 275.3L758.1 272.6L752.7 265.7L745.6 268.4z" fill="#87a1fe"/>
<path d="M757.5 272.9L764.6 270.2L759.3 263.4L752.2 266z" fill="#85a4ff"/>
<path d="M764.1 270.5L771.2 267.7L765.9 261.1L758.8 263.7z" fill="#83a6ff"/>
<path d="M770.7 268.1L777.8 265.3L772.5 258.7L765.4 261.4z" fill="#80a8fe"/>
<path d="M777.3 265.6L784.4 262.9L779.1 256.4L772 259z" fill="#7eabfe"/>
<path d="M783.9 263.2L791 260.5L785.7 254L778.6 256.7z" fill="#7cadfd"/>
<path d="M790.5 260.8L797.6 258.1L792.3 251.7L785.2 254.3z" fill="#7aaffc"/>
<path d="M797.1 258.4L804.2 255.7L798.9 249.3L791.8 252z" fill="#7ab1fb"/>
<path d="M803.7 256L810.8 253.3L805.5 247L798.4 249.7z" fill="#79b3f9"/>
<path d="M810.3 253.6L817.4 250.9L812.1 244.7L804.9 247.3z" fill="#79b5f7"/>
<path d="M816.9 251.2L824 248.5L818.7 242.3L811.5 245z" fill="#78b7f6"/>
<path d="M823.5 248.8L830.6 246.1L825.2 240L818.1 242.6z" fill="#77b9f4"/>
<path d="M830.1 246.4L837.2 243.7L831.8 237.6L824.7 240.3z" fill="#75bbf3"/>
<path d="M836.6 244L843.8 241.3L838.4 235.3L831.3 238z" fill="#74bdf1"/>
<path d="M843.2 241.6L850.4 238.9L845 233L837.9 235.6z" fill="#73bff0"/>
<path d="M849.8 239.2L856.9 236.4L851.6 230.6L844.5 233.3z" fill="#72c1ef"/>
<path d="M856.4 236.8L863.5 234L858.2 228.3L851.1 230.9z" fill="#70c3ee"/>
<path d="M863 234.4L870.1 231.6L864.8 225.9L857.7 228.6z" fill="#6fc5ed"/>
<path d="M869.6 232L876.7 229.2L871.4 223.6L864.3 226.3z" fill="#6dc6eb"/>
<path d="M876.2 229.6L883.3 226.8L878 221.3L870.9 223.9z" fill="#6bc8ea"/>
<path d="M882.8 227.2L889.9 224.4L884.6 218.9L877.5 221.6z" fill="#69cae8"/>
<path d="M889.4 224.7L896.5 222L891.2 216.6L884 219.3z" fill="#66cbe6"/>
<path d="M896 222.3L903.1 219.6L897.8 214.2L890.6 216.9z" fill="#62cde3"/>
<path d="M902.6 219.9L909.7 217.2L904.4 211.9L897.2 214.6z" fill="#5ecee1"/>
<path d="M909.2 217.5L916.3 214.8L911 209.5L903.8 212.2z" fill="#5acfde"/>
<path d="M915.7 215.1L922.9 212.4L917.6 207.2L910.4 209.9z" fill="#58d1db"/>
<path d="M922.3 212.7L929.5 210L924.1 204.9L917 207.6z" fill="#58d2d8"/>
<path d="M928.9 210.3L936.1 207.5L930.7 202.5L923.6 205.2z" fill="#5cd3d5"/>
<path d="M935.5 207.9L942.7 205.1L937.3 200.2L930.2 202.9z" fill="#60d4d2"/>
<path d="M942.1 205.5L949.2 202.7L943.9 197.8L936.8 200.5z" fill="#66d5cf"/>
<path d="M948.7 203.1L955.8 200.3L950.5 195.5L943.4 198.2z" fill="#6bd6cb"/>
<path d="M955.3 200.7L962.4 197.9L957.1 193.2L950 195.9z" fill="#6fd6c8"/>
<path d="M961.9 198.3L969 195.5L963.7 190.8L956.6 193.5z" fill="#72d7c5"/>
<path d="M968.5 195.9L975.6 193.1L970.3 188.5L963.2 191.2z" fill="#74d8c1"/>
<path d="M975.1 193.5L982.2 190.7L976.9 186.1L969.7 188.8z" fill="#77d9bd"/>
<path d="M981.7 191.1L988.8 188.3L983.5 183.8L976.3 186.5z" fill="#79dab9"/>
<path d="M988.2 188.7L995.4 185.9L990.1 181.5L982.9 184.2z" fill="#7cdbb5"/>
<path d="M994.8 186.2L1002 183.5L996.7 179.1L989.5 181.8z" fill="#80dcb0"/>
<path d="M1001.4 183.8L1008.6 181.1L1003.3 176.8L996.1 179.5z" fill="#85dcac"/>
<path d="M1008 181.4L1015.2 178.6L1009.9 174.4L1002.7 177.2z" fill="#8bdca7"/>
<path d="M1014.6 179L1021.8 176.2L1016.5 172.1L1009.3 174.8z" fill="#90dda2"/>
<path d="M1021.2 176.6L1028.4 173.8L1023 169.7L1015.9 172.5z" fill="#96dd9c"/>
<path d="M1027.8 174.2L1035 171.4L1029.6 167.4L1022.5 170.1z" fill="#9cdd97"/>
<path d="M1034.4 171.8L1041.5 169L1036.2 165.1L1029.1 167.8z" fill="#a3dc91"/>
<path d="M1041 169.4L1048.1 166.6L1042.8 162.7L1035.7 165.5z" fill="#aadc8b"/>
<path d="M1047.6 167L1054.7 164.2L1049.4 160.4L1042.3 163.1z" fill="#b1db86"/>
<path d="M1054.2 164.6L1061.3 161.8L1056 158L1048.8 160.8z" fill="#b7da80"/>
<path d="M1060.8 162.2L1067.9 159.4L1062.6 155.7L1055.4 158.4z" fill="#bed97b"/>
<path d="M1067.3 159.8L1074.5 157L1069.2 153.4L1062 156.1z" fill="#c4d875"/>
<path d="M1073.9 157.4L1081.1 154.6L1075.8 151L1068.6 153.8z" fill="#cbd771"/>
<path d="M1080.5 155L1087.7 152.2L1082.4 148.7L1075.2 151.4z" fill="#d1d56d"/>
<path d="M1087.1 152.6L1094.3 149.8L1089 146.3L1081.8 149.1z" fill="#d7d469"/>
<path d="M1093.7 150.2L1100.9 147.3L1095.6 144L1088.4 146.7z" fill="#ddd267"/>
<path d="M1100.3 147.8L1107.5 144.9L1102.2 141.7L1095 144.4z" fill="#e2d167"/>
<path d="M1106.9 145.3L1114.1 142.5L1108.8 139.3L1101.6 142.1z" fill="#e7d067"/>
<path d="M1113.5 142.9L1120.7 140.1L1115.4 137L1108.2 139.7z" fill="#eccf69"/>
<path d="M703.2 301.3L710.3 298.5L705 291.2L697.9 293.9z" fill="#8c90f6"/>
<path d="M709.8 298.8L716.9 296.1L711.6 288.8L704.5 291.5z" fill="#8c92f8"/>
<path d="M716.4 296.3L723.5 293.6L718.2 286.4L711.1 289.1z" fill="#8c94f9"/>
<path d="M723 293.9L730.1 291.1L724.7 284L717.6 286.7z" fill="#8c96fa"/>
<path d="M729.6 291.4L736.7 288.6L731.3 281.6L724.2 284.3z" fill="#8b98fc"/>
<path d="M736.2 288.9L743.3 286.2L737.9 279.2L730.8 281.9z" fill="#8b9afd"/>
<path d="M742.8 286.5L749.9 283.7L744.5 276.8L737.4 279.5z" fill="#8a9cfd"/>
<path d="M749.3 284L756.4 281.2L751.1 274.4L744 277.1z" fill="#899efe"/>
<path d="M755.9 281.5L763 278.8L757.7 272L750.6 274.7z" fill="#88a1fe"/>
<path d="M762.5 279.1L769.6 276.3L764.3 269.6L757.2 272.3z" fill="#86a3ff"/>
<path d="M769.1 276.6L776.2 273.8L770.9 267.2L763.8 269.9z" fill="#84a5ff"/>
<path d="M775.7 274.1L782.8 271.3L777.5 264.8L770.4 267.5z" fill="#81a8ff"/>
<path d="M782.3 271.7L789.4 268.9L784.1 262.4L777 265.1z" fill="#7faafe"/>
<path d="M788.9 269.2L796 266.4L790.7 259.9L783.6 262.7z" fill="#7cacfd"/>
<path d="M795.5 266.7L802.6 263.9L797.3 257.5L790.2 260.3z" fill="#7baffc"/>
<path d="M802.1 264.3L809.2 261.5L803.9 255.1L796.7 257.9z" fill="#7ab1fb"/>
<path d="M808.7 261.8L815.8 259L810.5 252.7L803.3 255.5z" fill="#79b3f9"/>
<path d="M815.3 259.3L822.4 256.5L817 250.3L809.9 253.1z" fill="#79b5f8"/>
<path d="M821.9 256.8L829 254.1L823.6 247.9L816.5 250.6z" fill="#78b7f6"/>
<path d="M828.4 254.4L835.6 251.6L830.2 245.5L823.1 248.2z" fill="#77b9f4"/>
<path d="M835 251.9L842.2 249.1L836.8 243.1L829.7 245.8z" fill="#75bbf3"/>
<path d="M841.6 249.4L848.7 246.6L843.4 240.7L836.3 243.4z" fill="#74bdf1"/>
<path d="M848.2 247L855.3 244.2L850 238.3L842.9 241z" fill="#73bff0"/>
<path d="M854.8 244.5L861.9 241.7L856.6 235.9L849.5 238.6z" fill="#72c1ef"/>
<path d="M861.4 242L868.5 239.2L863.2 233.5L856.1 236.2z" fill="#70c3ed"/>
<path d="M868 239.6L875.1 236.8L869.8 231.1L862.7 233.8z" fill="#6fc5ec"/>
<path d="M874.6 237.1L881.7 234.3L876.4 228.7L869.3 231.4z" fill="#6dc7eb"/>
<path d="M881.2 234.6L888.3 231.8L883 226.3L875.9 229z" fill="#6bc9e9"/>
<path d="M887.8 232.2L894.9 229.3L889.6 223.9L882.4 226.6z" fill="#69cae7"/>
<path d="M894.4 229.7L901.5 226.9L896.2 221.5L889 224.2z" fill="#65cce5"/>
<path d="M901 227.2L908.1 224.4L902.8 219.1L895.6 221.8z" fill="#61cde2"/>
<path d="M907.5 224.7L914.7 221.9L909.3 216.6L902.2 219.4z" fill="#5dcfe0"/>
<path d="M914.1 222.3L921.3 219.5L915.9 214.2L908.8 217z" fill="#59d0dd"/>
<path d="M920.7 219.8L927.9 217L922.5 211.8L915.4 214.6z" fill="#59d1da"/>
<path d="M927.3 217.3L934.5 214.5L929.1 209.4L922 212.2z" fill="#5ad2d7"/>
<path d="M933.9 214.9L941 212L935.7 207L928.6 209.8z" fill="#5ed3d4"/>
<path d="M940.5 212.4L947.6 209.6L942.3 204.6L935.2 207.4z" fill="#64d4d0"/>
<path d="M947.1 209.9L954.2 207.1L948.9 202.2L941.8 205z" fill="#69d5cd"/>
<path d="M953.7 207.5L960.8 204.6L955.5 199.8L948.4 202.6z" fill="#6ed6ca"/>
<path d="M960.3 205L967.4 202.2L962.1 197.4L955 200.2z" fill="#71d7c6"/>
<path d="M966.9 202.5L974 199.7L968.7 195L961.5 197.8z" fill="#74d8c3"/>
<path d="M973.5 200.1L980.6 197.2L975.3 192.6L968.1 195.4z" fill="#76d9bf"/>
<path d="M980.1 197.6L987.2 194.7L981.9 190.2L974.7 193z" fill="#79dabb"/>
<path d="M986.6 195.1L993.8 192.3L988.5 187.8L981.3 190.6z" fill="#7cdbb6"/>
<path d="M993.2 192.6L1000.4 189.8L995.1 185.4L987.9 188.2z" fill="#80dcb2"/>
<path d="M999.8 190.2L1007 187.3L1001.7 183L994.5 185.8z" fill="#85dcad"/>
<path d="M1006.4 187.7L1013.6 184.9L1008.2 180.6L1001.1 183.4z" fill="#8adda8"/>
<path d="M1013 185.2L1020.2 182.4L1014.8 178.2L1007.7 180.9z" fill="#90dda3"/>
<path d="M1019.6 182.8L1026.8 179.9L1021.4 175.8L1014.3 178.5z" fill="#96dd9d"/>
<path d="M1026.2 180.3L1033.3 177.4L1028 173.4L1020.9 176.1z" fill="#9ddd97"/>
<path d="M1032.8 177.8L1039.9 175L1034.6 170.9L1027.5 173.7z" fill="#a3dc92"/>
<path d="M1039.4 175.4L1046.5 172.5L1041.2 168.5L1034.1 171.3z" fill="#aadc8c"/>
<path d="M1046 172.9L1053.1 170L1047.8 166.1L1040.7 168.9z" fill="#b1db86"/>
<path d="M1052.6 170.4L1059.7 167.6L1054.4 163.7L1047.2 166.5z" fill="#b8da81"/>
<path d="M1059.1 168L1066.3 165.1L1061 161.3L1053.8 164.1z" fill="#bfd97b"/>
<path d="M1065.7 165.5L1072.9 162.6L1067.6 158.9L1060.4 161.7z" fill="#c6d876"/>
<path d="M1072.3 163L1079.5 160.1L1074.2 156.5L1067 159.3z" fill="#ccd771"/>
<path d="M1078.9 160.5L1086.1 157.7L1080.8 154.1L1073.6 156.9z" fill="#d2d56d"/>
<path d="M1085.5 158.1L1092.7 155.2L1087.4 151.7L1080.2 154.5z" fill="#d9d46a"/>
<path d="M1092.1 155.6L1099.3 152.7L1094 149.3L1086.8 152.1z" fill="#ded268"/>
<path d="M1098.7 153.1L1105.9 150.3L1100.6 146.9L1093.4 149.7z" fill="#e4d168"/>
<path d="M1105.3 150.7L1112.5 147.8L1107.2 144.5L1100 147.3z" fill="#e9d069"/>
<path d="M1111.9 148.2L1119 145.3L1113.7 142.1L1106.6 144.9z" fill="#eecf6b"/>
<path d="M1118.5 145.7L1125.6 142.8L1120.3 139.7L1113.2 142.5z" fill="#f3ce6f"/>
<path d="M708.2 308L715.3 305.2L710 297.9L702.9 300.7z" fill="#8c8ff5"/>
<path d="M714.8 305.5L721.9 302.7L716.5 295.5L709.4 298.2z" fill="#8c91f7"/>
<path d="M721.4 302.9L728.5 300.1L723.1 293L716 295.8z" fill="#8c93f8"/>
<path d="M728 300.4L735.1 297.6L729.7 290.5L722.6 293.3z" fill="#8c95fa"/>
<path d="M734.6 297.9L741.7 295.1L736.3 288.1L729.2 290.8z" fill="#8b97fb"/>
<path d="M741.1 295.4L748.2 292.5L742.9 285.6L735.8 288.4z" fill="#8b99fc"/>
<path d="M747.7 292.8L754.8 290L749.5 283.1L742.4 285.9z" fill="#8a9bfd"/>
<path d="M754.3 290.3L761.4 287.5L756.1 280.6L749 283.4z" fill="#899efe"/>
<path d="M760.9 287.8L768 284.9L762.7 278.2L755.6 281z" fill="#88a0fe"/>
<path d="M767.5 285.2L774.6 282.4L769.3 275.7L762.2 278.5z" fill="#87a2ff"/>
<path d="M774.1 282.7L781.2 279.9L775.9 273.2L768.8 276z" fill="#85a5ff"/>
<path d="M780.7 280.2L787.8 277.3L782.5 270.8L775.4 273.6z" fill="#82a7ff"/>
<path d="M787.3 277.6L794.4 274.8L789.1 268.3L782 271.1z" fill="#7faafe"/>
<path d="M793.9 275.1L801 272.3L795.7 265.8L788.5 268.6z" fill="#7dacfd"/>
<path d="M800.5 272.6L807.6 269.7L802.3 263.4L795.1 266.2z" fill="#7baefc"/>
<path d="M807.1 270L814.2 267.2L808.8 260.9L801.7 263.7z" fill="#7ab1fb"/>
<path d="M813.7 267.5L820.8 264.7L815.4 258.4L808.3 261.2z" fill="#7ab3fa"/>
<path d="M820.2 265L827.4 262.1L822 256L814.9 258.8z" fill="#79b5f8"/>
<path d="M826.8 262.4L834 259.6L828.6 253.5L821.5 256.3z" fill="#78b7f6"/>
<path d="M833.4 259.9L840.5 257.1L835.2 251L828.1 253.8z" fill="#77b9f4"/>
<path d="M840 257.4L847.1 254.5L841.8 248.6L834.7 251.4z" fill="#75bbf3"/>
<path d="M846.6 254.9L853.7 252L848.4 246.1L841.3 248.9z" fill="#74bdf1"/>
<path d="M853.2 252.3L860.3 249.5L855 243.6L847.9 246.4z" fill="#73bff0"/>
<path d="M859.8 249.8L866.9 246.9L861.6 241.1L854.5 244z" fill="#72c1ee"/>
<path d="M866.4 247.3L873.5 244.4L868.2 238.7L861.1 241.5z" fill="#70c3ed"/>
<path d="M873 244.7L880.1 241.9L874.8 236.2L867.7 239z" fill="#6ec5ec"/>
<path d="M879.6 242.2L886.7 239.3L881.4 233.7L874.2 236.6z" fill="#6dc7eb"/>
<path d="M886.2 239.7L893.3 236.8L888 231.3L880.8 234.1z" fill="#6bc9e9"/>
<path d="M892.8 237.1L899.9 234.3L894.6 228.8L887.4 231.6z" fill="#68cbe7"/>
<path d="M899.3 234.6L906.5 231.7L901.1 226.3L894 229.2z" fill="#65cce4"/>
<path d="M905.9 232.1L913.1 229.2L907.7 223.9L900.6 226.7z" fill="#60cee2"/>
<path d="M912.5 229.5L919.7 226.7L914.3 221.4L907.2 224.2z" fill="#5ccfdf"/>
<path d="M919.1 227L926.3 224.1L920.9 218.9L913.8 221.8z" fill="#59d1dc"/>
<path d="M925.7 224.5L932.8 221.6L927.5 216.5L920.4 219.3z" fill="#59d2d9"/>
<path d="M932.3 221.9L939.4 219.1L934.1 214L927 216.8z" fill="#5cd3d6"/>
<path d="M938.9 219.4L946 216.5L940.7 211.5L933.6 214.4z" fill="#61d4d2"/>
<path d="M945.5 216.9L952.6 214L947.3 209.1L940.2 211.9z" fill="#67d5cf"/>
<path d="M952.1 214.4L959.2 211.5L953.9 206.6L946.8 209.4z" fill="#6cd6cb"/>
<path d="M958.7 211.8L965.8 208.9L960.5 204.1L953.3 207z" fill="#70d7c8"/>
<path d="M965.3 209.3L972.4 206.4L967.1 201.6L959.9 204.5z" fill="#74d8c4"/>
<path d="M971.9 206.8L979 203.9L973.7 199.2L966.5 202z" fill="#76d9c0"/>
<path d="M978.4 204.2L985.6 201.3L980.3 196.7L973.1 199.6z" fill="#78dabc"/>
<path d="M985 201.7L992.2 198.8L986.9 194.2L979.7 197.1z" fill="#7bdbb8"/>
<path d="M991.6 199.2L998.8 196.3L993.5 191.8L986.3 194.6z" fill="#7fdcb3"/>
<path d="M998.2 196.6L1005.4 193.7L1000 189.3L992.9 192.2z" fill="#84dcaf"/>
<path d="M1004.8 194.1L1012 191.2L1006.6 186.8L999.5 189.7z" fill="#8adda9"/>
<path d="M1011.4 191.6L1018.6 188.7L1013.2 184.4L1006.1 187.2z" fill="#90dda4"/>
<path d="M1018 189L1025.1 186.1L1019.8 181.9L1012.7 184.8z" fill="#96dd9e"/>
<path d="M1024.6 186.5L1031.7 183.6L1026.4 179.4L1019.3 182.3z" fill="#9cdd99"/>
<path d="M1031.2 184L1038.3 181.1L1033 177L1025.9 179.8z" fill="#a3dd93"/>
<path d="M1037.8 181.4L1044.9 178.5L1039.6 174.5L1032.5 177.4z" fill="#abdc8d"/>
<path d="M1044.4 178.9L1051.5 176L1046.2 172L1039 174.9z" fill="#b2db87"/>
<path d="M1051 176.4L1058.1 173.5L1052.8 169.6L1045.6 172.4z" fill="#b9da81"/>
<path d="M1057.5 173.9L1064.7 170.9L1059.4 167.1L1052.2 170z" fill="#c0d97c"/>
<path d="M1064.1 171.3L1071.3 168.4L1066 164.6L1058.8 167.5z" fill="#c7d876"/>
<path d="M1070.7 168.8L1077.9 165.9L1072.6 162.1L1065.4 165z" fill="#cdd772"/>
<path d="M1077.3 166.3L1084.5 163.3L1079.2 159.7L1072 162.6z" fill="#d4d56e"/>
<path d="M1083.9 163.7L1091.1 160.8L1085.8 157.2L1078.6 160.1z" fill="#dad46b"/>
<path d="M1090.5 161.2L1097.7 158.3L1092.4 154.7L1085.2 157.6z" fill="#e0d369"/>
<path d="M1097.1 158.7L1104.3 155.7L1098.9 152.3L1091.8 155.2z" fill="#e5d169"/>
<path d="M1103.7 156.1L1110.8 153.2L1105.5 149.8L1098.4 152.7z" fill="#ebd06b"/>
<path d="M1110.3 153.6L1117.4 150.7L1112.1 147.3L1105 150.2z" fill="#f0cf6e"/>
<path d="M1116.9 151.1L1124 148.1L1118.7 144.9L1111.6 147.8z" fill="#f5ce72"/>
<path d="M1123.5 148.5L1130.6 145.6L1125.3 142.4L1118.1 145.3z" fill="#f9ce75"/>
<path d="M713.2 314.7L720.3 311.8L714.9 304.6L707.8 307.4z" fill="#8c8ef4"/>
<path d="M719.8 312.1L726.9 309.2L721.5 302.1L714.4 304.9z" fill="#8c90f6"/>
<path d="M726.4 309.5L733.5 306.6L728.1 299.5L721 302.4z" fill="#8c92f8"/>
<path d="M732.9 306.9L740 304L734.7 297L727.6 299.8z" fill="#8c94f9"/>
<path d="M739.5 304.3L746.6 301.4L741.3 294.5L734.2 297.3z" fill="#8c96fb"/>
<path d="M746.1 301.7L753.2 298.8L747.9 291.9L740.8 294.8z" fill="#8b98fc"/>
<path d="M752.7 299.1L759.8 296.2L754.5 289.4L747.4 292.2z" fill="#8b9bfd"/>
<path d="M759.3 296.5L766.4 293.6L761.1 286.9L754 289.7z" fill="#8a9dfd"/>
<path d="M765.9 293.9L773 291L767.7 284.3L760.6 287.2z" fill="#899ffe"/>
<path d="M772.5 291.3L779.6 288.4L774.3 281.8L767.2 284.7z" fill="#87a2fe"/>
<path d="M779.1 288.8L786.2 285.9L780.9 279.3L773.8 282.1z" fill="#85a4ff"/>
<path d="M785.7 286.2L792.8 283.3L787.5 276.7L780.3 279.6z" fill="#83a7ff"/>
<path d="M792.3 283.6L799.4 280.7L794.1 274.2L786.9 277.1z" fill="#80a9fe"/>
<path d="M798.9 281L806 278.1L800.6 271.7L793.5 274.5z" fill="#7dacfd"/>
<path d="M805.5 278.4L812.6 275.5L807.2 269.2L800.1 272z" fill="#7baefc"/>
<path d="M812.1 275.8L819.2 272.9L813.8 266.6L806.7 269.5z" fill="#7ab0fb"/>
<path d="M818.6 273.2L825.8 270.3L820.4 264.1L813.3 267z" fill="#7ab3fa"/>
<path d="M825.2 270.6L832.3 267.7L827 261.6L819.9 264.4z" fill="#79b5f8"/>
<path d="M831.8 268L838.9 265.1L833.6 259L826.5 261.9z" fill="#78b7f6"/>
<path d="M838.4 265.4L845.5 262.5L840.2 256.5L833.1 259.4z" fill="#77b9f4"/>
<path d="M845 262.8L852.1 259.9L846.8 254L839.7 256.8z" fill="#75bcf3"/>
<path d="M851.6 260.2L858.7 257.3L853.4 251.4L846.3 254.3z" fill="#74bef1"/>
<path d="M858.2 257.7L865.3 254.7L860 248.9L852.9 251.8z" fill="#73c0f0"/>
<path d="M864.8 255.1L871.9 252.1L866.6 246.4L859.5 249.2z" fill="#72c2ee"/>
<path d="M871.4 252.5L878.5 249.5L873.2 243.8L866 246.7z" fill="#70c4ed"/>
<path d="M878 249.9L885.1 246.9L879.8 241.3L872.6 244.2z" fill="#6ec6ec"/>
<path d="M884.6 247.3L891.7 244.3L886.4 238.8L879.2 241.7z" fill="#6dc8ea"/>
<path d="M891.2 244.7L898.3 241.8L892.9 236.3L885.8 239.1z" fill="#6acae9"/>
<path d="M897.7 242.1L904.9 239.2L899.5 233.7L892.4 236.6z" fill="#67cbe6"/>
<path d="M904.3 239.5L911.5 236.6L906.1 231.2L899 234.1z" fill="#64cde4"/>
<path d="M910.9 236.9L918.1 234L912.7 228.7L905.6 231.5z" fill="#5fcfe1"/>
<path d="M917.5 234.3L924.6 231.4L919.3 226.1L912.2 229z" fill="#5bd0de"/>
<path d="M924.1 231.7L931.2 228.8L925.9 223.6L918.8 226.5z" fill="#5ad1db"/>
<path d="M930.7 229.1L937.8 226.2L932.5 221.1L925.4 224z" fill="#5ad2d8"/>
<path d="M937.3 226.5L944.4 223.6L939.1 218.5L932 221.4z" fill="#5fd4d4"/>
<path d="M943.9 224L951 221L945.7 216L938.6 218.9z" fill="#64d5d1"/>
<path d="M950.5 221.4L957.6 218.4L952.3 213.5L945.1 216.4z" fill="#6ad6cd"/>
<path d="M957.1 218.8L964.2 215.8L958.9 210.9L951.7 213.8z" fill="#6fd7ca"/>
<path d="M963.7 216.2L970.8 213.2L965.5 208.4L958.3 211.3z" fill="#73d8c6"/>
<path d="M970.2 213.6L977.4 210.6L972.1 205.9L964.9 208.8z" fill="#76d9c2"/>
<path d="M976.8 211L984 208L978.7 203.4L971.5 206.3z" fill="#78dabe"/>
<path d="M983.4 208.4L990.6 205.4L985.3 200.8L978.1 203.7z" fill="#7bdbba"/>
<path d="M990 205.8L997.2 202.8L991.8 198.3L984.7 201.2z" fill="#7edbb5"/>
<path d="M996.6 203.2L1003.8 200.2L998.4 195.8L991.3 198.7z" fill="#83dcb0"/>
<path d="M1003.2 200.6L1010.4 197.6L1005 193.2L997.9 196.1z" fill="#89ddab"/>
<path d="M1009.8 198L1016.9 195.1L1011.6 190.7L1004.5 193.6z" fill="#8fdda6"/>
<path d="M1016.4 195.4L1023.5 192.5L1018.2 188.2L1011.1 191.1z" fill="#95dda0"/>
<path d="M1023 192.8L1030.1 189.9L1024.8 185.6L1017.7 188.6z" fill="#9cdd9a"/>
<path d="M1029.6 190.3L1036.7 187.3L1031.4 183.1L1024.3 186z" fill="#a3dd94"/>
<path d="M1036.2 187.7L1043.3 184.7L1038 180.6L1030.8 183.5z" fill="#aadc8e"/>
<path d="M1042.8 185.1L1049.9 182.1L1044.6 178L1037.4 181z" fill="#b2dc88"/>
<path d="M1049.3 182.5L1056.5 179.5L1051.2 175.5L1044 178.4z" fill="#b9db82"/>
<path d="M1055.9 179.9L1063.1 176.9L1057.8 173L1050.6 175.9z" fill="#c0da7d"/>
<path d="M1062.5 177.3L1069.7 174.3L1064.4 170.5L1057.2 173.4z" fill="#c7d877"/>
<path d="M1069.1 174.7L1076.3 171.7L1071 167.9L1063.8 170.9z" fill="#ced773"/>
<path d="M1075.7 172.1L1082.9 169.1L1077.6 165.4L1070.4 168.3z" fill="#d4d66f"/>
<path d="M1082.3 169.5L1089.5 166.5L1084.2 162.9L1077 165.8z" fill="#dbd46c"/>
<path d="M1088.9 166.9L1096.1 163.9L1090.7 160.3L1083.6 163.3z" fill="#e1d36a"/>
<path d="M1095.5 164.3L1102.6 161.3L1097.3 157.8L1090.2 160.7z" fill="#e6d16b"/>
<path d="M1102.1 161.7L1109.2 158.7L1103.9 155.3L1096.8 158.2z" fill="#ecd06c"/>
<path d="M1108.7 159.2L1115.8 156.1L1110.5 152.7L1103.4 155.7z" fill="#f1cf70"/>
<path d="M1115.3 156.6L1122.4 153.5L1117.1 150.2L1110 153.2z" fill="#f6cf74"/>
<path d="M1121.9 154L1129 151L1123.7 147.7L1116.5 150.6z" fill="#facf77"/>
<path d="M1128.4 151.4L1135.6 148.4L1130.3 145.1L1123.1 148.1z" fill="#fdd076"/>
<path d="M718.2 321.3L725.3 318.3L719.9 311.2L712.8 314.1z" fill="#8c8cf3"/>
<path d="M724.7 318.6L731.8 315.7L726.5 308.6L719.4 311.5z" fill="#8c8ff5"/>
<path d="M731.3 316L738.4 313L733.1 306L726 308.9z" fill="#8c91f7"/>
<path d="M737.9 313.3L745 310.4L739.7 303.4L732.6 306.3z" fill="#8c93f8"/>
<path d="M744.5 310.7L751.6 307.7L746.3 300.8L739.2 303.7z" fill="#8c95fa"/>
<path d="M751.1 308L758.2 305.1L752.9 298.2L745.8 301.1z" fill="#8b98fb"/>
<path d="M757.7 305.4L764.8 302.4L759.5 295.6L752.4 298.5z" fill="#8b9afc"/>
<path d="M764.3 302.7L771.4 299.8L766.1 293.1L759 296z" fill="#8a9cfd"/>
<path d="M770.9 300.1L778 297.1L772.7 290.5L765.6 293.4z" fill="#899ffe"/>
<path d="M777.5 297.4L784.6 294.5L779.3 287.9L772.2 290.8z" fill="#88a1fe"/>
<path d="M784.1 294.8L791.2 291.8L785.8 285.3L778.7 288.2z" fill="#86a3ff"/>
<path d="M790.7 292.1L797.8 289.2L792.4 282.7L785.3 285.6z" fill="#83a6ff"/>
<path d="M797.3 289.5L804.4 286.5L799 280.1L791.9 283z" fill="#81a9fe"/>
<path d="M803.9 286.8L811 283.8L805.6 277.5L798.5 280.4z" fill="#7eabfd"/>
<path d="M810.4 284.2L817.6 281.2L812.2 274.9L805.1 277.8z" fill="#7caefc"/>
<path d="M817 281.5L824.1 278.5L818.8 272.3L811.7 275.2z" fill="#7bb0fb"/>
<path d="M823.6 278.9L830.7 275.9L825.4 269.7L818.3 272.6z" fill="#7ab3fa"/>
<path d="M830.2 276.2L837.3 273.2L832 267.1L824.9 270.1z" fill="#79b5f8"/>
<path d="M836.8 273.6L843.9 270.6L838.6 264.5L831.5 267.5z" fill="#79b7f6"/>
<path d="M843.4 270.9L850.5 267.9L845.2 262L838.1 264.9z" fill="#77b9f4"/>
<path d="M850 268.3L857.1 265.3L851.8 259.4L844.7 262.3z" fill="#76bcf3"/>
<path d="M856.6 265.6L863.7 262.6L858.4 256.8L851.3 259.7z" fill="#74bef1"/>
<path d="M863.2 263L870.3 260L865 254.2L857.8 257.1z" fill="#73c0ef"/>
<path d="M869.8 260.3L876.9 257.3L871.6 251.6L864.4 254.5z" fill="#72c2ee"/>
<path d="M876.4 257.7L883.5 254.7L878.2 249L871 251.9z" fill="#70c4ed"/>
<path d="M883 255L890.1 252L884.7 246.4L877.6 249.3z" fill="#6ec6ec"/>
<path d="M889.5 252.4L896.7 249.3L891.3 243.8L884.2 246.8z" fill="#6cc8ea"/>
<path d="M896.1 249.7L903.3 246.7L897.9 241.2L890.8 244.2z" fill="#6acae8"/>
<path d="M902.7 247L909.9 244L904.5 238.6L897.4 241.6z" fill="#67cce6"/>
<path d="M909.3 244.4L916.4 241.4L911.1 236L904 239z" fill="#63cee3"/>
<path d="M915.9 241.7L923 238.7L917.7 233.4L910.6 236.4z" fill="#5ecfe0"/>
<path d="M922.5 239.1L929.6 236.1L924.3 230.9L917.2 233.8z" fill="#5ad1dd"/>
<path d="M929.1 236.4L936.2 233.4L930.9 228.3L923.8 231.2z" fill="#5ad2da"/>
<path d="M935.7 233.8L942.8 230.8L937.5 225.7L930.4 228.6z" fill="#5cd3d6"/>
<path d="M942.3 231.1L949.4 228.1L944.1 223.1L936.9 226z" fill="#61d4d3"/>
<path d="M948.9 228.5L956 225.5L950.7 220.5L943.5 223.4z" fill="#68d5cf"/>
<path d="M955.5 225.8L962.6 222.8L957.3 217.9L950.1 220.9z" fill="#6dd6cc"/>
<path d="M962.1 223.2L969.2 220.2L963.9 215.3L956.7 218.3z" fill="#71d7c8"/>
<path d="M968.6 220.5L975.8 217.5L970.5 212.7L963.3 215.7z" fill="#75d8c4"/>
<path d="M975.2 217.9L982.4 214.8L977 210.1L969.9 213.1z" fill="#77d9c0"/>
<path d="M981.8 215.2L989 212.2L983.6 207.5L976.5 210.5z" fill="#7adabc"/>
<path d="M988.4 212.6L995.6 209.5L990.2 204.9L983.1 207.9z" fill="#7ddbb7"/>
<path d="M995 209.9L1002.2 206.9L996.8 202.3L989.7 205.3z" fill="#82dcb2"/>
<path d="M1001.6 207.3L1008.7 204.2L1003.4 199.8L996.3 202.7z" fill="#87ddad"/>
<path d="M1008.2 204.6L1015.3 201.6L1010 197.2L1002.9 200.1z" fill="#8ddda8"/>
<path d="M1014.8 202L1021.9 198.9L1016.6 194.6L1009.5 197.5z" fill="#94dda2"/>
<path d="M1021.4 199.3L1028.5 196.3L1023.2 192L1016.1 195z" fill="#9bdd9c"/>
<path d="M1028 196.7L1035.1 193.6L1029.8 189.4L1022.6 192.4z" fill="#a2dd96"/>
<path d="M1034.6 194L1041.7 191L1036.4 186.8L1029.2 189.8z" fill="#a9dd90"/>
<path d="M1041.2 191.4L1048.3 188.3L1043 184.2L1035.8 187.2z" fill="#b1dc8a"/>
<path d="M1047.7 188.7L1054.9 185.7L1049.6 181.6L1042.4 184.6z" fill="#b8db84"/>
<path d="M1054.3 186.1L1061.5 183L1056.2 179L1049 182z" fill="#c0da7e"/>
<path d="M1060.9 183.4L1068.1 180.3L1062.8 176.4L1055.6 179.4z" fill="#c7d978"/>
<path d="M1067.5 180.8L1074.7 177.7L1069.4 173.8L1062.2 176.8z" fill="#ced774"/>
<path d="M1074.1 178.1L1081.3 175L1075.9 171.2L1068.8 174.2z" fill="#d4d66f"/>
<path d="M1080.7 175.4L1087.9 172.4L1082.5 168.7L1075.4 171.6z" fill="#dbd46d"/>
<path d="M1087.3 172.8L1094.4 169.7L1089.1 166.1L1082 169.1z" fill="#e1d36b"/>
<path d="M1093.9 170.1L1101 167.1L1095.7 163.5L1088.6 166.5z" fill="#e7d26c"/>
<path d="M1100.5 167.5L1107.6 164.4L1102.3 160.9L1095.2 163.9z" fill="#edd06e"/>
<path d="M1107.1 164.8L1114.2 161.8L1108.9 158.3L1101.8 161.3z" fill="#f2cf71"/>
<path d="M1113.7 162.2L1120.8 159.1L1115.5 155.7L1108.3 158.7z" fill="#f6cf75"/>
<path d="M1120.2 159.5L1127.4 156.5L1122.1 153.1L1114.9 156.1z" fill="#fbcf78"/>
<path d="M1126.8 156.9L1134 153.8L1128.7 150.5L1121.5 153.5z" fill="#fed177"/>
<path d="M1133.4 154.2L1140.6 151.2L1135.3 147.9L1128.1 150.9z" fill="#fed475"/>
<path d="M723.1 327.9L730.2 324.9L724.9 317.8L717.8 320.7z" fill="#8c8bf2"/>
<path d="M729.7 325.2L736.8 322.1L731.5 315.1L724.4 318.1z" fill="#8c8ef4"/>
<path d="M736.3 322.4L743.4 319.4L738.1 312.5L731 315.4z" fill="#8c90f6"/>
<path d="M742.9 319.7L750 316.7L744.7 309.8L737.6 312.8z" fill="#8c92f8"/>
<path d="M749.5 317L756.6 314L751.3 307.2L744.2 310.1z" fill="#8c95f9"/>
<path d="M756.1 314.3L763.2 311.3L757.9 304.5L750.8 307.5z" fill="#8c97fb"/>
<path d="M762.7 311.6L769.8 308.6L764.5 301.8L757.4 304.8z" fill="#8b99fc"/>
<path d="M769.3 308.9L776.4 305.9L771.1 299.2L764 302.2z" fill="#8a9cfd"/>
<path d="M775.9 306.2L783 303.2L777.6 296.5L770.5 299.5z" fill="#899efe"/>
<path d="M782.5 303.5L789.6 300.4L784.2 293.9L777.1 296.9z" fill="#88a0fe"/>
<path d="M789.1 300.8L796.2 297.7L790.8 291.2L783.7 294.2z" fill="#86a3ff"/>
<path d="M795.7 298.1L802.8 295L797.4 288.6L790.3 291.6z" fill="#84a6ff"/>
<path d="M802.2 295.3L809.4 292.3L804 285.9L796.9 288.9z" fill="#81a8fe"/>
<path d="M808.8 292.6L815.9 289.6L810.6 283.3L803.5 286.3z" fill="#7eabfe"/>
<path d="M815.4 289.9L822.5 286.9L817.2 280.6L810.1 283.6z" fill="#7caefc"/>
<path d="M822 287.2L829.1 284.2L823.8 278L816.7 281z" fill="#7bb0fb"/>
<path d="M828.6 284.5L835.7 281.5L830.4 275.3L823.3 278.3z" fill="#7ab3fa"/>
<path d="M835.2 281.8L842.3 278.7L837 272.7L829.9 275.7z" fill="#7ab5f8"/>
<path d="M841.8 279.1L848.9 276L843.6 270L836.5 273z" fill="#79b7f6"/>
<path d="M848.4 276.4L855.5 273.3L850.2 267.4L843.1 270.4z" fill="#78baf4"/>
<path d="M855 273.7L862.1 270.6L856.8 264.7L849.6 267.7z" fill="#76bcf3"/>
<path d="M861.6 270.9L868.7 267.9L863.4 262.1L856.2 265.1z" fill="#74bef1"/>
<path d="M868.2 268.2L875.3 265.2L869.9 259.4L862.8 262.4z" fill="#73c0ef"/>
<path d="M874.8 265.5L881.9 262.5L876.5 256.8L869.4 259.8z" fill="#72c2ee"/>
<path d="M881.3 262.8L888.5 259.8L883.1 254.1L876 257.1z" fill="#70c5ed"/>
<path d="M887.9 260.1L895.1 257L889.7 251.5L882.6 254.5z" fill="#6ec7eb"/>
<path d="M894.5 257.4L901.7 254.3L896.3 248.8L889.2 251.8z" fill="#6cc9ea"/>
<path d="M901.1 254.7L908.2 251.6L902.9 246.2L895.8 249.2z" fill="#6acbe8"/>
<path d="M907.7 252L914.8 248.9L909.5 243.5L902.4 246.5z" fill="#66cce5"/>
<path d="M914.3 249.3L921.4 246.2L916.1 240.9L909 243.9z" fill="#61cee2"/>
<path d="M920.9 246.6L928 243.5L922.7 238.2L915.6 241.2z" fill="#5dd0df"/>
<path d="M927.5 243.8L934.6 240.8L929.3 235.6L922.2 238.6z" fill="#5ad1dc"/>
<path d="M934.1 241.1L941.2 238.1L935.9 232.9L928.7 235.9z" fill="#5ad2d8"/>
<path d="M940.7 238.4L947.8 235.3L942.5 230.3L935.3 233.3z" fill="#5fd4d5"/>
<path d="M947.3 235.7L954.4 232.6L949.1 227.6L941.9 230.6z" fill="#64d5d1"/>
<path d="M953.9 233L961 229.9L955.7 225L948.5 228z" fill="#6bd6ce"/>
<path d="M960.4 230.3L967.6 227.2L962.3 222.3L955.1 225.3z" fill="#70d7ca"/>
<path d="M967 227.6L974.2 224.5L968.8 219.7L961.7 222.7z" fill="#74d8c6"/>
<path d="M973.6 224.9L980.8 221.8L975.4 217L968.3 220z" fill="#77d9c2"/>
<path d="M980.2 222.2L987.4 219.1L982 214.3L974.9 217.4z" fill="#79dabe"/>
<path d="M986.8 219.5L994 216.4L988.6 211.7L981.5 214.7z" fill="#7cdbb9"/>
<path d="M993.4 216.7L1000.5 213.7L995.2 209L988.1 212.1z" fill="#80dcb5"/>
<path d="M1000 214L1007.1 210.9L1001.8 206.4L994.7 209.4z" fill="#86ddaf"/>
<path d="M1006.6 211.3L1013.7 208.2L1008.4 203.7L1001.3 206.8z" fill="#8cddaa"/>
<path d="M1013.2 208.6L1020.3 205.5L1015 201.1L1007.9 204.1z" fill="#92dda4"/>
<path d="M1019.8 205.9L1026.9 202.8L1021.6 198.4L1014.4 201.5z" fill="#99de9e"/>
<path d="M1026.4 203.2L1033.5 200.1L1028.2 195.8L1021 198.8z" fill="#a0dd98"/>
<path d="M1033 200.5L1040.1 197.4L1034.8 193.1L1027.6 196.2z" fill="#a8dd92"/>
<path d="M1039.5 197.8L1046.7 194.7L1041.4 190.5L1034.2 193.5z" fill="#b0dc8c"/>
<path d="M1046.1 195.1L1053.3 192L1048 187.8L1040.8 190.9z" fill="#b7db85"/>
<path d="M1052.7 192.4L1059.9 189.2L1054.6 185.2L1047.4 188.2z" fill="#bfda7f"/>
<path d="M1059.3 189.6L1066.5 186.5L1061.2 182.5L1054 185.6z" fill="#c6d97a"/>
<path d="M1065.9 186.9L1073.1 183.8L1067.7 179.9L1060.6 182.9z" fill="#cdd875"/>
<path d="M1072.5 184.2L1079.7 181.1L1074.3 177.2L1067.2 180.3z" fill="#d4d670"/>
<path d="M1079.1 181.5L1086.2 178.4L1080.9 174.6L1073.8 177.6z" fill="#dbd56d"/>
<path d="M1085.7 178.8L1092.8 175.7L1087.5 171.9L1080.4 175z" fill="#e1d36c"/>
<path d="M1092.3 176.1L1099.4 173L1094.1 169.3L1087 172.3z" fill="#e7d26d"/>
<path d="M1098.9 173.4L1106 170.3L1100.7 166.6L1093.6 169.7z" fill="#edd16f"/>
<path d="M1105.5 170.7L1112.6 167.5L1107.3 164L1100.1 167z" fill="#f2d073"/>
<path d="M1112 168L1119.2 164.8L1113.9 161.3L1106.7 164.4z" fill="#f7cf77"/>
<path d="M1118.6 165.2L1125.8 162.1L1120.5 158.7L1113.3 161.7z" fill="#fbd079"/>
<path d="M1125.2 162.5L1132.4 159.4L1127.1 156L1119.9 159.1z" fill="#fed278"/>
<path d="M1131.8 159.8L1139 156.7L1133.7 153.4L1126.5 156.4z" fill="#fed575"/>
<path d="M1138.4 157.1L1145.6 154L1140.3 150.7L1133.1 153.8z" fill="#fed872"/>
<path d="M728.1 334.4L735.2 331.3L729.9 324.3L722.8 327.3z" fill="#8c8bf1"/>
<path d="M734.7 331.6L741.8 328.5L736.5 321.6L729.4 324.6z" fill="#8c8df3"/>
<path d="M741.3 328.8L748.4 325.8L743.1 318.8L736 321.9z" fill="#8c8ff5"/>
<path d="M747.9 326.1L755 323L749.7 316.1L742.6 319.2z" fill="#8c92f7"/>
<path d="M754.5 323.3L761.6 320.2L756.3 313.4L749.2 316.4z" fill="#8c94f9"/>
<path d="M761.1 320.5L768.2 317.5L762.9 310.7L755.8 313.7z" fill="#8c96fa"/>
<path d="M767.7 317.8L774.8 314.7L769.4 308L762.3 311z" fill="#8b99fc"/>
<path d="M774.3 315L781.4 311.9L776 305.3L768.9 308.3z" fill="#8b9bfd"/>
<path d="M780.9 312.2L788 309.1L782.6 302.6L775.5 305.6z" fill="#8a9dfe"/>
<path d="M787.5 309.5L794.6 306.4L789.2 299.9L782.1 302.9z" fill="#89a0fe"/>
<path d="M794 306.7L801.2 303.6L795.8 297.2L788.7 300.2z" fill="#87a3ff"/>
<path d="M800.6 303.9L807.7 300.8L802.4 294.5L795.3 297.5z" fill="#84a5ff"/>
<path d="M807.2 301.2L814.3 298.1L809 291.7L801.9 294.8z" fill="#82a8ff"/>
<path d="M813.8 298.4L820.9 295.3L815.6 289L808.5 292.1z" fill="#7fabfe"/>
<path d="M820.4 295.6L827.5 292.5L822.2 286.3L815.1 289.4z" fill="#7cadfd"/>
<path d="M827 292.9L834.1 289.8L828.8 283.6L821.7 286.7z" fill="#7bb0fb"/>
<path d="M833.6 290.1L840.7 287L835.4 280.9L828.3 283.9z" fill="#7ab3fa"/>
<path d="M840.2 287.3L847.3 284.2L842 278.2L834.9 281.2z" fill="#7ab5f8"/>
<path d="M846.8 284.6L853.9 281.5L848.6 275.5L841.4 278.5z" fill="#79b7f6"/>
<path d="M853.4 281.8L860.5 278.7L855.2 272.8L848 275.8z" fill="#78baf4"/>
<path d="M860 279L867.1 275.9L861.7 270.1L854.6 273.1z" fill="#76bcf2"/>
<path d="M866.6 276.3L873.7 273.1L868.3 267.4L861.2 270.4z" fill="#74bef1"/>
<path d="M873.1 273.5L880.3 270.4L874.9 264.6L867.8 267.7z" fill="#73c1ef"/>
<path d="M879.7 270.7L886.9 267.6L881.5 261.9L874.4 265z" fill="#72c3ee"/>
<path d="M886.3 268L893.5 264.8L888.1 259.2L881 262.3z" fill="#70c5ed"/>
<path d="M892.9 265.2L900 262.1L894.7 256.5L887.6 259.6z" fill="#6ec7eb"/>
<path d="M899.5 262.4L906.6 259.3L901.3 253.8L894.2 256.9z" fill="#6cc9e9"/>
<path d="M906.1 259.7L913.2 256.5L907.9 251.1L900.8 254.2z" fill="#69cbe7"/>
<path d="M912.7 256.9L919.8 253.8L914.5 248.4L907.4 251.5z" fill="#65cde4"/>
<path d="M919.3 254.1L926.4 251L921.1 245.7L914 248.7z" fill="#60cfe1"/>
<path d="M925.9 251.4L933 248.2L927.7 243L920.5 246z" fill="#5cd0de"/>
<path d="M932.5 248.6L939.6 245.5L934.3 240.3L927.1 243.3z" fill="#5bd2db"/>
<path d="M939.1 245.8L946.2 242.7L940.9 237.5L933.7 240.6z" fill="#5cd3d7"/>
<path d="M945.7 243.1L952.8 239.9L947.5 234.8L940.3 237.9z" fill="#61d4d4"/>
<path d="M952.2 240.3L959.4 237.1L954.1 232.1L946.9 235.2z" fill="#67d5d0"/>
<path d="M958.8 237.5L966 234.4L960.6 229.4L953.5 232.5z" fill="#6dd6cc"/>
<path d="M965.4 234.7L972.6 231.6L967.2 226.7L960.1 229.8z" fill="#72d7c8"/>
<path d="M972 232L979.2 228.8L973.8 224L966.7 227.1z" fill="#76d8c4"/>
<path d="M978.6 229.2L985.8 226.1L980.4 221.3L973.3 224.4z" fill="#78dac0"/>
<path d="M985.2 226.4L992.3 223.3L987 218.6L979.9 221.7z" fill="#7bdbbc"/>
<path d="M991.8 223.7L998.9 220.5L993.6 215.9L986.5 219z" fill="#7fdcb7"/>
<path d="M998.4 220.9L1005.5 217.8L1000.2 213.2L993.1 216.3z" fill="#84dcb2"/>
<path d="M1005 218.1L1012.1 215L1006.8 210.4L999.7 213.5z" fill="#8addac"/>
<path d="M1011.6 215.4L1018.7 212.2L1013.4 207.7L1006.2 210.8z" fill="#90dda7"/>
<path d="M1018.2 212.6L1025.3 209.4L1020 205L1012.8 208.1z" fill="#97dea0"/>
<path d="M1024.8 209.8L1031.9 206.7L1026.6 202.3L1019.4 205.4z" fill="#9ede9a"/>
<path d="M1031.3 207.1L1038.5 203.9L1033.2 199.6L1026 202.7z" fill="#a6dd94"/>
<path d="M1037.9 204.3L1045.1 201.1L1039.8 196.9L1032.6 200z" fill="#aedd8e"/>
<path d="M1044.5 201.5L1051.7 198.4L1046.4 194.2L1039.2 197.3z" fill="#b6dc87"/>
<path d="M1051.1 198.8L1058.3 195.6L1052.9 191.5L1045.8 194.6z" fill="#bedb81"/>
<path d="M1057.7 196L1064.9 192.8L1059.5 188.8L1052.4 191.9z" fill="#c5d97b"/>
<path d="M1064.3 193.2L1071.5 190.1L1066.1 186.1L1059 189.2z" fill="#cdd876"/>
<path d="M1070.9 190.5L1078 187.3L1072.7 183.3L1065.6 186.5z" fill="#d4d772"/>
<path d="M1077.5 187.7L1084.6 184.5L1079.3 180.6L1072.2 183.8z" fill="#dad56e"/>
<path d="M1084.1 184.9L1091.2 181.8L1085.9 177.9L1078.8 181z" fill="#e1d46d"/>
<path d="M1090.7 182.2L1097.8 179L1092.5 175.2L1085.4 178.3z" fill="#e7d26d"/>
<path d="M1097.3 179.4L1104.4 176.2L1099.1 172.5L1091.9 175.6z" fill="#edd170"/>
<path d="M1103.9 176.6L1111 173.4L1105.7 169.8L1098.5 172.9z" fill="#f2d073"/>
<path d="M1110.4 173.9L1117.6 170.7L1112.3 167.1L1105.1 170.2z" fill="#f7d078"/>
<path d="M1117 171.1L1124.2 167.9L1118.9 164.4L1111.7 167.5z" fill="#fbd07a"/>
<path d="M1123.6 168.3L1130.8 165.1L1125.5 161.7L1118.3 164.8z" fill="#fed379"/>
<path d="M1130.2 165.6L1137.4 162.4L1132.1 159L1124.9 162.1z" fill="#fed676"/>
<path d="M1136.8 162.8L1144 159.6L1138.7 156.3L1131.5 159.4z" fill="#fed973"/>
<path d="M1143.4 160L1150.6 156.8L1145.3 153.5L1138.1 156.7z" fill="#fddd70"/>
<path d="M733.1 340.8L740.2 337.7L734.9 330.7L727.8 333.8z" fill="#8c8af0"/>
<path d="M739.7 338L746.8 334.9L741.5 328L734.4 331z" fill="#8c8cf2"/>
<path d="M746.3 335.2L753.4 332.1L748.1 325.2L741 328.3z" fill="#8c8ef5"/>
<path d="M752.9 332.4L760 329.2L754.7 322.4L747.6 325.5z" fill="#8c91f7"/>
<path d="M759.5 329.5L766.6 326.4L761.2 319.7L754.1 322.7z" fill="#8c93f8"/>
<path d="M766.1 326.7L773.2 323.6L767.8 316.9L760.7 320z" fill="#8c96fa"/>
<path d="M772.7 323.9L779.8 320.8L774.4 314.1L767.3 317.2z" fill="#8c98fb"/>
<path d="M779.3 321.1L786.4 317.9L781 311.4L773.9 314.4z" fill="#8b9afd"/>
<path d="M785.8 318.3L793 315.1L787.6 308.6L780.5 311.7z" fill="#8a9dfd"/>
<path d="M792.4 315.4L799.5 312.3L794.2 305.8L787.1 308.9z" fill="#89a0fe"/>
<path d="M799 312.6L806.1 309.5L800.8 303.1L793.7 306.1z" fill="#87a2fe"/>
<path d="M805.6 309.8L812.7 306.6L807.4 300.3L800.3 303.4z" fill="#85a5ff"/>
<path d="M812.2 307L819.3 303.8L814 297.5L806.9 300.6z" fill="#82a8ff"/>
<path d="M818.8 304.1L825.9 301L820.6 294.7L813.5 297.8z" fill="#7fabfe"/>
<path d="M825.4 301.3L832.5 298.2L827.2 292L820.1 295.1z" fill="#7dadfd"/>
<path d="M832 298.5L839.1 295.3L833.8 289.2L826.7 292.3z" fill="#7bb0fb"/>
<path d="M838.6 295.7L845.7 292.5L840.4 286.4L833.2 289.6z" fill="#7ab3fa"/>
<path d="M845.2 292.8L852.3 289.7L847 283.7L839.8 286.8z" fill="#7ab5f8"/>
<path d="M851.8 290L858.9 286.9L853.5 280.9L846.4 284z" fill="#79b8f6"/>
<path d="M858.4 287.2L865.5 284L860.1 278.1L853 281.3z" fill="#78baf4"/>
<path d="M865 284.4L872.1 281.2L866.7 275.4L859.6 278.5z" fill="#76bcf2"/>
<path d="M871.5 281.5L878.7 278.4L873.3 272.6L866.2 275.7z" fill="#74bff1"/>
<path d="M878.1 278.7L885.3 275.5L879.9 269.8L872.8 273z" fill="#73c1ef"/>
<path d="M884.7 275.9L891.8 272.7L886.5 267.1L879.4 270.2z" fill="#72c3ee"/>
<path d="M891.3 273.1L898.4 269.9L893.1 264.3L886 267.4z" fill="#70c6ed"/>
<path d="M897.9 270.3L905 267.1L899.7 261.5L892.6 264.7z" fill="#6ec8eb"/>
<path d="M904.5 267.4L911.6 264.2L906.3 258.8L899.2 261.9z" fill="#6ccae9"/>
<path d="M911.1 264.6L918.2 261.4L912.9 256L905.8 259.1z" fill="#69cce6"/>
<path d="M917.7 261.8L924.8 258.6L919.5 253.2L912.3 256.4z" fill="#64cee4"/>
<path d="M924.3 259L931.4 255.8L926.1 250.5L918.9 253.6z" fill="#5fcfe0"/>
<path d="M930.9 256.1L938 252.9L932.7 247.7L925.5 250.8z" fill="#5bd1dd"/>
<path d="M937.5 253.3L944.6 250.1L939.3 244.9L932.1 248.1z" fill="#5bd2da"/>
<path d="M944.1 250.5L951.2 247.3L945.8 242.2L938.7 245.3z" fill="#5ed3d6"/>
<path d="M950.6 247.7L957.8 244.5L952.4 239.4L945.3 242.5z" fill="#64d5d2"/>
<path d="M957.2 244.8L964.4 241.6L959 236.6L951.9 239.8z" fill="#6ad6cf"/>
<path d="M963.8 242L971 238.8L965.6 233.9L958.5 237z" fill="#70d7cb"/>
<path d="M970.4 239.2L977.6 236L972.2 231.1L965.1 234.2z" fill="#74d8c7"/>
<path d="M977 236.4L984.1 233.2L978.8 228.3L971.7 231.5z" fill="#77d9c3"/>
<path d="M983.6 233.5L990.7 230.3L985.4 225.6L978.3 228.7z" fill="#7adabe"/>
<path d="M990.2 230.7L997.3 227.5L992 222.8L984.9 225.9z" fill="#7ddbb9"/>
<path d="M996.8 227.9L1003.9 224.7L998.6 220L991.5 223.2z" fill="#82dcb4"/>
<path d="M1003.4 225.1L1010.5 221.9L1005.2 217.3L998 220.4z" fill="#88ddaf"/>
<path d="M1010 222.3L1017.1 219L1011.8 214.5L1004.6 217.7z" fill="#8edda9"/>
<path d="M1016.6 219.4L1023.7 216.2L1018.4 211.7L1011.2 214.9z" fill="#95dea3"/>
<path d="M1023.2 216.6L1030.3 213.4L1025 209L1017.8 212.1z" fill="#9cde9d"/>
<path d="M1029.7 213.8L1036.9 210.6L1031.6 206.2L1024.4 209.4z" fill="#a4dd96"/>
<path d="M1036.3 211L1043.5 207.7L1038.2 203.4L1031 206.6z" fill="#acdd90"/>
<path d="M1042.9 208.1L1050.1 204.9L1044.7 200.7L1037.6 203.8z" fill="#b4dc89"/>
<path d="M1049.5 205.3L1056.7 202.1L1051.3 197.9L1044.2 201.1z" fill="#bcdb83"/>
<path d="M1056.1 202.5L1063.3 199.3L1057.9 195.1L1050.8 198.3z" fill="#c4da7d"/>
<path d="M1062.7 199.7L1069.8 196.4L1064.5 192.4L1057.4 195.5z" fill="#cbd978"/>
<path d="M1069.3 196.8L1076.4 193.6L1071.1 189.6L1064 192.8z" fill="#d3d773"/>
<path d="M1075.9 194L1083 190.8L1077.7 186.8L1070.6 190z" fill="#dad56f"/>
<path d="M1082.5 191.2L1089.6 188L1084.3 184.1L1077.2 187.2z" fill="#e0d46e"/>
<path d="M1089.1 188.4L1096.2 185.1L1090.9 181.3L1083.7 184.5z" fill="#e7d26e"/>
<path d="M1095.7 185.5L1102.8 182.3L1097.5 178.5L1090.3 181.7z" fill="#edd170"/>
<path d="M1102.2 182.7L1109.4 179.5L1104.1 175.8L1096.9 178.9z" fill="#f2d074"/>
<path d="M1108.8 179.9L1116 176.7L1110.7 173L1103.5 176.2z" fill="#f7d078"/>
<path d="M1115.4 177.1L1122.6 173.8L1117.3 170.2L1110.1 173.4z" fill="#fbd17b"/>
<path d="M1122 174.2L1129.2 171L1123.9 167.5L1116.7 170.6z" fill="#fed379"/>
<path d="M1128.6 171.4L1135.8 168.2L1130.5 164.7L1123.3 167.9z" fill="#fed676"/>
<path d="M1135.2 168.6L1142.4 165.4L1137.1 161.9L1129.9 165.1z" fill="#feda74"/>
<path d="M1141.8 165.8L1149 162.5L1143.6 159.2L1136.5 162.3z" fill="#fddd71"/>
<path d="M1148.4 163L1155.6 159.7L1150.2 156.4L1143.1 159.6z" fill="#fce16f"/>
<path d="M738.1 347.3L745.2 344.1L739.9 337.1L732.8 340.3z" fill="#8c89ef"/>
<path d="M744.7 344.4L751.8 341.2L746.5 334.3L739.4 337.4z" fill="#8c8bf1"/>
<path d="M751.3 341.5L758.4 338.3L753 331.5L745.9 334.6z" fill="#8d8ef4"/>
<path d="M757.9 338.6L765 335.4L759.6 328.7L752.5 331.8z" fill="#8d90f6"/>
<path d="M764.5 335.7L771.6 332.5L766.2 325.8L759.1 329z" fill="#8c93f8"/>
<path d="M771.1 332.9L778.2 329.7L772.8 323L765.7 326.2z" fill="#8c95fa"/>
<path d="M777.6 330L784.8 326.8L779.4 320.2L772.3 323.3z" fill="#8c97fb"/>
<path d="M784.2 327.1L791.3 323.9L786 317.4L778.9 320.5z" fill="#8b9afc"/>
<path d="M790.8 324.2L797.9 321L792.6 314.5L785.5 317.7z" fill="#8a9dfd"/>
<path d="M797.4 321.3L804.5 318.1L799.2 311.7L792.1 314.9z" fill="#899ffe"/>
<path d="M804 318.5L811.1 315.3L805.8 308.9L798.7 312.1z" fill="#88a2fe"/>
<path d="M810.6 315.6L817.7 312.4L812.4 306.1L805.3 309.2z" fill="#85a5ff"/>
<path d="M817.2 312.7L824.3 309.5L819 303.3L811.9 306.4z" fill="#82a8ff"/>
<path d="M823.8 309.8L830.9 306.6L825.6 300.4L818.5 303.6z" fill="#7faafe"/>
<path d="M830.4 307L837.5 303.7L832.2 297.6L825 300.8z" fill="#7dadfd"/>
<path d="M837 304.1L844.1 300.9L838.8 294.8L831.6 297.9z" fill="#7bb0fc"/>
<path d="M843.6 301.2L850.7 298L845.3 292L838.2 295.1z" fill="#7ab3fa"/>
<path d="M850.2 298.3L857.3 295.1L851.9 289.1L844.8 292.3z" fill="#7ab5f8"/>
<path d="M856.8 295.4L863.9 292.2L858.5 286.3L851.4 289.5z" fill="#79b8f6"/>
<path d="M863.3 292.6L870.5 289.3L865.1 283.5L858 286.7z" fill="#78baf4"/>
<path d="M869.9 289.7L877.1 286.5L871.7 280.7L864.6 283.8z" fill="#76bdf2"/>
<path d="M876.5 286.8L883.6 283.6L878.3 277.8L871.2 281z" fill="#75bff0"/>
<path d="M883.1 283.9L890.2 280.7L884.9 275L877.8 278.2z" fill="#73c1ef"/>
<path d="M889.7 281L896.8 277.8L891.5 272.2L884.4 275.4z" fill="#72c4ee"/>
<path d="M896.3 278.2L903.4 274.9L898.1 269.4L891 272.5z" fill="#70c6ec"/>
<path d="M902.9 275.3L910 272.1L904.7 266.5L897.6 269.7z" fill="#6ec8eb"/>
<path d="M909.5 272.4L916.6 269.2L911.3 263.7L904.1 266.9z" fill="#6bcae8"/>
<path d="M916.1 269.5L923.2 266.3L917.9 260.9L910.7 264.1z" fill="#68cce6"/>
<path d="M922.7 266.7L929.8 263.4L924.5 258.1L917.3 261.3z" fill="#63cee3"/>
<path d="M929.3 263.8L936.4 260.5L931.1 255.3L923.9 258.4z" fill="#5ed0df"/>
<path d="M935.9 260.9L943 257.7L937.6 252.4L930.5 255.6z" fill="#5bd1dc"/>
<path d="M942.4 258L949.6 254.8L944.2 249.6L937.1 252.8z" fill="#5bd3d9"/>
<path d="M949 255.1L956.2 251.9L950.8 246.8L943.7 250z" fill="#60d4d5"/>
<path d="M955.6 252.3L962.8 249L957.4 244L950.3 247.2z" fill="#67d5d1"/>
<path d="M962.2 249.4L969.4 246.1L964 241.1L956.9 244.3z" fill="#6dd6cd"/>
<path d="M968.8 246.5L975.9 243.3L970.6 238.3L963.5 241.5z" fill="#72d7c9"/>
<path d="M975.4 243.6L982.5 240.4L977.2 235.5L970.1 238.7z" fill="#76d9c5"/>
<path d="M982 240.8L989.1 237.5L983.8 232.7L976.7 235.9z" fill="#79dac1"/>
<path d="M988.6 237.9L995.7 234.6L990.4 229.8L983.3 233z" fill="#7cdbbc"/>
<path d="M995.2 235L1002.3 231.7L997 227L989.8 230.2z" fill="#80dcb7"/>
<path d="M1001.8 232.1L1008.9 228.8L1003.6 224.2L996.4 227.4z" fill="#85ddb1"/>
<path d="M1008.4 229.2L1015.5 226L1010.2 221.4L1003 224.6z" fill="#8cddac"/>
<path d="M1015 226.4L1022.1 223.1L1016.8 218.6L1009.6 221.8z" fill="#93dea6"/>
<path d="M1021.5 223.5L1028.7 220.2L1023.4 215.7L1016.2 218.9z" fill="#9ade9f"/>
<path d="M1028.1 220.6L1035.3 217.3L1030 212.9L1022.8 216.1z" fill="#a1de99"/>
<path d="M1034.7 217.7L1041.9 214.4L1036.5 210.1L1029.4 213.3z" fill="#aadd92"/>
<path d="M1041.3 214.8L1048.5 211.6L1043.1 207.3L1036 210.5z" fill="#b2dd8c"/>
<path d="M1047.9 212L1055.1 208.7L1049.7 204.4L1042.6 207.7z" fill="#badc85"/>
<path d="M1054.5 209.1L1061.7 205.8L1056.3 201.6L1049.2 204.8z" fill="#c2da7f"/>
<path d="M1061.1 206.2L1068.2 202.9L1062.9 198.8L1055.8 202z" fill="#cad979"/>
<path d="M1067.7 203.3L1074.8 200L1069.5 196L1062.4 199.2z" fill="#d1d875"/>
<path d="M1074.3 200.5L1081.4 197.2L1076.1 193.1L1069 196.4z" fill="#d9d670"/>
<path d="M1080.9 197.6L1088 194.3L1082.7 190.3L1075.5 193.6z" fill="#dfd46e"/>
<path d="M1087.5 194.7L1094.6 191.4L1089.3 187.5L1082.1 190.7z" fill="#e6d36f"/>
<path d="M1094.1 191.8L1101.2 188.5L1095.9 184.7L1088.7 187.9z" fill="#ecd271"/>
<path d="M1100.6 188.9L1107.8 185.6L1102.5 181.8L1095.3 185.1z" fill="#f2d174"/>
<path d="M1107.2 186.1L1114.4 182.8L1109.1 179L1101.9 182.3z" fill="#f7d079"/>
<path d="M1113.8 183.2L1121 179.9L1115.7 176.2L1108.5 179.4z" fill="#fbd17b"/>
<path d="M1120.4 180.3L1127.6 177L1122.3 173.4L1115.1 176.6z" fill="#fed37a"/>
<path d="M1127 177.4L1134.2 174.1L1128.8 170.6L1121.7 173.8z" fill="#fed677"/>
<path d="M1133.6 174.5L1140.8 171.2L1135.4 167.7L1128.3 171z" fill="#feda74"/>
<path d="M1140.2 171.7L1147.4 168.4L1142 164.9L1134.9 168.2z" fill="#fddd72"/>
<path d="M1146.8 168.8L1153.9 165.5L1148.6 162.1L1141.5 165.3z" fill="#fce16f"/>
<path d="M1153.4 165.9L1160.5 162.6L1155.2 159.3L1148.1 162.5z" fill="#fae56d"/>
<path d="M743.1 353.6L750.2 350.4L744.8 343.5L737.7 346.7z" fill="#8c88ee"/>
<path d="M749.7 350.7L756.8 347.4L751.4 340.6L744.3 343.8z" fill="#8c8af1"/>
<path d="M756.3 347.8L763.4 344.5L758 337.7L750.9 340.9z" fill="#8d8df3"/>
<path d="M762.9 344.8L770 341.6L764.6 334.9L757.5 338.1z" fill="#8d8ff5"/>
<path d="M769.5 341.9L776.6 338.6L771.2 332L764.1 335.2z" fill="#8c92f7"/>
<path d="M776 339L783.1 335.7L777.8 329.1L770.7 332.3z" fill="#8c94f9"/>
<path d="M782.6 336L789.7 332.8L784.4 326.2L777.3 329.4z" fill="#8c97fb"/>
<path d="M789.2 333.1L796.3 329.8L791 323.3L783.9 326.5z" fill="#8b9afc"/>
<path d="M795.8 330.2L802.9 326.9L797.6 320.5L790.5 323.7z" fill="#8b9cfd"/>
<path d="M802.4 327.2L809.5 324L804.2 317.6L797.1 320.8z" fill="#899ffe"/>
<path d="M809 324.3L816.1 321L810.8 314.7L803.7 317.9z" fill="#88a2fe"/>
<path d="M815.6 321.4L822.7 318.1L817.4 311.8L810.3 315z" fill="#86a4ff"/>
<path d="M822.2 318.4L829.3 315.2L824 308.9L816.8 312.2z" fill="#83a7ff"/>
<path d="M828.8 315.5L835.9 312.2L830.6 306.1L823.4 309.3z" fill="#80aafe"/>
<path d="M835.4 312.6L842.5 309.3L837.1 303.2L830 306.4z" fill="#7dadfd"/>
<path d="M842 309.6L849.1 306.4L843.7 300.3L836.6 303.5z" fill="#7bb0fc"/>
<path d="M848.6 306.7L855.7 303.4L850.3 297.4L843.2 300.7z" fill="#7bb3fa"/>
<path d="M855.1 303.8L862.3 300.5L856.9 294.6L849.8 297.8z" fill="#7ab5f8"/>
<path d="M861.7 300.8L868.9 297.6L863.5 291.7L856.4 294.9z" fill="#79b8f6"/>
<path d="M868.3 297.9L875.4 294.6L870.1 288.8L863 292z" fill="#78baf4"/>
<path d="M874.9 295L882 291.7L876.7 285.9L869.6 289.2z" fill="#76bdf2"/>
<path d="M881.5 292L888.6 288.8L883.3 283L876.2 286.3z" fill="#75bff0"/>
<path d="M888.1 289.1L895.2 285.8L889.9 280.2L882.8 283.4z" fill="#73c2ef"/>
<path d="M894.7 286.2L901.8 282.9L896.5 277.3L889.4 280.5z" fill="#72c4ed"/>
<path d="M901.3 283.2L908.4 280L903.1 274.4L895.9 277.6z" fill="#70c6ec"/>
<path d="M907.9 280.3L915 277L909.7 271.5L902.5 274.8z" fill="#6dc9ea"/>
<path d="M914.5 277.4L921.6 274.1L916.3 268.7L909.1 271.9z" fill="#6bcbe8"/>
<path d="M921.1 274.4L928.2 271.1L922.9 265.8L915.7 269z" fill="#67cde5"/>
<path d="M927.7 271.5L934.8 268.2L929.4 262.9L922.3 266.1z" fill="#62cfe2"/>
<path d="M934.2 268.6L941.4 265.3L936 260L928.9 263.3z" fill="#5dd0df"/>
<path d="M940.8 265.7L948 262.3L942.6 257.1L935.5 260.4z" fill="#5cd2db"/>
<path d="M947.4 262.7L954.6 259.4L949.2 254.3L942.1 257.5z" fill="#5dd3d7"/>
<path d="M954 259.8L961.2 256.5L955.8 251.4L948.7 254.6z" fill="#62d5d4"/>
<path d="M960.6 256.9L967.7 253.5L962.4 248.5L955.3 251.8z" fill="#6ad6d0"/>
<path d="M967.2 253.9L974.3 250.6L969 245.6L961.9 248.9z" fill="#70d7cc"/>
<path d="M973.8 251L980.9 247.7L975.6 242.8L968.5 246z" fill="#74d8c8"/>
<path d="M980.4 248.1L987.5 244.7L982.2 239.9L975.1 243.1z" fill="#78d9c3"/>
<path d="M987 245.1L994.1 241.8L988.8 237L981.6 240.3z" fill="#7bdabf"/>
<path d="M993.6 242.2L1000.7 238.9L995.4 234.1L988.2 237.4z" fill="#7edbba"/>
<path d="M1000.2 239.3L1007.3 235.9L1002 231.2L994.8 234.5z" fill="#83dcb4"/>
<path d="M1006.8 236.3L1013.9 233L1008.6 228.4L1001.4 231.6z" fill="#89ddaf"/>
<path d="M1013.3 233.4L1020.5 230.1L1015.2 225.5L1008 228.8z" fill="#90dea9"/>
<path d="M1019.9 230.5L1027.1 227.1L1021.7 222.6L1014.6 225.9z" fill="#97dea2"/>
<path d="M1026.5 227.5L1033.7 224.2L1028.3 219.7L1021.2 223z" fill="#9fde9c"/>
<path d="M1033.1 224.6L1040.3 221.3L1034.9 216.8L1027.8 220.1z" fill="#a7de95"/>
<path d="M1039.7 221.7L1046.9 218.3L1041.5 214L1034.4 217.2z" fill="#afdd8e"/>
<path d="M1046.3 218.7L1053.5 215.4L1048.1 211.1L1041 214.4z" fill="#b8dc88"/>
<path d="M1052.9 215.8L1060 212.5L1054.7 208.2L1047.6 211.5z" fill="#c0db81"/>
<path d="M1059.5 212.9L1066.6 209.5L1061.3 205.3L1054.2 208.6z" fill="#c8da7b"/>
<path d="M1066.1 209.9L1073.2 206.6L1067.9 202.5L1060.8 205.7z" fill="#d0d876"/>
<path d="M1072.7 207L1079.8 203.7L1074.5 199.6L1067.3 202.9z" fill="#d7d772"/>
<path d="M1079.3 204.1L1086.4 200.7L1081.1 196.7L1073.9 200z" fill="#ded56f"/>
<path d="M1085.9 201.1L1093 197.8L1087.7 193.8L1080.5 197.1z" fill="#e5d36f"/>
<path d="M1092.4 198.2L1099.6 194.9L1094.3 190.9L1087.1 194.2z" fill="#ebd271"/>
<path d="M1099 195.3L1106.2 191.9L1100.9 188.1L1093.7 191.4z" fill="#f1d174"/>
<path d="M1105.6 192.3L1112.8 189L1107.5 185.2L1100.3 188.5z" fill="#f6d079"/>
<path d="M1112.2 189.4L1119.4 186.1L1114.1 182.3L1106.9 185.6z" fill="#fbd17c"/>
<path d="M1118.8 186.5L1126 183.1L1120.6 179.4L1113.5 182.7z" fill="#fed37b"/>
<path d="M1125.4 183.5L1132.6 180.2L1127.2 176.6L1120.1 179.9z" fill="#fed678"/>
<path d="M1132 180.6L1139.2 177.3L1133.8 173.7L1126.7 177z" fill="#feda75"/>
<path d="M1138.6 177.7L1145.7 174.3L1140.4 170.8L1133.3 174.1z" fill="#fdde73"/>
<path d="M1145.2 174.8L1152.3 171.4L1147 167.9L1139.9 171.2z" fill="#fce170"/>
<path d="M1151.8 171.8L1158.9 168.5L1153.6 165L1146.5 168.3z" fill="#fae56e"/>
<path d="M1158.4 168.9L1165.5 165.5L1160.2 162.2L1153 165.5z" fill="#f9e96c"/>
<path d="M748.1 359.9L755.2 356.6L749.8 349.8L742.7 353z" fill="#8c87ed"/>
<path d="M754.7 356.9L761.8 353.6L756.4 346.9L749.3 350.1z" fill="#8c8af0"/>
<path d="M761.3 354L768.4 350.6L763 343.9L755.9 347.2z" fill="#8d8cf3"/>
<path d="M767.8 351L774.9 347.7L769.6 341L762.5 344.3z" fill="#8d8ff5"/>
<path d="M774.4 348L781.5 344.7L776.2 338.1L769.1 341.3z" fill="#8d91f7"/>
<path d="M781 345L788.1 341.7L782.8 335.1L775.7 338.4z" fill="#8c94f9"/>
<path d="M787.6 342L794.7 338.7L789.4 332.2L782.3 335.5z" fill="#8c96fb"/>
<path d="M794.2 339L801.3 335.7L796 329.3L788.9 332.5z" fill="#8c99fc"/>
<path d="M800.8 336L807.9 332.7L802.6 326.3L795.5 329.6z" fill="#8b9cfd"/>
<path d="M807.4 333.1L814.5 329.7L809.2 323.4L802.1 326.7z" fill="#8a9ffe"/>
<path d="M814 330.1L821.1 326.8L815.8 320.5L808.6 323.7z" fill="#88a1fe"/>
<path d="M820.6 327.1L827.7 323.8L822.4 317.5L815.2 320.8z" fill="#86a4ff"/>
<path d="M827.2 324.1L834.3 320.8L828.9 314.6L821.8 317.9z" fill="#83a7ff"/>
<path d="M833.8 321.1L840.9 317.8L835.5 311.7L828.4 315z" fill="#80aafe"/>
<path d="M840.4 318.1L847.5 314.8L842.1 308.7L835 312z" fill="#7dadfd"/>
<path d="M846.9 315.2L854.1 311.8L848.7 305.8L841.6 309.1z" fill="#7bb0fc"/>
<path d="M853.5 312.2L860.7 308.8L855.3 302.9L848.2 306.2z" fill="#7bb3fa"/>
<path d="M860.1 309.2L867.2 305.9L861.9 300L854.8 303.2z" fill="#7ab5f8"/>
<path d="M866.7 306.2L873.8 302.9L868.5 297L861.4 300.3z" fill="#79b8f6"/>
<path d="M873.3 303.2L880.4 299.9L875.1 294.1L868 297.4z" fill="#78bbf4"/>
<path d="M879.9 300.2L887 296.9L881.7 291.2L874.6 294.4z" fill="#76bdf2"/>
<path d="M886.5 297.2L893.6 293.9L888.3 288.2L881.2 291.5z" fill="#75c0f0"/>
<path d="M893.1 294.3L900.2 290.9L894.9 285.3L887.8 288.6z" fill="#73c2ef"/>
<path d="M899.7 291.3L906.8 287.9L901.5 282.4L894.3 285.7z" fill="#71c5ed"/>
<path d="M906.3 288.3L913.4 284.9L908.1 279.4L900.9 282.7z" fill="#6fc7ec"/>
<path d="M912.9 285.3L920 282L914.7 276.5L907.5 279.8z" fill="#6dc9ea"/>
<path d="M919.5 282.3L926.6 279L921.2 273.6L914.1 276.9z" fill="#6acbe7"/>
<path d="M926 279.3L933.2 276L927.8 270.6L920.7 273.9z" fill="#66cde4"/>
<path d="M932.6 276.4L939.8 273L934.4 267.7L927.3 271z" fill="#61cfe1"/>
<path d="M939.2 273.4L946.4 270L941 264.8L933.9 268.1z" fill="#5dd1de"/>
<path d="M945.8 270.4L953 267L947.6 261.8L940.5 265.1z" fill="#5cd2da"/>
<path d="M952.4 267.4L959.5 264L954.2 258.9L947.1 262.2z" fill="#5fd4d6"/>
<path d="M959 264.4L966.1 261.1L960.8 256L953.7 259.3z" fill="#65d5d2"/>
<path d="M965.6 261.4L972.7 258.1L967.4 253L960.3 256.4z" fill="#6cd6ce"/>
<path d="M972.2 258.4L979.3 255.1L974 250.1L966.9 253.4z" fill="#72d7ca"/>
<path d="M978.8 255.5L985.9 252.1L980.6 247.2L973.4 250.5z" fill="#76d9c6"/>
<path d="M985.4 252.5L992.5 249.1L987.2 244.2L980 247.6z" fill="#79dac1"/>
<path d="M992 249.5L999.1 246.1L993.8 241.3L986.6 244.6z" fill="#7cdbbd"/>
<path d="M998.6 246.5L1005.7 243.1L1000.4 238.4L993.2 241.7z" fill="#80dcb7"/>
<path d="M1005.1 243.5L1012.3 240.1L1007 235.5L999.8 238.8z" fill="#86ddb2"/>
<path d="M1011.7 240.5L1018.9 237.2L1013.5 232.5L1006.4 235.8z" fill="#8ddeac"/>
<path d="M1018.3 237.6L1025.5 234.2L1020.1 229.6L1013 232.9z" fill="#94dea6"/>
<path d="M1024.9 234.6L1032.1 231.2L1026.7 226.7L1019.6 230z" fill="#9cde9f"/>
<path d="M1031.5 231.6L1038.7 228.2L1033.3 223.7L1026.2 227.1z" fill="#a4de98"/>
<path d="M1038.1 228.6L1045.3 225.2L1039.9 220.8L1032.8 224.1z" fill="#acdd91"/>
<path d="M1044.7 225.6L1051.8 222.2L1046.5 217.9L1039.4 221.2z" fill="#b5dc8b"/>
<path d="M1051.3 222.6L1058.4 219.2L1053.1 214.9L1046 218.3z" fill="#bddb84"/>
<path d="M1057.9 219.6L1065 216.3L1059.7 212L1052.6 215.3z" fill="#c5da7e"/>
<path d="M1064.5 216.7L1071.6 213.3L1066.3 209.1L1059.1 212.4z" fill="#cdd978"/>
<path d="M1071.1 213.7L1078.2 210.3L1072.9 206.1L1065.7 209.5z" fill="#d5d774"/>
<path d="M1077.7 210.7L1084.8 207.3L1079.5 203.2L1072.3 206.5z" fill="#dcd571"/>
<path d="M1084.2 207.7L1091.4 204.3L1086.1 200.3L1078.9 203.6z" fill="#e3d470"/>
<path d="M1090.8 204.7L1098 201.3L1092.7 197.3L1085.5 200.7z" fill="#ead271"/>
<path d="M1097.4 201.7L1104.6 198.3L1099.3 194.4L1092.1 197.8z" fill="#f0d174"/>
<path d="M1104 198.8L1111.2 195.4L1105.9 191.5L1098.7 194.8z" fill="#f5d179"/>
<path d="M1110.6 195.8L1117.8 192.4L1112.4 188.5L1105.3 191.9z" fill="#fad17d"/>
<path d="M1117.2 192.8L1124.4 189.4L1119 185.6L1111.9 189z" fill="#fed37c"/>
<path d="M1123.8 189.8L1131 186.4L1125.6 182.7L1118.5 186z" fill="#fed679"/>
<path d="M1130.4 186.8L1137.5 183.4L1132.2 179.7L1125.1 183.1z" fill="#feda76"/>
<path d="M1137 183.8L1144.1 180.4L1138.8 176.8L1131.7 180.2z" fill="#fdde74"/>
<path d="M1143.6 180.8L1150.7 177.4L1145.4 173.9L1138.3 177.2z" fill="#fce171"/>
<path d="M1150.2 177.9L1157.3 174.4L1152 171L1144.8 174.3z" fill="#fae56f"/>
<path d="M1156.8 174.9L1163.9 171.5L1158.6 168L1151.4 171.4z" fill="#f9e96d"/>
<path d="M1163.3 171.9L1170.5 168.5L1165.2 165.1L1158 168.5z" fill="#f8ed6b"/>
<path d="M753.1 366.2L760.2 362.8L754.8 356.1L747.7 359.4z" fill="#8c87ec"/>
<path d="M759.6 363.1L766.7 359.8L761.4 353.1L754.3 356.4z" fill="#8c89ef"/>
<path d="M766.2 360.1L773.3 356.7L768 350.1L760.9 353.4z" fill="#8d8cf2"/>
<path d="M772.8 357.1L779.9 353.7L774.6 347.1L767.5 350.4z" fill="#8d8ef4"/>
<path d="M779.4 354L786.5 350.7L781.2 344.1L774.1 347.4z" fill="#8d91f7"/>
<path d="M786 351L793.1 347.6L787.8 341.1L780.7 344.4z" fill="#8c93f9"/>
<path d="M792.6 348L799.7 344.6L794.4 338.1L787.3 341.5z" fill="#8c96fa"/>
<path d="M799.2 344.9L806.3 341.6L801 335.2L793.9 338.5z" fill="#8c99fc"/>
<path d="M805.8 341.9L812.9 338.5L807.6 332.2L800.4 335.5z" fill="#8b9bfd"/>
<path d="M812.4 338.9L819.5 335.5L814.1 329.2L807 332.5z" fill="#8a9efe"/>
<path d="M819 335.8L826.1 332.4L820.7 326.2L813.6 329.5z" fill="#88a1fe"/>
<path d="M825.6 332.8L832.7 329.4L827.3 323.2L820.2 326.5z" fill="#86a4ff"/>
<path d="M832.2 329.8L839.3 326.4L833.9 320.2L826.8 323.6z" fill="#83a7ff"/>
<path d="M838.7 326.7L845.9 323.3L840.5 317.3L833.4 320.6z" fill="#80aafe"/>
<path d="M845.3 323.7L852.5 320.3L847.1 314.3L840 317.6z" fill="#7dadfd"/>
<path d="M851.9 320.6L859 317.3L853.7 311.3L846.6 314.6z" fill="#7cb0fc"/>
<path d="M858.5 317.6L865.6 314.2L860.3 308.3L853.2 311.6z" fill="#7bb3fa"/>
<path d="M865.1 314.6L872.2 311.2L866.9 305.3L859.8 308.7z" fill="#7ab6f8"/>
<path d="M871.7 311.5L878.8 308.1L873.5 302.3L866.4 305.7z" fill="#79b8f6"/>
<path d="M878.3 308.5L885.4 305.1L880.1 299.3L873 302.7z" fill="#78bbf4"/>
<path d="M884.9 305.5L892 302.1L886.7 296.4L879.6 299.7z" fill="#76bef2"/>
<path d="M891.5 302.4L898.6 299L893.3 293.4L886.1 296.7z" fill="#75c0f0"/>
<path d="M898.1 299.4L905.2 296L899.9 290.4L892.7 293.7z" fill="#73c3ee"/>
<path d="M904.7 296.4L911.8 293L906.5 287.4L899.3 290.8z" fill="#71c5ed"/>
<path d="M911.3 293.3L918.4 289.9L913 284.4L905.9 287.8z" fill="#6fc8eb"/>
<path d="M917.9 290.3L925 286.9L919.6 281.4L912.5 284.8z" fill="#6dcae9"/>
<path d="M924.4 287.2L931.6 283.8L926.2 278.5L919.1 281.8z" fill="#6acce7"/>
<path d="M931 284.2L938.2 280.8L932.8 275.5L925.7 278.8z" fill="#65cee4"/>
<path d="M937.6 281.2L944.8 277.8L939.4 272.5L932.3 275.8z" fill="#60d0e0"/>
<path d="M944.2 278.1L951.3 274.7L946 269.5L938.9 272.9z" fill="#5cd1dd"/>
<path d="M950.8 275.1L957.9 271.7L952.6 266.5L945.5 269.9z" fill="#5cd3d9"/>
<path d="M957.4 272.1L964.5 268.7L959.2 263.5L952.1 266.9z" fill="#61d4d5"/>
<path d="M964 269L971.1 265.6L965.8 260.6L958.7 263.9z" fill="#68d6d1"/>
<path d="M970.6 266L977.7 262.6L972.4 257.6L965.2 260.9z" fill="#6fd7cd"/>
<path d="M977.2 263L984.3 259.5L979 254.6L971.8 257.9z" fill="#74d8c9"/>
<path d="M983.8 259.9L990.9 256.5L985.6 251.6L978.4 255z" fill="#78d9c4"/>
<path d="M990.4 256.9L997.5 253.5L992.2 248.6L985 252z" fill="#7bdabf"/>
<path d="M997 253.9L1004.1 250.4L998.8 245.6L991.6 249z" fill="#7edcba"/>
<path d="M1003.5 250.8L1010.7 247.4L1005.3 242.6L998.2 246z" fill="#83ddb5"/>
<path d="M1010.1 247.8L1017.3 244.4L1011.9 239.7L1004.8 243z" fill="#89ddaf"/>
<path d="M1016.7 244.7L1023.9 241.3L1018.5 236.7L1011.4 240.1z" fill="#91dea9"/>
<path d="M1023.3 241.7L1030.5 238.3L1025.1 233.7L1018 237.1z" fill="#98dea2"/>
<path d="M1029.9 238.7L1037.1 235.2L1031.7 230.7L1024.6 234.1z" fill="#a0de9b"/>
<path d="M1036.5 235.6L1043.6 232.2L1038.3 227.7L1031.2 231.1z" fill="#a9de95"/>
<path d="M1043.1 232.6L1050.2 229.2L1044.9 224.7L1037.8 228.1z" fill="#b2dd8e"/>
<path d="M1049.7 229.6L1056.8 226.1L1051.5 221.8L1044.4 225.1z" fill="#badc87"/>
<path d="M1056.3 226.5L1063.4 223.1L1058.1 218.8L1050.9 222.2z" fill="#c3db80"/>
<path d="M1062.9 223.5L1070 220.1L1064.7 215.8L1057.5 219.2z" fill="#cbd97a"/>
<path d="M1069.5 220.5L1076.6 217L1071.3 212.8L1064.1 216.2z" fill="#d3d876"/>
<path d="M1076.1 217.4L1083.2 214L1077.9 209.8L1070.7 213.2z" fill="#dad672"/>
<path d="M1082.6 214.4L1089.8 210.9L1084.5 206.8L1077.3 210.2z" fill="#e2d470"/>
<path d="M1089.2 211.4L1096.4 207.9L1091.1 203.8L1083.9 207.2z" fill="#e8d371"/>
<path d="M1095.8 208.3L1103 204.9L1097.6 200.9L1090.5 204.3z" fill="#efd273"/>
<path d="M1102.4 205.3L1109.6 201.8L1104.2 197.9L1097.1 201.3z" fill="#f4d178"/>
<path d="M1109 202.2L1116.2 198.8L1110.8 194.9L1103.7 198.3z" fill="#f9d17d"/>
<path d="M1115.6 199.2L1122.8 195.7L1117.4 191.9L1110.3 195.3z" fill="#fdd37d"/>
<path d="M1122.2 196.2L1129.3 192.7L1124 188.9L1116.9 192.3z" fill="#fed67a"/>
<path d="M1128.8 193.1L1135.9 189.7L1130.6 185.9L1123.5 189.4z" fill="#fed977"/>
<path d="M1135.4 190.1L1142.5 186.6L1137.2 183L1130.1 186.4z" fill="#fedd75"/>
<path d="M1142 187.1L1149.1 183.6L1143.8 180L1136.6 183.4z" fill="#fce172"/>
<path d="M1148.6 184L1155.7 180.6L1150.4 177L1143.2 180.4z" fill="#fae570"/>
<path d="M1155.2 181L1162.3 177.5L1157 174L1149.8 177.4z" fill="#f9e96e"/>
<path d="M1161.7 178L1168.9 174.5L1163.6 171L1156.4 174.4z" fill="#f8ed6c"/>
<path d="M1168.3 174.9L1175.5 171.4L1170.2 168L1163 171.5z" fill="#f8f169"/>
<path d="M758 372.4L765.1 369L759.8 362.3L752.7 365.6z" fill="#8c86eb"/>
<path d="M764.6 369.3L771.7 365.9L766.4 359.2L759.3 362.6z" fill="#8c88ee"/>
<path d="M771.2 366.2L778.3 362.8L773 356.2L765.9 359.6z" fill="#8d8bf1"/>
<path d="M777.8 363.1L784.9 359.7L779.6 353.2L772.5 356.5z" fill="#8d8ef4"/>
<path d="M784.4 360L791.5 356.6L786.2 350.1L779.1 353.5z" fill="#8d90f6"/>
<path d="M791 357L798.1 353.5L792.8 347.1L785.7 350.5z" fill="#8d93f8"/>
<path d="M797.6 353.9L804.7 350.5L799.4 344L792.2 347.4z" fill="#8c96fa"/>
<path d="M804.2 350.8L811.3 347.4L805.9 341L798.8 344.4z" fill="#8c98fb"/>
<path d="M810.8 347.7L817.9 344.3L812.5 338L805.4 341.3z" fill="#8b9bfd"/>
<path d="M817.4 344.6L824.5 341.2L819.1 334.9L812 338.3z" fill="#8a9efe"/>
<path d="M824 341.5L831.1 338.1L825.7 331.9L818.6 335.3z" fill="#89a1fe"/>
<path d="M830.5 338.4L837.7 335L832.3 328.9L825.2 332.2z" fill="#86a4ff"/>
<path d="M837.1 335.4L844.3 331.9L838.9 325.8L831.8 329.2z" fill="#83a7ff"/>
<path d="M843.7 332.3L850.8 328.8L845.5 322.8L838.4 326.2z" fill="#80aafe"/>
<path d="M850.3 329.2L857.4 325.7L852.1 319.8L845 323.1z" fill="#7dadfd"/>
<path d="M856.9 326.1L864 322.7L858.7 316.7L851.6 320.1z" fill="#7cb0fc"/>
<path d="M863.5 323L870.6 319.6L865.3 313.7L858.2 317.1z" fill="#7bb3fa"/>
<path d="M870.1 319.9L877.2 316.5L871.9 310.7L864.8 314z" fill="#7ab6f8"/>
<path d="M876.7 316.8L883.8 313.4L878.5 307.6L871.4 311z" fill="#79b9f5"/>
<path d="M883.3 313.8L890.4 310.3L885.1 304.6L877.9 308z" fill="#78bbf3"/>
<path d="M889.9 310.7L897 307.2L891.7 301.5L884.5 304.9z" fill="#76bef1"/>
<path d="M896.5 307.6L903.6 304.1L898.2 298.5L891.1 301.9z" fill="#75c1f0"/>
<path d="M903.1 304.5L910.2 301L904.8 295.5L897.7 298.9z" fill="#73c3ee"/>
<path d="M909.7 301.4L916.8 298L911.4 292.4L904.3 295.8z" fill="#71c6ed"/>
<path d="M916.2 298.3L923.4 294.9L918 289.4L910.9 292.8z" fill="#6fc8eb"/>
<path d="M922.8 295.2L930 291.8L924.6 286.4L917.5 289.8z" fill="#6dcae9"/>
<path d="M929.4 292.2L936.6 288.7L931.2 283.3L924.1 286.7z" fill="#69cce6"/>
<path d="M936 289.1L943.1 285.6L937.8 280.3L930.7 283.7z" fill="#64cee3"/>
<path d="M942.6 286L949.7 282.5L944.4 277.3L937.3 280.7z" fill="#5fd0df"/>
<path d="M949.2 282.9L956.3 279.4L951 274.2L943.9 277.6z" fill="#5cd2dc"/>
<path d="M955.8 279.8L962.9 276.3L957.6 271.2L950.5 274.6z" fill="#5ed3d8"/>
<path d="M962.4 276.7L969.5 273.3L964.2 268.2L957 271.6z" fill="#63d5d4"/>
<path d="M969 273.6L976.1 270.2L970.8 265.1L963.6 268.5z" fill="#6bd6d0"/>
<path d="M975.6 270.6L982.7 267.1L977.4 262.1L970.2 265.5z" fill="#72d7cb"/>
<path d="M982.2 267.5L989.3 264L984 259L976.8 262.5z" fill="#76d8c7"/>
<path d="M988.8 264.4L995.9 260.9L990.6 256L983.4 259.4z" fill="#79dac2"/>
<path d="M995.3 261.3L1002.5 257.8L997.1 253L990 256.4z" fill="#7ddbbd"/>
<path d="M1001.9 258.2L1009.1 254.7L1003.7 249.9L996.6 253.4z" fill="#81dcb8"/>
<path d="M1008.5 255.1L1015.7 251.6L1010.3 246.9L1003.2 250.3z" fill="#86ddb2"/>
<path d="M1015.1 252L1022.3 248.6L1016.9 243.9L1009.8 247.3z" fill="#8ddeac"/>
<path d="M1021.7 248.9L1028.9 245.5L1023.5 240.8L1016.4 244.3z" fill="#95dea6"/>
<path d="M1028.3 245.9L1035.4 242.4L1030.1 237.8L1023 241.2z" fill="#9dde9f"/>
<path d="M1034.9 242.8L1042 239.3L1036.7 234.8L1029.6 238.2z" fill="#a5de98"/>
<path d="M1041.5 239.7L1048.6 236.2L1043.3 231.7L1036.2 235.2z" fill="#aedd91"/>
<path d="M1048.1 236.6L1055.2 233.1L1049.9 228.7L1042.7 232.1z" fill="#b7dd8a"/>
<path d="M1054.7 233.5L1061.8 230L1056.5 225.7L1049.3 229.1z" fill="#c0db83"/>
<path d="M1061.3 230.4L1068.4 226.9L1063.1 222.6L1055.9 226.1z" fill="#c8da7d"/>
<path d="M1067.9 227.3L1075 223.9L1069.7 219.6L1062.5 223z" fill="#d0d878"/>
<path d="M1074.4 224.3L1081.6 220.8L1076.3 216.5L1069.1 220z" fill="#d8d773"/>
<path d="M1081 221.2L1088.2 217.7L1082.9 213.5L1075.7 217z" fill="#dfd571"/>
<path d="M1087.6 218.1L1094.8 214.6L1089.4 210.5L1082.3 213.9z" fill="#e6d471"/>
<path d="M1094.2 215L1101.4 211.5L1096 207.4L1088.9 210.9z" fill="#edd273"/>
<path d="M1100.8 211.9L1108 208.4L1102.6 204.4L1095.5 207.9z" fill="#f3d177"/>
<path d="M1107.4 208.8L1114.6 205.3L1109.2 201.4L1102.1 204.8z" fill="#f8d17c"/>
<path d="M1114 205.7L1121.1 202.2L1115.8 198.3L1108.7 201.8z" fill="#fdd27d"/>
<path d="M1120.6 202.7L1127.7 199.1L1122.4 195.3L1115.3 198.8z" fill="#fed57c"/>
<path d="M1127.2 199.6L1134.3 196.1L1129 192.3L1121.9 195.7z" fill="#fed978"/>
<path d="M1133.8 196.5L1140.9 193L1135.6 189.2L1128.4 192.7z" fill="#fedd76"/>
<path d="M1140.4 193.4L1147.5 189.9L1142.2 186.2L1135 189.7z" fill="#fce173"/>
<path d="M1147 190.3L1154.1 186.8L1148.8 183.2L1141.6 186.6z" fill="#fbe571"/>
<path d="M1153.5 187.2L1160.7 183.7L1155.4 180.1L1148.2 183.6z" fill="#f9e96f"/>
<path d="M1160.1 184.1L1167.3 180.6L1162 177.1L1154.8 180.6z" fill="#f8ed6c"/>
<path d="M1166.7 181.1L1173.9 177.5L1168.6 174L1161.4 177.5z" fill="#f8f16a"/>
<path d="M1173.3 178L1180.5 174.4L1175.2 171L1168 174.5z" fill="#f9f567"/>
<path d="M763 378.5L770.1 375.1L764.8 368.4L757.7 371.8z" fill="#8c85ea"/>
<path d="M769.6 375.4L776.7 371.9L771.4 365.3L764.3 368.7z" fill="#8c88ee"/>
<path d="M776.2 372.3L783.3 368.8L778 362.2L770.9 365.7z" fill="#8d8af1"/>
<path d="M782.8 369.1L789.9 365.7L784.6 359.2L777.5 362.6z" fill="#8d8df3"/>
<path d="M789.4 366L796.5 362.5L791.2 356.1L784 359.5z" fill="#8d90f6"/>
<path d="M796 362.9L803.1 359.4L797.7 353L790.6 356.4z" fill="#8d93f8"/>
<path d="M802.6 359.7L809.7 356.3L804.3 349.9L797.2 353.3z" fill="#8c95fa"/>
<path d="M809.2 356.6L816.3 353.1L810.9 346.8L803.8 350.2z" fill="#8c98fb"/>
<path d="M815.8 353.5L822.9 350L817.5 343.7L810.4 347.2z" fill="#8b9bfd"/>
<path d="M822.4 350.3L829.5 346.9L824.1 340.6L817 344.1z" fill="#8a9efe"/>
<path d="M828.9 347.2L836.1 343.7L830.7 337.6L823.6 341z" fill="#89a1fe"/>
<path d="M835.5 344.1L842.6 340.6L837.3 334.5L830.2 337.9z" fill="#87a4ff"/>
<path d="M842.1 340.9L849.2 337.4L843.9 331.4L836.8 334.8z" fill="#84a7ff"/>
<path d="M848.7 337.8L855.8 334.3L850.5 328.3L843.4 331.7z" fill="#80aafe"/>
<path d="M855.3 334.7L862.4 331.2L857.1 325.2L850 328.7z" fill="#7dadfd"/>
<path d="M861.9 331.5L869 328L863.7 322.1L856.6 325.6z" fill="#7cb0fb"/>
<path d="M868.5 328.4L875.6 324.9L870.3 319L863.2 322.5z" fill="#7bb3fa"/>
<path d="M875.1 325.3L882.2 321.8L876.9 316L869.7 319.4z" fill="#7ab6f8"/>
<path d="M881.7 322.1L888.8 318.6L883.5 312.9L876.3 316.3z" fill="#79b9f5"/>
<path d="M888.3 319L895.4 315.5L890 309.8L882.9 313.2z" fill="#77bcf3"/>
<path d="M894.9 315.8L902 312.3L896.6 306.7L889.5 310.1z" fill="#76bef1"/>
<path d="M901.5 312.7L908.6 309.2L903.2 303.6L896.1 307.1z" fill="#74c1ef"/>
<path d="M908 309.6L915.2 306.1L909.8 300.5L902.7 304z" fill="#73c4ee"/>
<path d="M914.6 306.4L921.8 302.9L916.4 297.4L909.3 300.9z" fill="#71c6ed"/>
<path d="M921.2 303.3L928.4 299.8L923 294.4L915.9 297.8z" fill="#6fc9eb"/>
<path d="M927.8 300.2L934.9 296.7L929.6 291.3L922.5 294.7z" fill="#6ccbe8"/>
<path d="M934.4 297L941.5 293.5L936.2 288.2L929.1 291.6z" fill="#68cde5"/>
<path d="M941 293.9L948.1 290.4L942.8 285.1L935.7 288.6z" fill="#63cfe2"/>
<path d="M947.6 290.8L954.7 287.3L949.4 282L942.3 285.5z" fill="#5ed1de"/>
<path d="M954.2 287.6L961.3 284.1L956 278.9L948.8 282.4z" fill="#5dd2db"/>
<path d="M960.8 284.5L967.9 281L962.6 275.8L955.4 279.3z" fill="#60d4d7"/>
<path d="M967.4 281.4L974.5 277.8L969.2 272.8L962 276.2z" fill="#66d5d2"/>
<path d="M974 278.2L981.1 274.7L975.8 269.7L968.6 273.1z" fill="#6ed7ce"/>
<path d="M980.6 275.1L987.7 271.6L982.3 266.6L975.2 270.1z" fill="#74d8ca"/>
<path d="M987.1 272L994.3 268.4L988.9 263.5L981.8 267z" fill="#78d9c5"/>
<path d="M993.7 268.8L1000.9 265.3L995.5 260.4L988.4 263.9z" fill="#7bdac1"/>
<path d="M1000.3 265.7L1007.5 262.2L1002.1 257.3L995 260.8z" fill="#7edcbb"/>
<path d="M1006.9 262.6L1014.1 259L1008.7 254.2L1001.6 257.7z" fill="#83ddb6"/>
<path d="M1013.5 259.4L1020.7 255.9L1015.3 251.2L1008.2 254.6z" fill="#8addb0"/>
<path d="M1020.1 256.3L1027.2 252.8L1021.9 248.1L1014.8 251.6z" fill="#91dea9"/>
<path d="M1026.7 253.1L1033.8 249.6L1028.5 245L1021.4 248.5z" fill="#99dea3"/>
<path d="M1033.3 250L1040.4 246.5L1035.1 241.9L1028 245.4z" fill="#a1de9b"/>
<path d="M1039.9 246.9L1047 243.3L1041.7 238.8L1034.5 242.3z" fill="#aade94"/>
<path d="M1046.5 243.7L1053.6 240.2L1048.3 235.7L1041.1 239.2z" fill="#b3dd8d"/>
<path d="M1053.1 240.6L1060.2 237.1L1054.9 232.6L1047.7 236.1z" fill="#bcdc86"/>
<path d="M1059.7 237.5L1066.8 233.9L1061.5 229.6L1054.3 233z" fill="#c5db80"/>
<path d="M1066.2 234.3L1073.4 230.8L1068.1 226.5L1060.9 230z" fill="#cdd97a"/>
<path d="M1072.8 231.2L1080 227.7L1074.7 223.4L1067.5 226.9z" fill="#d5d875"/>
<path d="M1079.4 228.1L1086.6 224.5L1081.2 220.3L1074.1 223.8z" fill="#ddd672"/>
<path d="M1086 224.9L1093.2 221.4L1087.8 217.2L1080.7 220.7z" fill="#e4d471"/>
<path d="M1092.6 221.8L1099.8 218.2L1094.4 214.1L1087.3 217.6z" fill="#ebd373"/>
<path d="M1099.2 218.7L1106.4 215.1L1101 211L1093.9 214.5z" fill="#f1d276"/>
<path d="M1105.8 215.5L1112.9 212L1107.6 208L1100.5 211.5z" fill="#f7d17b"/>
<path d="M1112.4 212.4L1119.5 208.8L1114.2 204.9L1107.1 208.4z" fill="#fcd27e"/>
<path d="M1119 209.3L1126.1 205.7L1120.8 201.8L1113.7 205.3z" fill="#fed57d"/>
<path d="M1125.6 206.1L1132.7 202.6L1127.4 198.7L1120.2 202.2z" fill="#fed87a"/>
<path d="M1132.2 203L1139.3 199.4L1134 195.6L1126.8 199.1z" fill="#fedc77"/>
<path d="M1138.8 199.9L1145.9 196.3L1140.6 192.5L1133.4 196z" fill="#fde074"/>
<path d="M1145.3 196.7L1152.5 193.2L1147.2 189.4L1140 193z" fill="#fbe472"/>
<path d="M1151.9 193.6L1159.1 190L1153.8 186.4L1146.6 189.9z" fill="#f9e870"/>
<path d="M1158.5 190.4L1165.7 186.9L1160.4 183.3L1153.2 186.8z" fill="#f8ed6d"/>
<path d="M1165.1 187.3L1172.3 183.7L1167 180.2L1159.8 183.7z" fill="#f8f16b"/>
<path d="M1171.7 184.2L1178.9 180.6L1173.5 177.1L1166.4 180.6z" fill="#f9f568"/>
<path d="M1178.3 181L1185.5 177.5L1180.1 174L1173 177.5z" fill="#faf864"/>
</g>
<g fill="none">
<path d="M763.1 401L1185 374.8" stroke="#262626" stroke-width="1.05"/>
<path d="M763.1 401L663.4 291" stroke="#262626" stroke-width="1.05"/>
<path d="M663.4 291L663.4 46.6" stroke="#262626" stroke-width="1.1"/>
<path d="M763.1 401L770.7 409.4" stroke="#262626" stroke-width="1.05"/>
<path d="M901.8 392.4L909.3 400.8" stroke="#262626" stroke-width="1.05"/>
<path d="M1040.4 383.8L1048 392.2" stroke="#262626" stroke-width="1.05"/>
<path d="M1179.1 375.2L1186.6 383.5" stroke="#262626" stroke-width="1.05"/>
<path d="M763.1 401L751.8 401.7" stroke="#262626" stroke-width="1.05"/>
<path d="M728.1 362.4L716.8 363.1" stroke="#262626" stroke-width="1.05"/>
<path d="M693.1 323.8L681.9 324.5" stroke="#262626" stroke-width="1.05"/>
<path d="M663.4 291L655.8 282.6" stroke="#262626" stroke-width="1.05"/>
<path d="M663.4 250.3L655.8 241.9" stroke="#262626" stroke-width="1.05"/>
<path d="M663.4 209.5L655.8 201.1" stroke="#262626" stroke-width="1.05"/>
<path d="M663.4 168.8L655.8 160.4" stroke="#262626" stroke-width="1.05"/>
<path d="M663.4 128L655.8 119.7" stroke="#262626" stroke-width="1.05"/>
<path d="M663.4 87.3L655.8 78.9" stroke="#262626" stroke-width="1.05"/>
</g>
<g fill="none">
<path d="M285.1 889.9L182 775.4" stroke="#e4e4e4" stroke-width="0.9"/>
<path d="M182 775.4L182 518.4" stroke="#e4e4e4" stroke-width="0.9"/>
<path d="M428.2 880.9L325.1 766.4" stroke="#e4e4e4" stroke-width="0.9"/>
<path d="M325.1 766.4L325.1 509.4" stroke="#e4e4e4" stroke-width="0.9"/>
<path d="M571.4 872L468.2 757.5" stroke="#e4e4e4" stroke-width="0.9"/>
<path d="M468.2 757.5L468.2 500.5" stroke="#e4e4e4" stroke-width="0.9"/>
<path d="M105.7 858.6L541.3 831.4" stroke="#e4e4e4" stroke-width="0.9"/>
<path d="M541.3 831.4L541.3 574.4" stroke="#e4e4e4" stroke-width="0.9"/>
<path d="M69.5 818.4L505.2 791.2" stroke="#e4e4e4" stroke-width="0.9"/>
<path d="M505.2 791.2L505.2 534.2" stroke="#e4e4e4" stroke-width="0.9"/>
<path d="M38.8 732.9L474.4 705.7" stroke="#e4e4e4" stroke-width="0.9"/>
<path d="M474.4 705.7L577.5 820.2" stroke="#e4e4e4" stroke-width="0.9"/>
<path d="M38.8 681.5L474.4 654.3" stroke="#e4e4e4" stroke-width="0.9"/>
<path d="M474.4 654.3L577.5 768.8" stroke="#e4e4e4" stroke-width="0.9"/>
<path d="M38.8 630.1L474.4 602.9" stroke="#e4e4e4" stroke-width="0.9"/>
<path d="M474.4 602.9L577.5 717.4" stroke="#e4e4e4" stroke-width="0.9"/>
<path d="M38.8 578.7L474.4 551.5" stroke="#e4e4e4" stroke-width="0.9"/>
<path d="M474.4 551.5L577.5 666" stroke="#e4e4e4" stroke-width="0.9"/>
<path d="M38.8 784.3L474.4 757.1" stroke="#3a3a3a" stroke-width="0.9"/>
<path d="M474.4 757.1L577.5 871.6" stroke="#3a3a3a" stroke-width="0.9"/>
<path d="M38.8 527.3L474.4 500.1" stroke="#3a3a3a" stroke-width="0.9"/>
<path d="M474.4 500.1L577.5 614.6" stroke="#3a3a3a" stroke-width="0.9"/>
<path d="M474.4 757.1L474.4 500.1" stroke="#3a3a3a" stroke-width="1.1"/>
<path d="M577.5 871.6L577.5 614.6" stroke="#3a3a3a" stroke-width="1.1"/>
</g>
<g stroke="none">
<path d="M43.9 641.3L51.2 635L45.7 632.3L38.4 638.8z" fill="#a3df9d"/>
<path d="M50.7 635.6L58 629.6L52.5 626.7L45.2 632.9z" fill="#b1de93"/>
<path d="M57.5 630.1L64.8 624.3L59.3 621.3L52 627.2z" fill="#bedd89"/>
<path d="M64.3 624.9L71.6 619.4L66.1 616.1L58.8 621.8z" fill="#cadb80"/>
<path d="M71.1 619.9L78.4 614.6L72.9 611.2L65.6 616.6z" fill="#d4d979"/>
<path d="M77.9 615.1L85.2 610.1L79.7 606.5L72.4 611.7z" fill="#ded775"/>
<path d="M84.7 610.6L92 605.9L86.5 602.1L79.2 607z" fill="#e6d575"/>
<path d="M91.5 606.3L98.9 601.8L93.3 597.9L86 602.6z" fill="#edd377"/>
<path d="M98.3 602.3L105.7 598L100.2 594L92.8 598.4z" fill="#f3d27b"/>
<path d="M105.1 598.5L112.5 594.5L107 590.3L99.6 594.4z" fill="#f8d27f"/>
<path d="M111.9 594.9L119.3 591.2L113.8 586.8L106.4 590.7z" fill="#fcd380"/>
<path d="M118.7 591.6L126.1 588.1L120.6 583.6L113.2 587.2z" fill="#fed57f"/>
<path d="M125.5 588.5L132.9 585.3L127.4 580.7L120 584z" fill="#fed87c"/>
<path d="M132.3 585.7L139.7 582.7L134.2 577.9L126.8 581z" fill="#feda7a"/>
<path d="M139.1 583.1L146.5 580.3L141 575.5L133.6 578.3z" fill="#fedc77"/>
<path d="M145.9 580.7L153.3 578.2L147.8 573.2L140.5 575.8z" fill="#fdde75"/>
<path d="M152.7 578.6L160.1 576.4L154.6 571.2L147.3 573.6z" fill="#fde073"/>
<path d="M159.5 576.7L166.9 574.7L161.4 569.5L154.1 571.6z" fill="#fce272"/>
<path d="M166.4 575L173.7 573.3L168.2 568L160.9 569.8z" fill="#fbe370"/>
<path d="M173.2 573.6L180.5 572.2L175 566.7L167.7 568.3z" fill="#fbe46e"/>
<path d="M180 572.5L187.3 571.2L181.9 565.7L174.5 567z" fill="#fae46d"/>
<path d="M186.8 571.5L194.1 570.6L188.7 564.9L181.3 566z" fill="#fae56b"/>
<path d="M193.6 570.8L200.9 570.1L195.5 564.4L188.1 565.2z" fill="#fae56a"/>
<path d="M200.4 570.4L207.7 569.9L202.3 564.1L194.9 564.6z" fill="#fae469"/>
<path d="M207.2 570.2L214.5 570L209.1 564L201.7 564.3z" fill="#fae467"/>
<path d="M214 570.2L221.3 570.2L215.9 564.2L208.5 564.3z" fill="#fae366"/>
<path d="M220.8 570.5L228.1 570.8L222.7 564.7L215.4 564.5z" fill="#fbe265"/>
<path d="M227.6 571L234.9 571.5L229.5 565.4L222.2 564.9z" fill="#fbe064"/>
<path d="M234.4 571.7L241.7 572.5L236.3 566.3L229 565.6z" fill="#fcde63"/>
<path d="M241.2 572.7L248.5 573.7L243.1 567.5L235.8 566.5z" fill="#fddb62"/>
<path d="M248 573.9L255.3 575.2L250 568.9L242.6 567.7z" fill="#fdd962"/>
<path d="M254.8 575.4L262.1 576.9L256.8 570.5L249.4 569.1z" fill="#fed561"/>
<path d="M261.6 577.1L268.9 578.8L263.6 572.4L256.2 570.7z" fill="#fed261"/>
<path d="M268.4 579L275.7 581L270.4 574.6L263 572.6z" fill="#fece62"/>
<path d="M275.2 581.2L282.5 583.5L277.2 577L269.8 574.7z" fill="#feca62"/>
<path d="M282 583.6L289.4 586.1L284 579.6L276.7 577.1z" fill="#fac760"/>
<path d="M288.8 586.2L296.2 589L290.9 582.5L283.5 579.7z" fill="#f4c659"/>
<path d="M295.6 589.1L303 592.1L297.7 585.6L290.3 582.6z" fill="#ecc550"/>
<path d="M302.3 592.2L309.8 595.5L304.5 589L297.1 585.7z" fill="#e4c64a"/>
<path d="M309.1 595.6L316.6 599.1L311.3 592.6L303.9 589.1z" fill="#dac848"/>
<path d="M315.9 599.1L323.4 602.9L318.1 596.5L310.7 592.7z" fill="#cecb4a"/>
<path d="M322.7 602.9L330.2 607L325 600.6L317.5 596.5z" fill="#c1ce51"/>
<path d="M329.5 607L337 611.2L331.8 604.9L324.3 600.6z" fill="#b2d05b"/>
<path d="M336.3 611.2L343.8 615.7L338.7 609.6L331.1 604.9z" fill="#a1d265"/>
<path d="M343 615.7L350.6 620.5L345.5 614.4L337.9 609.5z" fill="#8cd26f"/>
<path d="M349.8 620.3L357.4 625.5L352.3 619.6L344.7 614.3z" fill="#76d27a"/>
<path d="M356.6 625.2L364.2 630.7L359.1 625L351.6 619.4z" fill="#5fd086"/>
<path d="M363.4 630.3L371 636.1L365.9 630.6L358.4 624.7z" fill="#49cc92"/>
<path d="M370.2 635.7L377.8 641.8L372.7 636.5L365.2 630.2z" fill="#37c89e" stroke="#37c89e" stroke-width="1.1"/>
<path d="M377.1 641.3L384.6 647.7L379.5 642.6L372 636z" fill="#29c3aa" stroke="#29c3aa" stroke-width="1.1"/>
<path d="M383.9 647.1L391.4 653.8L386.3 648.9L378.8 642.1z" fill="#17bfb7" stroke="#17bfb7" stroke-width="1.1"/>
<path d="M390.8 653.2L398.2 660.3L393 655.5L385.6 648.3z" fill="#02bac3" stroke="#02bac3" stroke-width="1.1"/>
<path d="M397.6 659.6L405 666.9L399.8 662.3L392.4 654.9z" fill="#07b5d0" stroke="#07b5d0" stroke-width="1.1"/>
<path d="M404.4 666.3L411.8 673.9L406.6 669.3L399.2 661.6z" fill="#18aedb" stroke="#18aedb" stroke-width="1.1"/>
<path d="M411.3 673.2L418.6 681.1L413.4 676.6L406 668.6z" fill="#22a6e3" stroke="#22a6e3" stroke-width="1.1"/>
<path d="M418.1 680.4L425.4 688.6L420.2 684.1L412.8 675.9z" fill="#2d9ee9" stroke="#2d9ee9" stroke-width="1.1"/>
<path d="M424.9 687.8L432.2 696.3L427 691.8L419.6 683.4z" fill="#3896f1" stroke="#3896f1" stroke-width="1.1"/>
<path d="M431.7 695.6L439 704.3L433.8 699.8L426.5 691.1z" fill="#3f8ef9"/>
<path d="M438.5 703.5L445.8 712.5L440.6 708L433.3 699.1z" fill="#4c84fe"/>
<path d="M445.4 711.8L452.6 721L447.4 716.5L440.1 707.3z" fill="#597afe"/>
<path d="M452.2 720.3L459.4 729.7L454.2 725.2L446.9 715.8z" fill="#6070fa"/>
<path d="M459 729L466.2 738.7L461 734.2L453.7 724.5z" fill="#6367f2"/>
<path d="M465.8 738L473 747.9L467.8 743.4L460.5 733.4z" fill="#625ae5"/>
<path d="M472.6 747.2L479.9 757.4L474.6 752.8L467.3 742.6z" fill="#5f50d0"/>
<path d="M49 643.5L56.4 637.4L50.9 634.7L43.5 641z" fill="#acde96"/>
<path d="M55.8 638L63.2 632.2L57.7 629.2L50.3 635.3z" fill="#b9dd8c"/>
<path d="M62.6 632.7L70 627.1L64.5 624L57.1 629.8z" fill="#c5db82"/>
<path d="M69.4 627.6L76.8 622.3L71.3 619L63.9 624.5z" fill="#d1d97b"/>
<path d="M76.2 622.8L83.6 617.7L78.1 614.2L70.7 619.5z" fill="#dad776"/>
<path d="M83 618.2L90.4 613.3L84.9 609.7L77.5 614.7z" fill="#e3d574"/>
<path d="M89.9 613.8L97.2 609.2L91.7 605.5L84.3 610.2z" fill="#ebd475"/>
<path d="M96.7 609.7L104 605.3L98.5 601.4L91.1 605.9z" fill="#f1d379"/>
<path d="M103.5 605.8L110.8 601.7L105.3 597.6L98 601.9z" fill="#f7d27d"/>
<path d="M110.3 602.1L117.6 598.3L112.1 594.1L104.8 598z" fill="#fbd280"/>
<path d="M117.1 598.7L124.4 595.1L118.9 590.7L111.6 594.5z" fill="#fed47f"/>
<path d="M123.9 595.5L131.2 592.1L125.7 587.6L118.4 591.1z" fill="#fed77d"/>
<path d="M130.7 592.5L138 589.4L132.5 584.8L125.2 588z" fill="#fed97a"/>
<path d="M137.5 589.8L144.8 587L139.3 582.2L132 585.2z" fill="#fedc78"/>
<path d="M144.3 587.3L151.6 584.7L146.2 579.8L138.8 582.6z" fill="#fdde76"/>
<path d="M151.1 585.1L158.5 582.7L153 577.7L145.6 580.2z" fill="#fde074"/>
<path d="M157.9 583.1L165.3 581L159.8 575.8L152.4 578z" fill="#fce172"/>
<path d="M164.7 581.3L172.1 579.4L166.6 574.2L159.2 576.1z" fill="#fbe370"/>
<path d="M171.5 579.7L178.9 578.1L173.4 572.8L166 574.5z" fill="#fbe46f"/>
<path d="M178.3 578.4L185.7 577.1L180.2 571.6L172.8 573.1z" fill="#fae56d"/>
<path d="M185.1 577.4L192.5 576.2L187 570.7L179.7 571.9z" fill="#fae56c"/>
<path d="M191.9 576.5L199.3 575.6L193.8 570L186.5 571z" fill="#fae56a"/>
<path d="M198.7 575.9L206.1 575.3L200.6 569.5L193.3 570.3z" fill="#fae569"/>
<path d="M205.5 575.5L212.9 575.2L207.4 569.3L200.1 569.8z" fill="#fae568"/>
<path d="M212.3 575.4L219.7 575.3L214.2 569.3L206.9 569.6z" fill="#fae467"/>
<path d="M219.1 575.5L226.5 575.6L221.1 569.6L213.7 569.6z" fill="#fae365"/>
<path d="M225.9 575.8L233.3 576.2L227.9 570.1L220.5 569.8z" fill="#fbe264"/>
<path d="M232.7 576.4L240.1 577L234.7 570.9L227.3 570.3z" fill="#fbe063"/>
<path d="M239.5 577.2L246.9 578.1L241.5 571.9L234.1 571.1z" fill="#fcde63"/>
<path d="M246.3 578.3L253.7 579.3L248.3 573.1L240.9 572.1z" fill="#fddb62"/>
<path d="M253.1 579.5L260.5 580.9L255.1 574.5L247.8 573.3z" fill="#fdd961"/>
<path d="M259.9 581L267.3 582.6L261.9 576.3L254.6 574.7z" fill="#fed561"/>
<path d="M266.7 582.8L274.1 584.6L268.7 578.2L261.4 576.4z" fill="#fed261"/>
<path d="M273.5 584.8L280.9 586.8L275.6 580.4L268.2 578.4z" fill="#fece61"/>
<path d="M280.3 587L287.7 589.3L282.4 582.8L275 580.5z" fill="#feca62"/>
<path d="M287.1 589.4L294.5 591.9L289.2 585.4L281.8 582.9z" fill="#fac760"/>
<path d="M293.9 592.1L301.3 594.9L296 588.3L288.6 585.6z" fill="#f4c559"/>
<path d="M300.7 595L308.1 598L302.8 591.5L295.4 588.5z" fill="#ecc550"/>
<path d="M307.5 598.1L314.9 601.3L309.6 594.8L302.2 591.6z" fill="#e3c64a"/>
<path d="M314.3 601.4L321.7 604.9L316.5 598.4L309 594.9z" fill="#d9c948"/>
<path d="M321.1 605L328.5 608.7L323.3 602.3L315.9 598.5z" fill="#cecb4a"/>
<path d="M327.9 608.8L335.3 612.7L330.1 606.3L322.7 602.3z" fill="#c0ce51"/>
<path d="M334.6 612.8L342.1 617L337 610.6L329.5 606.4z" fill="#b2d05b"/>
<path d="M341.4 617L348.9 621.4L343.8 615.2L336.3 610.7z" fill="#a1d266"/>
<path d="M348.2 621.4L355.7 626.1L350.6 620L343.1 615.2z" fill="#8dd270"/>
<path d="M355 626L362.5 631L357.5 625L349.9 619.9z" fill="#78d27b"/>
<path d="M361.8 630.8L369.3 636.1L364.3 630.3L356.7 624.9z" fill="#62d087"/>
<path d="M368.6 635.8L376.1 641.4L371.1 635.8L363.5 630.1z" fill="#4ccd93"/>
<path d="M375.4 641L383 647L377.9 641.6L370.3 635.5z" fill="#3bc99e" stroke="#3bc99e" stroke-width="1.1"/>
<path d="M382.2 646.5L389.8 652.8L384.7 647.6L377.1 641.2z" fill="#2bc3a9" stroke="#2bc3a9" stroke-width="1.1"/>
<path d="M389 652.2L396.6 658.8L391.5 653.8L383.9 647.1z" fill="#19bfb5" stroke="#19bfb5" stroke-width="1.1"/>
<path d="M395.9 658.3L403.4 665.2L398.2 660.3L390.8 653.2z" fill="#04bbc2" stroke="#04bbc2" stroke-width="1.1"/>
<path d="M402.7 664.5L410.2 671.8L405 667L397.6 659.6z" fill="#06b6ce" stroke="#06b6ce" stroke-width="1.1"/>
<path d="M409.6 671.1L417 678.6L411.8 673.9L404.4 666.3z" fill="#16afda" stroke="#16afda" stroke-width="1.1"/>
<path d="M416.4 678L423.8 685.8L418.6 681.2L411.2 673.3z" fill="#1fa6e2" stroke="#1fa6e2" stroke-width="1.1"/>
<path d="M423.2 685.1L430.6 693.2L425.3 688.6L418 680.5z" fill="#299ee8" stroke="#299ee8" stroke-width="1.1"/>
<path d="M430.1 692.5L437.4 700.9L432.1 696.4L424.8 687.9z" fill="#3596ef" stroke="#3596ef" stroke-width="1.1"/>
<path d="M436.9 700.2L444.2 708.9L438.9 704.4L431.6 695.6z" fill="#3c8ef8"/>
<path d="M443.7 708.2L451 717.2L445.7 712.6L438.4 703.6z" fill="#4884fe"/>
<path d="M450.5 716.4L457.8 725.7L452.5 721.1L445.2 711.9z" fill="#577afe"/>
<path d="M457.3 724.9L464.6 734.4L459.3 729.8L452 720.3z" fill="#5e70fa"/>
<path d="M464.1 733.7L471.4 743.4L466.1 738.8L458.8 729.1z" fill="#6267f3"/>
<path d="M470.9 742.7L478.2 752.6L472.9 748L465.7 738z" fill="#625ce7"/>
<path d="M477.8 751.9L485 762.1L479.7 757.5L472.5 747.3z" fill="#6051d2"/>
<path d="M54.2 645.8L61.5 639.9L56 637.1L48.7 643.2z" fill="#b4dd8e"/>
<path d="M61 640.4L68.3 634.7L62.8 631.8L55.5 637.7z" fill="#c1dc85"/>
<path d="M67.8 635.3L75.1 629.8L69.6 626.7L62.3 632.3z" fill="#cdda7d"/>
<path d="M74.6 630.4L81.9 625.2L76.4 621.9L69.1 627.3z" fill="#d7d877"/>
<path d="M81.4 625.7L88.7 620.7L83.2 617.3L75.9 622.4z" fill="#e0d674"/>
<path d="M88.2 621.2L95.6 616.5L90 612.9L82.7 617.8z" fill="#e8d474"/>
<path d="M95 617L102.4 612.6L96.9 608.8L89.5 613.4z" fill="#efd377"/>
<path d="M101.8 613L109.2 608.8L103.7 604.9L96.3 609.3z" fill="#f5d27c"/>
<path d="M108.6 609.3L116 605.3L110.5 601.2L103.1 605.3z" fill="#fad280"/>
<path d="M115.4 605.8L122.8 602L117.3 597.8L109.9 601.7z" fill="#fdd47f"/>
<path d="M122.2 602.5L129.6 599L124.1 594.6L116.7 598.2z" fill="#fed67d"/>
<path d="M129 599.4L136.4 596.2L130.9 591.7L123.5 595z" fill="#fed97b"/>
<path d="M135.8 596.6L143.2 593.6L137.7 589L130.3 592.1z" fill="#fedb78"/>
<path d="M142.6 594L150 591.2L144.5 586.5L137.1 589.3z" fill="#fedd76"/>
<path d="M149.4 591.6L156.8 589.1L151.3 584.2L144 586.8z" fill="#fddf74"/>
<path d="M156.2 589.5L163.6 587.2L158.1 582.2L150.8 584.6z" fill="#fce172"/>
<path d="M163.1 587.6L170.4 585.6L164.9 580.4L157.6 582.5z" fill="#fbe371"/>
<path d="M169.9 585.9L177.2 584.1L171.7 578.9L164.4 580.7z" fill="#fbe46f"/>
<path d="M176.7 584.4L184 582.9L178.5 577.6L171.2 579.2z" fill="#fae56d"/>
<path d="M183.5 583.2L190.8 582L185.4 576.5L178 577.9z" fill="#fae66c"/>
<path d="M190.3 582.3L197.6 581.2L192.2 575.7L184.8 576.8z" fill="#fae66b"/>
<path d="M197.1 581.5L204.4 580.7L199 575.1L191.6 575.9z" fill="#f9e669"/>
<path d="M203.9 581L211.2 580.4L205.8 574.7L198.4 575.3z" fill="#f9e668"/>
<path d="M210.7 580.7L218 580.4L212.6 574.6L205.2 574.9z" fill="#f9e667"/>
<path d="M217.5 580.6L224.8 580.6L219.4 574.7L212.1 574.8z" fill="#fae566"/>
<path d="M224.3 580.8L231.6 581L226.2 575L218.9 574.9z" fill="#fae465"/>
<path d="M231.1 581.2L238.4 581.6L233 575.6L225.7 575.2z" fill="#fae264"/>
<path d="M237.9 581.9L245.2 582.5L239.8 576.4L232.5 575.8z" fill="#fbe063"/>
<path d="M244.7 582.7L252 583.6L246.6 577.4L239.3 576.6z" fill="#fcde62"/>
<path d="M251.5 583.8L258.8 585L253.5 578.7L246.1 577.6z" fill="#fddc61"/>
<path d="M258.3 585.1L265.6 586.5L260.3 580.2L252.9 578.9z" fill="#fdd961"/>
<path d="M265.1 586.7L272.4 588.3L267.1 582L259.7 580.4z" fill="#fed560"/>
<path d="M271.9 588.5L279.3 590.3L273.9 583.9L266.5 582.1z" fill="#fed260"/>
<path d="M278.7 590.5L286.1 592.6L280.7 586.2L273.3 584.1z" fill="#fece61"/>
<path d="M285.5 592.8L292.9 595.1L287.5 588.6L280.2 586.3z" fill="#feca61"/>
<path d="M292.3 595.2L299.7 597.8L294.3 591.3L287 588.7z" fill="#fac760"/>
<path d="M299.1 597.9L306.5 600.7L301.2 594.2L293.8 591.4z" fill="#f3c558"/>
<path d="M305.9 600.8L313.3 603.9L308 597.3L300.6 594.3z" fill="#ecc54f"/>
<path d="M312.7 604L320.1 607.2L314.8 600.7L307.4 597.4z" fill="#e3c64a"/>
<path d="M319.4 607.3L326.9 610.8L321.6 604.3L314.2 600.8z" fill="#d9c948"/>
<path d="M326.2 610.9L333.7 614.6L328.5 608.1L321 604.4z" fill="#cdcb4a"/>
<path d="M333 614.6L340.5 618.6L335.3 612.1L327.8 608.2z" fill="#c0ce51"/>
<path d="M339.8 618.6L347.3 622.7L342.1 616.4L334.6 612.2z" fill="#b2d05b"/>
<path d="M346.6 622.7L354.1 627.1L348.9 620.9L341.4 616.4z" fill="#a2d267"/>
<path d="M353.4 627.1L360.9 631.7L355.8 625.6L348.2 620.8z" fill="#8ed371"/>
<path d="M360.1 631.6L367.7 636.5L362.6 630.5L355.1 625.5z" fill="#79d27c"/>
<path d="M366.9 636.4L374.5 641.6L369.4 635.7L361.9 630.4z" fill="#64d188"/>
<path d="M373.7 641.3L381.3 646.8L376.3 641.1L368.7 635.5z" fill="#4fce93"/>
<path d="M380.5 646.5L388.1 652.3L383.1 646.7L375.5 640.8z" fill="#3eca9e"/>
<path d="M387.3 651.8L394.9 658L389.9 652.6L382.3 646.4z" fill="#30c5a9" stroke="#30c5a9" stroke-width="1.1"/>
<path d="M394.2 657.5L401.7 663.9L396.6 658.8L389.1 652.2z" fill="#1bc0b4" stroke="#1bc0b4" stroke-width="1.1"/>
<path d="M401 663.4L408.5 670.2L403.4 665.1L395.9 658.2z" fill="#06bcc0" stroke="#06bcc0" stroke-width="1.1"/>
<path d="M407.9 669.6L415.3 676.7L410.2 671.8L402.7 664.5z" fill="#04b6cd" stroke="#04b6cd" stroke-width="1.1"/>
<path d="M414.7 676L422.1 683.5L416.9 678.7L409.5 671.1z" fill="#14b0d8" stroke="#14b0d8" stroke-width="1.1"/>
<path d="M421.5 682.8L428.9 690.6L423.7 685.8L416.3 678z" fill="#1ea7e1" stroke="#1ea7e1" stroke-width="1.1"/>
<path d="M428.4 689.9L435.7 698L430.5 693.3L423.1 685.2z" fill="#259ee6" stroke="#259ee6" stroke-width="1.1"/>
<path d="M435.2 697.3L442.5 705.7L437.3 701L430 692.6z" fill="#3196ee" stroke="#3196ee" stroke-width="1.1"/>
<path d="M442 705L449.3 713.7L444.1 709L436.8 700.3z" fill="#398ef7" stroke="#398ef7" stroke-width="1.1"/>
<path d="M448.8 712.9L456.1 721.9L450.9 717.2L443.6 708.3z" fill="#4484fd"/>
<path d="M455.7 721.2L462.9 730.4L457.7 725.8L450.4 716.5z" fill="#547afe"/>
<path d="M462.5 729.7L469.7 739.2L464.5 734.5L457.2 725z" fill="#5c70fb"/>
<path d="M469.3 738.4L476.6 748.2L471.3 743.5L464 733.8z" fill="#6067f3"/>
<path d="M476.1 747.4L483.4 757.4L478.1 752.7L470.8 742.7z" fill="#625de8"/>
<path d="M482.9 756.6L490.2 766.8L484.9 762.2L477.6 752z" fill="#6052d5"/>
<path d="M59.3 648L66.7 642.3L61.2 639.5L53.8 645.5z" fill="#bddc87"/>
<path d="M66.1 642.8L73.5 637.3L68 634.4L60.6 640.1z" fill="#c9da7e"/>
<path d="M72.9 637.8L80.3 632.6L74.8 629.5L67.4 634.9z" fill="#d4d878"/>
<path d="M79.7 633.1L87.1 628.1L81.6 624.8L74.2 630z" fill="#ddd674"/>
<path d="M86.5 628.6L93.9 623.8L88.4 620.4L81 625.3z" fill="#e6d573"/>
<path d="M93.4 624.3L100.7 619.7L95.2 616.1L87.8 620.8z" fill="#edd375"/>
<path d="M100.2 620.2L107.5 615.9L102 612.2L94.7 616.6z" fill="#f3d27a"/>
<path d="M107 616.4L114.3 612.3L108.8 608.4L101.5 612.6z" fill="#f8d27e"/>
<path d="M113.8 612.8L121.1 609L115.6 604.9L108.3 608.8z" fill="#fcd37f"/>
<path d="M120.6 609.4L127.9 605.8L122.4 601.6L115.1 605.3z" fill="#fed57e"/>
<path d="M127.4 606.2L134.7 602.9L129.2 598.5L121.9 602z" fill="#fed87b"/>
<path d="M134.2 603.3L141.5 600.2L136 595.7L128.7 598.9z" fill="#feda79"/>
<path d="M141 600.6L148.3 597.7L142.9 593.1L135.5 596.1z" fill="#fedd76"/>
<path d="M147.8 598.1L155.2 595.5L149.7 590.7L142.3 593.5z" fill="#fddf74"/>
<path d="M154.6 595.9L162 593.5L156.5 588.6L149.1 591.1z" fill="#fce173"/>
<path d="M161.4 593.8L168.8 591.7L163.3 586.7L155.9 588.9z" fill="#fce371"/>
<path d="M168.2 592.1L175.6 590.2L170.1 585L162.7 587z" fill="#fbe46f"/>
<path d="M175 590.5L182.4 588.8L176.9 583.6L169.5 585.3z" fill="#fae56e"/>
<path d="M181.8 589.1L189.2 587.7L183.7 582.4L176.3 583.9z" fill="#fae66c"/>
<path d="M188.6 588L196 586.9L190.5 581.4L183.2 582.7z" fill="#f9e76b"/>
<path d="M195.4 587.1L202.8 586.2L197.3 580.6L190 581.7z" fill="#f9e769"/>
<path d="M202.2 586.5L209.6 585.8L204.1 580.1L196.8 580.9z" fill="#f9e768"/>
<path d="M209 586.1L216.4 585.6L210.9 579.8L203.6 580.4z" fill="#f9e767"/>
<path d="M215.8 585.8L223.2 585.6L217.8 579.8L210.4 580.1z" fill="#f9e666"/>
<path d="M222.6 585.9L230 585.9L224.6 580L217.2 580z" fill="#f9e565"/>
<path d="M229.4 586.1L236.8 586.4L231.4 580.4L224 580.2z" fill="#fae464"/>
<path d="M236.2 586.6L243.6 587.1L238.2 581L230.8 580.6z" fill="#fae263"/>
<path d="M243 587.3L250.4 588L245 581.9L237.6 581.2z" fill="#fbe062"/>
<path d="M249.8 588.2L257.2 589.2L251.8 583L244.4 582.1z" fill="#fcde61"/>
<path d="M256.6 589.4L264 590.6L258.6 584.3L251.3 583.2z" fill="#fddc60"/>
<path d="M263.4 590.8L270.8 592.2L265.4 585.9L258.1 584.5z" fill="#fdd960"/>
<path d="M270.2 592.4L277.6 594L272.2 587.7L264.9 586.1z" fill="#fed560"/>
<path d="M277 594.2L284.4 596.1L279.1 589.7L271.7 587.8z" fill="#fed260"/>
<path d="M283.8 596.3L291.2 598.4L285.9 591.9L278.5 589.9z" fill="#fece61"/>
<path d="M290.6 598.5L298 600.9L292.7 594.4L285.3 592.1z" fill="#feca61"/>
<path d="M297.4 601L304.8 603.6L299.5 597.1L292.1 594.6z" fill="#f9c65f"/>
<path d="M304.2 603.8L311.6 606.6L306.3 600.1L298.9 597.3z" fill="#f3c558"/>
<path d="M311 606.7L318.4 609.7L313.1 603.2L305.7 600.2z" fill="#ebc54f"/>
<path d="M317.8 609.8L325.2 613.1L320 606.6L312.5 603.3z" fill="#e3c749"/>
<path d="M324.6 613.2L332 616.7L326.8 610.1L319.4 606.7z" fill="#d8c948"/>
<path d="M331.4 616.7L338.8 620.4L333.6 613.9L326.2 610.2z" fill="#cdcb4a"/>
<path d="M338.2 620.5L345.6 624.4L340.4 617.9L333 614z" fill="#c0ce52"/>
<path d="M345 624.4L352.4 628.5L347.3 622.1L339.8 618z" fill="#b1d05b"/>
<path d="M351.8 628.5L359.2 632.9L354.1 626.6L346.6 622.2z" fill="#a2d267"/>
<path d="M358.5 632.9L366 637.4L360.9 631.2L353.4 626.6z" fill="#8fd372"/>
<path d="M365.3 637.4L372.9 642.2L367.8 636L360.2 631.1z" fill="#7bd37d"/>
<path d="M372.1 642L379.7 647.1L374.6 641.1L367 635.9z" fill="#67d189"/>
<path d="M378.9 646.9L386.5 652.2L381.4 646.4L373.8 641z" fill="#52cf94"/>
<path d="M385.7 652L393.3 657.6L388.2 652L380.6 646.2z" fill="#41cb9f"/>
<path d="M392.5 657.2L400.1 663.2L395 657.8L387.4 651.7z" fill="#33c6a9" stroke="#33c6a9" stroke-width="1.1"/>
<path d="M399.3 662.8L406.9 669.1L401.8 663.8L394.3 657.4z" fill="#1ec0b3" stroke="#1ec0b3" stroke-width="1.1"/>
<path d="M406.2 668.6L413.7 675.3L408.6 670.1L401.1 663.3z" fill="#07bcbf" stroke="#07bcbf" stroke-width="1.1"/>
<path d="M413 674.7L420.5 681.7L415.3 676.7L407.9 669.6z" fill="#03b7cc" stroke="#03b7cc" stroke-width="1.1"/>
<path d="M419.8 681.1L427.3 688.5L422.1 683.5L414.7 676.1z" fill="#13b0d7" stroke="#13b0d7" stroke-width="1.1"/>
<path d="M426.7 687.8L434.1 695.5L428.9 690.6L421.5 682.9z" fill="#1da8e0" stroke="#1da8e0" stroke-width="1.1"/>
<path d="M433.5 694.8L440.9 702.9L435.7 698.1L428.3 690z" fill="#249fe6" stroke="#249fe6" stroke-width="1.1"/>
<path d="M440.3 702.2L447.7 710.6L442.5 705.8L435.1 697.4z" fill="#2d96ed" stroke="#2d96ed" stroke-width="1.1"/>
<path d="M447.2 709.8L454.5 718.5L449.2 713.7L441.9 705z" fill="#368df6" stroke="#368df6" stroke-width="1.1"/>
<path d="M454 717.8L461.3 726.8L456 722L448.7 713z" fill="#4084fd" stroke="#4084fd" stroke-width="1.1"/>
<path d="M460.8 726L468.1 735.3L462.8 730.5L455.5 721.3z" fill="#5179fe"/>
<path d="M467.6 734.5L474.9 744L469.6 739.3L462.3 729.8z" fill="#5a6ffb"/>
<path d="M474.4 743.3L481.7 753L476.4 748.3L469.2 738.5z" fill="#5f66f4"/>
<path d="M481.3 752.2L488.5 762.2L483.2 757.5L476 747.5z" fill="#615de9"/>
<path d="M488.1 761.4L495.3 771.6L490 766.9L482.8 756.7z" fill="#6053d7"/>
<path d="M64.5 650.3L71.8 644.7L66.3 641.9L59 647.7z" fill="#c5db80"/>
<path d="M71.3 645.2L78.6 639.9L73.1 637L65.8 642.5z" fill="#d0d979"/>
<path d="M78.1 640.4L85.4 635.3L79.9 632.2L72.6 637.5z" fill="#dad774"/>
<path d="M84.9 635.8L92.2 631L86.7 627.7L79.4 632.7z" fill="#e3d572"/>
<path d="M91.7 631.5L99.1 626.9L93.6 623.4L86.2 628.2z" fill="#ebd374"/>
<path d="M98.5 627.3L105.9 623L100.4 619.3L93 623.9z" fill="#f1d278"/>
<path d="M105.3 623.4L112.7 619.3L107.2 615.5L99.8 619.8z" fill="#f7d27d"/>
<path d="M112.1 619.7L119.5 615.8L114 611.9L106.6 615.9z" fill="#fcd27f"/>
<path d="M118.9 616.3L126.3 612.6L120.8 608.5L113.4 612.3z" fill="#fed47e"/>
<path d="M125.7 613L133.1 609.6L127.6 605.4L120.2 608.9z" fill="#fed77b"/>
<path d="M132.5 610L139.9 606.8L134.4 602.4L127 605.8z" fill="#feda79"/>
<path d="M139.3 607.2L146.7 604.2L141.2 599.7L133.8 602.8z" fill="#fedc77"/>
<path d="M146.1 604.6L153.5 601.9L148 597.2L140.7 600.1z" fill="#fddf75"/>
<path d="M152.9 602.3L160.3 599.8L154.8 595L147.5 597.6z" fill="#fce173"/>
<path d="M159.7 600.1L167.1 597.9L161.6 593L154.3 595.3z" fill="#fce271"/>
<path d="M166.6 598.2L173.9 596.2L168.4 591.2L161.1 593.3z" fill="#fbe46f"/>
<path d="M173.4 596.5L180.7 594.8L175.2 589.6L167.9 591.5z" fill="#fae56e"/>
<path d="M180.2 595.1L187.5 593.5L182.1 588.3L174.7 589.9z" fill="#fae66c"/>
<path d="M187 593.8L194.3 592.5L188.9 587.2L181.5 588.6z" fill="#f9e76b"/>
<path d="M193.8 592.8L201.1 591.7L195.7 586.3L188.3 587.5z" fill="#f9e86a"/>
<path d="M200.6 592L207.9 591.2L202.5 585.6L195.1 586.6z" fill="#f9e868"/>
<path d="M207.4 591.5L214.7 590.9L209.3 585.2L201.9 585.9z" fill="#f9e867"/>
<path d="M214.2 591.1L221.5 590.7L216.1 585L208.7 585.5z" fill="#f9e766"/>
<path d="M221 591L228.3 590.9L222.9 585L215.6 585.2z" fill="#f9e765"/>
<path d="M227.8 591.1L235.1 591.2L229.7 585.3L222.4 585.3z" fill="#f9e664"/>
<path d="M234.6 591.4L241.9 591.7L236.5 585.7L229.2 585.5z" fill="#f9e463"/>
<path d="M241.4 592L248.7 592.5L243.3 586.4L236 586z" fill="#fae362"/>
<path d="M248.2 592.7L255.5 593.5L250.2 587.4L242.8 586.7z" fill="#fbe161"/>
<path d="M255 593.7L262.4 594.7L257 588.5L249.6 587.6z" fill="#fbde60"/>
<path d="M261.8 594.9L269.2 596.2L263.8 589.9L256.4 588.7z" fill="#fcdc60"/>
<path d="M268.6 596.4L276 597.9L270.6 591.5L263.2 590.1z" fill="#fdd95f"/>
<path d="M275.4 598L282.8 599.7L277.4 593.4L270 591.7z" fill="#fed55f"/>
<path d="M282.2 599.9L289.6 601.9L284.2 595.4L276.8 593.5z" fill="#fed160"/>
<path d="M289 602L296.4 604.2L291 597.7L283.7 595.6z" fill="#fecd60"/>
<path d="M295.8 604.3L303.2 606.7L297.8 600.2L290.5 597.9z" fill="#fdc961"/>
<path d="M302.6 606.9L310 609.5L304.7 603L297.3 600.4z" fill="#f9c65f"/>
<path d="M309.4 609.6L316.8 612.4L311.5 605.9L304.1 603.1z" fill="#f3c557"/>
<path d="M316.2 612.6L323.6 615.6L318.3 609.1L310.9 606z" fill="#ebc54e"/>
<path d="M323 615.7L330.4 619L325.1 612.4L317.7 609.2z" fill="#e2c749"/>
<path d="M329.8 619.1L337.2 622.5L331.9 616L324.5 612.5z" fill="#d8c948"/>
<path d="M336.6 622.6L344 626.3L338.8 619.8L331.3 616.1z" fill="#cccb4b"/>
<path d="M343.3 626.4L350.8 630.2L345.6 623.8L338.1 619.9z" fill="#bfce52"/>
<path d="M350.1 630.3L357.6 634.4L352.4 627.9L344.9 623.8z" fill="#b1d05b"/>
<path d="M356.9 634.4L364.4 638.7L359.2 632.3L351.7 628z" fill="#a1d267"/>
<path d="M363.7 638.6L371.2 643.1L366.1 636.9L358.6 632.3z" fill="#90d373"/>
<path d="M370.5 643.1L378 647.8L372.9 641.6L365.4 636.8z" fill="#7cd37e"/>
<path d="M377.3 647.7L384.8 652.7L379.7 646.6L372.2 641.6z" fill="#68d28a"/>
<path d="M384 652.5L391.6 657.8L386.6 651.8L379 646.5z" fill="#54cf95"/>
<path d="M390.8 657.5L398.4 663.1L393.4 657.3L385.8 651.6z" fill="#44cb9f"/>
<path d="M397.6 662.7L405.2 668.6L400.2 663L392.6 657z" fill="#36c7a9"/>
<path d="M404.5 668.2L412 674.4L407 669L399.4 662.6z" fill="#23c2b3" stroke="#23c2b3" stroke-width="1.1"/>
<path d="M411.3 673.9L418.8 680.5L413.7 675.2L406.2 668.5z" fill="#09bcbe" stroke="#09bcbe" stroke-width="1.1"/>
<path d="M418.1 679.9L425.6 686.9L420.5 681.7L413 674.7z" fill="#02b7cb" stroke="#02b7cb" stroke-width="1.1"/>
<path d="M425 686.3L432.4 693.6L427.3 688.5L419.8 681.1z" fill="#12b1d6" stroke="#12b1d6" stroke-width="1.1"/>
<path d="M431.8 692.9L439.2 700.6L434.1 695.6L426.6 687.8z" fill="#1ca9e0" stroke="#1ca9e0" stroke-width="1.1"/>
<path d="M438.7 699.9L446 707.9L440.8 702.9L433.5 694.9z" fill="#239fe5" stroke="#239fe5" stroke-width="1.1"/>
<path d="M445.5 707.2L452.8 715.5L447.6 710.6L440.3 702.2z" fill="#2995ec" stroke="#2995ec" stroke-width="1.1"/>
<path d="M452.3 714.8L459.6 723.5L454.4 718.6L447.1 709.9z" fill="#338df5" stroke="#338df5" stroke-width="1.1"/>
<path d="M459.1 722.7L466.5 731.7L461.2 726.8L453.9 717.9z" fill="#3c84fc" stroke="#3c84fc" stroke-width="1.1"/>
<path d="M466 730.9L473.3 740.2L468 735.3L460.7 726.1z" fill="#4e79ff"/>
<path d="M472.8 739.4L480.1 748.9L474.8 744.1L467.5 734.6z" fill="#586ffc"/>
<path d="M479.6 748.2L486.9 757.9L481.6 753.1L474.3 743.3z" fill="#5d66f5"/>
<path d="M486.4 757.1L493.7 767.1L488.4 762.3L481.1 752.3z" fill="#605cea"/>
<path d="M493.2 766.3L500.5 776.4L495.2 771.7L487.9 761.5z" fill="#6154d9"/>
<path d="M69.6 652.5L77 647.1L71.5 644.4L64.1 649.9z" fill="#cdd97a"/>
<path d="M76.4 647.6L83.8 642.5L78.3 639.5L70.9 644.9z" fill="#d8d774"/>
<path d="M83.2 643L90.6 638.1L85.1 635L77.7 640.1z" fill="#e1d571"/>
<path d="M90 638.6L97.4 633.9L91.9 630.6L84.5 635.5z" fill="#e9d372"/>
<path d="M96.9 634.4L104.2 629.9L98.7 626.5L91.4 631.1z" fill="#f0d276"/>
<path d="M103.7 630.4L111 626.2L105.5 622.5L98.2 626.9z" fill="#f6d17b"/>
<path d="M110.5 626.6L117.8 622.6L112.3 618.9L105 623z" fill="#fbd27f"/>
<path d="M117.3 623.1L124.6 619.3L119.1 615.4L111.8 619.3z" fill="#fed37e"/>
<path d="M124.1 619.8L131.4 616.2L125.9 612.1L118.6 615.8z" fill="#fed67c"/>
<path d="M130.9 616.6L138.2 613.4L132.7 609.1L125.4 612.6z" fill="#fed979"/>
<path d="M137.7 613.8L145 610.7L139.6 606.3L132.2 609.5z" fill="#fedc77"/>
<path d="M144.5 611.1L151.9 608.3L146.4 603.7L139 606.7z" fill="#fdde75"/>
<path d="M151.3 608.6L158.7 606L153.2 601.4L145.8 604.1z" fill="#fde073"/>
<path d="M158.1 606.4L165.5 604L160 599.3L152.6 601.8z" fill="#fce271"/>
<path d="M164.9 604.4L172.3 602.3L166.8 597.4L159.4 599.6z" fill="#fbe46f"/>
<path d="M171.7 602.6L179.1 600.7L173.6 595.7L166.2 597.7z" fill="#fae66e"/>
<path d="M178.5 601L185.9 599.4L180.4 594.2L173 596z" fill="#f9e76c"/>
<path d="M185.3 599.7L192.7 598.2L187.2 593L179.8 594.5z" fill="#f9e86b"/>
<path d="M192.1 598.5L199.5 597.3L194 592L186.7 593.3z" fill="#f9e86a"/>
<path d="M198.9 597.6L206.3 596.6L200.8 591.2L193.5 592.3z" fill="#f9e968"/>
<path d="M205.7 596.9L213.1 596.2L207.6 590.6L200.3 591.5z" fill="#f9e967"/>
<path d="M212.5 596.5L219.9 595.9L214.4 590.3L207.1 590.9z" fill="#f8e966"/>
<path d="M219.3 596.2L226.7 595.9L221.3 590.1L213.9 590.5z" fill="#f9e865"/>
<path d="M226.1 596.2L233.5 596.1L228.1 590.2L220.7 590.4z" fill="#f9e764"/>
<path d="M232.9 596.3L240.3 596.5L234.9 590.6L227.5 590.5z" fill="#f9e663"/>
<path d="M239.7 596.7L247.1 597.1L241.7 591.1L234.3 590.8z" fill="#f9e562"/>
<path d="M246.5 597.3L253.9 598L248.5 591.9L241.1 591.3z" fill="#fae361"/>
<path d="M253.3 598.2L260.7 599L255.3 592.9L248 592.1z" fill="#fae160"/>
<path d="M260.1 599.2L267.5 600.3L262.1 594.1L254.8 593.1z" fill="#fbdf60"/>
<path d="M266.9 600.5L274.3 601.8L268.9 595.5L261.6 594.3z" fill="#fcdc5f"/>
<path d="M273.7 602L281.1 603.5L275.7 597.2L268.4 595.7z" fill="#fdd95f"/>
<path d="M280.5 603.7L287.9 605.5L282.6 599.1L275.2 597.4z" fill="#fed55f"/>
<path d="M287.3 605.6L294.7 607.6L289.4 601.2L282 599.3z" fill="#fed15f"/>
<path d="M294.1 607.8L301.5 610L296.2 603.5L288.8 601.4z" fill="#fecd60"/>
<path d="M300.9 610.1L308.3 612.5L303 606.1L295.6 603.7z" fill="#fdc960"/>
<path d="M307.7 612.7L315.1 615.3L309.8 608.8L302.4 606.2z" fill="#f9c65f"/>
<path d="M314.5 615.4L321.9 618.3L316.6 611.8L309.2 608.9z" fill="#f2c557"/>
<path d="M321.3 618.4L328.7 621.5L323.4 614.9L316.1 611.9z" fill="#ebc54e"/>
<path d="M328.1 621.6L335.5 624.9L330.3 618.3L322.9 615.1z" fill="#e2c749"/>
<path d="M334.9 625L342.3 628.4L337.1 621.9L329.7 618.4z" fill="#d8c948"/>
<path d="M341.7 628.5L349.1 632.2L343.9 625.7L336.5 622z" fill="#cccb4b"/>
<path d="M348.5 632.2L355.9 636.1L350.7 629.6L343.3 625.7z" fill="#bfce52"/>
<path d="M355.3 636.1L362.7 640.2L357.6 633.7L350.1 629.7z" fill="#b1d05c"/>
<path d="M362.1 640.2L369.6 644.5L364.4 638.1L356.9 633.8z" fill="#a1d267"/>
<path d="M368.9 644.5L376.4 648.9L371.2 642.6L363.7 638.1z" fill="#91d474"/>
<path d="M375.6 648.9L383.2 653.5L378 647.3L370.5 642.6z" fill="#7dd37f"/>
<path d="M382.4 653.5L390 658.3L384.9 652.2L377.3 647.2z" fill="#6ad28a"/>
<path d="M389.2 658.2L396.8 663.4L391.7 657.3L384.1 652.1z" fill="#56d095"/>
<path d="M396 663.2L403.6 668.6L398.5 662.7L390.9 657.2z" fill="#46cca0"/>
<path d="M402.8 668.3L410.4 674.1L405.3 668.3L397.8 662.5z" fill="#39c8aa"/>
<path d="M409.6 673.7L417.2 679.8L412.1 674.2L404.6 668z" fill="#26c3b4" stroke="#26c3b4" stroke-width="1.1"/>
<path d="M416.4 679.3L424 685.8L418.9 680.4L411.4 673.8z" fill="#0bbdbe" stroke="#0bbdbe" stroke-width="1.1"/>
<path d="M423.3 685.3L430.8 692.1L425.7 686.8L418.2 679.9z" fill="#01b8ca" stroke="#01b8ca" stroke-width="1.1"/>
<path d="M430.1 691.5L437.6 698.8L432.5 693.6L425 686.2z" fill="#10b2d5" stroke="#10b2d5" stroke-width="1.1"/>
<path d="M437 698.1L444.4 705.7L439.2 700.6L431.8 692.9z" fill="#1caadf" stroke="#1caadf" stroke-width="1.1"/>
<path d="M443.8 705L451.2 713L446 707.9L438.6 699.9z" fill="#23a0e5" stroke="#23a0e5" stroke-width="1.1"/>
<path d="M450.6 712.3L458 720.6L452.8 715.6L445.4 707.2z" fill="#2896eb" stroke="#2896eb" stroke-width="1.1"/>
<path d="M457.5 719.9L464.8 728.5L459.6 723.5L452.2 714.9z" fill="#308cf4" stroke="#308cf4" stroke-width="1.1"/>
<path d="M464.3 727.8L471.6 736.7L466.4 731.8L459 722.8z" fill="#3983fc" stroke="#3983fc" stroke-width="1.1"/>
<path d="M471.1 736L478.4 745.2L473.1 740.2L465.9 731z" fill="#4a78ff" stroke="#4a78ff" stroke-width="1.1"/>
<path d="M477.9 744.4L485.2 753.9L479.9 749L472.7 739.5z" fill="#556efc"/>
<path d="M484.7 753.1L492 762.8L486.7 757.9L479.5 748.2z" fill="#5b65f6"/>
<path d="M491.6 762.1L498.8 772L493.5 767.1L486.3 757.2z" fill="#5e5ceb"/>
<path d="M498.4 771.2L505.6 781.3L500.3 776.5L493.1 766.4z" fill="#6053db"/>
<path d="M74.8 654.7L82.1 649.5L76.6 646.8L69.3 652.2z" fill="#d5d774"/>
<path d="M81.6 650L88.9 645.1L83.4 642.1L76.1 647.3z" fill="#dfd571"/>
<path d="M88.4 645.6L95.8 640.8L90.3 637.7L82.9 642.6z" fill="#e7d471"/>
<path d="M95.2 641.3L102.6 636.8L97.1 633.5L89.7 638.2z" fill="#eed274"/>
<path d="M102 637.3L109.4 633L103.9 629.5L96.5 634z" fill="#f4d179"/>
<path d="M108.8 633.4L116.2 629.4L110.7 625.8L103.3 630z" fill="#fad17e"/>
<path d="M115.6 629.8L123 626L117.5 622.2L110.1 626.2z" fill="#fdd37e"/>
<path d="M122.4 626.4L129.8 622.8L124.3 618.9L116.9 622.6z" fill="#fed67c"/>
<path d="M129.2 623.2L136.6 619.9L131.1 615.8L123.7 619.3z" fill="#fed879"/>
<path d="M136 620.3L143.4 617.1L137.9 612.9L130.5 616.2z" fill="#fedb77"/>
<path d="M142.8 617.5L150.2 614.6L144.7 610.2L137.3 613.3z" fill="#fdde75"/>
<path d="M149.6 615L157 612.3L151.5 607.8L144.2 610.6z" fill="#fde073"/>
<path d="M156.4 612.7L163.8 610.2L158.3 605.5L151 608.1z" fill="#fce271"/>
<path d="M163.2 610.6L170.6 608.3L165.1 603.5L157.8 605.9z" fill="#fbe46f"/>
<path d="M170.1 608.7L177.4 606.6L171.9 601.7L164.6 603.9z" fill="#fae66e"/>
<path d="M176.9 607L184.2 605.2L178.8 600.2L171.4 602.1z" fill="#f9e76c"/>
<path d="M183.7 605.5L191 604L185.6 598.8L178.2 600.5z" fill="#f9e86b"/>
<path d="M190.5 604.3L197.8 602.9L192.4 597.7L185 599.1z" fill="#f9e96a"/>
<path d="M197.3 603.2L204.6 602.1L199.2 596.8L191.8 598z" fill="#f8e968"/>
<path d="M204.1 602.4L211.4 601.5L206 596.1L198.6 597z" fill="#f8ea67"/>
<path d="M210.9 601.8L218.2 601.2L212.8 595.6L205.4 596.3z" fill="#f8ea66"/>
<path d="M217.7 601.4L225 601L219.6 595.3L212.2 595.9z" fill="#f8e965"/>
<path d="M224.5 601.3L231.8 601.1L226.4 595.3L219.1 595.6z" fill="#f8e964"/>
<path d="M231.3 601.3L238.6 601.3L233.2 595.5L225.9 595.5z" fill="#f8e863"/>
<path d="M238.1 601.6L245.4 601.8L240 595.9L232.7 595.7z" fill="#f9e762"/>
<path d="M244.9 602L252.3 602.5L246.8 596.5L239.5 596.1z" fill="#f9e561"/>
<path d="M251.7 602.7L259.1 603.4L253.7 597.3L246.3 596.7z" fill="#fae360"/>
<path d="M258.5 603.6L265.9 604.5L260.5 598.4L253.1 597.5z" fill="#fae160"/>
<path d="M265.3 604.7L272.7 605.9L267.3 599.7L259.9 598.6z" fill="#fbdf5f"/>
<path d="M272.1 606.1L279.5 607.4L274.1 601.2L266.7 599.9z" fill="#fcdc5f"/>
<path d="M278.9 607.6L286.3 609.2L280.9 602.9L273.5 601.3z" fill="#fdd95e"/>
<path d="M285.7 609.4L293.1 611.2L287.7 604.8L280.3 603z" fill="#fed55e"/>
<path d="M292.5 611.3L299.9 613.4L294.5 606.9L287.2 605z" fill="#fed15f"/>
<path d="M299.3 613.5L306.7 615.8L301.3 609.3L294 607.1z" fill="#fecd60"/>
<path d="M306.1 615.9L313.5 618.4L308.2 611.9L300.8 609.5z" fill="#fdc960"/>
<path d="M312.9 618.5L320.3 621.2L315 614.7L307.6 612z" fill="#f9c65e"/>
<path d="M319.7 621.3L327.1 624.2L321.8 617.6L314.4 614.8z" fill="#f2c556"/>
<path d="M326.5 624.3L333.9 627.4L328.6 620.8L321.2 617.8z" fill="#eac54e"/>
<path d="M333.3 627.5L340.7 630.8L335.4 624.2L328 620.9z" fill="#e1c749"/>
<path d="M340.1 630.9L347.5 634.3L342.2 627.8L334.8 624.3z" fill="#d7c948"/>
<path d="M346.9 634.4L354.3 638.1L349.1 631.5L341.6 627.9z" fill="#cccb4b"/>
<path d="M353.7 638.1L361.1 642L355.9 635.5L348.4 631.6z" fill="#bfce53"/>
<path d="M360.4 642L367.9 646.1L362.7 639.6L355.3 635.5z" fill="#b0d05c"/>
<path d="M367.2 646.1L374.7 650.3L369.5 643.9L362.1 639.6z" fill="#a1d268"/>
<path d="M374 650.3L381.5 654.7L376.4 648.3L368.9 643.9z" fill="#90d474"/>
<path d="M380.8 654.7L388.3 659.3L383.2 653L375.7 648.3z" fill="#7ed480"/>
<path d="M387.6 659.2L395.1 664.1L390 657.8L382.5 652.9z" fill="#6bd38b"/>
<path d="M394.4 663.9L401.9 669L396.9 662.9L389.3 657.8z" fill="#58d096"/>
<path d="M401.2 668.8L408.7 674.2L403.7 668.2L396.1 662.8z" fill="#48cda1"/>
<path d="M407.9 673.9L415.5 679.6L410.5 673.7L402.9 668z" fill="#3cc8ab"/>
<path d="M414.8 679.3L422.3 685.3L417.3 679.6L409.7 673.5z" fill="#2ac3b4"/>
<path d="M421.6 684.8L429.1 691.2L424.1 685.7L416.5 679.2z" fill="#0fbebe" stroke="#0fbebe" stroke-width="1.1"/>
<path d="M428.4 690.7L435.9 697.5L430.9 692L423.3 685.2z" fill="#01b8c9" stroke="#01b8c9" stroke-width="1.1"/>
<path d="M435.3 696.9L442.7 704.1L437.6 698.7L430.1 691.5z" fill="#0fb2d5" stroke="#0fb2d5" stroke-width="1.1"/>
<path d="M442.1 703.5L449.5 711L444.4 705.7L437 698.1z" fill="#1baade" stroke="#1baade" stroke-width="1.1"/>
<path d="M448.9 710.3L456.4 718.2L451.2 713L443.8 705.1z" fill="#22a1e4" stroke="#22a1e4" stroke-width="1.1"/>
<path d="M455.8 717.5L463.2 725.8L457.9 720.6L450.6 712.4z" fill="#2797eb" stroke="#2797eb" stroke-width="1.1"/>
<path d="M462.6 725.1L470 733.7L464.7 728.6L457.4 719.9z" fill="#2d8bf3" stroke="#2d8bf3" stroke-width="1.1"/>
<path d="M469.4 732.9L476.8 741.8L471.5 736.8L464.2 727.8z" fill="#3682fb" stroke="#3682fb" stroke-width="1.1"/>
<path d="M476.3 741.1L483.6 750.2L478.3 745.2L471 736z" fill="#4777ff" stroke="#4777ff" stroke-width="1.1"/>
<path d="M483.1 749.5L490.4 758.9L485.1 753.9L477.8 744.5z" fill="#536dfc"/>
<path d="M489.9 758.2L497.2 767.8L491.9 762.9L484.6 753.2z" fill="#5964f6"/>
<path d="M496.7 767.1L504 776.9L498.7 772L491.4 762.1z" fill="#5c5bec"/>
<path d="M503.5 776.2L510.8 786.2L505.5 781.4L498.2 771.3z" fill="#5e52dc"/>
<path d="M79.9 657L87.3 651.9L81.8 649.2L74.4 654.4z" fill="#ddd571"/>
<path d="M86.7 652.5L94.1 647.6L88.6 644.7L81.2 649.7z" fill="#e5d470"/>
<path d="M93.5 648.1L100.9 643.6L95.4 640.4L88.1 645.2z" fill="#edd273"/>
<path d="M100.4 644.1L107.7 639.7L102.2 636.4L94.9 640.9z" fill="#f3d178"/>
<path d="M107.2 640.2L114.5 636L109 632.6L101.7 636.9z" fill="#f9d17c"/>
<path d="M114 636.5L121.3 632.6L115.8 629L108.5 633z" fill="#fdd27d"/>
<path d="M120.8 633L128.1 629.3L122.6 625.6L115.3 629.4z" fill="#fed57c"/>
<path d="M127.6 629.8L134.9 626.3L129.4 622.4L122.1 626z" fill="#fed879"/>
<path d="M134.4 626.7L141.7 623.5L136.3 619.4L128.9 622.8z" fill="#fedb77"/>
<path d="M141.2 623.9L148.6 620.9L143.1 616.7L135.7 619.8z" fill="#fedd74"/>
<path d="M148 621.3L155.4 618.5L149.9 614.1L142.5 617z" fill="#fde073"/>
<path d="M154.8 618.9L162.2 616.3L156.7 611.8L149.3 614.5z" fill="#fce271"/>
<path d="M161.6 616.7L169 614.3L163.5 609.7L156.1 612.2z" fill="#fbe46f"/>
<path d="M168.4 614.7L175.8 612.6L170.3 607.8L162.9 610z" fill="#fae66e"/>
<path d="M175.2 612.9L182.6 611L177.1 606.1L169.7 608.1z" fill="#f9e76c"/>
<path d="M182 611.4L189.4 609.7L183.9 604.7L176.5 606.4z" fill="#f9e86b"/>
<path d="M188.8 610L196.2 608.6L190.7 603.4L183.4 605z" fill="#f9e96a"/>
<path d="M195.6 608.9L203 607.6L197.5 602.4L190.2 603.7z" fill="#f8ea68"/>
<path d="M202.4 607.9L209.8 606.9L204.3 601.6L197 602.7z" fill="#f8eb67"/>
<path d="M209.2 607.2L216.6 606.4L211.1 601L203.8 601.8z" fill="#f8eb66"/>
<path d="M216 606.7L223.4 606.1L218 600.6L210.6 601.2z" fill="#f8eb65"/>
<path d="M222.8 606.4L230.2 606.1L224.8 600.4L217.4 600.8z" fill="#f8ea64"/>
<path d="M229.6 606.3L237 606.2L231.6 600.4L224.2 600.7z" fill="#f8ea63"/>
<path d="M236.4 606.5L243.8 606.6L238.4 600.7L231 600.7z" fill="#f8e962"/>
<path d="M243.2 606.8L250.6 607.1L245.2 601.2L237.8 600.9z" fill="#f8e761"/>
<path d="M250 607.3L257.4 607.9L252 601.9L244.6 601.4z" fill="#f9e660"/>
<path d="M256.8 608.1L264.2 608.8L258.8 602.8L251.5 602.1z" fill="#f9e45f"/>
<path d="M263.6 609.1L271 610L265.6 603.9L258.3 603z" fill="#fae15f"/>
<path d="M270.5 610.2L277.8 611.4L272.4 605.2L265.1 604.1z" fill="#fbdf5e"/>
<path d="M277.3 611.6L284.6 613L279.2 606.8L271.9 605.4z" fill="#fcdc5e"/>
<path d="M284.1 613.2L291.4 614.9L286.1 608.5L278.7 607z" fill="#fdd95e"/>
<path d="M290.9 615L298.2 616.9L292.9 610.5L285.5 608.7z" fill="#fed55e"/>
<path d="M297.7 617L305 619.1L299.7 612.7L292.3 610.7z" fill="#fed15e"/>
<path d="M304.4 619.3L311.8 621.5L306.5 615.1L299.1 612.9z" fill="#fecd5f"/>
<path d="M311.2 621.7L318.6 624.2L313.3 617.7L305.9 615.2z" fill="#fdc960"/>
<path d="M318 624.3L325.4 627L320.1 620.5L312.7 617.8z" fill="#f9c65e"/>
<path d="M324.8 627.1L332.2 630L326.9 623.5L319.6 620.6z" fill="#f2c556"/>
<path d="M331.6 630.2L339 633.3L333.8 626.7L326.4 623.6z" fill="#eac54d"/>
<path d="M338.4 633.4L345.8 636.7L340.6 630.1L333.2 626.8z" fill="#e1c749"/>
<path d="M345.2 636.8L352.6 640.2L347.4 633.7L340 630.2z" fill="#d7c948"/>
<path d="M352 640.3L359.4 644L354.2 637.4L346.8 633.8z" fill="#cbcc4c"/>
<path d="M358.8 644L366.3 647.9L361 641.4L353.6 637.5z" fill="#bece53"/>
<path d="M365.6 647.9L373.1 652L367.9 645.4L360.4 641.4z" fill="#b0d05c"/>
<path d="M372.4 652L379.9 656.2L374.7 649.7L367.2 645.5z" fill="#a0d268"/>
<path d="M379.2 656.2L386.7 660.6L381.5 654.1L374 649.7z" fill="#90d474"/>
<path d="M386 660.5L393.5 665.1L388.3 658.7L380.8 654.1z" fill="#7ed481"/>
<path d="M392.8 665.1L400.3 669.8L395.2 663.5L387.6 658.7z" fill="#6cd38c"/>
<path d="M399.5 669.7L407.1 674.8L402 668.5L394.4 663.5z" fill="#5ad197"/>
<path d="M406.3 674.6L413.9 679.9L408.8 673.8L401.3 668.4z" fill="#4acda2"/>
<path d="M413.1 679.7L420.7 685.2L415.6 679.2L408.1 673.6z" fill="#3ec9ab"/>
<path d="M419.9 684.9L427.5 690.9L422.5 685L414.9 679z" fill="#2dc4b5"/>
<path d="M426.7 690.5L434.3 696.8L429.3 691L421.7 684.7z" fill="#12bfbe" stroke="#12bfbe" stroke-width="1.1"/>
<path d="M433.6 696.3L441.1 703L436 697.4L428.5 690.6z" fill="#02b9c9" stroke="#02b9c9" stroke-width="1.1"/>
<path d="M440.4 702.4L447.9 709.5L442.8 704L435.3 696.9z" fill="#0eb2d4" stroke="#0eb2d4" stroke-width="1.1"/>
<path d="M447.2 708.9L454.7 716.4L449.6 711L442.1 703.4z" fill="#1babde" stroke="#1babde" stroke-width="1.1"/>
<path d="M454.1 715.7L461.5 723.6L456.3 718.2L448.9 710.3z" fill="#22a2e4" stroke="#22a2e4" stroke-width="1.1"/>
<path d="M460.9 722.9L468.3 731.1L463.1 725.8L455.7 717.6z" fill="#2797ea" stroke="#2797ea" stroke-width="1.1"/>
<path d="M467.8 730.4L475.1 738.9L469.9 733.7L462.5 725.1z" fill="#2d8cf3" stroke="#2d8cf3" stroke-width="1.1"/>
<path d="M474.6 738.2L481.9 747L476.7 741.9L469.4 733z" fill="#3281fb" stroke="#3281fb" stroke-width="1.1"/>
<path d="M481.4 746.3L488.7 755.4L483.5 750.3L476.2 741.1z" fill="#4377ff" stroke="#4377ff" stroke-width="1.1"/>
<path d="M488.2 754.7L495.5 764L490.3 759L483 749.6z" fill="#506cfd" stroke="#506cfd" stroke-width="1.1"/>
<path d="M495 763.3L502.3 772.9L497.1 767.9L489.8 758.2z" fill="#5663f7"/>
<path d="M501.9 772.1L509.1 781.9L503.9 777L496.6 767.1z" fill="#5a59ed"/>
<path d="M508.7 781.2L515.9 791.2L510.7 786.3L503.4 776.2z" fill="#5c51dd"/>
<path d="M85.1 659.2L92.4 654.4L87 651.6L79.6 656.6z" fill="#e4d46f"/>
<path d="M91.9 654.9L99.3 650.2L93.8 647.3L86.4 652.1z" fill="#ebd271"/>
<path d="M98.7 650.7L106.1 646.3L100.6 643.2L93.2 647.8z" fill="#f2d176"/>
<path d="M105.5 646.8L112.9 642.6L107.4 639.3L100 643.7z" fill="#f8d17b"/>
<path d="M112.3 643.1L119.7 639.1L114.2 635.6L106.8 639.8z" fill="#fcd27d"/>
<path d="M119.1 639.5L126.5 635.8L121 632.2L113.6 636.1z" fill="#fed47b"/>
<path d="M125.9 636.2L133.3 632.7L127.8 628.9L120.4 632.6z" fill="#fed779"/>
<path d="M132.7 633.1L140.1 629.8L134.6 625.9L127.2 629.3z" fill="#feda76"/>
<path d="M139.5 630.2L146.9 627.1L141.4 623L134 626.3z" fill="#fedd74"/>
<path d="M146.3 627.5L153.7 624.7L148.2 620.4L140.8 623.4z" fill="#fde072"/>
<path d="M153.1 625.1L160.5 622.4L155 618L147.7 620.8z" fill="#fce271"/>
<path d="M159.9 622.8L167.3 620.3L161.8 615.8L154.5 618.4z" fill="#fbe46f"/>
<path d="M166.8 620.7L174.1 618.5L168.6 613.8L161.3 616.2z" fill="#fae66e"/>
<path d="M173.6 618.8L180.9 616.9L175.4 612.1L168.1 614.2z" fill="#f9e76c"/>
<path d="M180.4 617.2L187.7 615.4L182.3 610.5L174.9 612.4z" fill="#f9e96b"/>
<path d="M187.2 615.7L194.5 614.2L189.1 609.1L181.7 610.8z" fill="#f8ea69"/>
<path d="M194 614.5L201.3 613.2L195.9 608L188.5 609.5z" fill="#f8eb68"/>
<path d="M200.8 613.5L208.1 612.3L202.7 607.1L195.3 608.3z" fill="#f8eb67"/>
<path d="M207.6 612.6L214.9 611.7L209.5 606.4L202.1 607.4z" fill="#f8ec66"/>
<path d="M214.4 612L221.7 611.3L216.3 605.9L208.9 606.6z" fill="#f8ec65"/>
<path d="M221.2 611.6L228.5 611.1L223.1 605.6L215.7 606.1z" fill="#f8ec64"/>
<path d="M228 611.4L235.3 611.1L229.9 605.5L222.6 605.8z" fill="#f8eb63"/>
<path d="M234.8 611.4L242.2 611.4L236.7 605.6L229.4 605.7z" fill="#f8ea62"/>
<path d="M241.6 611.6L249 611.8L243.5 605.9L236.2 605.8z" fill="#f8e961"/>
<path d="M248.4 612L255.8 612.4L250.3 606.5L243 606.2z" fill="#f8e860"/>
<path d="M255.2 612.6L262.6 613.2L257.2 607.2L249.8 606.7z" fill="#f9e65f"/>
<path d="M262 613.5L269.4 614.3L264 608.2L256.6 607.5z" fill="#f9e45f"/>
<path d="M268.8 614.5L276.2 615.5L270.8 609.4L263.4 608.4z" fill="#fae25e"/>
<path d="M275.6 615.7L283 617L277.6 610.8L270.2 609.6z" fill="#fbdf5e"/>
<path d="M282.4 617.2L289.8 618.7L284.4 612.4L277 611z" fill="#fcdc5d"/>
<path d="M289.2 618.8L296.6 620.5L291.2 614.2L283.8 612.6z" fill="#fdd95d"/>
<path d="M296 620.7L303.4 622.6L298 616.2L290.7 614.4z" fill="#fed55d"/>
<path d="M302.8 622.8L310.2 624.9L304.8 618.5L297.5 616.4z" fill="#fed15e"/>
<path d="M309.6 625L317 627.3L311.7 620.9L304.3 618.6z" fill="#fecd5f"/>
<path d="M316.4 627.5L323.8 630L318.5 623.5L311.1 621z" fill="#fdc95f"/>
<path d="M323.2 630.1L330.6 632.9L325.3 626.4L317.9 623.7z" fill="#f8c65d"/>
<path d="M330 633L337.4 635.9L332.1 629.4L324.7 626.5z" fill="#f2c555"/>
<path d="M336.8 636L344.2 639.2L338.9 632.6L331.5 629.5z" fill="#eac54d"/>
<path d="M343.6 639.3L351 642.6L345.7 636L338.3 632.7z" fill="#e1c749"/>
<path d="M350.4 642.7L357.8 646.2L352.6 639.6L345.1 636.1z" fill="#d6c948"/>
<path d="M357.2 646.2L364.6 649.9L359.4 643.3L351.9 639.7z" fill="#cacc4c"/>
<path d="M364 650L371.4 653.8L366.2 647.3L358.8 643.4z" fill="#bdce53"/>
<path d="M370.8 653.9L378.2 657.9L373 651.3L365.6 647.3z" fill="#afd15d"/>
<path d="M377.6 657.9L385 662.1L379.8 655.6L372.4 651.4z" fill="#a0d268"/>
<path d="M384.3 662.1L391.8 666.5L386.7 660L379.2 655.6z" fill="#8fd475"/>
<path d="M391.1 666.4L398.6 671L393.5 664.5L386 660z" fill="#7fd482"/>
<path d="M397.9 670.9L405.4 675.7L400.3 669.3L392.8 664.5z" fill="#6dd38d"/>
<path d="M404.7 675.6L412.2 680.6L407.1 674.2L399.6 669.2z" fill="#5bd198"/>
<path d="M411.5 680.4L419 685.6L414 679.4L406.4 674.2z" fill="#4ccea2"/>
<path d="M418.3 685.5L425.8 691L420.8 684.8L413.2 679.3z" fill="#40c9ac"/>
<path d="M425.1 690.7L432.6 696.5L427.6 690.5L420 684.6z" fill="#2fc5b5"/>
<path d="M431.9 696.2L439.4 702.4L434.4 696.5L426.8 690.2z" fill="#16c0bf"/>
<path d="M438.7 701.9L446.3 708.6L441.2 702.8L433.6 696.1z" fill="#05b9c9" stroke="#05b9c9" stroke-width="1.1"/>
<path d="M445.5 708L453.1 715L448 709.4L440.5 702.3z" fill="#0eb3d4" stroke="#0eb3d4" stroke-width="1.1"/>
<path d="M452.4 714.5L459.9 721.9L454.7 716.3L447.3 708.9z" fill="#1babde" stroke="#1babde" stroke-width="1.1"/>
<path d="M459.2 721.2L466.7 729L461.5 723.6L454.1 715.7z" fill="#22a2e4" stroke="#22a2e4" stroke-width="1.1"/>
<path d="M466.1 728.3L473.5 736.5L468.3 731.1L460.9 722.9z" fill="#2798ea" stroke="#2798ea" stroke-width="1.1"/>
<path d="M472.9 735.8L480.3 744.3L475.1 738.9L467.7 730.4z" fill="#2d8df2" stroke="#2d8df2" stroke-width="1.1"/>
<path d="M479.7 743.5L487.1 752.3L481.8 747.1L474.5 738.2z" fill="#2f80fa" stroke="#2f80fa" stroke-width="1.1"/>
<path d="M486.6 751.6L493.9 760.7L488.6 755.5L481.3 746.3z" fill="#4075ff" stroke="#4075ff" stroke-width="1.1"/>
<path d="M493.4 759.9L500.7 769.2L495.4 764.1L488.1 754.7z" fill="#4d6bfd" stroke="#4d6bfd" stroke-width="1.1"/>
<path d="M500.2 768.5L507.5 778L502.2 773L494.9 763.4z" fill="#5461f7" stroke="#5461f7" stroke-width="1.1"/>
<path d="M507 777.3L514.3 787L509 782L501.7 772.2z" fill="#5858ed"/>
<path d="M513.8 786.2L521.1 796.2L515.8 791.2L508.5 781.2z" fill="#5a4fde"/>
<path d="M90.2 661.4L97.6 656.8L92.1 654L84.8 658.8z" fill="#ead270"/>
<path d="M97 657.3L104.4 652.8L98.9 649.8L91.6 654.5z" fill="#f1d174"/>
<path d="M103.9 653.3L111.2 649.1L105.7 645.9L98.4 650.3z" fill="#f7d17a"/>
<path d="M110.7 649.5L118 645.5L112.5 642.2L105.2 646.4z" fill="#fcd17c"/>
<path d="M117.5 646L124.8 642.1L119.3 638.7L112 642.6z" fill="#fed47b"/>
<path d="M124.3 642.6L131.6 639L126.1 635.4L118.8 639.1z" fill="#fed778"/>
<path d="M131.1 639.4L138.4 636.1L133 632.3L125.6 635.8z" fill="#feda76"/>
<path d="M137.9 636.5L145.2 633.3L139.8 629.4L132.4 632.7z" fill="#fedd74"/>
<path d="M144.7 633.7L152.1 630.8L146.6 626.7L139.2 629.8z" fill="#fddf72"/>
<path d="M151.5 631.2L158.9 628.4L153.4 624.2L146 627.1z" fill="#fce270"/>
<path d="M158.3 628.8L165.7 626.3L160.2 621.9L152.8 624.6z" fill="#fbe46f"/>
<path d="M165.1 626.7L172.5 624.4L167 619.8L159.6 622.3z" fill="#fae66d"/>
<path d="M171.9 624.7L179.3 622.6L173.8 618L166.4 620.2z" fill="#f9e86c"/>
<path d="M178.7 623L186.1 621.1L180.6 616.3L173.2 618.3z" fill="#f9e96a"/>
<path d="M185.5 621.5L192.9 619.8L187.4 614.9L180 616.7z" fill="#f8ea69"/>
<path d="M192.3 620.1L199.7 618.7L194.2 613.6L186.9 615.2z" fill="#f8eb68"/>
<path d="M199.1 619L206.5 617.8L201 612.6L193.7 613.9z" fill="#f8ec67"/>
<path d="M205.9 618.1L213.3 617L207.8 611.8L200.5 612.9z" fill="#f8ed65"/>
<path d="M212.7 617.3L220.1 616.5L214.6 611.2L207.3 612.1z" fill="#f8ed64"/>
<path d="M219.5 616.8L226.9 616.2L221.5 610.7L214.1 611.4z" fill="#f8ed63"/>
<path d="M226.3 616.5L233.7 616.1L228.3 610.5L220.9 611z" fill="#f8ec62"/>
<path d="M233.1 616.4L240.5 616.2L235.1 610.5L227.7 610.8z" fill="#f8ec61"/>
<path d="M239.9 616.5L247.3 616.5L241.9 610.8L234.5 610.8z" fill="#f8eb61"/>
<path d="M246.7 616.8L254.1 617L248.7 611.2L241.3 611z" fill="#f8ea60"/>
<path d="M253.5 617.2L260.9 617.7L255.5 611.8L248.1 611.4z" fill="#f8e85f"/>
<path d="M260.4 617.9L267.7 618.6L262.3 612.6L255 612z" fill="#f8e65e"/>
<path d="M267.2 618.8L274.5 619.7L269.1 613.7L261.8 612.8z" fill="#f9e45e"/>
<path d="M274 619.9L281.3 621L275.9 614.9L268.6 613.9z" fill="#fae25d"/>
<path d="M280.8 621.2L288.1 622.6L282.7 616.4L275.4 615.1z" fill="#fbdf5d"/>
<path d="M287.6 622.7L294.9 624.3L289.6 618L282.2 616.5z" fill="#fcdc5d"/>
<path d="M294.4 624.5L301.7 626.2L296.4 619.9L289 618.2z" fill="#fdd95c"/>
<path d="M301.2 626.4L308.5 628.3L303.2 621.9L295.8 620z" fill="#fed55d"/>
<path d="M308 628.5L315.3 630.6L310 624.2L302.6 622.1z" fill="#fed15d"/>
<path d="M314.8 630.8L322.1 633.1L316.8 626.7L309.4 624.4z" fill="#fecd5e"/>
<path d="M321.6 633.3L328.9 635.8L323.6 629.3L316.2 626.8z" fill="#fdc85f"/>
<path d="M328.4 636L335.7 638.7L330.4 632.2L323.1 629.5z" fill="#f8c65d"/>
<path d="M335.1 638.8L342.5 641.8L337.3 635.3L329.9 632.3z" fill="#f1c555"/>
<path d="M341.9 641.9L349.3 645.1L344.1 638.5L336.7 635.4z" fill="#e9c54c"/>
<path d="M348.7 645.2L356.2 648.5L350.9 641.9L343.5 638.6z" fill="#e0c749"/>
<path d="M355.5 648.6L363 652.1L357.7 645.5L350.3 642z" fill="#d6c948"/>
<path d="M362.3 652.2L369.8 655.8L364.5 649.3L357.1 645.6z" fill="#cacc4c"/>
<path d="M369.1 655.9L376.6 659.8L371.3 653.2L363.9 649.3z" fill="#bdce54"/>
<path d="M375.9 659.8L383.4 663.8L378.2 657.2L370.7 653.2z" fill="#aed15d"/>
<path d="M382.7 663.9L390.2 668L385 661.5L377.5 657.3z" fill="#9fd269"/>
<path d="M389.5 668L397 672.4L391.8 665.8L384.3 661.5z" fill="#8fd475"/>
<path d="M396.3 672.4L403.8 676.9L398.6 670.4L391.1 665.9z" fill="#7ed482"/>
<path d="M403.1 676.9L410.6 681.6L405.5 675.1L397.9 670.4z" fill="#6dd38e"/>
<path d="M409.9 681.5L417.4 686.4L412.3 680L404.8 675.1z" fill="#5bd199"/>
<path d="M416.6 686.3L424.2 691.5L419.1 685.1L411.6 679.9z" fill="#4dcea3"/>
<path d="M423.4 691.3L431 696.8L425.9 690.5L418.4 685z" fill="#41caad"/>
<path d="M430.2 696.5L437.8 702.3L432.8 696.2L425.2 690.3z" fill="#31c5b6"/>
<path d="M437 702L444.6 708.1L439.6 702.1L432 695.9z" fill="#18c0c0"/>
<path d="M443.8 707.7L451.4 714.3L446.4 708.4L438.8 701.8z" fill="#08baca" stroke="#08baca" stroke-width="1.1"/>
<path d="M450.7 713.8L458.2 720.7L453.1 714.9L445.6 707.9z" fill="#0eb3d4" stroke="#0eb3d4" stroke-width="1.1"/>
<path d="M457.5 720.1L465 727.5L459.9 721.8L452.4 714.4z" fill="#1aabdd" stroke="#1aabdd" stroke-width="1.1"/>
<path d="M464.4 726.8L471.8 734.6L466.7 729L459.2 721.2z" fill="#22a2e4" stroke="#22a2e4" stroke-width="1.1"/>
<path d="M471.2 733.9L478.6 742L473.4 736.5L466 728.3z" fill="#2798ea" stroke="#2798ea" stroke-width="1.1"/>
<path d="M478 741.3L485.4 749.7L480.2 744.3L472.9 735.8z" fill="#2d8df2" stroke="#2d8df2" stroke-width="1.1"/>
<path d="M484.9 749L492.2 757.7L487 752.4L479.7 743.6z" fill="#2f81fa" stroke="#2f81fa" stroke-width="1.1"/>
<path d="M491.7 757L499 766L493.8 760.7L486.5 751.6z" fill="#3d74fe" stroke="#3d74fe" stroke-width="1.1"/>
<path d="M498.5 765.2L505.8 774.5L500.6 769.3L493.3 760z" fill="#4a6afd" stroke="#4a6afd" stroke-width="1.1"/>
<path d="M505.3 773.7L512.6 783.2L507.4 778.1L500.1 768.5z" fill="#5260f7" stroke="#5260f7" stroke-width="1.1"/>
<path d="M512.2 782.4L519.4 792.1L514.2 787.1L506.9 777.3z" fill="#5657ee"/>
<path d="M519 791.4L526.2 801.2L521 796.2L513.7 786.3z" fill="#584edf"/>
<path d="M95.4 663.7L102.8 659.2L97.3 656.4L89.9 661.1z" fill="#f0d173"/>
<path d="M102.2 659.7L109.6 655.4L104.1 652.4L96.7 656.9z" fill="#f7d078"/>
<path d="M109 655.9L116.4 651.8L110.9 648.7L103.5 652.9z" fill="#fbd17b"/>
<path d="M115.8 652.3L123.2 648.4L117.7 645.1L110.3 649.1z" fill="#fed37b"/>
<path d="M122.6 648.9L130 645.2L124.5 641.7L117.1 645.5z" fill="#fed678"/>
<path d="M129.4 645.6L136.8 642.2L131.3 638.6L123.9 642.2z" fill="#feda75"/>
<path d="M136.2 642.6L143.6 639.4L138.1 635.6L130.7 639z" fill="#fedc73"/>
<path d="M143 639.8L150.4 636.8L144.9 632.9L137.5 636z" fill="#fddf71"/>
<path d="M149.8 637.2L157.2 634.4L151.7 630.3L144.4 633.3z" fill="#fce270"/>
<path d="M156.6 634.8L164 632.2L158.5 628L151.2 630.7z" fill="#fbe46e"/>
<path d="M163.4 632.6L170.8 630.2L165.3 625.8L158 628.3z" fill="#fae66d"/>
<path d="M170.3 630.6L177.6 628.4L172.1 623.9L164.8 626.2z" fill="#f9e86b"/>
<path d="M177.1 628.8L184.4 626.8L179 622.1L171.6 624.2z" fill="#f9ea6a"/>
<path d="M183.9 627.1L191.2 625.4L185.8 620.6L178.4 622.5z" fill="#f8eb69"/>
<path d="M190.7 625.7L198 624.2L192.6 619.3L185.2 620.9z" fill="#f8ec67"/>
<path d="M197.5 624.5L204.8 623.2L199.4 618.1L192 619.6z" fill="#f8ed66"/>
<path d="M204.3 623.5L211.6 622.4L206.2 617.2L198.8 618.4z" fill="#f8ee65"/>
<path d="M211.1 622.7L218.4 621.8L213 616.5L205.6 617.5z" fill="#f8ee64"/>
<path d="M217.9 622L225.2 621.3L219.8 616L212.4 616.8z" fill="#f8ee63"/>
<path d="M224.7 621.6L232.1 621.1L226.6 615.6L219.2 616.2z" fill="#f8ee62"/>
<path d="M231.5 621.4L238.9 621.1L233.4 615.5L226.1 615.9z" fill="#f8ed61"/>
<path d="M238.3 621.4L245.7 621.3L240.2 615.6L232.9 615.8z" fill="#f8ed60"/>
<path d="M245.1 621.5L252.5 621.7L247 615.9L239.7 615.9z" fill="#f8ec5f"/>
<path d="M251.9 621.9L259.3 622.2L253.9 616.4L246.5 616.1z" fill="#f8ea5f"/>
<path d="M258.7 622.5L266.1 623L260.7 617.1L253.3 616.6z" fill="#f8e95e"/>
<path d="M265.5 623.2L272.9 624L267.5 618L260.1 617.3z" fill="#f8e75d"/>
<path d="M272.3 624.2L279.7 625.2L274.3 619.1L266.9 618.2z" fill="#f9e55d"/>
<path d="M279.1 625.4L286.5 626.6L281.1 620.4L273.7 619.3z" fill="#fae25c"/>
<path d="M285.9 626.7L293.3 628.1L287.9 621.9L280.5 620.6z" fill="#fbdf5c"/>
<path d="M292.7 628.3L300.1 629.9L294.7 623.6L287.3 622.1z" fill="#fcdc5c"/>
<path d="M299.5 630.1L306.9 631.9L301.5 625.5L294.2 623.8z" fill="#fdd95c"/>
<path d="M306.3 632L313.7 634L308.3 627.6L301 625.7z" fill="#fed55c"/>
<path d="M313.1 634.2L320.5 636.4L315.2 630L307.8 627.8z" fill="#fed15d"/>
<path d="M319.9 636.5L327.3 638.9L322 632.5L314.6 630.1z" fill="#fecc5e"/>
<path d="M326.7 639.1L334.1 641.7L328.8 635.2L321.4 632.6z" fill="#fdc85f"/>
<path d="M333.5 641.8L340.9 644.6L335.6 638.1L328.2 635.3z" fill="#f8c65c"/>
<path d="M340.3 644.7L347.7 647.7L342.4 641.1L335 638.2z" fill="#f1c554"/>
<path d="M347.1 647.8L354.5 651L349.2 644.4L341.8 641.3z" fill="#e9c54c"/>
<path d="M353.9 651.1L361.3 654.4L356 647.8L348.6 644.5z" fill="#e0c749"/>
<path d="M360.7 654.5L368.1 658L362.9 651.4L355.4 647.9z" fill="#d5c948"/>
<path d="M367.5 658.1L374.9 661.8L369.7 655.2L362.3 651.5z" fill="#c9cc4c"/>
<path d="M374.3 661.9L381.7 665.7L376.5 659.1L369.1 655.3z" fill="#bcce54"/>
<path d="M381.1 665.8L388.5 669.8L383.3 663.2L375.9 659.2z" fill="#aed15e"/>
<path d="M387.9 669.8L395.3 674L390.1 667.4L382.7 663.2z" fill="#9ed36a"/>
<path d="M394.7 674L402.1 678.3L397 671.8L389.5 667.4z" fill="#8ed476"/>
<path d="M401.5 678.3L408.9 682.8L403.8 676.3L396.3 671.8z" fill="#7dd483"/>
<path d="M408.2 682.8L415.7 687.5L410.6 681L403.1 676.3z" fill="#6dd38f"/>
<path d="M415 687.5L422.5 692.4L417.4 685.9L409.9 681z" fill="#5cd19a"/>
<path d="M421.8 692.3L429.3 697.4L424.3 691L416.7 685.8z" fill="#4ecea4"/>
<path d="M428.6 697.3L436.2 702.7L431.1 696.3L423.5 690.9z" fill="#43caae"/>
<path d="M435.4 702.5L443 708.2L437.9 701.9L430.3 696.2z" fill="#33c6b7"/>
<path d="M442.2 707.9L449.8 714L444.7 707.8L437.2 701.7z" fill="#1ac1c0"/>
<path d="M449 713.6L456.6 720.1L451.5 714L444 707.5z" fill="#0bbbca"/>
<path d="M455.8 719.6L463.4 726.5L458.3 720.5L450.8 713.6z" fill="#11b4d4" stroke="#11b4d4" stroke-width="1.1"/>
<path d="M462.7 725.9L470.2 733.2L465.1 727.4L457.6 720.1z" fill="#1aabdd" stroke="#1aabdd" stroke-width="1.1"/>
<path d="M469.5 732.6L477 740.2L471.8 734.5L464.4 726.8z" fill="#22a2e4" stroke="#22a2e4" stroke-width="1.1"/>
<path d="M476.3 739.6L483.8 747.6L478.6 742L471.2 733.9z" fill="#2698ea" stroke="#2698ea" stroke-width="1.1"/>
<path d="M483.2 746.9L490.6 755.2L485.4 749.7L478 741.3z" fill="#2d8df2" stroke="#2d8df2" stroke-width="1.1"/>
<path d="M490 754.5L497.4 763.2L492.2 757.7L484.8 749z" fill="#2f81fa" stroke="#2f81fa" stroke-width="1.1"/>
<path d="M496.8 762.5L504.2 771.4L499 766L491.6 757z" fill="#3a73fe" stroke="#3a73fe" stroke-width="1.1"/>
<path d="M503.7 770.7L511 779.8L505.7 774.5L498.4 765.3z" fill="#4868fd" stroke="#4868fd" stroke-width="1.1"/>
<path d="M510.5 779.1L517.8 788.5L512.5 783.3L505.2 773.8z" fill="#4f5ef8" stroke="#4f5ef8" stroke-width="1.1"/>
<path d="M517.3 787.7L524.6 797.3L519.3 792.2L512.1 782.5z" fill="#5355ee" stroke="#5355ee" stroke-width="1.1"/>
<path d="M524.1 796.5L531.4 806.3L526.1 801.3L518.9 791.4z" fill="#564ce0"/>
<path d="M100.5 665.9L107.9 661.6L102.4 658.8L95.1 663.3z" fill="#f6d077"/>
<path d="M107.3 662.1L114.7 658L109.2 655L101.9 659.3z" fill="#fbd17a"/>
<path d="M114.2 658.4L121.5 654.5L116 651.4L108.7 655.5z" fill="#fed37a"/>
<path d="M121 655L128.3 651.3L122.8 648L115.5 651.9z" fill="#fed677"/>
<path d="M127.8 651.8L135.1 648.3L129.7 644.8L122.3 648.4z" fill="#fed975"/>
<path d="M134.6 648.7L141.9 645.4L136.5 641.8L129.1 645.2z" fill="#fedc73"/>
<path d="M141.4 645.8L148.8 642.8L143.3 639L135.9 642.2z" fill="#fddf71"/>
<path d="M148.2 643.2L155.6 640.3L150.1 636.3L142.7 639.4z" fill="#fce26f"/>
<path d="M155 640.7L162.4 638.1L156.9 633.9L149.5 636.7z" fill="#fbe46e"/>
<path d="M161.8 638.4L169.2 636L163.7 631.7L156.3 634.3z" fill="#fae66c"/>
<path d="M168.6 636.4L176 634.1L170.5 629.7L163.1 632.1z" fill="#f9e86b"/>
<path d="M175.4 634.5L182.8 632.4L177.3 627.9L169.9 630.1z" fill="#f8ea69"/>
<path d="M182.2 632.8L189.6 631L184.1 626.3L176.7 628.2z" fill="#f8ec68"/>
<path d="M189 631.3L196.4 629.7L190.9 624.9L183.5 626.6z" fill="#f8ed67"/>
<path d="M195.8 630L203.2 628.6L197.7 623.6L190.4 625.2z" fill="#f8ee66"/>
<path d="M202.6 628.9L210 627.7L204.5 622.6L197.2 623.9z" fill="#f8ee65"/>
<path d="M209.4 628L216.8 627L211.3 621.8L204 622.9z" fill="#f8ef64"/>
<path d="M216.2 627.3L223.6 626.5L218.2 621.2L210.8 622.1z" fill="#f8ef63"/>
<path d="M223 626.7L230.4 626.1L225 620.8L217.6 621.5z" fill="#f8ef62"/>
<path d="M229.8 626.4L237.2 626L231.8 620.5L224.4 621z" fill="#f8ef61"/>
<path d="M236.6 626.3L244 626.1L238.6 620.5L231.2 620.8z" fill="#f8ee60"/>
<path d="M243.4 626.3L250.8 626.4L245.4 620.7L238 620.8z" fill="#f8ed5f"/>
<path d="M250.2 626.6L257.6 626.8L252.2 621.1L244.8 620.9z" fill="#f8ec5e"/>
<path d="M257.1 627.1L264.4 627.5L259 621.6L251.6 621.3z" fill="#f8eb5e"/>
<path d="M263.9 627.7L271.2 628.3L265.8 622.4L258.5 621.9z" fill="#f8e95d"/>
<path d="M270.7 628.5L278 629.4L272.6 623.4L265.3 622.6z" fill="#f8e75c"/>
<path d="M277.5 629.6L284.8 630.6L279.4 624.5L272.1 623.6z" fill="#f9e55c"/>
<path d="M284.3 630.8L291.6 632.1L286.3 625.9L278.9 624.7z" fill="#f9e25c"/>
<path d="M291.1 632.2L298.4 633.7L293.1 627.5L285.7 626.1z" fill="#fbdf5b"/>
<path d="M297.9 633.9L305.2 635.5L299.9 629.2L292.5 627.7z" fill="#fcdc5b"/>
<path d="M304.7 635.7L312 637.5L306.7 631.2L299.3 629.4z" fill="#fdd85b"/>
<path d="M311.5 637.7L318.8 639.7L313.5 633.4L306.1 631.4z" fill="#fed55c"/>
<path d="M318.3 639.9L325.6 642.1L320.3 635.7L312.9 633.5z" fill="#fed05d"/>
<path d="M325.1 642.3L332.4 644.7L327.1 638.3L319.7 635.9z" fill="#fecc5e"/>
<path d="M331.9 644.9L339.2 647.5L333.9 641L326.6 638.4z" fill="#fdc85e"/>
<path d="M338.7 647.6L346.1 650.4L340.8 643.9L333.4 641.1z" fill="#f8c55c"/>
<path d="M345.5 650.6L352.9 653.6L347.6 647L340.2 644z" fill="#f1c554"/>
<path d="M352.3 653.7L359.7 656.9L354.4 650.3L347 647.1z" fill="#e8c54c"/>
<path d="M359 657L366.5 660.4L361.2 653.8L353.8 650.4z" fill="#dfc749"/>
<path d="M365.8 660.4L373.3 664L368 657.4L360.6 653.9z" fill="#d4ca48"/>
<path d="M372.6 664.1L380.1 667.8L374.8 661.2L367.4 657.5z" fill="#c8cc4d"/>
<path d="M379.4 667.8L386.9 671.7L381.7 665.1L374.2 661.2z" fill="#bbcf54"/>
<path d="M386.2 671.8L393.7 675.8L388.5 669.2L381 665.1z" fill="#add15e"/>
<path d="M393 675.8L400.5 680L395.3 673.4L387.8 669.2z" fill="#9dd36a"/>
<path d="M399.8 680L407.3 684.3L402.1 677.7L394.6 673.4z" fill="#8dd477"/>
<path d="M406.6 684.4L414.1 688.9L408.9 682.2L401.5 677.8z" fill="#7cd483"/>
<path d="M413.4 688.8L420.9 693.5L415.8 686.9L408.3 682.2z" fill="#6dd490"/>
<path d="M420.2 693.5L427.7 698.4L422.6 691.8L415.1 686.9z" fill="#5cd29b"/>
<path d="M427 698.3L434.5 703.4L429.4 696.9L421.9 691.7z" fill="#4fcea5"/>
<path d="M433.8 703.3L441.3 708.7L436.2 702.2L428.7 696.8z" fill="#44cbaf"/>
<path d="M440.5 708.5L448.1 714.2L443.1 707.8L435.5 702.1z" fill="#34c6b8"/>
<path d="M447.3 713.9L454.9 719.9L449.9 713.6L442.3 707.6z" fill="#1cc2c1"/>
<path d="M454.1 719.6L461.7 726L456.7 719.8L449.1 713.3z" fill="#0ebccb"/>
<path d="M461 725.5L468.5 732.3L463.5 726.3L455.9 719.4z" fill="#14b4d5" stroke="#14b4d5" stroke-width="1.1"/>
<path d="M467.8 731.8L475.3 739L470.3 733.1L462.7 725.8z" fill="#1babdd" stroke="#1babdd" stroke-width="1.1"/>
<path d="M474.6 738.4L482.1 746L477 740.2L469.5 732.5z" fill="#22a2e4" stroke="#22a2e4" stroke-width="1.1"/>
<path d="M481.5 745.4L488.9 753.3L483.8 747.6L476.4 739.6z" fill="#2698ea" stroke="#2698ea" stroke-width="1.1"/>
<path d="M488.3 752.6L495.7 760.9L490.6 755.3L483.2 746.9z" fill="#2c8ef2" stroke="#2c8ef2" stroke-width="1.1"/>
<path d="M495.2 760.2L502.5 768.8L497.3 763.2L490 754.6z" fill="#2f82fa" stroke="#2f82fa" stroke-width="1.1"/>
<path d="M502 768L509.3 776.9L504.1 771.4L496.8 762.5z" fill="#3a74fe" stroke="#3a74fe" stroke-width="1.1"/>
<path d="M508.8 776.1L516.1 785.2L510.9 779.9L503.6 770.7z" fill="#4566fd" stroke="#4566fd" stroke-width="1.1"/>
<path d="M515.6 784.5L522.9 793.8L517.7 788.5L510.4 779.1z" fill="#4c5cf8" stroke="#4c5cf8" stroke-width="1.1"/>
<path d="M522.5 793L529.8 802.5L524.5 797.3L517.2 787.8z" fill="#5153ef" stroke="#5153ef" stroke-width="1.1"/>
<path d="M529.3 801.7L536.6 811.4L531.3 806.3L524 796.6z" fill="#544ae1"/>
<path d="M105.7 668.2L113.1 664L107.6 661.2L100.2 665.5z" fill="#fbd079"/>
<path d="M112.5 664.5L119.9 660.6L114.4 657.6L107 661.7z" fill="#fed379"/>
<path d="M119.3 661L126.7 657.3L121.2 654.1L113.8 658z" fill="#fed676"/>
<path d="M126.1 657.7L133.5 654.2L128 650.9L120.6 654.6z" fill="#fed974"/>
<path d="M132.9 654.7L140.3 651.3L134.8 647.8L127.4 651.3z" fill="#fedc72"/>
<path d="M139.7 651.8L147.1 648.6L141.6 645L134.2 648.3z" fill="#fddf70"/>
<path d="M146.5 649L153.9 646.1L148.4 642.3L141 645.4z" fill="#fbe26e"/>
<path d="M153.3 646.5L160.7 643.8L155.2 639.8L147.9 642.7z" fill="#fae56d"/>
<path d="M160.1 644.2L167.5 641.7L162 637.6L154.7 640.2z" fill="#f9e76b"/>
<path d="M166.9 642.1L174.3 639.8L168.8 635.5L161.5 637.9z" fill="#f9e96a"/>
<path d="M173.8 640.1L181.1 638L175.7 633.6L168.3 635.9z" fill="#f8eb69"/>
<path d="M180.6 638.4L187.9 636.5L182.5 631.9L175.1 634z" fill="#f8ec67"/>
<path d="M187.4 636.8L194.7 635.1L189.3 630.4L181.9 632.3z" fill="#f8ed66"/>
<path d="M194.2 635.4L201.5 633.9L196.1 629.1L188.7 630.7z" fill="#f8ef65"/>
<path d="M201 634.3L208.3 633L202.9 628L195.5 629.4z" fill="#f8ef64"/>
<path d="M207.8 633.3L215.1 632.2L209.7 627.1L202.3 628.3z" fill="#f8f063"/>
<path d="M214.6 632.5L222 631.6L216.5 626.4L209.1 627.4z" fill="#f8f062"/>
<path d="M221.4 631.9L228.8 631.2L223.3 625.9L215.9 626.7z" fill="#f8f061"/>
<path d="M228.2 631.4L235.6 630.9L230.1 625.6L222.8 626.2z" fill="#f8f060"/>
<path d="M235 631.2L242.4 630.9L236.9 625.4L229.6 625.8z" fill="#f8f05f"/>
<path d="M241.8 631.2L249.2 631.1L243.7 625.5L236.4 625.7z" fill="#f8ef5e"/>
<path d="M248.6 631.3L256 631.4L250.5 625.8L243.2 625.7z" fill="#f7ee5e"/>
<path d="M255.4 631.7L262.8 632L257.4 626.2L250 626z" fill="#f7ed5d"/>
<path d="M262.2 632.2L269.6 632.7L264.2 626.9L256.8 626.4z" fill="#f7ec5d"/>
<path d="M269 632.9L276.4 633.6L271 627.7L263.6 627.1z" fill="#f7ea5c"/>
<path d="M275.8 633.9L283.2 634.8L277.8 628.7L270.4 627.9z" fill="#f8e85b"/>
<path d="M282.6 635L290 636.1L284.6 630L277.2 628.9z" fill="#f8e55b"/>
<path d="M289.4 636.3L296.8 637.6L291.4 631.4L284 630.2z" fill="#f9e35b"/>
<path d="M296.2 637.7L303.6 639.2L298.2 633L290.9 631.6z" fill="#fae05b"/>
<path d="M303 639.4L310.4 641.1L305 634.9L297.7 633.2z" fill="#fcdc5b"/>
<path d="M309.8 641.3L317.2 643.2L311.8 636.9L304.5 635z" fill="#fdd85b"/>
<path d="M316.6 643.4L324 645.4L318.7 639.1L311.3 637z" fill="#fed55b"/>
<path d="M323.4 645.6L330.8 647.9L325.5 641.5L318.1 639.2z" fill="#fed05c"/>
<path d="M330.2 648L337.6 650.5L332.3 644.1L324.9 641.6z" fill="#fecc5d"/>
<path d="M337 650.6L344.4 653.3L339.1 646.8L331.7 644.2z" fill="#fdc85e"/>
<path d="M343.8 653.4L351.2 656.3L345.9 649.8L338.5 647z" fill="#f7c55b"/>
<path d="M350.6 656.4L358 659.5L352.7 652.9L345.3 649.9z" fill="#f0c553"/>
<path d="M357.4 659.6L364.8 662.8L359.5 656.2L352.1 653z" fill="#e8c64c"/>
<path d="M364.2 662.9L371.6 666.3L366.4 659.7L358.9 656.3z" fill="#dfc748"/>
<path d="M371 666.4L378.4 669.9L373.2 663.3L365.8 659.8z" fill="#d4ca49"/>
<path d="M377.8 670L385.2 673.7L380 667.1L372.6 663.4z" fill="#c8cc4d"/>
<path d="M384.6 673.8L392 677.7L386.8 671.1L379.4 667.2z" fill="#bacf55"/>
<path d="M391.4 677.8L398.8 681.8L393.6 675.1L386.2 671.1z" fill="#acd15f"/>
<path d="M398.2 681.8L405.6 686L400.4 679.4L393 675.2z" fill="#9cd36b"/>
<path d="M405 686L412.4 690.4L407.3 683.7L399.8 679.4z" fill="#8cd477"/>
<path d="M411.8 690.4L419.2 694.9L414.1 688.2L406.6 683.8z" fill="#7bd484"/>
<path d="M418.6 694.9L426 699.6L420.9 692.9L413.4 688.3z" fill="#6cd491"/>
<path d="M425.4 699.6L432.9 704.4L427.7 697.8L420.2 692.9z" fill="#5cd29c"/>
<path d="M432.1 704.4L439.7 709.5L434.6 702.9L427 697.8z" fill="#4fcfa6"/>
<path d="M438.9 709.4L446.5 714.7L441.4 708.1L433.8 702.8z" fill="#45cbb0"/>
<path d="M445.7 714.6L453.3 720.2L448.2 713.7L440.7 708z" fill="#35c7b9"/>
<path d="M452.5 720L460.1 726L455 719.5L447.5 713.5z" fill="#1dc2c2"/>
<path d="M459.3 725.7L466.9 732L461.8 725.7L454.3 719.3z" fill="#10bccc"/>
<path d="M466.1 731.6L473.7 738.3L468.6 732.1L461.1 725.3z" fill="#17b5d6"/>
<path d="M472.9 737.8L480.5 745L475.4 738.9L467.9 731.7z" fill="#1eacde" stroke="#1eacde" stroke-width="1.1"/>
<path d="M479.8 744.4L487.3 751.9L482.2 745.9L474.7 738.4z" fill="#22a2e4" stroke="#22a2e4" stroke-width="1.1"/>
<path d="M486.6 751.3L494.1 759.1L489 753.3L481.5 745.3z" fill="#2698ea" stroke="#2698ea" stroke-width="1.1"/>
<path d="M493.5 758.5L500.9 766.6L495.7 760.9L488.3 752.6z" fill="#2c8ef2" stroke="#2c8ef2" stroke-width="1.1"/>
<path d="M500.3 765.9L507.7 774.4L502.5 768.8L495.1 760.2z" fill="#2f82fa" stroke="#2f82fa" stroke-width="1.1"/>
<path d="M507.1 773.7L514.5 782.4L509.3 776.9L501.9 768.1z" fill="#3a74fe" stroke="#3a74fe" stroke-width="1.1"/>
<path d="M514 781.7L521.3 790.7L516.1 785.3L508.7 776.2z" fill="#4466fd" stroke="#4466fd" stroke-width="1.1"/>
<path d="M520.8 790L528.1 799.1L522.9 793.8L515.6 784.5z" fill="#4a5af8" stroke="#4a5af8" stroke-width="1.1"/>
<path d="M527.6 798.4L534.9 807.8L529.7 802.6L522.4 793.1z" fill="#4e51ef" stroke="#4e51ef" stroke-width="1.1"/>
<path d="M534.4 807L541.7 816.6L536.4 811.5L529.2 801.8z" fill="#5148e2" stroke="#5148e2" stroke-width="1.1"/>
<path d="M110.8 670.4L118.2 666.4L112.7 663.6L105.4 667.8z" fill="#fed277"/>
<path d="M117.7 666.9L125 663.1L119.5 660.2L112.2 664.1z" fill="#fed675"/>
<path d="M124.5 663.6L131.8 660L126.4 656.9L119 660.6z" fill="#fed972"/>
<path d="M131.3 660.5L138.6 657.1L133.2 653.8L125.8 657.3z" fill="#fddc70"/>
<path d="M138.1 657.5L145.5 654.4L140 650.9L132.6 654.2z" fill="#fcdf6f"/>
<path d="M144.9 654.8L152.3 651.8L146.8 648.2L139.4 651.3z" fill="#fbe26d"/>
<path d="M151.7 652.2L159.1 649.5L153.6 645.7L146.2 648.6z" fill="#fae56c"/>
<path d="M158.5 649.9L165.9 647.3L160.4 643.3L153 646.1z" fill="#f9e76a"/>
<path d="M165.3 647.7L172.7 645.3L167.2 641.2L159.8 643.7z" fill="#f9e969"/>
<path d="M172.1 645.7L179.5 643.5L174 639.3L166.6 641.6z" fill="#f8eb68"/>
<path d="M178.9 643.9L186.3 641.9L180.8 637.5L173.4 639.6z" fill="#f8ed67"/>
<path d="M185.7 642.3L193.1 640.5L187.6 635.9L180.2 637.8z" fill="#f8ee65"/>
<path d="M192.5 640.8L199.9 639.3L194.4 634.6L187.1 636.3z" fill="#f8ef64"/>
<path d="M199.3 639.6L206.7 638.2L201.2 633.4L193.9 634.9z" fill="#f8f063"/>
<path d="M206.1 638.5L213.5 637.3L208 632.4L200.7 633.7z" fill="#f8f162"/>
<path d="M212.9 637.6L220.3 636.7L214.9 631.6L207.5 632.7z" fill="#f8f161"/>
<path d="M219.7 637L227.1 636.2L221.7 631L214.3 631.9z" fill="#f8f260"/>
<path d="M226.5 636.4L233.9 635.9L228.5 630.6L221.1 631.3z" fill="#f8f25f"/>
<path d="M233.3 636.1L240.7 635.7L235.3 630.4L227.9 630.8z" fill="#f8f15e"/>
<path d="M240.1 636L247.5 635.8L242.1 630.3L234.7 630.6z" fill="#f8f15e"/>
<path d="M246.9 636.1L254.3 636.1L248.9 630.5L241.5 630.6z" fill="#f8f05d"/>
<path d="M253.8 636.3L261.1 636.5L255.7 630.8L248.3 630.7z" fill="#f7ef5c"/>
<path d="M260.6 636.7L267.9 637.1L262.5 631.4L255.1 631.1z" fill="#f7ee5c"/>
<path d="M267.4 637.4L274.7 637.9L269.3 632.1L262 631.6z" fill="#f7ec5b"/>
<path d="M274.2 638.2L281.5 638.9L276.1 633L268.8 632.3z" fill="#f7ea5b"/>
<path d="M281 639.2L288.3 640.1L282.9 634.1L275.6 633.2z" fill="#f8e85b"/>
<path d="M287.8 640.3L295.1 641.5L289.8 635.4L282.4 634.3z" fill="#f8e65a"/>
<path d="M294.6 641.7L301.9 643.1L296.6 636.9L289.2 635.6z" fill="#f9e35a"/>
<path d="M301.4 643.3L308.7 644.8L303.4 638.6L296 637.1z" fill="#fae05a"/>
<path d="M308.2 645L315.5 646.7L310.2 640.5L302.8 638.8z" fill="#fcdc5a"/>
<path d="M315 646.9L322.3 648.9L317 642.5L309.6 640.6z" fill="#fdd85a"/>
<path d="M321.8 649L329.1 651.2L323.8 644.8L316.4 642.7z" fill="#fed45b"/>
<path d="M328.6 651.3L336 653.6L330.6 647.2L323.2 644.9z" fill="#fed05c"/>
<path d="M335.4 653.8L342.8 656.3L337.4 649.9L330.1 647.4z" fill="#fecc5d"/>
<path d="M342.2 656.4L349.6 659.1L344.3 652.7L336.9 650z" fill="#fcc85e"/>
<path d="M349 659.3L356.4 662.2L351.1 655.6L343.7 652.8z" fill="#f7c55b"/>
<path d="M355.8 662.3L363.2 665.4L357.9 658.8L350.5 655.8z" fill="#f0c553"/>
<path d="M362.6 665.5L370 668.7L364.7 662.1L357.3 658.9z" fill="#e8c64c"/>
<path d="M369.4 668.8L376.8 672.2L371.5 665.6L364.1 662.2z" fill="#dec848"/>
<path d="M376.2 672.3L383.6 675.9L378.3 669.3L370.9 665.7z" fill="#d3ca49"/>
<path d="M383 676L390.4 679.7L385.1 673.1L377.7 669.4z" fill="#c7cc4e"/>
<path d="M389.7 679.8L397.2 683.7L392 677.1L384.5 673.2z" fill="#bacf56"/>
<path d="M396.5 683.8L404 687.8L398.8 681.2L391.3 677.1z" fill="#abd160"/>
<path d="M403.3 687.9L410.8 692.1L405.6 685.4L398.1 681.2z" fill="#9bd36c"/>
<path d="M410.1 692.1L417.6 696.5L412.4 689.8L405 685.4z" fill="#8bd478"/>
<path d="M416.9 696.5L424.4 701L419.2 694.3L411.8 689.8z" fill="#7ad485"/>
<path d="M423.7 701L431.2 705.7L426.1 699L418.6 694.3z" fill="#6bd392"/>
<path d="M430.5 705.7L438 710.6L432.9 703.9L425.4 699z" fill="#5bd29d"/>
<path d="M437.3 710.5L444.8 715.6L439.7 708.9L432.2 703.8z" fill="#50cfa8"/>
<path d="M444.1 715.5L451.6 720.9L446.5 714.2L439 708.9z" fill="#45cbb1"/>
<path d="M450.9 720.8L458.4 726.4L453.4 719.7L445.8 714.1z" fill="#35c7ba"/>
<path d="M457.7 726.2L465.2 732.1L460.2 725.5L452.6 719.6z" fill="#1ec2c4"/>
<path d="M464.5 731.8L472 738.1L467 731.7L459.4 725.3z" fill="#12bdcd"/>
<path d="M471.3 737.8L478.8 744.4L473.8 738.1L466.2 731.4z" fill="#1bb6d7"/>
<path d="M478.1 744L485.6 751L480.6 744.8L473 737.7z" fill="#21addf" stroke="#21addf" stroke-width="1.1"/>
<path d="M484.9 750.5L492.4 757.9L487.4 751.8L479.9 744.3z" fill="#22a2e4" stroke="#22a2e4" stroke-width="1.1"/>
<path d="M491.8 757.3L499.2 765L494.1 759.1L486.7 751.2z" fill="#2798ea" stroke="#2798ea" stroke-width="1.1"/>
<path d="M498.6 764.4L506 772.5L500.9 766.6L493.5 758.5z" fill="#2d8df2" stroke="#2d8df2" stroke-width="1.1"/>
<path d="M505.4 771.8L512.8 780.2L507.7 774.4L500.3 766z" fill="#2f82fa" stroke="#2f82fa" stroke-width="1.1"/>
<path d="M512.3 779.5L519.6 788.1L514.5 782.5L507.1 773.7z" fill="#3974fe" stroke="#3974fe" stroke-width="1.1"/>
<path d="M519.1 787.4L526.5 796.2L521.2 790.7L513.9 781.8z" fill="#4466fd" stroke="#4466fd" stroke-width="1.1"/>
<path d="M525.9 795.5L533.3 804.6L528 799.2L520.7 790z" fill="#4759f8" stroke="#4759f8" stroke-width="1.1"/>
<path d="M532.8 803.8L540.1 813.1L534.8 807.8L527.5 798.5z" fill="#4c4fef" stroke="#4c4fef" stroke-width="1.1"/>
<path d="M539.6 812.4L546.9 821.8L541.6 816.6L534.3 807.1z" fill="#4f46e2" stroke="#4f46e2" stroke-width="1.1"/>
<path d="M116 672.6L123.4 668.8L117.9 666L110.5 670z" fill="#fed673"/>
<path d="M122.8 669.3L130.2 665.7L124.7 662.7L117.3 666.5z" fill="#fed971"/>
<path d="M129.6 666.2L137 662.8L131.5 659.6L124.1 663.2z" fill="#fddd6f"/>
<path d="M136.4 663.2L143.8 660L138.3 656.7L130.9 660.1z" fill="#fce06d"/>
<path d="M143.2 660.4L150.6 657.4L145.1 653.9L137.7 657.1z" fill="#fbe36c"/>
<path d="M150 657.9L157.4 655L151.9 651.4L144.6 654.4z" fill="#fae56b"/>
<path d="M156.8 655.5L164.2 652.8L158.7 649L151.4 651.8z" fill="#f9e869"/>
<path d="M163.6 653.2L171 650.8L165.5 646.8L158.2 649.4z" fill="#f8ea68"/>
<path d="M170.4 651.2L177.8 649L172.4 644.8L165 647.2z" fill="#f8ec67"/>
<path d="M177.2 649.3L184.6 647.3L179.2 643L171.8 645.2z" fill="#f8ee66"/>
<path d="M184.1 647.7L191.4 645.8L186 641.4L178.6 643.4z" fill="#f8ef65"/>
<path d="M190.9 646.2L198.2 644.5L192.8 640L185.4 641.7z" fill="#f8f063"/>
<path d="M197.7 644.9L205 643.4L199.6 638.7L192.2 640.3z" fill="#f8f162"/>
<path d="M204.5 643.7L211.8 642.5L206.4 637.7L199 639z" fill="#f8f261"/>
<path d="M211.3 642.8L218.7 641.7L213.2 636.8L205.8 638z" fill="#f8f360"/>
<path d="M218.1 642L225.5 641.2L220 636.1L212.6 637.1z" fill="#f8f35f"/>
<path d="M224.9 641.4L232.3 640.8L226.8 635.6L219.4 636.4z" fill="#f8f35e"/>
<path d="M231.7 641L239.1 640.6L233.6 635.3L226.3 635.9z" fill="#f8f35d"/>
<path d="M238.5 640.8L245.9 640.5L240.4 635.2L233.1 635.5z" fill="#f8f25c"/>
<path d="M245.3 640.8L252.7 640.7L247.2 635.2L239.9 635.4z" fill="#f8f25c"/>
<path d="M252.1 641L259.5 641L254.1 635.5L246.7 635.5z" fill="#f8f15b"/>
<path d="M258.9 641.3L266.3 641.6L260.9 635.9L253.5 635.7z" fill="#f8f05b"/>
<path d="M265.7 641.8L273.1 642.3L267.7 636.5L260.3 636.1z" fill="#f7ee5b"/>
<path d="M272.5 642.5L279.9 643.2L274.5 637.3L267.1 636.7z" fill="#f7ed5a"/>
<path d="M279.3 643.4L286.7 644.3L281.3 638.3L273.9 637.5z" fill="#f7eb5a"/>
<path d="M286.1 644.5L293.5 645.5L288.1 639.5L280.7 638.5z" fill="#f8e95a"/>
<path d="M292.9 645.7L300.3 646.9L294.9 640.9L287.5 639.7z" fill="#f8e659"/>
<path d="M299.7 647.1L307.1 648.6L301.7 642.4L294.4 641.1z" fill="#f9e359"/>
<path d="M306.5 648.8L313.9 650.4L308.5 644.2L301.2 642.6z" fill="#fae059"/>
<path d="M313.3 650.5L320.7 652.4L315.3 646.1L308 644.3z" fill="#fcdc59"/>
<path d="M320.1 652.5L327.5 654.5L322.2 648.2L314.8 646.3z" fill="#fdd859"/>
<path d="M326.9 654.7L334.3 656.9L329 650.5L321.6 648.4z" fill="#fed45a"/>
<path d="M333.7 657L341.1 659.4L335.8 653L328.4 650.7z" fill="#fed05b"/>
<path d="M340.5 659.5L347.9 662.1L342.6 655.6L335.2 653.1z" fill="#fecc5d"/>
<path d="M347.3 662.2L354.7 665L349.4 658.5L342 655.8z" fill="#fcc75d"/>
<path d="M354.1 665.1L361.5 668L356.2 661.5L348.8 658.6z" fill="#f7c55a"/>
<path d="M360.9 668.2L368.3 671.3L363 664.7L355.6 661.6z" fill="#f0c552"/>
<path d="M367.7 671.4L375.1 674.6L369.9 668.1L362.4 664.8z" fill="#e7c64b"/>
<path d="M374.5 674.7L381.9 678.2L376.7 671.6L369.3 668.2z" fill="#ddc848"/>
<path d="M381.3 678.3L388.7 681.9L383.5 675.3L376.1 671.7z" fill="#d2ca49"/>
<path d="M388.1 682L395.5 685.8L390.3 679.1L382.9 675.3z" fill="#c6cd4e"/>
<path d="M394.9 685.8L402.3 689.8L397.1 683.1L389.7 679.2z" fill="#b9cf56"/>
<path d="M401.7 689.8L409.1 693.9L403.9 687.2L396.5 683.1z" fill="#aad161"/>
<path d="M408.5 693.9L415.9 698.2L410.8 691.5L403.3 687.2z" fill="#9ad36d"/>
<path d="M415.3 698.2L422.7 702.6L417.6 695.9L410.1 691.5z" fill="#89d479"/>
<path d="M422.1 702.6L429.6 707.2L424.4 700.4L416.9 695.9z" fill="#79d486"/>
<path d="M428.9 707.2L436.4 711.9L431.2 705.1L423.7 700.4z" fill="#6ad393"/>
<path d="M435.7 711.9L443.2 716.8L438 710L430.5 705.1z" fill="#5bd29f"/>
<path d="M442.5 716.7L450 721.9L444.8 715.1L437.3 710z" fill="#50cea9"/>
<path d="M449.2 721.8L456.8 727.1L451.7 720.4L444.2 715z" fill="#45cbb2"/>
<path d="M456 727L463.6 732.6L458.5 725.9L451 720.3z" fill="#35c7bc"/>
<path d="M462.8 732.5L470.4 738.4L465.3 731.7L457.8 725.8z" fill="#1fc2c5"/>
<path d="M469.6 738.1L477.2 744.4L472.2 737.8L464.6 731.5z" fill="#15bdce"/>
<path d="M476.4 744L484 750.6L479 744.1L471.4 737.5z" fill="#1eb6d8"/>
<path d="M483.2 750.2L490.8 757.2L485.8 750.8L478.2 743.8z" fill="#24ade0"/>
<path d="M490.1 756.7L497.6 764L492.5 757.7L485 750.4z" fill="#26a3e5" stroke="#26a3e5" stroke-width="1.1"/>
<path d="M496.9 763.4L504.4 771.1L499.3 765L491.8 757.2z" fill="#2798ea" stroke="#2798ea" stroke-width="1.1"/>
<path d="M503.7 770.5L511.2 778.4L506.1 772.4L498.6 764.4z" fill="#2d8df2" stroke="#2d8df2" stroke-width="1.1"/>
<path d="M510.6 777.8L518 786L512.8 780.2L505.4 771.8z" fill="#2f81fa" stroke="#2f81fa" stroke-width="1.1"/>
<path d="M517.4 785.3L524.8 793.8L519.6 788.1L512.2 779.5z" fill="#3a74fe" stroke="#3a74fe" stroke-width="1.1"/>
<path d="M524.2 793.1L531.6 801.9L526.4 796.3L519.1 787.4z" fill="#4466fd" stroke="#4466fd" stroke-width="1.1"/>
<path d="M531.1 801.1L538.4 810.1L533.2 804.6L525.9 795.6z" fill="#4759f8" stroke="#4759f8" stroke-width="1.1"/>
<path d="M537.9 809.4L545.2 818.5L540 813.2L532.7 803.9z" fill="#494def" stroke="#494def" stroke-width="1.1"/>
<path d="M544.7 817.7L552 827L546.8 821.8L539.5 812.4z" fill="#4c44e2" stroke="#4c44e2" stroke-width="1.1"/>
<path d="M121.1 674.9L128.5 671.3L123.1 668.4L115.7 672.2z" fill="#feda6f"/>
<path d="M128 671.7L135.3 668.3L129.9 665.3L122.5 668.9z" fill="#fddd6d"/>
<path d="M134.8 668.7L142.1 665.5L136.7 662.4L129.3 665.8z" fill="#fce06c"/>
<path d="M141.6 666L149 662.9L143.5 659.6L136.1 662.8z" fill="#fbe36b"/>
<path d="M148.4 663.3L155.8 660.5L150.3 657L142.9 660z" fill="#f9e669"/>
<path d="M155.2 660.9L162.6 658.3L157.1 654.6L149.7 657.4z" fill="#f9e868"/>
<path d="M162 658.7L169.4 656.2L163.9 652.4L156.5 655z" fill="#f8eb67"/>
<path d="M168.8 656.6L176.2 654.3L170.7 650.3L163.3 652.7z" fill="#f8ed66"/>
<path d="M175.6 654.7L183 652.6L177.5 648.5L170.1 650.7z" fill="#f8ee64"/>
<path d="M182.4 653L189.8 651.1L184.3 646.8L176.9 648.8z" fill="#f8f063"/>
<path d="M189.2 651.4L196.6 649.7L191.1 645.3L183.7 647.1z" fill="#f8f162"/>
<path d="M196 650.1L203.4 648.5L197.9 644L190.6 645.6z" fill="#f8f261"/>
<path d="M202.8 648.9L210.2 647.6L204.7 642.9L197.4 644.3z" fill="#f8f360"/>
<path d="M209.6 647.9L217 646.7L211.6 641.9L204.2 643.2z" fill="#f8f45f"/>
<path d="M216.4 647L223.8 646.1L218.4 641.2L211 642.2z" fill="#f8f45d"/>
<path d="M223.2 646.4L230.6 645.6L225.2 640.6L217.8 641.5z" fill="#f8f45d"/>
<path d="M230 645.9L237.4 645.4L232 640.2L224.6 640.9z" fill="#f8f45c"/>
<path d="M236.8 645.6L244.2 645.3L238.8 640L231.4 640.5z" fill="#f8f45b"/>
<path d="M243.6 645.5L251 645.3L245.6 640L238.2 640.2z" fill="#f8f45b"/>
<path d="M250.4 645.6L257.8 645.6L252.4 640.1L245 640.2z" fill="#f8f35a"/>
<path d="M257.3 645.8L264.6 646L259.2 640.4L251.8 640.4z" fill="#f8f25a"/>
<path d="M264.1 646.3L271.4 646.6L266 641L258.6 640.7z" fill="#f8f15a"/>
<path d="M270.9 646.9L278.2 647.4L272.8 641.7L265.5 641.2z" fill="#f7ef59"/>
<path d="M277.7 647.7L285 648.4L279.6 642.6L272.3 641.9z" fill="#f7ed59"/>
<path d="M284.5 648.6L291.8 649.6L286.4 643.6L279.1 642.8z" fill="#f7eb59"/>
<path d="M291.3 649.8L298.6 650.9L293.3 644.9L285.9 643.8z" fill="#f7e959"/>
<path d="M298.1 651.1L305.4 652.4L300.1 646.3L292.7 645.1z" fill="#f8e658"/>
<path d="M304.9 652.6L312.2 654.1L306.9 647.9L299.5 646.5z" fill="#f9e358"/>
<path d="M311.7 654.3L319 655.9L313.7 649.7L306.3 648.1z" fill="#fae058"/>
<path d="M318.5 656.1L325.8 658L320.5 651.7L313.1 649.9z" fill="#fbdc58"/>
<path d="M325.3 658.1L332.7 660.2L327.3 653.9L319.9 651.9z" fill="#fdd859"/>
<path d="M332.1 660.3L339.5 662.6L334.1 656.2L326.7 654z" fill="#fed459"/>
<path d="M338.9 662.7L346.3 665.2L340.9 658.7L333.6 656.4z" fill="#fed05b"/>
<path d="M345.7 665.3L353.1 667.9L347.8 661.4L340.4 658.9z" fill="#fecb5c"/>
<path d="M352.5 668L359.9 670.8L354.6 664.3L347.2 661.6z" fill="#fcc75d"/>
<path d="M359.3 670.9L366.7 673.9L361.4 667.4L354 664.5z" fill="#f7c559"/>
<path d="M366.1 674L373.5 677.2L368.2 670.6L360.8 667.5z" fill="#efc551"/>
<path d="M372.9 677.3L380.3 680.6L375 674L367.6 670.7z" fill="#e7c64b"/>
<path d="M379.7 680.7L387.1 684.2L381.8 677.5L374.4 674.1z" fill="#ddc848"/>
<path d="M386.5 684.2L393.9 687.9L388.6 681.3L381.2 677.6z" fill="#d2ca49"/>
<path d="M393.3 688L400.7 691.8L395.5 685.1L388 681.3z" fill="#c5cd4f"/>
<path d="M400.1 691.8L407.5 695.8L402.3 689.1L394.8 685.2z" fill="#b8cf57"/>
<path d="M406.9 695.9L414.3 700L409.1 693.3L401.6 689.2z" fill="#a9d161"/>
<path d="M413.6 700L421.1 704.3L415.9 697.5L408.5 693.3z" fill="#99d36e"/>
<path d="M420.4 704.3L427.9 708.8L422.7 702L415.3 697.6z" fill="#88d47a"/>
<path d="M427.2 708.8L434.7 713.4L429.5 706.6L422.1 702z" fill="#78d487"/>
<path d="M434 713.4L441.5 718.1L436.4 711.3L428.9 706.6z" fill="#68d394"/>
<path d="M440.8 718.1L448.3 723.1L443.2 716.2L435.7 711.3z" fill="#5ad1a0"/>
<path d="M447.6 723L455.1 728.2L450 721.3L442.5 716.2z" fill="#4fceaa"/>
<path d="M454.4 728.1L461.9 733.5L456.8 726.6L449.3 721.2z" fill="#45cbb4"/>
<path d="M461.2 733.4L468.7 739L463.6 732.1L456.1 726.5z" fill="#35c7bd"/>
<path d="M468 738.8L475.5 744.7L470.5 737.9L462.9 732z" fill="#1fc2c6"/>
<path d="M474.8 744.5L482.3 750.7L477.3 744L469.7 737.7z" fill="#18bdd0"/>
<path d="M481.6 750.4L489.1 757L484.1 750.3L476.6 743.7z" fill="#22b6d9"/>
<path d="M488.4 756.6L495.9 763.5L490.9 756.9L483.4 750z" fill="#27aee1"/>
<path d="M495.2 763L502.7 770.2L497.7 763.8L490.2 756.5z" fill="#29a3e5" stroke="#29a3e5" stroke-width="1.1"/>
<path d="M502 769.7L509.5 777.2L504.5 771L497 763.3z" fill="#2898eb" stroke="#2898eb" stroke-width="1.1"/>
<path d="M508.9 776.6L516.3 784.5L511.3 778.4L503.8 770.4z" fill="#2d8df2" stroke="#2d8df2" stroke-width="1.1"/>
<path d="M515.7 783.8L523.2 792L518 786L510.6 777.8z" fill="#2f81fa" stroke="#2f81fa" stroke-width="1.1"/>
<path d="M522.6 791.3L530 799.7L524.8 793.8L517.4 785.3z" fill="#3a74fe" stroke="#3a74fe" stroke-width="1.1"/>
<path d="M529.4 799L536.8 807.6L531.6 801.9L524.2 793.2z" fill="#4466fd" stroke="#4466fd" stroke-width="1.1"/>
<path d="M536.2 806.8L543.6 815.6L538.4 810.1L531 801.2z" fill="#4759f8" stroke="#4759f8" stroke-width="1.1"/>
<path d="M543 814.9L550.4 823.9L545.1 818.5L537.8 809.4z" fill="#484cf0" stroke="#484cf0" stroke-width="1.1"/>
<path d="M549.9 823.2L557.2 832.3L551.9 827.1L544.6 817.8z" fill="#4942e3" stroke="#4942e3" stroke-width="1.1"/>
<path d="M126.3 677.1L133.7 673.7L128.2 670.9L120.8 674.5z" fill="#fddd6b"/>
<path d="M133.1 674.1L140.5 670.9L135 667.9L127.6 671.3z" fill="#fce16a"/>
<path d="M139.9 671.3L147.3 668.3L141.8 665.1L134.4 668.3z" fill="#fae469"/>
<path d="M146.7 668.7L154.1 665.8L148.6 662.5L141.2 665.5z" fill="#f9e768"/>
<path d="M153.5 666.2L160.9 663.6L155.4 660L148.1 662.9z" fill="#f8e966"/>
<path d="M160.3 664L167.7 661.5L162.2 657.8L154.9 660.4z" fill="#f8ec65"/>
<path d="M167.1 661.9L174.5 659.5L169.1 655.7L161.7 658.2z" fill="#f8ee64"/>
<path d="M173.9 659.9L181.3 657.8L175.9 653.8L168.5 656.1z" fill="#f8ef63"/>
<path d="M180.7 658.2L188.1 656.2L182.7 652.1L175.3 654.2z" fill="#f8f162"/>
<path d="M187.6 656.6L194.9 654.8L189.5 650.6L182.1 652.5z" fill="#f8f260"/>
<path d="M194.4 655.2L201.7 653.6L196.3 649.2L188.9 650.9z" fill="#f8f35f"/>
<path d="M201.2 654L208.5 652.6L203.1 648L195.7 649.5z" fill="#f8f45e"/>
<path d="M208 652.9L215.4 651.7L209.9 647L202.5 648.3z" fill="#f9f55d"/>
<path d="M214.8 652L222.2 651L216.7 646.2L209.3 647.3z" fill="#f9f65c"/>
<path d="M221.6 651.3L229 650.5L223.5 645.5L216.1 646.5z" fill="#f9f65b"/>
<path d="M228.4 650.8L235.8 650.1L230.3 645.1L222.9 645.8z" fill="#f9f65a"/>
<path d="M235.2 650.4L242.6 650L237.1 644.8L229.8 645.4z" fill="#f9f659"/>
<path d="M242 650.2L249.4 650L243.9 644.7L236.6 645.1z" fill="#f9f559"/>
<path d="M248.8 650.2L256.2 650.1L250.8 644.8L243.4 644.9z" fill="#f8f559"/>
<path d="M255.6 650.4L263 650.5L257.6 645L250.2 645z" fill="#f8f458"/>
<path d="M262.4 650.7L269.8 651L264.4 645.4L257 645.2z" fill="#f8f358"/>
<path d="M269.2 651.3L276.6 651.7L271.2 646L263.8 645.7z" fill="#f8f158"/>
<path d="M276 651.9L283.4 652.6L278 646.8L270.6 646.3z" fill="#f7f058"/>
<path d="M282.8 652.8L290.2 653.6L284.8 647.8L277.4 647z" fill="#f7ee58"/>
<path d="M289.6 653.9L297 654.9L291.6 648.9L284.2 648z" fill="#f7ec58"/>
<path d="M296.4 655.1L303.8 656.3L298.4 650.3L291 649.1z" fill="#f7e958"/>
<path d="M303.2 656.5L310.6 657.8L305.2 651.8L297.9 650.4z" fill="#f8e757"/>
<path d="M310 658L317.4 659.6L312 653.4L304.7 651.9z" fill="#f9e457"/>
<path d="M316.8 659.8L324.2 661.5L318.8 655.3L311.5 653.6z" fill="#fae057"/>
<path d="M323.6 661.7L331 663.6L325.7 657.3L318.3 655.5z" fill="#fbdc58"/>
<path d="M330.4 663.8L337.8 665.9L332.5 659.5L325.1 657.5z" fill="#fdd858"/>
<path d="M337.2 666L344.6 668.3L339.3 661.9L331.9 659.7z" fill="#fed459"/>
<path d="M344 668.4L351.4 670.9L346.1 664.5L338.7 662.1z" fill="#fed05a"/>
<path d="M350.8 671.1L358.2 673.7L352.9 667.2L345.5 664.6z" fill="#fecb5c"/>
<path d="M357.6 673.8L365 676.7L359.7 670.2L352.3 667.4z" fill="#fcc75c"/>
<path d="M364.4 676.8L371.8 679.8L366.5 673.2L359.1 670.3z" fill="#f6c559"/>
<path d="M371.2 679.9L378.6 683.1L373.4 676.5L366 673.4z" fill="#efc551"/>
<path d="M378 683.2L385.4 686.5L380.2 679.9L372.8 676.6z" fill="#e6c64b"/>
<path d="M384.8 686.6L392.2 690.1L387 683.5L379.6 680z" fill="#dcc848"/>
<path d="M391.6 690.2L399 693.9L393.8 687.2L386.4 683.6z" fill="#d1ca49"/>
<path d="M398.4 694L405.8 697.8L400.6 691.1L393.2 687.3z" fill="#c5cd4f"/>
<path d="M405.2 697.9L412.6 701.9L407.4 695.2L400 691.2z" fill="#b7cf57"/>
<path d="M412 701.9L419.4 706.1L414.2 699.3L406.8 695.2z" fill="#a8d262"/>
<path d="M418.8 706.1L426.3 710.5L421.1 703.7L413.6 699.4z" fill="#97d36f"/>
<path d="M425.6 710.5L433.1 715L427.9 708.1L420.4 703.7z" fill="#86d47b"/>
<path d="M432.4 715L439.9 719.6L434.7 712.8L427.2 708.2z" fill="#76d489"/>
<path d="M439.2 719.6L446.7 724.4L441.5 717.5L434 712.8z" fill="#67d395"/>
<path d="M446 724.4L453.5 729.4L448.3 722.5L440.8 717.5z" fill="#59d1a1"/>
<path d="M452.8 729.4L460.3 734.6L455.1 727.6L447.7 722.5z" fill="#4fceac"/>
<path d="M459.6 734.5L467.1 739.9L462 732.9L454.5 727.6z" fill="#44cbb5"/>
<path d="M466.4 739.8L473.9 745.5L468.8 738.5L461.3 732.9z" fill="#34c7be"/>
<path d="M473.1 745.3L480.7 751.2L475.6 744.2L468.1 738.4z" fill="#1fc2c8"/>
<path d="M479.9 751L487.5 757.2L482.4 750.3L474.9 744.1z" fill="#1bbdd1"/>
<path d="M486.7 756.9L494.3 763.4L489.3 756.6L481.7 750.1z" fill="#25b6da"/>
<path d="M493.5 763.1L501.1 769.9L496.1 763.2L488.5 756.3z" fill="#2aaee2"/>
<path d="M500.3 769.4L507.9 776.5L502.9 770L495.3 762.8z" fill="#2ca4e6"/>
<path d="M507.2 776.1L514.7 783.5L509.7 777.1L502.1 769.6z" fill="#2c99eb" stroke="#2c99eb" stroke-width="1.1"/>
<path d="M514 782.9L521.5 790.6L516.4 784.4L508.9 776.6z" fill="#2d8cf3" stroke="#2d8cf3" stroke-width="1.1"/>
<path d="M520.8 790L528.3 798L523.2 791.9L515.7 783.8z" fill="#2f81fa" stroke="#2f81fa" stroke-width="1.1"/>
<path d="M527.7 797.3L535.1 805.6L530 799.6L522.6 791.3z" fill="#3a74fe" stroke="#3a74fe" stroke-width="1.1"/>
<path d="M534.5 804.9L541.9 813.3L536.7 807.6L529.4 799z" fill="#4466fd" stroke="#4466fd" stroke-width="1.1"/>
<path d="M541.4 812.6L548.7 821.3L543.5 815.7L536.2 806.9z" fill="#4759f9" stroke="#4759f9" stroke-width="1.1"/>
<path d="M548.2 820.6L555.5 829.4L550.3 823.9L543 815z" fill="#484df0" stroke="#484df0" stroke-width="1.1"/>
<path d="M555 828.7L562.3 837.7L557.1 832.4L549.8 823.2z" fill="#473fe3" stroke="#473fe3" stroke-width="1.1"/>
<path d="M131.5 679.3L138.8 676.1L133.4 673.3L126 676.7z" fill="#fbe268"/>
<path d="M138.3 676.5L145.7 673.5L140.2 670.5L132.8 673.7z" fill="#fae567"/>
<path d="M145.1 673.9L152.5 671L147 667.8L139.6 670.9z" fill="#f9e866"/>
<path d="M151.9 671.4L159.3 668.7L153.8 665.4L146.4 668.2z" fill="#f8ea65"/>
<path d="M158.7 669.1L166.1 666.6L160.6 663.1L153.2 665.8z" fill="#f8ed64"/>
<path d="M165.5 667L172.9 664.7L167.4 661L160 663.5z" fill="#f8ef63"/>
<path d="M172.3 665.1L179.7 662.9L174.2 659.1L166.8 661.4z" fill="#f8f061"/>
<path d="M179.1 663.3L186.5 661.3L181 657.3L173.6 659.4z" fill="#f8f260"/>
<path d="M185.9 661.7L193.3 659.9L187.8 655.7L180.4 657.7z" fill="#f8f45f"/>
<path d="M192.7 660.2L200.1 658.6L194.6 654.3L187.3 656.1z" fill="#f8f55d"/>
<path d="M199.5 659L206.9 657.5L201.4 653.1L194.1 654.7z" fill="#f9f65c"/>
<path d="M206.3 657.9L213.7 656.6L208.3 652L200.9 653.4z" fill="#f9f65b"/>
<path d="M213.1 656.9L220.5 655.9L215.1 651.2L207.7 652.4z" fill="#f9f75a"/>
<path d="M219.9 656.2L227.3 655.3L221.9 650.5L214.5 651.5z" fill="#f9f759"/>
<path d="M226.7 655.6L234.1 654.9L228.7 649.9L221.3 650.7z" fill="#f9f758"/>
<path d="M233.5 655.2L240.9 654.6L235.5 649.6L228.1 650.2z" fill="#f9f758"/>
<path d="M240.3 654.9L247.7 654.6L242.3 649.4L234.9 649.8z" fill="#f9f757"/>
<path d="M247.1 654.8L254.5 654.7L249.1 649.4L241.7 649.7z" fill="#f9f757"/>
<path d="M253.9 654.9L261.3 654.9L255.9 649.6L248.5 649.6z" fill="#f9f657"/>
<path d="M260.8 655.2L268.1 655.4L262.7 649.9L255.3 649.8z" fill="#f8f556"/>
<path d="M267.6 655.6L274.9 656L269.5 650.4L262.2 650.1z" fill="#f8f456"/>
<path d="M274.4 656.2L281.7 656.8L276.3 651.1L269 650.6z" fill="#f8f257"/>
<path d="M281.2 657L288.5 657.7L283.1 652L275.8 651.3z" fill="#f7f157"/>
<path d="M288 658L295.3 658.9L290 653L282.6 652.2z" fill="#f7ef57"/>
<path d="M294.8 659.1L302.1 660.2L296.8 654.2L289.4 653.2z" fill="#f7ec57"/>
<path d="M301.6 660.4L308.9 661.6L303.6 655.6L296.2 654.4z" fill="#f7ea57"/>
<path d="M308.4 661.8L315.7 663.3L310.4 657.2L303 655.8z" fill="#f8e756"/>
<path d="M315.2 663.5L322.6 665.1L317.2 658.9L309.8 657.4z" fill="#f8e456"/>
<path d="M322 665.3L329.4 667.1L324 660.9L316.6 659.1z" fill="#fae057"/>
<path d="M328.8 667.2L336.2 669.2L330.8 662.9L323.4 661z" fill="#fbdc57"/>
<path d="M335.6 669.4L343 671.5L337.6 665.2L330.2 663.1z" fill="#fdd857"/>
<path d="M342.4 671.7L349.8 674L344.4 667.6L337.1 665.4z" fill="#fed458"/>
<path d="M349.2 674.2L356.6 676.7L351.3 670.3L343.9 667.8z" fill="#fed05a"/>
<path d="M356 676.8L363.4 679.5L358.1 673L350.7 670.4z" fill="#fecb5b"/>
<path d="M362.8 679.6L370.2 682.5L364.9 676L357.5 673.2z" fill="#fcc75c"/>
<path d="M369.6 682.6L377 685.7L371.7 679.1L364.3 676.1z" fill="#f6c558"/>
<path d="M376.4 685.8L383.8 689L378.5 682.4L371.1 679.2z" fill="#eec551"/>
<path d="M383.2 689.1L390.6 692.5L385.3 685.9L377.9 682.5z" fill="#e6c64b"/>
<path d="M390 692.5L397.4 696.1L392.1 689.5L384.7 686z" fill="#dcc848"/>
<path d="M396.8 696.2L404.2 699.9L399 693.2L391.5 689.6z" fill="#d0ca49"/>
<path d="M403.6 700L411 703.9L405.8 697.2L398.3 693.3z" fill="#c4cd4f"/>
<path d="M410.4 703.9L417.8 708L412.6 701.2L405.2 697.2z" fill="#b5d058"/>
<path d="M417.2 708L424.6 712.2L419.4 705.5L412 701.3z" fill="#a6d263"/>
<path d="M424 712.3L431.4 716.6L426.2 709.8L418.8 705.5z" fill="#96d370"/>
<path d="M430.8 716.7L438.2 721.2L433 714.3L425.6 709.9z" fill="#85d47d"/>
<path d="M437.5 721.2L445 725.9L439.8 719L432.4 714.4z" fill="#75d48a"/>
<path d="M444.3 725.9L451.8 730.8L446.7 723.8L439.2 719z" fill="#65d397"/>
<path d="M451.1 730.8L458.6 735.8L453.5 728.8L446 723.8z" fill="#58d1a2"/>
<path d="M457.9 735.8L465.4 741L460.3 734L452.8 728.8z" fill="#4ecead"/>
<path d="M464.7 741L472.2 746.4L467.1 739.3L459.6 733.9z" fill="#44cab7"/>
<path d="M471.5 746.3L479 752L473.9 744.9L466.4 739.3z" fill="#32c7c0"/>
<path d="M478.3 751.9L485.8 757.8L480.8 750.7L473.2 744.8z" fill="#1fc2c9"/>
<path d="M485.1 757.6L492.6 763.8L487.6 756.7L480.1 750.6z" fill="#1ebdd3"/>
<path d="M491.9 763.5L499.4 770L494.4 763L486.9 756.5z" fill="#29b6dc"/>
<path d="M498.7 769.7L506.2 776.4L501.2 769.5L493.7 762.8z" fill="#2daee3"/>
<path d="M505.5 776L513 783L508 776.3L500.5 769.2z" fill="#2fa4e7"/>
<path d="M512.3 782.5L519.9 789.8L514.8 783.3L507.3 775.9z" fill="#2f99ec" stroke="#2f99ec" stroke-width="1.1"/>
<path d="M519.1 789.3L526.7 796.9L521.6 790.5L514.1 782.8z" fill="#308df4" stroke="#308df4" stroke-width="1.1"/>
<path d="M526 796.3L533.5 804.1L528.4 797.9L520.9 789.9z" fill="#3080fa" stroke="#3080fa" stroke-width="1.1"/>
<path d="M532.8 803.5L540.3 811.5L535.1 805.5L527.7 797.3z" fill="#3a73fe" stroke="#3a73fe" stroke-width="1.1"/>
<path d="M539.7 810.9L547.1 819.2L541.9 813.3L534.5 804.9z" fill="#4466fd" stroke="#4466fd" stroke-width="1.1"/>
<path d="M546.5 818.5L553.9 827L548.7 821.3L541.3 812.7z" fill="#4759f9" stroke="#4759f9" stroke-width="1.1"/>
<path d="M553.3 826.3L560.7 834.9L555.5 829.4L548.1 820.6z" fill="#484df0" stroke="#484df0" stroke-width="1.1"/>
<path d="M560.2 834.2L567.5 843L562.3 837.7L554.9 828.7z" fill="#4740e3" stroke="#4740e3" stroke-width="1.1"/>
<path d="M136.6 681.6L144 678.5L138.5 675.7L131.1 678.9z" fill="#f9e664"/>
<path d="M143.4 678.9L150.8 676L145.3 673L137.9 676.1z" fill="#f8e963"/>
<path d="M150.2 676.5L157.6 673.8L152.1 670.6L144.8 673.5z" fill="#f8eb63"/>
<path d="M157 674.2L164.4 671.6L159 668.3L151.6 671z" fill="#f8ee62"/>
<path d="M163.8 672L171.2 669.7L165.8 666.2L158.4 668.7z" fill="#f8f060"/>
<path d="M170.6 670.1L178 667.9L172.6 664.2L165.2 666.5z" fill="#f8f25f"/>
<path d="M177.4 668.3L184.8 666.3L179.4 662.4L172 664.6z" fill="#f8f35e"/>
<path d="M184.2 666.6L191.6 664.8L186.2 660.8L178.8 662.8z" fill="#f9f55d"/>
<path d="M191.1 665.2L198.4 663.5L193 659.4L185.6 661.2z" fill="#f9f65b"/>
<path d="M197.9 663.9L205.2 662.4L199.8 658.1L192.4 659.7z" fill="#f9f75a"/>
<path d="M204.7 662.7L212.1 661.4L206.6 657L199.2 658.4z" fill="#f9f859"/>
<path d="M211.5 661.7L218.9 660.6L213.4 656.1L206 657.3z" fill="#faf958"/>
<path d="M218.3 660.9L225.7 660L220.2 655.3L212.8 656.4z" fill="#faf957"/>
<path d="M225.1 660.3L232.5 659.5L227 654.7L219.6 655.6z" fill="#faf956"/>
<path d="M231.9 659.8L239.3 659.3L233.8 654.3L226.5 655z" fill="#faf955"/>
<path d="M238.7 659.5L246.1 659.1L240.6 654.1L233.3 654.6z" fill="#faf955"/>
<path d="M245.5 659.4L252.9 659.2L247.4 654L240.1 654.3z" fill="#f9f955"/>
<path d="M252.3 659.4L259.7 659.4L254.3 654.1L246.9 654.2z" fill="#f9f854"/>
<path d="M259.1 659.6L266.5 659.7L261.1 654.4L253.7 654.3z" fill="#f9f754"/>
<path d="M265.9 660L273.3 660.3L267.9 654.8L260.5 654.6z" fill="#f9f654"/>
<path d="M272.7 660.5L280.1 661L274.7 655.4L267.3 655z" fill="#f8f555"/>
<path d="M279.5 661.2L286.9 661.9L281.5 656.2L274.1 655.6z" fill="#f8f355"/>
<path d="M286.3 662.1L293.7 662.9L288.3 657.1L280.9 656.4z" fill="#f8f155"/>
<path d="M293.1 663.1L300.5 664.1L295.1 658.2L287.7 657.3z" fill="#f7ef55"/>
<path d="M299.9 664.3L307.3 665.5L301.9 659.5L294.5 658.4z" fill="#f7ed55"/>
<path d="M306.7 665.7L314.1 667L308.7 661L301.4 659.7z" fill="#f7ea55"/>
<path d="M313.5 667.2L320.9 668.7L315.5 662.6L308.2 661.2z" fill="#f8e756"/>
<path d="M320.3 668.9L327.7 670.6L322.4 664.4L315 662.8z" fill="#f8e456"/>
<path d="M327.1 670.8L334.5 672.6L329.2 666.4L321.8 664.6z" fill="#fae056"/>
<path d="M333.9 672.8L341.3 674.8L336 668.6L328.6 666.6z" fill="#fbdd56"/>
<path d="M340.7 675L348.1 677.2L342.8 670.9L335.4 668.7z" fill="#fdd857"/>
<path d="M347.5 677.3L354.9 679.7L349.6 673.4L342.2 671z" fill="#fed458"/>
<path d="M354.3 679.9L361.7 682.4L356.4 676L349 673.5z" fill="#fecf59"/>
<path d="M361.1 682.6L368.5 685.3L363.2 678.8L355.8 676.2z" fill="#fecb5b"/>
<path d="M367.9 685.4L375.3 688.3L370 681.8L362.6 679z" fill="#fcc75c"/>
<path d="M374.7 688.4L382.1 691.5L376.9 685L369.5 682z" fill="#f6c458"/>
<path d="M381.5 691.6L388.9 694.9L383.7 688.3L376.3 685.1z" fill="#eec550"/>
<path d="M388.3 695L395.7 698.4L390.5 691.8L383.1 688.4z" fill="#e5c64b"/>
<path d="M395.1 698.5L402.5 702.1L397.3 695.5L389.9 691.9z" fill="#dbc848"/>
<path d="M401.9 702.2L409.3 705.9L404.1 699.3L396.7 695.5z" fill="#d0cb4a"/>
<path d="M408.7 706L416.1 709.9L410.9 703.2L403.5 699.3z" fill="#c3cd50"/>
<path d="M415.5 710L423 714.1L417.7 707.3L410.3 703.3z" fill="#b4d059"/>
<path d="M422.3 714.1L429.8 718.4L424.6 711.6L417.1 707.4z" fill="#a5d264"/>
<path d="M429.1 718.4L436.6 722.9L431.4 716L423.9 711.6z" fill="#94d371"/>
<path d="M435.9 722.9L443.4 727.5L438.2 720.6L430.7 716z" fill="#83d47e"/>
<path d="M442.7 727.5L450.2 732.3L445 725.3L437.5 720.6z" fill="#73d48b"/>
<path d="M449.5 732.3L457 737.2L451.8 730.2L444.4 725.3z" fill="#64d398"/>
<path d="M456.3 737.2L463.8 742.3L458.6 735.2L451.2 730.2z" fill="#57d1a4"/>
<path d="M463.1 742.3L470.6 747.6L465.5 740.5L458 735.2z" fill="#4dcdae"/>
<path d="M469.9 747.5L477.4 753L472.3 745.9L464.8 740.4z" fill="#42cab8"/>
<path d="M476.7 753L484.2 758.7L479.1 751.5L471.6 745.8z" fill="#30c6c2"/>
<path d="M483.5 758.6L491 764.5L485.9 757.3L478.4 751.4z" fill="#1fc2cb"/>
<path d="M490.3 764.3L497.8 770.5L492.7 763.3L485.2 757.1z" fill="#21bdd5"/>
<path d="M497.1 770.3L504.6 776.6L499.6 769.5L492 763.1z" fill="#2cb6dd"/>
<path d="M503.8 776.4L511.4 783L506.4 776L498.8 769.3z" fill="#31aee4"/>
<path d="M510.6 782.7L518.2 789.5L513.2 782.7L505.6 775.7z" fill="#33a5e8"/>
<path d="M517.5 789.1L525 796.3L520 789.6L512.4 782.3z" fill="#339aed"/>
<path d="M524.3 795.8L531.8 803.2L526.8 796.7L519.3 789.2z" fill="#348ef5" stroke="#348ef5" stroke-width="1.1"/>
<path d="M531.1 802.7L538.6 810.3L533.6 804L526.1 796.2z" fill="#3280fb" stroke="#3280fb" stroke-width="1.1"/>
<path d="M537.9 809.7L545.4 817.6L540.3 811.5L532.9 803.4z" fill="#3b72fe" stroke="#3b72fe" stroke-width="1.1"/>
<path d="M544.8 817L552.2 825.1L547.1 819.1L539.7 810.9z" fill="#4466fd" stroke="#4466fd" stroke-width="1.1"/>
<path d="M551.6 824.4L559 832.7L553.9 827L546.5 818.5z" fill="#4759f8" stroke="#4759f8" stroke-width="1.1"/>
<path d="M558.5 832L565.8 840.5L560.7 834.9L553.3 826.3z" fill="#484df0" stroke="#484df0" stroke-width="1.1"/>
<path d="M565.3 839.8L572.6 848.5L567.4 843.1L560.1 834.2z" fill="#4740e4" stroke="#4740e4" stroke-width="1.1"/>
<path d="M141.8 683.8L149.2 680.9L143.7 678.1L136.3 681.2z" fill="#f8ea61"/>
<path d="M148.6 681.3L156 678.6L150.5 675.6L143.1 678.5z" fill="#f8ed60"/>
<path d="M155.4 679L162.8 676.5L157.3 673.3L149.9 676z" fill="#f8ef5f"/>
<path d="M162.2 676.9L169.6 674.5L164.1 671.2L156.7 673.7z" fill="#f8f15e"/>
<path d="M169 674.9L176.4 672.7L170.9 669.2L163.5 671.6z" fill="#f8f35d"/>
<path d="M175.8 673.1L183.2 671.1L177.7 667.4L170.3 669.6z" fill="#f8f55b"/>
<path d="M182.6 671.5L190 669.6L184.5 665.8L177.1 667.8z" fill="#f9f65a"/>
<path d="M189.4 670L196.8 668.3L191.3 664.3L183.9 666.1z" fill="#f9f859"/>
<path d="M196.2 668.6L203.6 667.1L198.1 663L190.8 664.6z" fill="#faf957"/>
<path d="M203 667.5L210.4 666.2L205 661.9L197.6 663.3z" fill="#faf956"/>
<path d="M209.8 666.5L217.2 665.3L211.8 660.9L204.4 662.2z" fill="#fafa55"/>
<path d="M216.6 665.6L224 664.7L218.6 660.1L211.2 661.2z" fill="#fafb54"/>
<path d="M223.4 665L230.8 664.2L225.4 659.5L218 660.4z" fill="#fafb53"/>
<path d="M230.2 664.5L237.6 663.8L232.2 659L224.8 659.7z" fill="#fafb53"/>
<path d="M237 664.1L244.4 663.6L239 658.7L231.6 659.3z" fill="#fafb52"/>
<path d="M243.8 663.9L251.2 663.6L245.8 658.6L238.4 659z" fill="#fafb52"/>
<path d="M250.6 663.9L258 663.8L252.6 658.6L245.2 658.8z" fill="#fafa52"/>
<path d="M257.4 664L264.8 664.1L259.4 658.8L252 658.8z" fill="#faf952"/>
<path d="M264.3 664.3L271.6 664.5L266.2 659.1L258.8 659z" fill="#f9f852"/>
<path d="M271.1 664.8L278.4 665.2L273 659.7L265.7 659.4z" fill="#f9f752"/>
<path d="M277.9 665.4L285.2 666L279.8 660.4L272.5 659.9z" fill="#f9f653"/>
<path d="M284.7 666.2L292 666.9L286.7 661.2L279.3 660.6z" fill="#f8f453"/>
<path d="M291.5 667.2L298.8 668.1L293.5 662.3L286.1 661.5z" fill="#f8f254"/>
<path d="M298.3 668.3L305.6 669.3L300.3 663.5L292.9 662.5z" fill="#f7f054"/>
<path d="M305.1 669.5L312.5 670.8L307.1 664.8L299.7 663.7z" fill="#f7ed54"/>
<path d="M311.9 671L319.3 672.4L313.9 666.4L306.5 665z" fill="#f7eb54"/>
<path d="M318.7 672.6L326.1 674.2L320.7 668.1L313.3 666.6z" fill="#f7e855"/>
<path d="M325.5 674.3L332.9 676.1L327.5 669.9L320.1 668.3z" fill="#f8e455"/>
<path d="M332.3 676.3L339.7 678.2L334.3 672L326.9 670.1z" fill="#f9e155"/>
<path d="M339.1 678.4L346.5 680.4L341.1 674.2L333.8 672.1z" fill="#fbdd56"/>
<path d="M345.9 680.6L353.3 682.9L347.9 676.5L340.6 674.3z" fill="#fdd856"/>
<path d="M352.7 683L360.1 685.5L354.8 679.1L347.4 676.7z" fill="#fed457"/>
<path d="M359.5 685.6L366.9 688.2L361.6 681.8L354.2 679.2z" fill="#fecf59"/>
<path d="M366.3 688.3L373.7 691.1L368.4 684.6L361 681.9z" fill="#feca5b"/>
<path d="M373.1 691.2L380.5 694.2L375.2 687.7L367.8 684.8z" fill="#fcc65b"/>
<path d="M379.9 694.3L387.3 697.4L382 690.9L374.6 687.8z" fill="#f6c457"/>
<path d="M386.7 697.5L394.1 700.8L388.8 694.2L381.4 691z" fill="#eec550"/>
<path d="M393.5 700.9L400.9 704.4L395.6 697.8L388.2 694.3z" fill="#e5c64a"/>
<path d="M400.3 704.4L407.7 708.1L402.5 701.4L395 697.8z" fill="#dac848"/>
<path d="M407.1 708.2L414.5 712L409.3 705.3L401.8 701.5z" fill="#cfcb4a"/>
<path d="M413.9 712L421.3 716L416.1 709.3L408.7 705.4z" fill="#c2cd51"/>
<path d="M420.7 716.1L428.1 720.2L422.9 713.4L415.5 709.3z" fill="#b3d05a"/>
<path d="M427.5 720.3L434.9 724.6L429.7 717.8L422.3 713.5z" fill="#a3d266"/>
<path d="M434.3 724.6L441.7 729.1L436.5 722.2L429.1 717.8z" fill="#93d472"/>
<path d="M441.1 729.1L448.5 733.8L443.3 726.9L435.9 722.3z" fill="#81d47f"/>
<path d="M447.9 733.8L455.3 738.7L450.2 731.7L442.7 726.9z" fill="#71d48d"/>
<path d="M454.7 738.7L462.1 743.7L457 736.6L449.5 731.7z" fill="#62d39a"/>
<path d="M461.4 743.7L468.9 748.9L463.8 741.7L456.3 736.6z" fill="#55d0a5"/>
<path d="M468.2 748.8L475.7 754.2L470.6 747L463.1 741.7z" fill="#4ccdb0"/>
<path d="M475 754.2L482.5 759.7L477.4 752.5L469.9 747z" fill="#41caba"/>
<path d="M481.8 759.7L489.3 765.4L484.2 758.1L476.7 752.4z" fill="#2ec6c3"/>
<path d="M488.6 765.3L496.1 771.2L491.1 763.9L483.6 758z" fill="#20c2cd"/>
<path d="M495.4 771.1L502.9 777.2L497.9 769.9L490.4 763.8z" fill="#25bdd6"/>
<path d="M502.2 777.1L509.7 783.4L504.7 776.1L497.2 769.8z" fill="#30b6df"/>
<path d="M509 783.2L516.6 789.7L511.5 782.6L504 776z" fill="#34aee5"/>
<path d="M515.8 789.4L523.4 796.2L518.3 789.2L510.8 782.3z" fill="#36a5e9"/>
<path d="M522.6 795.9L530.2 802.9L525.2 796L517.6 788.9z" fill="#379aee"/>
<path d="M529.4 802.4L537 809.7L531.9 803L524.4 795.6z" fill="#378ff5"/>
<path d="M536.2 809.2L543.8 816.6L538.7 810.2L531.2 802.5z" fill="#3682fb" stroke="#3682fb" stroke-width="1.1"/>
<path d="M543.1 816.1L550.6 823.8L545.5 817.5L538 809.7z" fill="#3d72ff" stroke="#3d72ff" stroke-width="1.1"/>
<path d="M549.9 823.2L557.4 831.1L552.3 825L544.8 816.9z" fill="#4465fd" stroke="#4465fd" stroke-width="1.1"/>
<path d="M556.8 830.4L564.2 838.5L559 832.7L551.6 824.4z" fill="#4759f8" stroke="#4759f8" stroke-width="1.1"/>
<path d="M563.6 837.8L571 846.1L565.8 840.5L558.4 832z" fill="#484df0" stroke="#484df0" stroke-width="1.1"/>
<path d="M570.4 845.4L577.8 853.9L572.6 848.5L565.2 839.8z" fill="#4740e4" stroke="#4740e4" stroke-width="1.1"/>
</g>
<g fill="none">
<path d="M141.9 898.8L577.5 871.6" stroke="#262626" stroke-width="1.05"/>
<path d="M141.9 898.8L38.8 784.3" stroke="#262626" stroke-width="1.05"/>
<path d="M38.8 784.3L38.8 527.3" stroke="#262626" stroke-width="1.1"/>
<path d="M141.9 898.8L149.5 907.2" stroke="#262626" stroke-width="1.05"/>
<path d="M285.1 889.9L292.6 898.3" stroke="#262626" stroke-width="1.05"/>
<path d="M428.2 880.9L435.8 889.3" stroke="#262626" stroke-width="1.05"/>
<path d="M571.4 872L578.9 880.4" stroke="#262626" stroke-width="1.05"/>
<path d="M141.9 898.8L130.6 899.5" stroke="#262626" stroke-width="1.05"/>
<path d="M105.7 858.6L94.4 859.3" stroke="#262626" stroke-width="1.05"/>
<path d="M69.5 818.4L58.3 819.2" stroke="#262626" stroke-width="1.05"/>
<path d="M38.8 784.3L31.2 775.9" stroke="#262626" stroke-width="1.05"/>
<path d="M38.8 732.9L31.2 724.5" stroke="#262626" stroke-width="1.05"/>
<path d="M38.8 681.5L31.2 673.1" stroke="#262626" stroke-width="1.05"/>
<path d="M38.8 630.1L31.2 621.7" stroke="#262626" stroke-width="1.05"/>
<path d="M38.8 578.7L31.2 570.3" stroke="#262626" stroke-width="1.05"/>
</g>
<g fill="none">
<path d="M797 487.5V898.6" stroke="#e8e8e8" stroke-width="0.9"/>
<path d="M919.6 487.5V898.6" stroke="#e8e8e8" stroke-width="0.9"/>
<path d="M1042.1 487.5V898.6" stroke="#e8e8e8" stroke-width="0.9"/>
<path d="M674.5 858H1164.6" stroke="#e8e8e8" stroke-width="0.9"/>
<path d="M674.5 775.6H1164.6" stroke="#e8e8e8" stroke-width="0.9"/>
<path d="M674.5 693.1H1164.6" stroke="#e8e8e8" stroke-width="0.9"/>
<path d="M674.5 610.7H1164.6" stroke="#e8e8e8" stroke-width="0.9"/>
<path d="M674.5 528.3H1164.6" stroke="#e8e8e8" stroke-width="0.9"/>
<rect x="674.5" y="487.5" width="490.1" height="411.1" stroke="#555555" stroke-width="0.9"/>
<path d="M674.5 898.6v-5.2 M674.5 487.5v5.2" stroke="#555555" stroke-width="0.9"/>
<path d="M797 898.6v-5.2 M797 487.5v5.2" stroke="#555555" stroke-width="0.9"/>
<path d="M919.6 898.6v-5.2 M919.6 487.5v5.2" stroke="#555555" stroke-width="0.9"/>
<path d="M1042.1 898.6v-5.2 M1042.1 487.5v5.2" stroke="#555555" stroke-width="0.9"/>
<path d="M1164.6 898.6v-5.2 M1164.6 487.5v5.2" stroke="#555555" stroke-width="0.9"/>
<path d="M674.5 858h5.2 M1164.6 858h-5.2" stroke="#555555" stroke-width="0.9"/>
<path d="M674.5 775.6h5.2 M1164.6 775.6h-5.2" stroke="#555555" stroke-width="0.9"/>
<path d="M674.5 693.1h5.2 M1164.6 693.1h-5.2" stroke="#555555" stroke-width="0.9"/>
<path d="M674.5 610.7h5.2 M1164.6 610.7h-5.2" stroke="#555555" stroke-width="0.9"/>
<path d="M674.5 528.3h5.2 M1164.6 528.3h-5.2" stroke="#555555" stroke-width="0.9"/>
</g>
<rect x="815.6" y="490.8" width="345" height="101" fill="#fff" stroke="#4d4d4d" stroke-width="0.9"/>
<circle cx="674.5" cy="547.5" r="6.3" stroke="#0a8a0a" stroke-width="1.9" fill="none"/>
<circle cx="797" cy="583.8" r="6.3" stroke="#0a8a0a" stroke-width="1.9" fill="none"/>
<circle cx="919.6" cy="619.2" r="6.3" stroke="#0a8a0a" stroke-width="1.9" fill="none"/>
<circle cx="1042.1" cy="648.9" r="6.3" stroke="#0a8a0a" stroke-width="1.9" fill="none"/>
<circle cx="1164.6" cy="676.8" r="6.3" stroke="#0a8a0a" stroke-width="1.9" fill="none"/>
<path d="M674.5 690.5L680.9 701.6L668.1 701.6z" stroke="#0000ff" stroke-width="1.8" fill="none" stroke-linejoin="miter"/>
<path d="M797 728L803.4 739.1L790.6 739.1z" stroke="#0000ff" stroke-width="1.8" fill="none" stroke-linejoin="miter"/>
<path d="M919.6 758.3L926 769.4L913.1 769.4z" stroke="#0000ff" stroke-width="1.8" fill="none" stroke-linejoin="miter"/>
<path d="M1042.1 785.1L1048.5 796.2L1035.7 796.2z" stroke="#0000ff" stroke-width="1.8" fill="none" stroke-linejoin="miter"/>
<path d="M1164.6 808.6L1171 819.7L1158.2 819.7z" stroke="#0000ff" stroke-width="1.8" fill="none" stroke-linejoin="miter"/>
<rect x="668.3" y="744.1" width="12.4" height="12.4" stroke="#ff0000" stroke-width="1.7" fill="none"/>
<rect x="790.8" y="779.7" width="12.4" height="12.4" stroke="#ff0000" stroke-width="1.7" fill="none"/>
<rect x="913.4" y="809.8" width="12.4" height="12.4" stroke="#ff0000" stroke-width="1.7" fill="none"/>
<rect x="1035.9" y="834.8" width="12.4" height="12.4" stroke="#ff0000" stroke-width="1.7" fill="none"/>
<rect x="1158.4" y="855.8" width="12.4" height="12.4" stroke="#ff0000" stroke-width="1.7" fill="none"/>
<path d="M666.3 547.5h16.4 M674.5 539.3v16.4" stroke="#000" stroke-width="1.9" fill="none"/>
<path d="M788.8 583.8h16.4 M797 575.6v16.4" stroke="#000" stroke-width="1.9" fill="none"/>
<path d="M911.4 617.4h16.4 M919.6 609.2v16.4" stroke="#000" stroke-width="1.9" fill="none"/>
<path d="M1033.9 648.4h16.4 M1042.1 640.2v16.4" stroke="#000" stroke-width="1.9" fill="none"/>
<path d="M1156.4 676.8h16.4 M1164.6 668.6v16.4" stroke="#000" stroke-width="1.9" fill="none"/>
<path d="M666.3 701h16.4 M674.5 692.8v16.4" stroke="#000" stroke-width="1.9" fill="none"/>
<path d="M788.8 736.4h16.4 M797 728.2v16.4" stroke="#000" stroke-width="1.9" fill="none"/>
<path d="M911.4 768.2h16.4 M919.6 760v16.4" stroke="#000" stroke-width="1.9" fill="none"/>
<path d="M1033.9 796.3h16.4 M1042.1 788.1v16.4" stroke="#000" stroke-width="1.9" fill="none"/>
<path d="M1156.4 818.2h16.4 M1164.6 810v16.4" stroke="#000" stroke-width="1.9" fill="none"/>
<path d="M666.3 746.6h16.4 M674.5 738.4v16.4" stroke="#000" stroke-width="1.9" fill="none"/>
<path d="M788.8 782.2h16.4 M797 774v16.4" stroke="#000" stroke-width="1.9" fill="none"/>
<path d="M911.4 812.5h16.4 M919.6 804.3v16.4" stroke="#000" stroke-width="1.9" fill="none"/>
<path d="M1033.9 838.2h16.4 M1042.1 830v16.4" stroke="#000" stroke-width="1.9" fill="none"/>
<path d="M1156.4 859.6h16.4 M1164.6 851.4v16.4" stroke="#000" stroke-width="1.9" fill="none"/>
<circle cx="865.5" cy="504.5" r="5.6" stroke="#0a8a0a" stroke-width="1.9" fill="none"/>
<path d="M865.5 522L871.8 532.9L859.2 532.9z" stroke="#0000ff" stroke-width="1.8" fill="none" stroke-linejoin="miter"/>
<rect x="860.9" y="549.3" width="9.4" height="9.4" stroke="#ff0000" stroke-width="1.6" fill="none"/>
<path d="M859.6 577.9h12 M865.6 571.9v12" stroke="#000" stroke-width="1.9" fill="none"/>
<g stroke="#000" stroke-width="0.3">
<text x="16.4" y="278.9" font-size="21.5" text-anchor="end">0</text>
<text x="16.4" y="205.6" font-size="21.5" text-anchor="end">2</text>
<text x="16.4" y="132.3" font-size="21.5" text-anchor="end">4</text>
<text x="16.4" y="59" font-size="21.5" text-anchor="end">6</text>
<text x="117.2" y="419.5" font-size="21.5" text-anchor="end">0</text>
<text x="79.8" y="379.1" font-size="21.5" text-anchor="end">0.05</text>
<text x="42.4" y="338.8" font-size="21.5" text-anchor="end">0.1</text>
<text x="149.5" y="430.9" font-size="21.5" text-anchor="middle">0</text>
<text x="297.3" y="421.9" font-size="21.5" text-anchor="middle">1</text>
<text x="445.1" y="412.8" font-size="21.5" text-anchor="middle">2</text>
<text x="592.9" y="403.8" font-size="21.5" text-anchor="middle">3</text>
<text x="5" y="27.2" font-size="22.5" font-style="italic">σ</text>
<text x="5.2" y="308.5" font-size="25.5" font-style="italic">t</text>
<text x="517.6" y="408.8" font-size="23" font-style="italic">x</text>
<path d="M519.1 423.2l10.4 10.4M519.1 433.6l10.4 -10.4" stroke="#000" stroke-width="1.25" fill="none"/>
<text x="532.3" y="435" font-size="21.5">10</text>
<text x="553.3" y="426.7" font-size="14.7">5</text>
<text x="301.3" y="474" font-size="35.5" text-anchor="middle">(a)</text>
<text x="654" y="284.4" font-size="21.5" text-anchor="end">-4</text>
<text x="654" y="243.7" font-size="21.5" text-anchor="end">-2</text>
<text x="654" y="202.9" font-size="21.5" text-anchor="end">0</text>
<text x="654" y="162.2" font-size="21.5" text-anchor="end">2</text>
<text x="654" y="121.4" font-size="21.5" text-anchor="end">4</text>
<text x="654" y="80.7" font-size="21.5" text-anchor="end">6</text>
<text x="747" y="420.1" font-size="21.5" text-anchor="end">0</text>
<text x="712" y="381.5" font-size="21.5" text-anchor="end">0.05</text>
<text x="677" y="342.9" font-size="21.5" text-anchor="end">0.1</text>
<text x="779.3" y="431.1" font-size="21.5" text-anchor="middle">0</text>
<text x="918" y="422.5" font-size="21.5" text-anchor="middle">1</text>
<text x="1056.6" y="413.9" font-size="21.5" text-anchor="middle">2</text>
<text x="1195.3" y="405.3" font-size="21.5" text-anchor="middle">3</text>
<path d="M608.1 6.9l10.2 10.2M608.1 17.1l10.2 -10.2" stroke="#000" stroke-width="1.25" fill="none"/>
<text x="621.1" y="17.7" font-size="21.5">10</text>
<path d="M643.3 6.3h9.4" stroke="#000" stroke-width="1.1" fill="none"/>
<text x="653.4" y="10.7" font-size="14.7">5</text>
<text x="632.1" y="39.5" font-size="20.5" font-style="italic" textLength="22.1" lengthAdjust="spacingAndGlyphs">∂σ</text>
<path d="M631.3 42.7h23.6" stroke="#000" stroke-width="1.2"/>
<text x="632.5" y="59.9" font-size="20.5" font-style="italic" textLength="21.2" lengthAdjust="spacingAndGlyphs">∂x</text>
<text x="642.9" y="314.6" font-size="25.5" font-style="italic">t</text>
<text x="1124.4" y="410.9" font-size="23" font-style="italic">x</text>
<path d="M1128.7 424.9l10.4 10.4M1128.7 435.3l10.4 -10.4" stroke="#000" stroke-width="1.25" fill="none"/>
<text x="1141.9" y="436.7" font-size="21.5">10</text>
<text x="1162.9" y="428.4" font-size="14.7">5</text>
<text x="903.7" y="474.4" font-size="35.5" text-anchor="middle">(b)</text>
<text x="28.9" y="777.8" font-size="21.5" text-anchor="end">-20</text>
<text x="28.9" y="726.4" font-size="21.5" text-anchor="end">-15</text>
<text x="28.9" y="675" font-size="21.5" text-anchor="end">-10</text>
<text x="28.9" y="623.6" font-size="21.5" text-anchor="end">-5</text>
<text x="28.9" y="572.2" font-size="21.5" text-anchor="end">0</text>
<text x="125.6" y="918.1" font-size="21.5" text-anchor="end">0</text>
<text x="89.4" y="877.9" font-size="21.5" text-anchor="end">0.05</text>
<text x="53.2" y="837.7" font-size="21.5" text-anchor="end">0.1</text>
<text x="157.7" y="929.3" font-size="21.5" text-anchor="middle">0</text>
<text x="300.9" y="920.4" font-size="21.5" text-anchor="middle">1</text>
<text x="444" y="911.4" font-size="21.5" text-anchor="middle">2</text>
<text x="587.1" y="902.5" font-size="21.5" text-anchor="middle">3</text>
<text x="6.2" y="527.8" font-size="20.5" font-style="italic" textLength="22.3" lengthAdjust="spacingAndGlyphs">∂σ</text>
<path d="M5.5 531h23.6" stroke="#000" stroke-width="1.2"/>
<text x="8.5" y="548.2" font-size="20.5" font-style="italic" textLength="17.6" lengthAdjust="spacingAndGlyphs">∂t</text>
<text x="17.8" y="807.2" font-size="25.5" font-style="italic">t</text>
<text x="514.4" y="907.6" font-size="23" font-style="italic">x</text>
<path d="M517.1 921.2l10.4 10.4M517.1 931.6l10.4 -10.4" stroke="#000" stroke-width="1.25" fill="none"/>
<text x="530.3" y="933" font-size="21.5">10</text>
<text x="551.3" y="924.7" font-size="14.7">5</text>
<text x="296" y="972" font-size="35.5" text-anchor="middle">(c)</text>
<text x="874" y="509.4" font-size="17.5" textLength="187.7" lengthAdjust="spacingAndGlyphs">BTC call option price at</text>
<text x="1069" y="509.4" font-size="18.5" font-style="italic">t</text>
<text x="1079.6" y="509.4" font-size="18" textLength="13.4" lengthAdjust="spacingAndGlyphs">=</text>
<text x="1098.4" y="509.4" font-size="18.5" font-style="italic">T</text>
<text x="1108.6" y="513" font-size="13">3</text>
<text x="874" y="533.6" font-size="17.5" textLength="187.7" lengthAdjust="spacingAndGlyphs">BTC call option price at</text>
<text x="1069" y="533.6" font-size="18.5" font-style="italic">t</text>
<text x="1079.6" y="533.6" font-size="18" textLength="13.4" lengthAdjust="spacingAndGlyphs">=</text>
<text x="1098.4" y="533.6" font-size="18.5" font-style="italic">T</text>
<text x="1108.6" y="537.2" font-size="13">2</text>
<text x="874" y="558.4" font-size="17.5" textLength="187.7" lengthAdjust="spacingAndGlyphs">BTC call option price at</text>
<text x="1069" y="558.4" font-size="18.5" font-style="italic">t</text>
<text x="1079.6" y="558.4" font-size="18" textLength="13.4" lengthAdjust="spacingAndGlyphs">=</text>
<text x="1098.4" y="558.4" font-size="18.5" font-style="italic">T</text>
<text x="1108.6" y="562" font-size="13">1</text>
<text x="874" y="583.4" font-size="17.5" textLength="121" lengthAdjust="spacingAndGlyphs">Numerical price</text>
<text x="673.8" y="921.2" font-size="20" text-anchor="middle">1.02</text>
<text x="796.3" y="921.2" font-size="20" text-anchor="middle">1.04</text>
<text x="918.9" y="921.2" font-size="20" text-anchor="middle">1.06</text>
<text x="1041.4" y="921.2" font-size="20" text-anchor="middle">1.08</text>
<text x="1163.9" y="921.2" font-size="20" text-anchor="middle">1.1</text>
<text x="670" y="863.3" font-size="20" text-anchor="end">2000</text>
<text x="670" y="780.9" font-size="20" text-anchor="end">4000</text>
<text x="670" y="698.4" font-size="20" text-anchor="end">6000</text>
<text x="670" y="616" font-size="20" text-anchor="end">8000</text>
<text x="670" y="533.6" font-size="20" text-anchor="end">10000</text>
<text x="624.4" y="502.8" font-size="21.5">Price</text>
<text x="1095.2" y="921.6" font-size="20.5" font-style="italic">K</text>
<path d="M1124.1 934.2l9.8 9.8M1124.1 944l9.8 -9.8" stroke="#000" stroke-width="1.25" fill="none"/>
<text x="1136.5" y="945.3" font-size="20.21">10</text>
<text x="1156.2" y="937.5" font-size="13.82">5</text>
<text x="898.5" y="985.5" font-size="35.5" text-anchor="middle">(d)</text>
</g>
</svg>
</body></html>
